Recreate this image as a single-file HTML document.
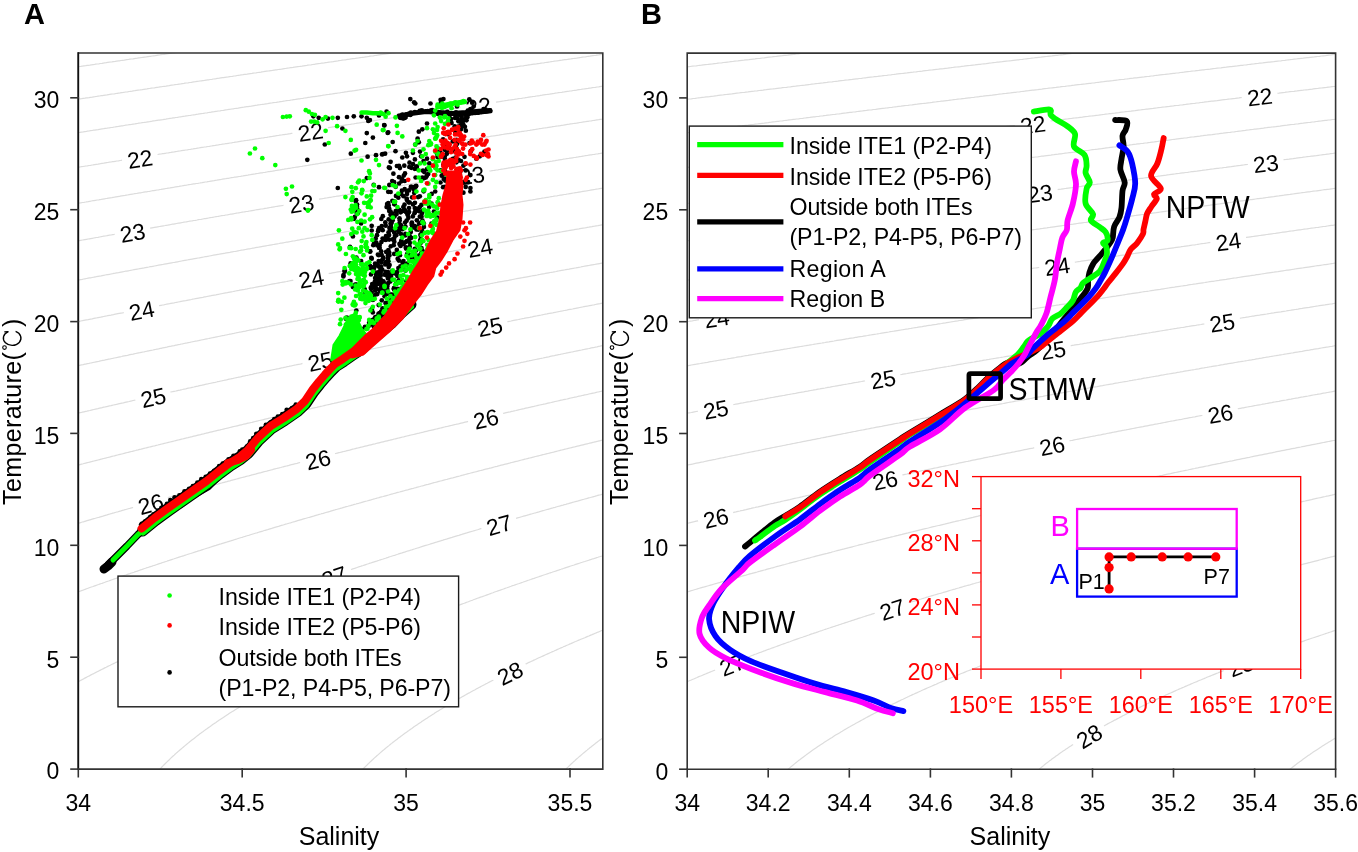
<!DOCTYPE html><html><head><meta charset="utf-8"><style>html,body{margin:0;padding:0;background:#fff}svg{display:block;will-change:transform}text{font-family:"Liberation Sans", sans-serif}</style></head><body>
<svg width="1358" height="852" viewBox="0 0 1358 852">
<rect width="1358" height="852" fill="#fff"/>
<clipPath id="clipA"><rect x="78.3" y="53.0" width="524.5" height="716.1"/></clipPath>
<clipPath id="clipB"><rect x="687.2" y="53.1" width="648.4" height="716.1"/></clipPath>
<g clip-path="url(#clipA)">
<g fill="none" stroke="#dcdcdc" stroke-width="1.2">
<path d="M110.7,30.7 L109.4,30.8 L107.8,31.1 L106.2,31.3 L104.5,31.5 L102.9,31.8 L102.1,31.9 L100.4,32.1 L98.8,32.3 L97.1,32.6 L95.5,32.8 L94.7,32.9 L93.1,33.2 L91.4,33.4 L89.8,33.6 L88.1,33.8 L86.9,34.0 L85.7,34.2 L84.0,34.4 L82.4,34.7 L80.8,34.9 L79.1,35.1 L78.3,35.2 L76.7,35.5 L75.0,35.7 L73.4,35.9 L71.7,36.2 L70.9,36.3 L69.3,36.5 L67.6,36.7 L66.0,37.0 L64.4,37.2 L63.2,37.4 L61.9,37.6 L60.3,37.8 L58.6,38.0 L57.0,38.3 L55.4,38.5 L54.5,38.6 L52.9,38.8 L51.3,39.1 L49.6,39.3 L48.0,39.5 L47.2,39.7 L45.5,39.9"/>
<path d="M330.4,30.7 L329.1,30.8 L327.4,31.1 L325.8,31.3 L324.2,31.5 L322.5,31.8 L321.7,31.9 L320.1,32.1 L318.4,32.3 L316.8,32.6 L315.1,32.8 L314.3,32.9 L312.7,33.1 L311.0,33.4 L309.4,33.6 L307.8,33.8 L306.5,34.0 L305.3,34.2 L303.7,34.4 L302.0,34.7 L300.4,34.9 L298.7,35.1 L297.9,35.2 L296.3,35.5 L294.6,35.7 L293.0,35.9 L291.4,36.2 L290.6,36.3 L288.9,36.5 L287.3,36.7 L285.6,37.0 L284.0,37.2 L282.8,37.4 L281.5,37.5 L279.9,37.8 L278.3,38.0 L276.6,38.2 L275.0,38.5 L274.2,38.6 L272.5,38.8 L270.9,39.1 L269.2,39.3 L267.6,39.5 L266.8,39.6 L265.1,39.9 L263.5,40.1 L261.9,40.3 L260.2,40.6 L259.1,40.7 L257.8,40.9 L256.1,41.2 L254.5,41.4 L252.9,41.6 L251.2,41.8 L250.4,42.0 L248.8,42.2 L247.1,42.4 L245.5,42.7 L243.8,42.9 L243.0,43.0 L241.4,43.2 L239.7,43.5 L238.1,43.7 L236.5,43.9 L235.5,44.1 L234.0,44.3 L232.4,44.5 L230.7,44.8 L229.1,45.0 L227.7,45.2 L226.6,45.4 L225.0,45.6 L223.4,45.8 L221.7,46.1 L220.1,46.3 L219.3,46.4 L217.6,46.6 L216.0,46.9 L214.3,47.1 L212.7,47.3 L211.9,47.5 L210.2,47.7 L208.6,47.9 L207.0,48.2 L205.3,48.4 L204.2,48.6 L202.9,48.7 L201.2,49.0 L199.6,49.2 L197.9,49.5 L196.4,49.7 L195.5,49.8 L193.8,50.0 L192.2,50.3 L190.6,50.5 L188.9,50.7 L188.1,50.9 L186.5,51.1 L184.8,51.3 L183.2,51.6 L181.6,51.8 L180.7,51.9 L179.1,52.2 L177.5,52.4 L175.8,52.6 L174.2,52.9 L173.0,53.0 L171.7,53.2 L170.1,53.4 L168.4,53.7 L166.8,53.9 L165.2,54.2 L164.3,54.3 L162.7,54.5 L161.1,54.7 L159.4,55.0 L157.8,55.2 L157.0,55.3 L155.3,55.6 L153.7,55.8 L152.1,56.0 L150.4,56.3 L149.6,56.4 L148.0,56.6 L146.3,56.9 L144.7,57.1 L143.0,57.3 L141.9,57.5 L140.6,57.7 L138.9,57.9 L137.3,58.2 L135.7,58.4 L134.2,58.6 L133.2,58.8 L131.6,59.0 L129.9,59.2 L128.3,59.5 L126.7,59.7 L125.8,59.8 L124.2,60.1 L122.6,60.3 L120.9,60.5 L119.3,60.8 L118.5,60.9 L116.8,61.1 L115.2,61.4 L113.5,61.6 L111.9,61.9 L111.0,62.0 L109.4,62.2 L107.8,62.4 L106.2,62.7 L104.5,62.9 L103.3,63.1 L102.1,63.3 L100.4,63.5 L98.8,63.8 L97.1,64.0 L95.6,64.2 L94.7,64.4 L93.1,64.6 L91.4,64.8 L89.8,65.1 L88.1,65.3 L87.3,65.4 L85.7,65.7 L84.0,65.9 L82.4,66.1 L80.8,66.4 L79.9,66.5 L78.3,66.7 L76.7,67.0 L75.0,67.2 L73.4,67.5 L72.5,67.6 L70.9,67.8 L69.3,68.1 L67.6,68.3 L66.0,68.5 L64.8,68.7 L63.5,68.9 L61.9,69.1 L60.3,69.4 L58.6,69.6 L57.2,69.8 L56.2,70.0 L54.5,70.2 L52.9,70.4 L51.3,70.7 L49.6,70.9 L48.8,71.0 L47.2,71.3 L45.5,71.5"/>
<path d="M549.9,30.7 L548.7,30.8 L547.1,31.1 L545.4,31.3 L543.8,31.5 L542.1,31.8 L541.3,31.9 L539.7,32.1 L538.0,32.3 L536.4,32.6 L534.8,32.8 L533.9,32.9 L532.3,33.1 L530.7,33.4 L529.0,33.6 L527.4,33.8 L526.0,34.0 L524.9,34.2 L523.3,34.4 L521.6,34.6 L520.0,34.9 L518.4,35.1 L517.6,35.2 L515.9,35.4 L514.3,35.7 L512.6,35.9 L511.0,36.1 L510.2,36.3 L508.5,36.5 L506.9,36.7 L505.3,36.9 L503.6,37.2 L502.3,37.4 L501.2,37.5 L499.5,37.8 L497.9,38.0 L496.2,38.2 L494.6,38.5 L493.8,38.6 L492.1,38.8 L490.5,39.0 L488.9,39.3 L487.2,39.5 L486.4,39.6 L484.8,39.8 L483.1,40.1 L481.5,40.3 L479.9,40.5 L478.5,40.7 L477.4,40.9 L475.8,41.1 L474.1,41.4 L472.5,41.6 L470.8,41.8 L470.0,41.9 L468.4,42.2 L466.7,42.4 L465.1,42.6 L463.5,42.9 L462.6,43.0 L461.0,43.2 L459.4,43.5 L457.7,43.7 L456.1,43.9 L454.9,44.1 L453.6,44.3 L452.0,44.5 L450.4,44.7 L448.7,45.0 L447.1,45.2 L446.3,45.3 L444.6,45.6 L443.0,45.8 L441.3,46.0 L439.7,46.3 L438.9,46.4 L437.2,46.6 L435.6,46.8 L434.0,47.1 L432.3,47.3 L431.3,47.4 L429.9,47.7 L428.2,47.9 L426.6,48.1 L424.9,48.4 L423.5,48.6 L422.5,48.7 L420.9,48.9 L419.2,49.2 L417.6,49.4 L415.9,49.6 L415.1,49.8 L413.5,50.0 L411.8,50.2 L410.2,50.5 L408.6,50.7 L407.7,50.8 L406.1,51.1 L404.5,51.3 L402.8,51.5 L401.2,51.8 L400.1,51.9 L398.7,52.1 L397.1,52.3 L395.4,52.6 L393.8,52.8 L392.3,53.0 L391.3,53.2 L389.7,53.4 L388.1,53.6 L386.4,53.9 L384.8,54.1 L384.0,54.2 L382.3,54.5 L380.7,54.7 L379.1,54.9 L377.4,55.2 L376.6,55.3 L375.0,55.5 L373.3,55.8 L371.7,56.0 L370.0,56.2 L368.9,56.4 L367.6,56.6 L365.9,56.8 L364.3,57.1 L362.7,57.3 L361.1,57.5 L360.2,57.6 L358.6,57.9 L356.9,58.1 L355.3,58.4 L353.7,58.6 L352.8,58.7 L351.2,58.9 L349.6,59.2 L347.9,59.4 L346.3,59.7 L345.5,59.8 L343.8,60.0 L342.2,60.2 L340.5,60.5 L338.9,60.7 L337.9,60.9 L336.4,61.1 L334.8,61.3 L333.2,61.6 L331.5,61.8 L330.2,62.0 L329.1,62.1 L327.4,62.4 L325.8,62.6 L324.2,62.9 L322.5,63.1 L321.7,63.2 L320.1,63.5 L318.4,63.7 L316.8,63.9 L315.1,64.2 L314.3,64.3 L312.7,64.5 L311.0,64.8 L309.4,65.0 L307.8,65.2 L306.9,65.4 L305.3,65.6 L303.7,65.8 L302.0,66.1 L300.4,66.3 L299.3,66.5 L297.9,66.7 L296.3,66.9 L294.6,67.1 L293.0,67.4 L291.6,67.6 L290.6,67.7 L288.9,68.0 L287.3,68.2 L285.6,68.5 L284.0,68.7 L283.2,68.8 L281.5,69.1 L279.9,69.3 L278.3,69.5 L276.6,69.8 L275.8,69.9 L274.2,70.1 L272.5,70.4 L270.9,70.6 L269.2,70.8 L268.4,71.0 L266.8,71.2 L265.1,71.4 L263.5,71.7 L261.9,71.9 L261.0,72.1 L259.4,72.3 L257.8,72.5 L256.1,72.8 L254.5,73.0 L253.3,73.2 L252.0,73.4 L250.4,73.6 L248.8,73.8 L247.1,74.1 L245.7,74.3 L244.7,74.4 L243.0,74.7 L241.4,74.9 L239.7,75.2 L238.1,75.4 L237.3,75.5 L235.6,75.8 L234.0,76.0 L232.4,76.3 L230.7,76.5 L229.9,76.6 L228.3,76.9 L226.6,77.1 L225.0,77.3 L223.4,77.6 L222.5,77.7 L220.9,77.9 L219.3,78.2 L217.6,78.4 L216.0,78.7 L215.2,78.8 L213.5,79.0 L211.9,79.3 L210.2,79.5 L208.6,79.8 L207.7,79.9 L206.1,80.1 L204.5,80.4 L202.9,80.6 L201.2,80.8 L200.1,81.0 L198.8,81.2 L197.1,81.4 L195.5,81.7 L193.8,81.9 L192.5,82.1 L191.4,82.3 L189.8,82.5 L188.1,82.8 L186.5,83.0 L184.9,83.2 L184.0,83.4 L182.4,83.6 L180.7,83.9 L179.1,84.1 L177.5,84.4 L176.6,84.5 L175.0,84.7 L173.4,85.0 L171.7,85.2 L170.1,85.4 L169.3,85.6 L167.6,85.8 L166.0,86.1 L164.3,86.3 L162.7,86.5 L161.9,86.7 L160.2,86.9 L158.6,87.2 L157.0,87.4 L155.3,87.6 L154.5,87.8 L152.9,88.0 L151.2,88.2 L149.6,88.5 L148.0,88.7 L147.1,88.9 L145.5,89.1 L143.9,89.3 L142.2,89.6 L140.6,89.8 L139.8,90.0 L138.1,90.2 L136.5,90.4 L134.8,90.7 L133.2,90.9 L132.2,91.1 L130.7,91.3 L129.1,91.5 L127.5,91.8 L125.8,92.0 L124.8,92.2 L123.4,92.4 L121.7,92.6 L120.1,92.9 L118.5,93.1 L117.3,93.3 L116.0,93.5 L114.4,93.8 L112.7,94.0 L111.1,94.2 L109.8,94.4 L108.6,94.6 L107.0,94.9 L105.3,95.1 L103.7,95.3 L102.3,95.6 L101.2,95.7 L99.6,96.0 L98.0,96.2 L96.3,96.5 L94.9,96.7 L93.9,96.8 L92.2,97.1 L90.6,97.3 L89.0,97.6 L87.4,97.8 L86.5,97.9 L84.9,98.2 L83.2,98.4 L81.6,98.7 L80.0,98.9 L79.1,99.0 L77.5,99.3 L75.8,99.5 L74.2,99.8 L72.6,100.0 L71.7,100.2 L70.1,100.4 L68.5,100.6 L66.8,100.9 L65.2,101.1 L64.4,101.3 L62.7,101.5 L61.1,101.8 L59.5,102.0 L57.8,102.3 L57.0,102.4 L55.4,102.6 L53.7,102.9 L52.1,103.1 L50.4,103.4 L49.6,103.5 L48.0,103.7 L46.3,104.0"/>
<path d="M635.6,49.6 L634.7,49.7 L633.1,49.9 L631.5,50.2 L629.8,50.4 L628.2,50.6 L627.1,50.8 L625.7,51.0 L624.1,51.2 L622.4,51.5 L620.8,51.7 L619.3,51.9 L618.4,52.1 L616.7,52.3 L615.1,52.5 L613.4,52.8 L611.8,53.0 L611.0,53.1 L609.3,53.3 L607.7,53.6 L606.1,53.8 L604.4,54.0 L603.6,54.2 L602.0,54.4 L600.3,54.6 L598.7,54.9 L597.0,55.1 L595.9,55.3 L594.6,55.5 L592.9,55.7 L591.3,55.9 L589.7,56.2 L588.1,56.4 L587.2,56.5 L585.6,56.8 L583.9,57.0 L582.3,57.2 L580.7,57.5 L579.8,57.6 L578.2,57.8 L576.6,58.1 L574.9,58.3 L573.3,58.5 L572.5,58.6 L570.8,58.9 L569.2,59.1 L567.5,59.4 L565.9,59.6 L564.8,59.7 L563.4,59.9 L561.8,60.2 L560.2,60.4 L558.5,60.7 L557.0,60.9 L556.1,61.0 L554.4,61.2 L552.8,61.5 L551.2,61.7 L549.5,62.0 L548.7,62.1 L547.1,62.3 L545.4,62.5 L543.8,62.8 L542.1,63.0 L541.3,63.1 L539.7,63.4 L538.0,63.6 L536.4,63.9 L534.8,64.1 L533.8,64.2 L532.3,64.4 L530.7,64.7 L529.0,64.9 L527.4,65.2 L526.1,65.3 L524.9,65.5 L523.3,65.8 L521.6,66.0 L520.0,66.2 L518.4,66.5 L517.6,66.6 L515.9,66.8 L514.3,67.1 L512.6,67.3 L511.0,67.5 L510.2,67.7 L508.5,67.9 L506.9,68.1 L505.3,68.4 L503.6,68.6 L502.8,68.7 L501.2,69.0 L499.5,69.2 L497.9,69.4 L496.2,69.7 L495.3,69.8 L493.8,70.0 L492.1,70.3 L490.5,70.5 L488.9,70.8 L487.7,70.9 L486.4,71.1 L484.8,71.4 L483.1,71.6 L481.5,71.8 L480.0,72.1 L479.0,72.2 L477.4,72.4 L475.8,72.7 L474.1,72.9 L472.5,73.2 L471.7,73.3 L470.0,73.5 L468.4,73.8 L466.7,74.0 L465.1,74.2 L464.3,74.4 L462.6,74.6 L461.0,74.8 L459.4,75.1 L457.7,75.3 L456.9,75.4 L455.3,75.7 L453.6,75.9 L452.0,76.2 L450.4,76.4 L449.4,76.5 L447.9,76.8 L446.3,77.0 L444.6,77.2 L443.0,77.5 L441.8,77.7 L440.5,77.8 L438.9,78.1 L437.2,78.3 L435.6,78.6 L434.2,78.8 L433.1,78.9 L431.5,79.2 L429.9,79.4 L428.2,79.6 L426.6,79.9 L425.8,80.0 L424.1,80.2 L422.5,80.5 L420.9,80.7 L419.2,81.0 L418.4,81.1 L416.8,81.3 L415.1,81.6 L413.5,81.8 L411.8,82.1 L411.0,82.2 L409.4,82.4 L407.7,82.7 L406.1,82.9 L404.5,83.2 L403.6,83.3 L402.0,83.5 L400.4,83.8 L398.7,84.0 L397.1,84.2 L396.3,84.4 L394.6,84.6 L393.0,84.8 L391.3,85.1 L389.7,85.3 L388.7,85.5 L387.3,85.7 L385.6,85.9 L384.0,86.2 L382.3,86.4 L381.1,86.6 L379.9,86.8 L378.2,87.0 L376.6,87.3 L375.0,87.5 L373.6,87.7 L372.5,87.9 L370.9,88.1 L369.2,88.4 L367.6,88.6 L366.1,88.8 L365.1,89.0 L363.5,89.2 L361.8,89.5 L360.2,89.7 L358.6,90.0 L357.7,90.1 L356.1,90.3 L354.5,90.6 L352.8,90.8 L351.2,91.1 L350.4,91.2 L348.7,91.4 L347.1,91.7 L345.5,91.9 L343.8,92.2 L343.0,92.3 L341.4,92.5 L339.7,92.8 L338.1,93.0 L336.4,93.3 L335.6,93.4 L334.0,93.6 L332.3,93.9 L330.7,94.1 L329.1,94.4 L328.2,94.5 L326.6,94.7 L325.0,95.0 L323.3,95.2 L321.7,95.5 L320.9,95.6 L319.2,95.8 L317.6,96.1 L316.0,96.3 L314.3,96.6 L313.5,96.7 L311.9,96.9 L310.2,97.2 L308.6,97.4 L306.9,97.7 L306.1,97.8 L304.5,98.0 L302.8,98.3 L301.2,98.5 L299.6,98.8 L298.7,98.9 L297.1,99.1 L295.5,99.4 L293.8,99.6 L292.2,99.9 L291.2,100.0 L289.7,100.3 L288.1,100.5 L286.5,100.7 L284.8,101.0 L283.8,101.1 L282.4,101.4 L280.7,101.6 L279.1,101.9 L277.4,102.1 L276.4,102.3 L275.0,102.5 L273.3,102.7 L271.7,103.0 L270.1,103.2 L268.9,103.4 L267.6,103.6 L266.0,103.8 L264.3,104.1 L262.7,104.3 L261.5,104.5 L260.2,104.7 L258.6,104.9 L257.0,105.2 L255.3,105.4 L254.1,105.6 L252.9,105.8 L251.2,106.1 L249.6,106.3 L247.9,106.6 L246.8,106.7 L245.5,106.9 L243.8,107.2 L242.2,107.4 L240.6,107.7 L239.4,107.9 L238.1,108.1 L236.5,108.3 L234.8,108.5 L233.2,108.8 L232.0,109.0 L230.7,109.2 L229.1,109.4 L227.4,109.7 L225.8,109.9 L224.6,110.1 L223.4,110.3 L221.7,110.5 L220.1,110.8 L218.4,111.0 L217.3,111.2 L216.0,111.4 L214.3,111.7 L212.7,111.9 L211.1,112.2 L209.9,112.3 L208.6,112.5 L207.0,112.8 L205.3,113.0 L203.7,113.3 L202.6,113.5 L201.2,113.7 L199.6,113.9 L197.9,114.2 L196.3,114.4 L195.3,114.6 L193.8,114.8 L192.2,115.0 L190.6,115.3 L188.9,115.5 L188.0,115.7 L186.5,115.9 L184.8,116.2 L183.2,116.4 L181.6,116.7 L180.6,116.8 L179.1,117.0 L177.5,117.3 L175.8,117.5 L174.2,117.8 L173.3,117.9 L171.7,118.2 L170.1,118.4 L168.4,118.7 L166.8,118.9 L166.0,119.1 L164.3,119.3 L162.7,119.6 L161.1,119.8 L159.4,120.1 L158.6,120.2 L157.0,120.4 L155.3,120.7 L153.7,120.9 L152.1,121.2 L151.2,121.3 L149.6,121.6 L148.0,121.8 L146.3,122.1 L144.7,122.3 L143.9,122.5 L142.2,122.7 L140.6,123.0 L138.9,123.2 L137.3,123.5 L136.5,123.6 L134.8,123.9 L133.2,124.1 L131.6,124.4 L129.9,124.6 L129.1,124.7 L127.5,125.0 L125.8,125.2 L124.2,125.5 L122.6,125.8 L121.7,125.9 L120.1,126.1 L118.5,126.4 L116.8,126.6 L115.3,126.9 L114.4,127.0 L112.7,127.3 L111.1,127.5 L109.4,127.8 L108.1,128.0 L107.0,128.2 L105.3,128.4 L103.7,128.7 L102.1,128.9 L100.8,129.1 L99.6,129.3 L98.0,129.6 L96.3,129.8 L94.7,130.1 L93.6,130.2 L92.2,130.5 L90.6,130.7 L89.0,131.0 L87.3,131.2 L86.5,131.4 L84.9,131.6 L83.2,131.9 L81.6,132.1 L79.9,132.4 L79.1,132.5 L77.5,132.8 L75.8,133.0 L74.2,133.3 L72.6,133.5 L71.7,133.6 L70.1,133.9 L68.5,134.2 L66.8,134.4 L65.2,134.7 L64.4,134.8 L62.7,135.1 L61.1,135.3 L59.5,135.6 L57.8,135.8 L57.0,136.0 L55.4,136.2 L53.7,136.5 L52.1,136.7 L50.6,136.9 L49.6,137.1 L48.0,137.4 L46.3,137.6"/>
<path d="M635.6,81.3 L633.9,81.6 L632.3,81.8 L630.6,82.1 L629.8,82.2 L628.2,82.4 L626.5,82.7 L624.9,82.9 L623.3,83.1 L622.4,83.3 L620.8,83.5 L619.2,83.8 L617.5,84.0 L615.9,84.2 L615.0,84.4 L613.4,84.6 L611.8,84.8 L610.2,85.1 L608.5,85.3 L607.4,85.5 L606.1,85.7 L604.4,85.9 L602.8,86.2 L601.1,86.4 L599.9,86.6 L598.7,86.8 L597.0,87.0 L595.4,87.3 L593.8,87.5 L592.3,87.7 L591.3,87.9 L589.7,88.1 L588.0,88.4 L586.4,88.6 L584.8,88.8 L583.9,89.0 L582.3,89.2 L580.7,89.5 L579.0,89.7 L577.4,89.9 L576.6,90.1 L574.9,90.3 L573.3,90.5 L571.6,90.8 L570.0,91.0 L569.2,91.2 L567.5,91.4 L565.9,91.6 L564.3,91.9 L562.6,92.1 L561.8,92.3 L560.2,92.5 L558.5,92.7 L556.9,93.0 L555.2,93.2 L554.4,93.4 L552.8,93.6 L551.2,93.8 L549.5,94.1 L547.9,94.3 L547.1,94.5 L545.4,94.7 L543.8,94.9 L542.1,95.2 L540.5,95.4 L539.7,95.6 L538.0,95.8 L536.4,96.0 L534.8,96.3 L533.1,96.5 L532.2,96.7 L530.7,96.9 L529.0,97.1 L527.4,97.4 L525.7,97.6 L524.7,97.8 L523.3,98.0 L521.6,98.3 L520.0,98.5 L518.4,98.7 L517.3,98.9 L515.9,99.1 L514.3,99.4 L512.6,99.6 L511.0,99.8 L509.8,100.0 L508.5,100.2 L506.9,100.5 L505.3,100.7 L503.6,101.0 L502.4,101.1 L501.2,101.3 L499.5,101.6 L497.9,101.8 L496.2,102.1 L494.9,102.3 L493.8,102.4 L492.1,102.7 L490.5,102.9 L488.9,103.2 L487.5,103.4 L486.4,103.5 L484.8,103.8 L483.1,104.0 L481.5,104.3 L480.1,104.5 L479.0,104.7 L477.4,104.9 L475.8,105.2 L474.1,105.4 L472.7,105.6 L471.7,105.8 L470.0,106.0 L468.4,106.3 L466.7,106.5 L465.3,106.7 L464.3,106.9 L462.6,107.1 L461.0,107.4 L459.4,107.6 L457.9,107.9 L456.9,108.0 L455.3,108.3 L453.6,108.5 L452.0,108.7 L450.5,109.0 L449.5,109.1 L447.9,109.4 L446.3,109.6 L444.6,109.9 L443.1,110.1 L442.2,110.2 L440.5,110.5 L438.9,110.7 L437.2,111.0 L435.7,111.2 L434.8,111.4 L433.1,111.6 L431.5,111.9 L429.9,112.1 L428.4,112.3 L427.4,112.5 L425.8,112.7 L424.1,113.0 L422.5,113.2 L421.0,113.5 L420.0,113.6 L418.4,113.9 L416.8,114.1 L415.1,114.4 L413.7,114.6 L412.7,114.7 L411.0,115.0 L409.4,115.2 L407.7,115.5 L406.3,115.7 L405.3,115.9 L403.6,116.1 L402.0,116.4 L400.4,116.6 L399.0,116.8 L397.9,117.0 L396.3,117.2 L394.6,117.5 L393.0,117.7 L391.7,117.9 L390.5,118.1 L388.9,118.4 L387.3,118.6 L385.6,118.9 L384.4,119.0 L383.2,119.2 L381.5,119.5 L379.9,119.7 L378.2,120.0 L377.1,120.2 L375.8,120.4 L374.1,120.6 L372.5,120.9 L370.9,121.1 L369.8,121.3 L368.4,121.5 L366.8,121.8 L365.1,122.0 L363.5,122.3 L362.5,122.4 L361.0,122.6 L359.4,122.9 L357.7,123.1 L356.1,123.4 L355.3,123.5 L353.7,123.8 L352.0,124.0 L350.4,124.3 L348.7,124.5 L347.9,124.7 L346.3,124.9 L344.6,125.2 L343.0,125.4 L341.4,125.7 L340.5,125.8 L338.9,126.0 L337.3,126.3 L335.6,126.6 L334.0,126.8 L333.2,126.9 L331.5,127.2 L329.9,127.4 L328.2,127.7 L326.6,127.9 L325.8,128.1 L324.2,128.3 L322.5,128.6 L320.9,128.8 L319.2,129.1 L318.4,129.2 L316.8,129.5 L315.1,129.7 L313.5,130.0 L311.9,130.2 L311.0,130.4 L309.4,130.6 L307.8,130.9 L306.1,131.1 L304.6,131.4 L303.7,131.5 L302.0,131.8 L300.4,132.0 L298.7,132.3 L297.5,132.5 L296.3,132.7 L294.6,132.9 L293.0,133.2 L291.4,133.4 L290.3,133.6 L288.9,133.8 L287.3,134.1 L285.6,134.3 L284.0,134.6 L283.1,134.7 L281.5,135.0 L279.9,135.2 L278.3,135.5 L276.6,135.7 L275.8,135.8 L274.2,136.1 L272.5,136.4 L270.9,136.6 L269.2,136.9 L268.4,137.0 L266.8,137.3 L265.1,137.5 L263.5,137.8 L261.9,138.0 L261.0,138.2 L259.4,138.4 L257.8,138.7 L256.1,138.9 L254.5,139.2 L253.7,139.3 L252.0,139.6 L250.4,139.8 L248.8,140.1 L247.3,140.3 L246.3,140.5 L244.7,140.7 L243.0,141.0 L241.4,141.2 L240.2,141.4 L238.9,141.6 L237.3,141.9 L235.6,142.1 L234.0,142.4 L233.1,142.5 L231.5,142.8 L229.9,143.0 L228.3,143.3 L226.6,143.6 L225.8,143.7 L224.2,144.0 L222.5,144.2 L220.9,144.5 L219.3,144.7 L218.4,144.9 L216.8,145.1 L215.2,145.4 L213.5,145.6 L211.9,145.9 L211.1,146.0 L209.4,146.3 L207.8,146.5 L206.1,146.8 L204.7,147.0 L203.7,147.2 L202.0,147.4 L200.4,147.7 L198.8,148.0 L197.7,148.1 L196.3,148.4 L194.7,148.6 L193.0,148.9 L191.4,149.1 L190.6,149.3 L188.9,149.5 L187.3,149.8 L185.7,150.0 L184.0,150.3 L183.2,150.4 L181.6,150.7 L179.9,151.0 L178.3,151.2 L176.6,151.5 L175.8,151.6 L174.2,151.9 L172.5,152.1 L170.9,152.4 L169.5,152.6 L168.4,152.8 L166.8,153.0 L165.2,153.3 L163.5,153.6 L162.5,153.7 L161.1,154.0 L159.4,154.2 L157.8,154.5 L156.2,154.7 L155.3,154.9 L153.7,155.1 L152.1,155.4 L150.4,155.7 L148.8,155.9 L148.0,156.0 L146.3,156.3 L144.7,156.6 L143.0,156.8 L141.5,157.1 L140.6,157.2 L138.9,157.5 L137.3,157.8 L135.7,158.0 L134.5,158.2 L133.2,158.4 L131.6,158.7 L129.9,158.9 L128.3,159.2 L127.5,159.3 L125.8,159.6 L124.2,159.9 L122.6,160.1 L120.9,160.4 L120.1,160.5 L118.5,160.8 L116.8,161.0 L115.2,161.3 L113.6,161.6 L112.7,161.7 L111.1,162.0 L109.4,162.2 L107.8,162.5 L106.6,162.7 L105.3,162.9 L103.7,163.2 L102.1,163.4 L100.4,163.7 L99.6,163.8 L98.0,164.1 L96.3,164.3 L94.7,164.6 L93.1,164.9 L92.2,165.0 L90.6,165.3 L89.0,165.5 L87.3,165.8 L85.8,166.0 L84.9,166.2 L83.2,166.5 L81.6,166.7 L79.9,167.0 L78.9,167.2 L77.5,167.4 L75.8,167.7 L74.2,167.9 L72.6,168.2 L71.7,168.3 L70.1,168.6 L68.5,168.9 L66.8,169.1 L65.2,169.4 L64.4,169.5 L62.7,169.8 L61.1,170.1 L59.5,170.3 L58.2,170.5 L57.0,170.7 L55.4,171.0 L53.7,171.3 L52.1,171.5 L51.3,171.7 L49.6,171.9 L48.0,172.2 L46.3,172.5"/>
<path d="M635.6,114.0 L633.9,114.3 L632.3,114.5 L631.5,114.7 L629.8,114.9 L628.2,115.2 L626.5,115.4 L624.9,115.7 L624.1,115.8 L622.4,116.0 L620.8,116.3 L619.2,116.5 L617.5,116.8 L616.7,116.9 L615.1,117.2 L613.4,117.4 L611.8,117.7 L610.2,117.9 L609.3,118.0 L607.7,118.3 L606.1,118.5 L604.4,118.8 L602.8,119.0 L602.0,119.2 L600.3,119.4 L598.7,119.7 L597.0,119.9 L595.4,120.2 L594.6,120.3 L592.9,120.5 L591.3,120.8 L589.7,121.0 L588.1,121.3 L587.2,121.4 L585.6,121.7 L583.9,121.9 L582.3,122.2 L580.8,122.4 L579.8,122.5 L578.2,122.8 L576.6,123.1 L574.9,123.3 L573.5,123.5 L572.5,123.7 L570.8,123.9 L569.2,124.2 L567.5,124.4 L566.2,124.6 L565.1,124.8 L563.4,125.1 L561.8,125.3 L560.2,125.6 L558.9,125.8 L557.7,126.0 L556.1,126.2 L554.4,126.5 L552.8,126.7 L551.7,126.9 L550.3,127.1 L548.7,127.3 L547.1,127.6 L545.4,127.8 L544.4,128.0 L543.0,128.2 L541.3,128.5 L539.7,128.7 L538.0,129.0 L537.2,129.1 L535.6,129.4 L533.9,129.6 L532.3,129.9 L530.7,130.1 L529.8,130.3 L528.2,130.5 L526.6,130.8 L524.9,131.0 L523.3,131.3 L522.5,131.4 L520.8,131.7 L519.2,131.9 L517.6,132.2 L515.9,132.4 L515.1,132.5 L513.5,132.8 L511.8,133.1 L510.2,133.3 L508.5,133.6 L507.7,133.7 L506.1,133.9 L504.4,134.2 L502.8,134.5 L501.2,134.7 L500.3,134.8 L498.7,135.1 L497.1,135.3 L495.4,135.6 L494.0,135.8 L493.0,136.0 L491.3,136.2 L489.7,136.5 L488.1,136.8 L486.8,136.9 L485.6,137.1 L484.0,137.4 L482.3,137.7 L480.7,137.9 L479.6,138.1 L478.2,138.3 L476.6,138.5 L474.9,138.8 L473.3,139.1 L472.5,139.2 L470.8,139.4 L469.2,139.7 L467.6,140.0 L465.9,140.2 L465.1,140.3 L463.5,140.6 L461.8,140.9 L460.2,141.1 L458.5,141.4 L457.7,141.5 L456.1,141.8 L454.5,142.0 L452.8,142.3 L451.2,142.5 L450.4,142.7 L448.7,142.9 L447.1,143.2 L445.4,143.4 L443.9,143.7 L443.0,143.8 L441.3,144.1 L439.7,144.3 L438.1,144.6 L436.8,144.8 L435.6,145.0 L434.0,145.2 L432.3,145.5 L430.7,145.8 L429.7,145.9 L428.2,146.1 L426.6,146.4 L424.9,146.7 L423.3,146.9 L422.5,147.0 L420.9,147.3 L419.2,147.6 L417.6,147.8 L415.9,148.1 L415.1,148.2 L413.5,148.5 L411.8,148.7 L410.2,149.0 L408.6,149.2 L407.7,149.4 L406.1,149.6 L404.5,149.9 L402.8,150.2 L401.4,150.4 L400.4,150.5 L398.7,150.8 L397.1,151.1 L395.4,151.3 L394.4,151.5 L393.0,151.7 L391.3,152.0 L389.7,152.2 L388.1,152.5 L387.3,152.6 L385.6,152.9 L384.0,153.1 L382.3,153.4 L380.7,153.7 L379.9,153.8 L378.2,154.1 L376.6,154.3 L375.0,154.6 L373.3,154.8 L372.5,155.0 L370.9,155.2 L369.2,155.5 L367.6,155.8 L366.2,156.0 L365.1,156.1 L363.5,156.4 L361.8,156.7 L360.2,156.9 L359.2,157.1 L357.7,157.3 L356.1,157.6 L354.5,157.8 L352.8,158.1 L352.0,158.2 L350.4,158.5 L348.7,158.8 L347.1,159.0 L345.5,159.3 L344.6,159.4 L343.0,159.7 L341.4,159.9 L339.7,160.2 L338.3,160.4 L337.3,160.6 L335.6,160.9 L334.0,161.1 L332.3,161.4 L331.3,161.6 L329.9,161.8 L328.2,162.1 L326.6,162.3 L325.0,162.6 L324.2,162.7 L322.5,163.0 L320.9,163.2 L319.2,163.5 L317.6,163.8 L316.8,163.9 L315.1,164.2 L313.5,164.4 L311.9,164.7 L310.4,164.9 L309.4,165.1 L307.8,165.4 L306.1,165.6 L304.5,165.9 L303.5,166.0 L302.0,166.3 L300.4,166.5 L298.7,166.8 L297.1,167.1 L296.3,167.2 L294.6,167.5 L293.0,167.7 L291.4,168.0 L289.7,168.3 L288.9,168.4 L287.3,168.7 L285.6,168.9 L284.0,169.2 L282.7,169.4 L281.5,169.6 L279.9,169.9 L278.3,170.1 L276.6,170.4 L275.8,170.5 L274.2,170.8 L272.5,171.1 L270.9,171.3 L269.2,171.6 L268.4,171.7 L266.8,172.0 L265.1,172.3 L263.5,172.5 L262.1,172.8 L261.0,172.9 L259.4,173.2 L257.8,173.5 L256.1,173.7 L255.2,173.9 L253.7,174.1 L252.0,174.4 L250.4,174.7 L248.8,174.9 L247.9,175.1 L246.3,175.3 L244.7,175.6 L243.0,175.9 L241.5,176.1 L240.6,176.3 L238.9,176.5 L237.3,176.8 L235.6,177.1 L234.6,177.2 L233.2,177.5 L231.5,177.7 L229.9,178.0 L228.3,178.3 L227.4,178.4 L225.8,178.7 L224.2,178.9 L222.5,179.2 L221.0,179.5 L220.1,179.6 L218.4,179.9 L216.8,180.2 L215.2,180.4 L214.2,180.6 L212.7,180.8 L211.1,181.1 L209.4,181.4 L207.8,181.6 L207.0,181.8 L205.3,182.0 L203.7,182.3 L202.0,182.6 L200.6,182.8 L199.6,183.0 L197.9,183.3 L196.3,183.5 L194.7,183.8 L193.8,183.9 L192.2,184.2 L190.6,184.5 L188.9,184.7 L187.3,185.0 L186.5,185.2 L184.8,185.4 L183.2,185.7 L181.6,186.0 L180.2,186.2 L179.1,186.4 L177.5,186.6 L175.8,186.9 L174.2,187.2 L173.4,187.3 L171.7,187.6 L170.1,187.9 L168.4,188.1 L166.8,188.4 L166.0,188.5 L164.3,188.8 L162.7,189.1 L161.1,189.4 L160.0,189.5 L158.6,189.8 L157.0,190.0 L155.3,190.3 L153.7,190.6 L152.9,190.7 L151.2,191.0 L149.6,191.3 L148.0,191.5 L146.6,191.8 L145.5,191.9 L143.9,192.2 L142.2,192.5 L140.6,192.8 L139.8,192.9 L138.1,193.2 L136.5,193.5 L134.8,193.7 L133.2,194.0 L132.4,194.1 L130.7,194.4 L129.1,194.7 L127.5,195.0 L126.5,195.1 L125.0,195.4 L123.4,195.6 L121.7,195.9 L120.1,196.2 L119.3,196.3 L117.6,196.6 L116.0,196.9 L114.4,197.2 L113.1,197.4 L111.9,197.6 L110.3,197.8 L108.6,198.1 L107.0,198.4 L106.2,198.5 L104.5,198.8 L102.9,199.1 L101.2,199.4 L99.8,199.6 L98.8,199.8 L97.1,200.0 L95.5,200.3 L93.9,200.6 L93.1,200.7 L91.4,201.0 L89.8,201.3 L88.1,201.6 L86.5,201.8 L85.7,202.0 L84.0,202.3 L82.4,202.5 L80.8,202.8 L79.9,203.0 L78.3,203.2 L76.7,203.5 L75.0,203.8 L73.4,204.1 L72.6,204.2 L70.9,204.5 L69.3,204.8 L67.6,205.0 L66.7,205.2 L65.2,205.4 L63.5,205.7 L61.9,206.0 L60.3,206.3 L59.5,206.4 L57.8,206.7 L56.2,207.0 L54.5,207.3 L53.5,207.4 L52.1,207.7 L50.4,208.0 L48.8,208.2 L47.2,208.5 L46.3,208.7"/>
<path d="M635.6,147.8 L633.9,148.1 L633.1,148.2 L631.5,148.4 L629.8,148.7 L628.2,149.0 L626.5,149.2 L625.7,149.3 L624.1,149.6 L622.4,149.9 L620.8,150.1 L619.2,150.4 L618.4,150.5 L616.7,150.8 L615.1,151.0 L613.4,151.3 L612.1,151.5 L611.0,151.7 L609.3,151.9 L607.7,152.2 L606.1,152.5 L605.1,152.6 L603.6,152.8 L602.0,153.1 L600.3,153.4 L598.7,153.6 L597.9,153.8 L596.2,154.0 L594.6,154.3 L592.9,154.5 L591.3,154.8 L590.5,154.9 L588.8,155.2 L587.2,155.5 L585.6,155.7 L583.9,156.0 L583.1,156.1 L581.5,156.4 L579.8,156.6 L578.2,156.9 L576.9,157.1 L575.7,157.3 L574.1,157.5 L572.5,157.8 L570.8,158.1 L569.9,158.2 L568.4,158.5 L566.7,158.7 L565.1,159.0 L563.4,159.2 L562.6,159.4 L561.0,159.6 L559.3,159.9 L557.7,160.2 L556.1,160.4 L555.2,160.6 L553.6,160.8 L552.0,161.1 L550.3,161.3 L548.9,161.6 L547.9,161.7 L546.2,162.0 L544.6,162.3 L543.0,162.5 L541.9,162.7 L540.5,162.9 L538.9,163.2 L537.2,163.4 L535.6,163.7 L534.8,163.8 L533.1,164.1 L531.5,164.4 L529.8,164.6 L528.2,164.9 L527.4,165.0 L525.7,165.3 L524.1,165.5 L522.5,165.8 L521.1,166.0 L520.0,166.2 L518.4,166.5 L516.7,166.7 L515.1,167.0 L514.1,167.2 L512.6,167.4 L511.0,167.7 L509.4,167.9 L507.7,168.2 L506.9,168.3 L505.3,168.6 L503.6,168.9 L502.0,169.1 L500.3,169.4 L499.5,169.5 L497.9,169.8 L496.2,170.0 L494.6,170.3 L493.4,170.5 L492.1,170.7 L490.5,171.0 L488.9,171.2 L487.2,171.5 L486.4,171.6 L484.8,171.9 L483.1,172.2 L481.5,172.4 L479.9,172.7 L479.0,172.8 L477.4,173.1 L475.8,173.4 L474.1,173.6 L472.7,173.9 L471.7,174.0 L470.0,174.3 L468.4,174.6 L466.7,174.8 L465.8,175.0 L464.3,175.2 L462.6,175.5 L461.0,175.8 L459.4,176.0 L458.5,176.2 L456.9,176.4 L455.3,176.7 L453.6,177.0 L452.1,177.2 L451.2,177.4 L449.5,177.6 L447.9,177.9 L446.3,178.2 L445.2,178.3 L443.8,178.6 L442.2,178.8 L440.5,179.1 L438.9,179.4 L438.1,179.5 L436.4,179.8 L434.8,180.1 L433.1,180.3 L431.6,180.6 L430.7,180.7 L429.0,181.0 L427.4,181.3 L425.8,181.5 L424.7,181.7 L423.3,181.9 L421.7,182.2 L420.0,182.5 L418.4,182.7 L417.6,182.9 L415.9,183.1 L414.3,183.4 L412.7,183.7 L411.1,183.9 L410.2,184.1 L408.6,184.4 L406.9,184.6 L405.3,184.9 L404.3,185.1 L402.8,185.3 L401.2,185.6 L399.5,185.8 L397.9,186.1 L397.1,186.3 L395.4,186.5 L393.8,186.8 L392.2,187.1 L390.8,187.3 L389.7,187.5 L388.1,187.7 L386.4,188.0 L384.8,188.3 L384.0,188.4 L382.3,188.7 L380.7,189.0 L379.1,189.2 L377.4,189.5 L376.6,189.6 L375.0,189.9 L373.3,190.2 L371.7,190.5 L370.5,190.7 L369.2,190.9 L367.6,191.1 L365.9,191.4 L364.3,191.7 L363.5,191.8 L361.8,192.1 L360.2,192.4 L358.6,192.6 L357.0,192.9 L356.1,193.0 L354.5,193.3 L352.8,193.6 L351.2,193.9 L350.3,194.0 L348.7,194.3 L347.1,194.6 L345.5,194.8 L343.8,195.1 L343.0,195.2 L341.4,195.5 L339.7,195.8 L338.1,196.1 L336.9,196.2 L335.6,196.5 L334.0,196.7 L332.3,197.0 L330.7,197.3 L329.9,197.4 L328.2,197.7 L326.6,198.0 L325.0,198.2 L323.6,198.5 L322.5,198.7 L320.9,198.9 L319.2,199.2 L317.6,199.5 L316.8,199.6 L315.1,199.9 L313.5,200.2 L311.9,200.5 L310.2,200.7 L309.4,200.9 L307.8,201.1 L306.1,201.4 L304.5,201.7 L303.6,201.8 L302.0,202.1 L300.4,202.4 L298.7,202.7 L297.1,202.9 L296.3,203.1 L294.6,203.3 L293.0,203.6 L291.4,203.9 L290.3,204.1 L288.9,204.3 L287.3,204.6 L285.6,204.9 L284.0,205.1 L283.2,205.3 L281.5,205.6 L279.9,205.8 L278.3,206.1 L277.1,206.3 L275.8,206.5 L274.2,206.8 L272.5,207.1 L270.9,207.4 L270.1,207.5 L268.4,207.8 L266.8,208.1 L265.1,208.3 L263.9,208.6 L262.7,208.8 L261.0,209.0 L259.4,209.3 L257.8,209.6 L257.0,209.7 L255.3,210.0 L253.7,210.3 L252.0,210.6 L250.7,210.8 L249.6,211.0 L247.9,211.3 L246.3,211.5 L244.7,211.8 L243.8,212.0 L242.2,212.2 L240.6,212.5 L238.9,212.8 L237.6,213.0 L236.5,213.2 L234.8,213.5 L233.2,213.8 L231.5,214.1 L230.7,214.2 L229.1,214.5 L227.4,214.8 L225.8,215.0 L224.5,215.3 L223.4,215.5 L221.7,215.7 L220.1,216.0 L218.4,216.3 L217.6,216.5 L216.0,216.7 L214.3,217.0 L212.7,217.3 L211.5,217.5 L210.2,217.7 L208.6,218.0 L207.0,218.3 L205.3,218.6 L204.5,218.7 L202.9,219.0 L201.2,219.3 L199.6,219.5 L198.5,219.7 L197.1,220.0 L195.5,220.3 L193.8,220.5 L192.2,220.8 L191.4,221.0 L189.8,221.2 L188.1,221.5 L186.5,221.8 L185.5,222.0 L184.0,222.2 L182.4,222.5 L180.7,222.8 L179.1,223.1 L178.3,223.2 L176.6,223.5 L175.0,223.8 L173.4,224.1 L172.5,224.2 L170.9,224.5 L169.3,224.8 L167.6,225.1 L166.1,225.3 L165.2,225.5 L163.5,225.8 L161.9,226.1 L160.2,226.4 L159.4,226.5 L157.8,226.8 L156.2,227.1 L154.5,227.4 L153.2,227.6 L152.1,227.8 L150.4,228.1 L148.8,228.4 L147.1,228.6 L146.3,228.8 L144.7,229.1 L143.0,229.4 L141.4,229.6 L140.4,229.8 L138.9,230.1 L137.3,230.4 L135.7,230.6 L134.0,230.9 L133.2,231.1 L131.6,231.4 L129.9,231.6 L128.3,231.9 L127.5,232.1 L125.8,232.4 L124.2,232.6 L122.6,232.9 L121.2,233.2 L120.1,233.4 L118.5,233.7 L116.8,233.9 L115.2,234.2 L114.4,234.4 L112.7,234.7 L111.1,235.0 L109.4,235.2 L108.5,235.4 L107.0,235.7 L105.3,236.0 L103.7,236.2 L102.1,236.5 L101.2,236.7 L99.6,237.0 L98.0,237.3 L96.3,237.5 L95.5,237.7 L93.9,238.0 L92.2,238.3 L90.6,238.6 L89.4,238.8 L88.1,239.0 L86.5,239.3 L84.9,239.6 L83.2,239.9 L82.4,240.0 L80.8,240.3 L79.1,240.6 L77.5,240.9 L76.7,241.0 L75.0,241.3 L73.4,241.6 L71.7,241.9 L70.5,242.1 L69.3,242.3 L67.6,242.6 L66.0,242.9 L64.4,243.2 L63.5,243.4 L61.9,243.6 L60.3,243.9 L58.6,244.2 L57.8,244.4 L56.2,244.7 L54.5,245.0 L52.9,245.3 L51.6,245.5 L50.4,245.7 L48.8,246.0 L47.2,246.3 L45.5,246.6"/>
<path d="M635.6,182.8 L634.7,182.9 L633.1,183.2 L631.5,183.4 L629.8,183.7 L628.4,183.9 L627.4,184.1 L625.7,184.4 L624.1,184.6 L622.4,184.9 L621.6,185.1 L620.0,185.3 L618.4,185.6 L616.7,185.9 L615.1,186.1 L614.3,186.3 L612.6,186.5 L611.0,186.8 L609.3,187.1 L608.0,187.3 L606.9,187.5 L605.2,187.7 L603.6,188.0 L602.0,188.3 L601.1,188.4 L599.5,188.7 L597.9,189.0 L596.2,189.2 L594.6,189.5 L593.8,189.6 L592.1,189.9 L590.5,190.2 L588.8,190.5 L587.7,190.7 L586.4,190.9 L584.8,191.1 L583.1,191.4 L581.5,191.7 L580.7,191.8 L579.0,192.1 L577.4,192.4 L575.7,192.6 L574.2,192.9 L573.3,193.0 L571.6,193.3 L570.0,193.6 L568.4,193.9 L567.4,194.0 L565.9,194.3 L564.3,194.5 L562.6,194.8 L561.0,195.1 L560.2,195.2 L558.5,195.5 L556.9,195.8 L555.2,196.0 L554.0,196.2 L552.8,196.5 L551.2,196.7 L549.5,197.0 L547.9,197.3 L547.1,197.4 L545.4,197.7 L543.8,198.0 L542.1,198.2 L540.6,198.5 L539.7,198.6 L538.0,198.9 L536.4,199.2 L534.8,199.5 L533.9,199.6 L532.3,199.9 L530.7,200.1 L529.0,200.4 L527.4,200.7 L526.6,200.8 L524.9,201.1 L523.3,201.4 L521.6,201.7 L520.6,201.8 L519.2,202.1 L517.6,202.4 L515.9,202.6 L514.3,202.9 L513.5,203.0 L511.8,203.3 L510.2,203.6 L508.5,203.9 L507.3,204.1 L506.1,204.3 L504.4,204.6 L502.8,204.8 L501.2,205.1 L500.3,205.2 L498.7,205.5 L497.1,205.8 L495.4,206.1 L494.0,206.3 L493.0,206.5 L491.3,206.8 L489.7,207.0 L488.1,207.3 L487.2,207.5 L485.6,207.7 L484.0,208.0 L482.3,208.3 L480.8,208.6 L479.9,208.7 L478.2,209.0 L476.6,209.3 L474.9,209.5 L474.1,209.7 L472.5,210.0 L470.8,210.2 L469.2,210.5 L467.6,210.8 L466.7,210.9 L465.1,211.2 L463.5,211.5 L461.8,211.8 L461.0,211.9 L459.4,212.2 L457.7,212.5 L456.1,212.7 L454.5,213.0 L453.6,213.2 L452.0,213.4 L450.4,213.7 L448.7,214.0 L447.9,214.2 L446.3,214.4 L444.6,214.7 L443.0,215.0 L441.3,215.3 L440.5,215.4 L438.9,215.7 L437.2,216.0 L435.6,216.2 L434.8,216.4 L433.1,216.7 L431.5,216.9 L429.9,217.2 L428.2,217.5 L427.4,217.6 L425.8,217.9 L424.1,218.2 L422.5,218.5 L421.7,218.6 L420.0,218.9 L418.4,219.2 L416.8,219.5 L415.2,219.7 L414.3,219.9 L412.7,220.2 L411.0,220.5 L409.4,220.7 L408.6,220.9 L406.9,221.2 L405.3,221.4 L403.6,221.7 L402.2,222.0 L401.2,222.2 L399.5,222.4 L397.9,222.7 L396.3,223.0 L395.4,223.1 L393.8,223.4 L392.2,223.7 L390.5,224.0 L389.2,224.2 L388.1,224.4 L386.4,224.7 L384.8,225.0 L383.2,225.3 L382.3,225.4 L380.7,225.7 L379.1,226.0 L377.4,226.3 L376.3,226.5 L375.0,226.7 L373.3,227.0 L371.7,227.3 L370.0,227.5 L369.2,227.7 L367.6,228.0 L365.9,228.3 L364.3,228.5 L363.4,228.7 L361.8,229.0 L360.2,229.3 L358.6,229.5 L357.0,229.8 L356.1,230.0 L354.5,230.3 L352.8,230.5 L351.2,230.8 L350.4,231.0 L348.7,231.3 L347.1,231.5 L345.5,231.8 L344.2,232.1 L343.0,232.3 L341.4,232.5 L339.7,232.8 L338.1,233.1 L337.3,233.3 L335.6,233.5 L334.0,233.8 L332.3,234.1 L331.4,234.3 L329.9,234.5 L328.2,234.8 L326.6,235.1 L325.0,235.4 L324.2,235.6 L322.5,235.8 L320.9,236.1 L319.2,236.4 L318.4,236.6 L316.8,236.9 L315.1,237.1 L313.5,237.4 L312.2,237.6 L311.0,237.9 L309.4,238.1 L307.8,238.4 L306.1,238.7 L305.3,238.9 L303.7,239.2 L302.0,239.4 L300.4,239.7 L299.6,239.9 L297.9,240.2 L296.3,240.5 L294.6,240.8 L293.2,241.0 L292.2,241.2 L290.6,241.5 L288.9,241.8 L287.3,242.1 L286.5,242.2 L284.8,242.5 L283.2,242.8 L281.5,243.1 L280.6,243.2 L279.1,243.5 L277.4,243.8 L275.8,244.1 L274.3,244.4 L273.3,244.5 L271.7,244.8 L270.1,245.1 L268.4,245.4 L267.6,245.5 L266.0,245.8 L264.3,246.1 L262.7,246.4 L261.7,246.6 L260.2,246.9 L258.6,247.2 L257.0,247.4 L255.4,247.7 L254.5,247.9 L252.9,248.2 L251.2,248.5 L249.6,248.8 L248.8,248.9 L247.1,249.2 L245.5,249.5 L243.8,249.8 L242.9,250.0 L241.4,250.2 L239.7,250.5 L238.1,250.8 L236.7,251.1 L235.6,251.3 L234.0,251.5 L232.4,251.8 L230.7,252.1 L229.9,252.3 L228.3,252.6 L226.6,252.9 L225.0,253.2 L224.2,253.3 L222.5,253.6 L220.9,253.9 L219.3,254.2 L218.0,254.4 L216.8,254.6 L215.2,254.9 L213.5,255.2 L211.9,255.5 L211.1,255.7 L209.4,256.0 L207.8,256.3 L206.1,256.6 L205.3,256.7 L203.7,257.0 L202.0,257.3 L200.4,257.6 L199.4,257.8 L197.9,258.0 L196.3,258.3 L194.7,258.6 L193.2,258.9 L192.2,259.1 L190.6,259.4 L188.9,259.7 L187.3,260.0 L186.5,260.1 L184.8,260.4 L183.2,260.7 L181.6,261.0 L180.7,261.2 L179.1,261.5 L177.5,261.8 L175.8,262.1 L174.7,262.3 L173.4,262.5 L171.7,262.8 L170.1,263.1 L168.6,263.4 L167.6,263.6 L166.0,263.9 L164.3,264.2 L162.7,264.5 L161.9,264.6 L160.2,264.9 L158.6,265.2 L157.0,265.5 L156.2,265.7 L154.5,266.0 L152.9,266.3 L151.2,266.6 L150.3,266.7 L148.8,267.0 L147.1,267.3 L145.5,267.6 L144.2,267.9 L143.0,268.1 L141.4,268.4 L139.8,268.7 L138.1,269.0 L137.3,269.1 L135.7,269.4 L134.0,269.7 L132.4,270.0 L131.6,270.2 L129.9,270.5 L128.3,270.8 L126.7,271.1 L125.8,271.2 L124.2,271.5 L122.6,271.8 L120.9,272.1 L119.9,272.3 L118.5,272.6 L116.8,272.9 L115.2,273.2 L113.8,273.4 L112.7,273.7 L111.1,274.0 L109.4,274.3 L107.8,274.6 L107.0,274.7 L105.3,275.0 L103.7,275.3 L102.1,275.6 L101.2,275.8 L99.6,276.1 L98.0,276.4 L96.3,276.7 L95.5,276.8 L93.9,277.2 L92.2,277.5 L90.6,277.8 L89.7,277.9 L88.1,278.2 L86.5,278.5 L84.9,278.8 L83.7,279.0 L82.4,279.3 L80.8,279.6 L79.1,279.9 L77.7,280.2 L76.7,280.4 L75.0,280.7 L73.4,281.0 L71.7,281.3 L70.9,281.4 L69.3,281.7 L67.6,282.0 L66.0,282.4 L65.2,282.5 L63.5,282.8 L61.9,283.1 L60.3,283.4 L59.5,283.6 L57.8,283.9 L56.2,284.2 L54.5,284.5 L53.7,284.7 L52.1,285.0 L50.4,285.3 L48.8,285.6 L47.9,285.8 L46.3,286.1"/>
<path d="M635.6,219.1 L633.9,219.4 L632.3,219.7 L631.5,219.8 L629.8,220.1 L628.2,220.4 L626.5,220.7 L625.3,220.9 L624.1,221.1 L622.4,221.4 L620.8,221.6 L619.2,221.9 L618.4,222.1 L616.7,222.3 L615.1,222.6 L613.4,222.9 L612.3,223.1 L611.0,223.3 L609.3,223.6 L607.7,223.9 L606.1,224.2 L605.2,224.3 L603.6,224.6 L602.0,224.9 L600.3,225.2 L599.3,225.3 L597.9,225.6 L596.2,225.9 L594.6,226.2 L592.9,226.4 L592.1,226.6 L590.5,226.9 L588.8,227.2 L587.2,227.4 L586.4,227.6 L584.8,227.9 L583.1,228.1 L581.5,228.4 L579.9,228.7 L579.0,228.9 L577.4,229.1 L575.7,229.4 L574.1,229.7 L573.3,229.8 L571.6,230.1 L570.0,230.4 L568.4,230.7 L567.0,230.9 L565.9,231.1 L564.3,231.4 L562.6,231.7 L561.0,232.0 L560.2,232.1 L558.5,232.4 L556.9,232.7 L555.2,233.0 L554.2,233.2 L552.8,233.4 L551.2,233.7 L549.5,234.0 L547.9,234.3 L547.1,234.4 L545.4,234.7 L543.8,235.0 L542.1,235.3 L541.3,235.4 L539.7,235.7 L538.0,236.0 L536.4,236.3 L535.0,236.5 L533.9,236.7 L532.3,237.0 L530.7,237.3 L529.0,237.6 L528.2,237.7 L526.6,238.0 L524.9,238.3 L523.3,238.6 L522.3,238.8 L520.8,239.0 L519.2,239.3 L517.6,239.6 L515.9,239.9 L515.1,240.0 L513.5,240.3 L511.8,240.6 L510.2,240.9 L509.4,241.0 L507.7,241.3 L506.1,241.6 L504.4,241.9 L503.2,242.1 L502.0,242.3 L500.3,242.6 L498.7,242.9 L497.1,243.2 L496.2,243.4 L494.6,243.6 L493.0,243.9 L491.3,244.2 L490.5,244.4 L488.9,244.7 L487.2,244.9 L485.6,245.2 L484.3,245.5 L483.1,245.7 L481.5,246.0 L479.9,246.3 L478.2,246.5 L477.4,246.7 L475.8,247.0 L474.1,247.3 L472.5,247.6 L471.7,247.7 L470.0,248.0 L468.4,248.3 L466.7,248.6 L465.4,248.8 L464.3,249.0 L462.6,249.3 L461.0,249.6 L459.4,249.9 L458.5,250.1 L456.9,250.3 L455.3,250.6 L453.6,250.9 L452.8,251.1 L451.2,251.4 L449.5,251.7 L447.9,252.0 L446.6,252.2 L445.4,252.4 L443.8,252.7 L442.2,253.0 L440.5,253.3 L439.7,253.4 L438.1,253.7 L436.4,254.0 L434.8,254.3 L434.0,254.5 L432.3,254.8 L430.7,255.0 L429.0,255.3 L427.9,255.5 L426.6,255.8 L424.9,256.1 L423.3,256.4 L421.7,256.7 L420.9,256.8 L419.2,257.1 L417.6,257.4 L415.9,257.7 L415.1,257.8 L413.5,258.1 L411.8,258.4 L410.2,258.7 L409.3,258.9 L407.7,259.2 L406.1,259.5 L404.5,259.8 L403.1,260.0 L402.0,260.2 L400.4,260.5 L398.7,260.8 L397.1,261.1 L396.3,261.3 L394.6,261.6 L393.0,261.9 L391.3,262.2 L390.5,262.3 L388.9,262.6 L387.3,262.9 L385.6,263.2 L384.6,263.4 L383.2,263.6 L381.5,263.9 L379.9,264.2 L378.4,264.5 L377.4,264.7 L375.8,265.0 L374.1,265.3 L372.5,265.6 L371.7,265.7 L370.0,266.0 L368.4,266.3 L366.8,266.6 L365.9,266.8 L364.3,267.1 L362.7,267.4 L361.0,267.7 L360.1,267.9 L358.6,268.1 L356.9,268.4 L355.3,268.7 L354.0,269.0 L352.8,269.2 L351.2,269.5 L349.6,269.8 L347.9,270.1 L347.1,270.2 L345.5,270.5 L343.8,270.8 L342.2,271.1 L341.4,271.3 L339.7,271.6 L338.1,271.9 L336.4,272.2 L335.6,272.3 L334.0,272.6 L332.3,272.9 L330.7,273.3 L329.6,273.4 L328.2,273.7 L326.6,274.0 L325.0,274.3 L323.6,274.6 L322.5,274.8 L320.9,275.1 L319.2,275.4 L317.6,275.7 L316.8,275.8 L315.1,276.1 L313.5,276.4 L311.9,276.7 L311.0,276.9 L309.4,277.2 L307.8,277.5 L306.1,277.8 L305.3,278.0 L303.7,278.3 L302.0,278.6 L300.4,278.9 L299.4,279.0 L297.9,279.3 L296.3,279.6 L294.6,279.9 L293.4,280.2 L292.2,280.4 L290.6,280.7 L288.9,281.0 L287.4,281.3 L286.5,281.5 L284.8,281.8 L283.2,282.1 L281.5,282.4 L280.7,282.5 L279.1,282.8 L277.4,283.2 L275.8,283.5 L275.0,283.6 L273.3,283.9 L271.7,284.2 L270.1,284.5 L269.2,284.7 L267.6,285.0 L266.0,285.3 L264.3,285.6 L263.5,285.8 L261.9,286.1 L260.2,286.4 L258.6,286.7 L257.6,286.9 L256.1,287.2 L254.5,287.5 L252.9,287.8 L251.7,288.0 L250.4,288.2 L248.8,288.5 L247.1,288.9 L245.7,289.1 L244.7,289.3 L243.0,289.6 L241.4,289.9 L239.8,290.2 L238.9,290.4 L237.3,290.7 L235.6,291.0 L234.0,291.3 L233.2,291.5 L231.5,291.8 L229.9,292.1 L228.3,292.4 L227.4,292.6 L225.8,292.9 L224.2,293.2 L222.5,293.5 L221.7,293.7 L220.1,294.0 L218.4,294.3 L216.8,294.6 L216.0,294.8 L214.3,295.1 L212.7,295.4 L211.1,295.7 L210.2,295.8 L208.6,296.2 L207.0,296.5 L205.3,296.8 L204.5,296.9 L202.9,297.3 L201.2,297.6 L199.6,297.9 L198.6,298.1 L197.1,298.4 L195.5,298.7 L193.8,299.0 L192.8,299.2 L191.4,299.5 L189.8,299.8 L188.1,300.1 L187.0,300.3 L185.7,300.6 L184.0,300.9 L182.4,301.2 L181.2,301.4 L179.9,301.7 L178.3,302.0 L176.6,302.3 L175.4,302.5 L174.2,302.8 L172.5,303.1 L170.9,303.4 L169.6,303.7 L168.4,303.9 L166.8,304.2 L165.2,304.5 L163.8,304.8 L162.7,305.0 L161.1,305.3 L159.4,305.6 L158.0,305.9 L157.0,306.1 L155.3,306.4 L153.7,306.7 L152.2,307.0 L151.2,307.2 L149.6,307.5 L148.0,307.8 L146.5,308.1 L145.5,308.3 L143.9,308.6 L142.2,309.0 L140.7,309.3 L139.8,309.4 L138.1,309.8 L136.5,310.1 L135.0,310.4 L134.0,310.6 L132.4,310.9 L130.7,311.2 L129.2,311.5 L128.3,311.7 L126.7,312.0 L125.0,312.3 L123.5,312.6 L122.6,312.8 L120.9,313.1 L119.3,313.4 L117.8,313.7 L116.8,313.9 L115.2,314.2 L113.5,314.6 L112.1,314.8 L111.1,315.1 L109.4,315.4 L107.8,315.7 L106.4,316.0 L105.3,316.2 L103.7,316.5 L102.1,316.8 L100.7,317.1 L99.6,317.3 L98.0,317.6 L96.3,318.0 L95.1,318.2 L93.9,318.4 L92.2,318.8 L90.6,319.1 L89.4,319.3 L88.1,319.6 L86.5,319.9 L84.9,320.2 L83.8,320.4 L82.4,320.7 L80.8,321.0 L79.1,321.4 L78.1,321.6 L76.7,321.9 L75.0,322.2 L73.4,322.5 L72.5,322.7 L70.9,323.0 L69.3,323.3 L67.6,323.6 L66.8,323.8 L65.2,324.1 L63.5,324.5 L61.9,324.8 L61.1,325.0 L59.5,325.3 L57.8,325.6 L56.2,325.9 L55.4,326.1 L53.7,326.4 L52.1,326.8 L50.4,327.1 L49.6,327.3 L48.0,327.6 L46.3,327.9"/>
<path d="M635.6,257.0 L633.9,257.3 L632.3,257.6 L631.5,257.8 L629.8,258.1 L628.2,258.4 L626.5,258.7 L625.2,258.9 L624.1,259.1 L622.4,259.4 L620.8,259.7 L619.2,260.0 L618.4,260.1 L616.7,260.4 L615.1,260.7 L613.4,261.0 L612.6,261.2 L611.0,261.5 L609.3,261.8 L607.7,262.1 L606.7,262.3 L605.2,262.5 L603.6,262.8 L602.0,263.1 L600.5,263.4 L599.5,263.6 L597.9,263.9 L596.2,264.2 L594.6,264.5 L593.8,264.6 L592.1,264.9 L590.5,265.2 L588.8,265.5 L588.0,265.6 L586.4,265.9 L584.8,266.2 L583.1,266.5 L582.0,266.7 L580.7,267.0 L579.0,267.3 L577.4,267.6 L575.9,267.9 L574.9,268.0 L573.3,268.3 L571.6,268.6 L570.0,268.9 L569.2,269.1 L567.5,269.4 L565.9,269.7 L564.3,270.0 L563.4,270.1 L561.8,270.4 L560.2,270.7 L558.5,271.0 L557.6,271.2 L556.1,271.5 L554.4,271.8 L552.8,272.1 L551.5,272.3 L550.3,272.5 L548.7,272.8 L547.1,273.1 L545.4,273.4 L544.6,273.6 L543.0,273.9 L541.3,274.2 L539.7,274.5 L538.9,274.6 L537.2,275.0 L535.6,275.3 L533.9,275.6 L533.1,275.7 L531.5,276.0 L529.8,276.3 L528.2,276.6 L527.2,276.8 L525.7,277.1 L524.1,277.4 L522.5,277.7 L521.1,277.9 L520.0,278.1 L518.4,278.4 L516.7,278.7 L515.1,279.0 L514.3,279.2 L512.6,279.5 L511.0,279.8 L509.4,280.1 L508.5,280.3 L506.9,280.6 L505.3,280.9 L503.6,281.2 L502.8,281.3 L501.2,281.6 L499.5,281.9 L497.9,282.2 L497.0,282.4 L495.4,282.7 L493.8,283.0 L492.1,283.3 L491.0,283.5 L489.7,283.8 L488.1,284.1 L486.4,284.4 L485.1,284.6 L484.0,284.8 L482.3,285.2 L480.7,285.5 L479.1,285.8 L478.2,285.9 L476.6,286.2 L474.9,286.5 L473.3,286.8 L472.5,287.0 L470.8,287.3 L469.2,287.6 L467.6,287.9 L466.7,288.1 L465.1,288.4 L463.5,288.7 L461.8,289.0 L461.0,289.2 L459.4,289.5 L457.7,289.8 L456.1,290.1 L455.3,290.2 L453.6,290.5 L452.0,290.9 L450.4,291.2 L449.3,291.4 L447.9,291.6 L446.3,291.9 L444.6,292.2 L443.4,292.5 L442.2,292.7 L440.5,293.0 L438.9,293.3 L437.5,293.6 L436.4,293.8 L434.8,294.1 L433.1,294.4 L431.6,294.7 L430.7,294.9 L429.0,295.2 L427.4,295.5 L425.8,295.8 L424.9,296.0 L423.3,296.3 L421.7,296.6 L420.0,296.9 L419.2,297.1 L417.6,297.4 L415.9,297.7 L414.3,298.0 L413.5,298.2 L411.8,298.5 L410.2,298.8 L408.6,299.1 L407.7,299.3 L406.1,299.6 L404.5,299.9 L402.8,300.2 L402.0,300.4 L400.4,300.7 L398.7,301.0 L397.1,301.3 L396.3,301.5 L394.6,301.8 L393.0,302.1 L391.3,302.4 L390.5,302.6 L388.9,302.9 L387.3,303.2 L385.6,303.5 L384.8,303.7 L383.2,304.0 L381.5,304.3 L379.9,304.6 L379.0,304.8 L377.4,305.1 L375.8,305.4 L374.1,305.7 L373.2,305.9 L371.7,306.2 L370.0,306.5 L368.4,306.8 L367.4,307.0 L365.9,307.3 L364.3,307.6 L362.7,307.9 L361.6,308.1 L360.2,308.4 L358.6,308.7 L356.9,309.0 L355.9,309.3 L354.5,309.5 L352.8,309.8 L351.2,310.2 L350.1,310.4 L348.7,310.6 L347.1,311.0 L345.5,311.3 L344.4,311.5 L343.0,311.8 L341.4,312.1 L339.7,312.4 L338.6,312.6 L337.3,312.9 L335.6,313.2 L334.0,313.5 L332.9,313.7 L331.5,314.0 L329.9,314.3 L328.2,314.6 L327.2,314.8 L325.8,315.1 L324.2,315.4 L322.5,315.8 L321.5,316.0 L320.1,316.2 L318.4,316.6 L316.8,316.9 L315.8,317.1 L314.3,317.4 L312.7,317.7 L311.0,318.0 L310.1,318.2 L308.6,318.5 L306.9,318.8 L305.3,319.1 L304.4,319.3 L302.8,319.6 L301.2,320.0 L299.6,320.3 L298.7,320.4 L297.1,320.8 L295.5,321.1 L293.8,321.4 L293.0,321.6 L291.4,321.9 L289.7,322.2 L288.1,322.5 L287.3,322.7 L285.6,323.0 L284.0,323.4 L282.4,323.7 L281.5,323.8 L279.9,324.2 L278.3,324.5 L276.6,324.8 L275.8,325.0 L274.2,325.3 L272.5,325.6 L270.9,326.0 L270.1,326.1 L268.4,326.5 L266.8,326.8 L265.1,327.1 L264.3,327.3 L262.7,327.6 L261.0,327.9 L259.4,328.3 L258.6,328.4 L257.0,328.8 L255.3,329.1 L253.8,329.4 L252.9,329.6 L251.2,329.9 L249.6,330.2 L248.2,330.5 L247.1,330.7 L245.5,331.1 L243.8,331.4 L242.6,331.6 L241.4,331.9 L239.7,332.2 L238.1,332.5 L237.1,332.7 L235.6,333.0 L234.0,333.4 L232.4,333.7 L231.5,333.9 L229.9,334.2 L228.3,334.5 L226.6,334.9 L225.8,335.0 L224.2,335.4 L222.5,335.7 L220.9,336.0 L220.1,336.2 L218.4,336.5 L216.8,336.8 L215.2,337.2 L214.3,337.3 L212.7,337.7 L211.1,338.0 L209.4,338.3 L208.6,338.5 L207.0,338.8 L205.3,339.2 L203.9,339.5 L202.9,339.7 L201.2,340.0 L199.6,340.3 L198.5,340.6 L197.1,340.9 L195.5,341.2 L193.8,341.5 L193.0,341.7 L191.4,342.0 L189.8,342.4 L188.1,342.7 L187.3,342.9 L185.7,343.2 L184.0,343.5 L182.4,343.9 L181.6,344.0 L179.9,344.4 L178.3,344.7 L176.6,345.1 L175.8,345.2 L174.2,345.6 L172.5,345.9 L171.2,346.2 L170.1,346.4 L168.4,346.7 L166.8,347.1 L165.8,347.3 L164.3,347.6 L162.7,347.9 L161.1,348.3 L160.2,348.4 L158.6,348.8 L157.0,349.1 L155.3,349.5 L154.5,349.6 L152.9,350.0 L151.2,350.3 L149.6,350.6 L148.8,350.8 L147.1,351.2 L145.5,351.5 L144.2,351.8 L143.0,352.0 L141.4,352.3 L139.8,352.7 L138.8,352.9 L137.3,353.2 L135.7,353.5 L134.0,353.9 L133.2,354.1 L131.6,354.4 L129.9,354.7 L128.3,355.1 L127.5,355.3 L125.8,355.6 L124.2,355.9 L122.8,356.2 L121.7,356.5 L120.1,356.8 L118.5,357.1 L117.4,357.4 L116.0,357.7 L114.4,358.0 L112.7,358.4 L111.9,358.5 L110.3,358.9 L108.6,359.2 L107.0,359.6 L106.2,359.7 L104.5,360.1 L102.9,360.4 L101.5,360.7 L100.4,360.9 L98.8,361.3 L97.1,361.6 L96.2,361.8 L94.7,362.2 L93.1,362.5 L91.4,362.9 L90.6,363.0 L89.0,363.4 L87.3,363.7 L85.7,364.1 L84.9,364.2 L83.2,364.6 L81.6,364.9 L80.4,365.2 L79.1,365.5 L77.5,365.8 L75.8,366.2 L75.0,366.3 L73.4,366.7 L71.7,367.0 L70.1,367.4 L69.3,367.6 L67.6,367.9 L66.0,368.3 L64.7,368.6 L63.5,368.8 L61.9,369.2 L60.3,369.5 L59.5,369.7 L57.8,370.0 L56.2,370.4 L54.5,370.7 L53.7,370.9 L52.1,371.3 L50.4,371.6 L49.1,371.9 L48.0,372.1 L46.3,372.5"/>
<path d="M635.6,296.9 L634.7,297.0 L633.1,297.3 L631.5,297.6 L629.8,298.0 L629.0,298.1 L627.4,298.4 L625.7,298.7 L624.1,299.0 L623.3,299.2 L621.6,299.5 L620.0,299.8 L618.4,300.1 L617.5,300.3 L615.9,300.6 L614.3,300.9 L612.6,301.2 L611.6,301.4 L610.2,301.7 L608.5,302.0 L606.9,302.3 L605.8,302.5 L604.4,302.8 L602.8,303.1 L601.1,303.4 L600.0,303.7 L598.7,303.9 L597.0,304.2 L595.4,304.5 L594.1,304.8 L592.9,305.0 L591.3,305.3 L589.7,305.6 L588.3,305.9 L587.2,306.1 L585.6,306.4 L583.9,306.7 L582.5,307.0 L581.5,307.2 L579.8,307.5 L578.2,307.8 L576.7,308.1 L575.7,308.3 L574.1,308.6 L572.5,309.0 L570.9,309.3 L570.0,309.4 L568.4,309.7 L566.7,310.1 L565.2,310.4 L564.3,310.5 L562.6,310.9 L561.0,311.2 L559.4,311.5 L558.5,311.7 L556.9,312.0 L555.2,312.3 L553.6,312.6 L552.8,312.8 L551.2,313.1 L549.5,313.4 L547.9,313.7 L547.1,313.9 L545.4,314.2 L543.8,314.5 L542.1,314.8 L541.3,315.0 L539.7,315.3 L538.0,315.6 L536.4,316.0 L535.6,316.1 L533.9,316.4 L532.3,316.8 L530.7,317.1 L529.8,317.3 L528.2,317.6 L526.6,317.9 L525.0,318.2 L524.1,318.4 L522.5,318.7 L520.8,319.0 L519.3,319.3 L518.4,319.5 L516.7,319.8 L515.1,320.1 L513.6,320.4 L512.6,320.6 L511.0,321.0 L509.4,321.3 L507.9,321.6 L506.9,321.8 L505.3,322.1 L503.6,322.4 L502.3,322.7 L501.2,322.9 L499.5,323.2 L497.9,323.5 L496.6,323.8 L495.4,324.0 L493.8,324.4 L492.1,324.7 L491.0,324.9 L489.7,325.2 L488.1,325.5 L486.4,325.8 L485.3,326.0 L484.0,326.3 L482.3,326.6 L480.7,327.0 L479.7,327.2 L478.2,327.4 L476.6,327.8 L474.9,328.1 L474.1,328.3 L472.5,328.6 L470.8,328.9 L469.2,329.2 L468.4,329.4 L466.7,329.7 L465.1,330.1 L463.5,330.4 L462.6,330.6 L461.0,330.9 L459.4,331.2 L457.7,331.5 L456.9,331.7 L455.3,332.0 L453.6,332.4 L452.0,332.7 L451.2,332.9 L449.5,333.2 L447.9,333.5 L446.3,333.8 L445.4,334.0 L443.8,334.3 L442.2,334.7 L440.6,335.0 L439.7,335.2 L438.1,335.5 L436.4,335.8 L435.1,336.1 L434.0,336.3 L432.3,336.7 L430.7,337.0 L429.5,337.2 L428.2,337.5 L426.6,337.8 L424.9,338.1 L424.0,338.3 L422.5,338.6 L420.9,339.0 L419.2,339.3 L418.4,339.5 L416.8,339.8 L415.1,340.1 L413.5,340.5 L412.7,340.6 L411.0,341.0 L409.4,341.3 L407.7,341.6 L406.9,341.8 L405.3,342.1 L403.6,342.5 L402.0,342.8 L401.2,343.0 L399.5,343.3 L397.9,343.7 L396.5,343.9 L395.4,344.2 L393.8,344.5 L392.2,344.8 L391.1,345.1 L389.7,345.3 L388.1,345.7 L386.4,346.0 L385.6,346.2 L384.0,346.5 L382.3,346.8 L380.7,347.2 L379.9,347.4 L378.2,347.7 L376.6,348.0 L375.0,348.4 L374.1,348.5 L372.5,348.9 L370.9,349.2 L369.3,349.5 L368.4,349.7 L366.8,350.1 L365.1,350.4 L363.9,350.7 L362.7,350.9 L361.0,351.2 L359.4,351.6 L358.5,351.8 L356.9,352.1 L355.3,352.4 L353.7,352.8 L352.8,352.9 L351.2,353.3 L349.6,353.6 L347.9,354.0 L347.1,354.1 L345.5,354.5 L343.8,354.8 L342.4,355.1 L341.4,355.3 L339.7,355.7 L338.1,356.0 L337.0,356.2 L335.6,356.5 L334.0,356.9 L332.3,357.2 L331.5,357.4 L329.9,357.7 L328.2,358.1 L326.6,358.4 L325.8,358.6 L324.2,358.9 L322.5,359.3 L321.0,359.6 L320.1,359.8 L318.4,360.1 L316.8,360.5 L315.7,360.7 L314.3,361.0 L312.7,361.3 L311.0,361.7 L310.2,361.9 L308.6,362.2 L306.9,362.6 L305.3,362.9 L304.5,363.1 L302.8,363.4 L301.2,363.8 L299.8,364.1 L298.7,364.3 L297.1,364.6 L295.5,365.0 L294.5,365.2 L293.0,365.5 L291.4,365.9 L289.7,366.2 L288.9,366.4 L287.3,366.7 L285.6,367.1 L284.0,367.4 L283.2,367.6 L281.5,367.9 L279.9,368.3 L278.7,368.6 L277.4,368.8 L275.8,369.2 L274.2,369.5 L273.3,369.7 L271.7,370.0 L270.1,370.4 L268.4,370.8 L267.6,370.9 L266.0,371.3 L264.3,371.6 L263.0,371.9 L261.9,372.2 L260.2,372.5 L258.6,372.9 L257.8,373.0 L256.1,373.4 L254.5,373.7 L252.9,374.1 L252.0,374.3 L250.4,374.6 L248.8,375.0 L247.4,375.3 L246.3,375.5 L244.7,375.9 L243.0,376.2 L242.2,376.4 L240.6,376.8 L238.9,377.1 L237.3,377.5 L236.5,377.6 L234.8,378.0 L233.2,378.4 L232.0,378.6 L230.7,378.9 L229.1,379.2 L227.4,379.6 L226.6,379.8 L225.0,380.1 L223.4,380.5 L221.7,380.9 L220.9,381.0 L219.3,381.4 L217.6,381.7 L216.6,382.0 L215.2,382.3 L213.5,382.6 L211.9,383.0 L211.1,383.2 L209.4,383.5 L207.8,383.9 L206.3,384.2 L205.3,384.4 L203.7,384.8 L202.0,385.2 L201.2,385.3 L199.6,385.7 L197.9,386.1 L196.3,386.4 L195.5,386.6 L193.8,387.0 L192.2,387.3 L191.1,387.6 L189.8,387.9 L188.1,388.2 L186.5,388.6 L185.7,388.8 L184.0,389.1 L182.4,389.5 L181.0,389.8 L179.9,390.1 L178.3,390.4 L176.6,390.8 L175.8,391.0 L174.2,391.3 L172.5,391.7 L170.9,392.0 L170.1,392.2 L168.4,392.6 L166.8,393.0 L165.9,393.2 L164.3,393.5 L162.7,393.9 L161.1,394.3 L160.2,394.4 L158.6,394.8 L157.0,395.2 L155.9,395.4 L154.5,395.7 L152.9,396.1 L151.2,396.5 L150.4,396.6 L148.8,397.0 L147.1,397.4 L146.0,397.6 L144.7,397.9 L143.0,398.3 L141.4,398.7 L140.6,398.9 L138.9,399.2 L137.3,399.6 L136.1,399.9 L134.8,400.2 L133.2,400.5 L131.6,400.9 L130.7,401.1 L129.1,401.5 L127.5,401.8 L126.2,402.1 L125.0,402.4 L123.4,402.8 L121.7,403.1 L120.9,403.3 L119.3,403.7 L117.6,404.1 L116.4,404.4 L115.2,404.6 L113.5,405.0 L111.9,405.4 L111.1,405.6 L109.4,405.9 L107.8,406.3 L106.6,406.6 L105.3,406.9 L103.7,407.2 L102.1,407.6 L101.2,407.8 L99.6,408.2 L98.0,408.6 L96.8,408.8 L95.5,409.1 L93.9,409.5 L92.2,409.9 L91.4,410.1 L89.8,410.5 L88.1,410.8 L87.1,411.1 L85.7,411.4 L84.0,411.8 L82.4,412.2 L81.6,412.4 L79.9,412.7 L78.3,413.1 L77.5,413.3 L75.8,413.7 L74.2,414.1 L72.6,414.4 L71.7,414.6 L70.1,415.0 L68.5,415.4 L67.6,415.6 L66.0,416.0 L64.4,416.4 L63.1,416.7 L61.9,416.9 L60.3,417.3 L58.6,417.7 L57.8,417.9 L56.2,418.3 L54.5,418.7 L53.5,418.9 L52.1,419.2 L50.4,419.6 L48.8,420.0 L48.0,420.2 L46.3,420.6"/>
<path d="M635.6,338.9 L633.9,339.3 L632.9,339.5 L631.5,339.8 L629.8,340.1 L628.2,340.4 L627.4,340.6 L625.7,340.9 L624.1,341.3 L622.4,341.6 L621.6,341.8 L620.0,342.1 L618.4,342.4 L616.7,342.8 L615.9,342.9 L614.3,343.3 L612.6,343.6 L611.0,343.9 L610.2,344.1 L608.5,344.4 L606.9,344.8 L605.4,345.1 L604.4,345.3 L602.8,345.6 L601.1,345.9 L600.0,346.2 L598.7,346.4 L597.0,346.8 L595.4,347.1 L594.5,347.3 L592.9,347.6 L591.3,347.9 L589.7,348.3 L588.8,348.5 L587.2,348.8 L585.6,349.1 L583.9,349.5 L583.1,349.6 L581.5,350.0 L579.8,350.3 L578.2,350.6 L577.4,350.8 L575.7,351.2 L574.1,351.5 L572.7,351.8 L571.6,352.0 L570.0,352.3 L568.4,352.7 L567.3,352.9 L565.9,353.2 L564.3,353.5 L562.6,353.9 L561.8,354.0 L560.2,354.4 L558.5,354.7 L556.9,355.1 L556.1,355.2 L554.4,355.6 L552.8,355.9 L551.2,356.2 L550.3,356.4 L548.7,356.8 L547.1,357.1 L545.8,357.4 L544.6,357.6 L543.0,358.0 L541.3,358.3 L540.4,358.5 L538.9,358.8 L537.2,359.2 L535.6,359.5 L534.8,359.7 L533.1,360.0 L531.5,360.4 L529.8,360.7 L529.0,360.9 L527.4,361.2 L525.7,361.6 L524.4,361.8 L523.3,362.1 L521.6,362.4 L520.0,362.8 L519.1,363.0 L517.6,363.3 L515.9,363.6 L514.3,364.0 L513.5,364.1 L511.8,364.5 L510.2,364.8 L508.5,365.2 L507.7,365.4 L506.1,365.7 L504.4,366.0 L503.2,366.3 L502.0,366.6 L500.3,366.9 L498.7,367.3 L497.9,367.4 L496.2,367.8 L494.6,368.1 L493.0,368.5 L492.1,368.7 L490.5,369.0 L488.9,369.4 L487.4,369.7 L486.4,369.9 L484.8,370.2 L483.1,370.6 L482.1,370.8 L480.7,371.1 L479.0,371.5 L477.4,371.8 L476.6,372.0 L474.9,372.3 L473.3,372.7 L471.7,373.0 L470.8,373.2 L469.2,373.6 L467.6,373.9 L466.5,374.1 L465.1,374.4 L463.5,374.8 L461.8,375.1 L461.0,375.3 L459.4,375.7 L457.7,376.0 L456.1,376.4 L455.3,376.6 L453.6,376.9 L452.0,377.3 L450.9,377.5 L449.5,377.8 L447.9,378.1 L446.3,378.5 L445.4,378.7 L443.8,379.0 L442.2,379.4 L440.5,379.7 L439.7,379.9 L438.1,380.3 L436.4,380.6 L435.4,380.9 L434.0,381.2 L432.3,381.5 L430.7,381.9 L429.9,382.1 L428.2,382.4 L426.6,382.8 L425.1,383.1 L424.1,383.3 L422.5,383.7 L420.9,384.0 L420.0,384.2 L418.4,384.6 L416.8,384.9 L415.1,385.3 L414.3,385.5 L412.7,385.8 L411.0,386.2 L409.8,386.5 L408.6,386.7 L406.9,387.1 L405.3,387.4 L404.5,387.6 L402.8,388.0 L401.2,388.3 L399.6,388.7 L398.7,388.9 L397.1,389.2 L395.4,389.6 L394.5,389.8 L393.0,390.2 L391.3,390.5 L389.7,390.9 L388.9,391.1 L387.3,391.4 L385.6,391.8 L384.4,392.0 L383.2,392.3 L381.5,392.7 L379.9,393.1 L379.1,393.2 L377.4,393.6 L375.8,394.0 L374.4,394.3 L373.3,394.5 L371.7,394.9 L370.0,395.2 L369.2,395.4 L367.6,395.8 L365.9,396.2 L364.3,396.5 L363.5,396.7 L361.8,397.1 L360.2,397.4 L359.3,397.6 L357.7,398.0 L356.1,398.4 L354.5,398.7 L353.7,398.9 L352.0,399.3 L350.4,399.7 L349.4,399.9 L347.9,400.2 L346.3,400.6 L344.6,400.9 L343.8,401.1 L342.2,401.5 L340.5,401.9 L339.5,402.1 L338.1,402.4 L336.4,402.8 L334.8,403.2 L334.0,403.4 L332.3,403.7 L330.7,404.1 L329.6,404.4 L328.2,404.7 L326.6,405.0 L325.0,405.4 L324.2,405.6 L322.5,406.0 L320.9,406.3 L319.8,406.6 L318.4,406.9 L316.8,407.3 L315.1,407.6 L314.3,407.8 L312.7,408.2 L311.0,408.6 L310.0,408.8 L308.6,409.1 L306.9,409.5 L305.3,409.9 L304.5,410.1 L302.8,410.5 L301.2,410.8 L300.2,411.1 L298.7,411.4 L297.1,411.8 L295.5,412.2 L294.6,412.4 L293.0,412.7 L291.4,413.1 L290.5,413.3 L288.9,413.7 L287.3,414.1 L285.7,414.4 L284.8,414.6 L283.2,415.0 L281.5,415.4 L280.7,415.6 L279.1,416.0 L277.4,416.3 L276.0,416.7 L275.0,416.9 L273.3,417.3 L271.7,417.7 L270.9,417.9 L269.2,418.2 L267.6,418.6 L266.4,418.9 L265.1,419.2 L263.5,419.6 L261.9,420.0 L261.0,420.2 L259.4,420.5 L257.8,420.9 L256.9,421.1 L255.3,421.5 L253.7,421.9 L252.1,422.3 L251.2,422.5 L249.6,422.9 L247.9,423.2 L247.1,423.4 L245.5,423.8 L243.8,424.2 L242.6,424.5 L241.4,424.8 L239.7,425.2 L238.1,425.6 L237.3,425.8 L235.6,426.2 L234.0,426.5 L233.2,426.7 L231.5,427.1 L229.9,427.5 L228.5,427.9 L227.4,428.1 L225.8,428.5 L224.2,428.9 L223.4,429.1 L221.7,429.5 L220.1,429.9 L219.1,430.1 L217.6,430.4 L216.0,430.8 L214.4,431.2 L213.5,431.4 L211.9,431.8 L210.2,432.2 L209.4,432.4 L207.8,432.8 L206.1,433.2 L205.1,433.4 L203.7,433.8 L202.0,434.2 L200.5,434.6 L199.6,434.8 L197.9,435.2 L196.3,435.6 L195.5,435.8 L193.8,436.2 L192.2,436.6 L191.2,436.8 L189.8,437.2 L188.1,437.6 L186.6,437.9 L185.7,438.2 L184.0,438.6 L182.4,439.0 L181.6,439.2 L179.9,439.6 L178.3,440.0 L177.4,440.2 L175.8,440.6 L174.2,441.0 L172.9,441.3 L171.7,441.6 L170.1,442.0 L168.4,442.4 L167.6,442.6 L166.0,443.0 L164.3,443.4 L163.5,443.6 L161.9,444.0 L160.2,444.4 L159.2,444.6 L157.8,445.0 L156.2,445.4 L154.7,445.8 L153.7,446.0 L152.1,446.4 L150.4,446.8 L149.6,447.0 L148.0,447.4 L146.3,447.8 L145.5,448.0 L143.9,448.4 L142.2,448.8 L141.1,449.1 L139.8,449.4 L138.1,449.9 L136.6,450.2 L135.7,450.5 L134.0,450.9 L132.4,451.3 L131.6,451.5 L129.9,451.9 L128.3,452.3 L127.5,452.5 L125.8,452.9 L124.2,453.3 L123.2,453.6 L121.7,454.0 L120.1,454.4 L118.8,454.7 L117.6,455.0 L116.0,455.4 L114.4,455.8 L113.5,456.0 L111.9,456.4 L110.3,456.9 L109.4,457.1 L107.8,457.5 L106.2,457.9 L105.3,458.1 L103.7,458.5 L102.1,458.9 L101.1,459.2 L99.6,459.6 L98.0,460.0 L96.7,460.3 L95.5,460.6 L93.9,461.0 L92.4,461.4 L91.4,461.7 L89.8,462.1 L88.1,462.5 L87.3,462.7 L85.7,463.1 L84.0,463.5 L83.2,463.8 L81.6,464.2 L79.9,464.6 L79.1,464.8 L77.5,465.2 L75.8,465.7 L75.0,465.9 L73.4,466.3 L71.7,466.7 L70.6,467.0 L69.3,467.4 L67.6,467.8 L66.3,468.1 L65.2,468.4 L63.5,468.8 L62.0,469.2 L61.1,469.5 L59.5,469.9 L57.8,470.3 L57.0,470.6 L55.4,471.0 L53.7,471.4 L52.9,471.6 L51.3,472.1 L49.6,472.5 L48.8,472.7 L47.2,473.1 L45.5,473.6"/>
<path d="M635.6,383.8 L633.9,384.1 L633.1,384.3 L631.5,384.7 L629.8,385.0 L628.4,385.3 L627.4,385.6 L625.7,385.9 L624.1,386.3 L623.3,386.5 L621.6,386.8 L620.0,387.2 L618.4,387.5 L617.5,387.7 L615.9,388.1 L614.3,388.4 L613.1,388.7 L611.8,389.0 L610.2,389.3 L608.5,389.7 L607.7,389.9 L606.1,390.2 L604.4,390.6 L602.9,390.9 L602.0,391.1 L600.3,391.5 L598.7,391.9 L597.8,392.0 L596.2,392.4 L594.6,392.8 L592.9,393.1 L592.1,393.3 L590.5,393.7 L588.8,394.0 L587.7,394.3 L586.4,394.6 L584.8,394.9 L583.1,395.3 L582.3,395.5 L580.7,395.9 L579.0,396.2 L577.7,396.5 L576.6,396.8 L574.9,397.1 L573.3,397.5 L572.5,397.7 L570.8,398.0 L569.2,398.4 L567.6,398.8 L566.7,399.0 L565.1,399.3 L563.4,399.7 L562.6,399.9 L561.0,400.2 L559.3,400.6 L557.7,401.0 L556.9,401.2 L555.2,401.5 L553.6,401.9 L552.7,402.1 L551.2,402.5 L549.5,402.8 L547.9,403.2 L547.1,403.4 L545.4,403.8 L543.8,404.1 L542.7,404.4 L541.3,404.7 L539.7,405.0 L538.0,405.4 L537.2,405.6 L535.6,406.0 L533.9,406.4 L532.9,406.6 L531.5,406.9 L529.8,407.3 L528.2,407.7 L527.4,407.8 L525.7,408.2 L524.1,408.6 L523.0,408.8 L521.6,409.1 L520.0,409.5 L518.4,409.9 L517.6,410.1 L515.9,410.5 L514.3,410.8 L513.2,411.1 L511.8,411.4 L510.2,411.8 L508.5,412.1 L507.7,412.3 L506.1,412.7 L504.4,413.1 L503.5,413.3 L502.0,413.7 L500.3,414.0 L498.7,414.4 L497.9,414.6 L496.2,415.0 L494.6,415.4 L493.8,415.5 L492.1,415.9 L490.5,416.3 L489.0,416.7 L488.1,416.9 L486.4,417.3 L484.8,417.6 L484.0,417.8 L482.3,418.2 L480.7,418.6 L479.3,418.9 L478.2,419.2 L476.6,419.5 L474.9,419.9 L474.1,420.1 L472.5,420.5 L470.8,420.9 L469.7,421.1 L468.4,421.4 L466.7,421.8 L465.1,422.2 L464.3,422.4 L462.6,422.8 L461.0,423.2 L460.2,423.4 L458.5,423.8 L456.9,424.1 L455.4,424.5 L454.5,424.7 L452.8,425.1 L451.2,425.5 L450.4,425.7 L448.7,426.1 L447.1,426.5 L445.9,426.7 L444.6,427.0 L443.0,427.4 L441.3,427.8 L440.5,428.0 L438.9,428.4 L437.2,428.8 L436.4,429.0 L434.8,429.4 L433.1,429.8 L431.7,430.1 L430.7,430.3 L429.0,430.7 L427.4,431.1 L426.6,431.3 L424.9,431.7 L423.3,432.1 L422.4,432.3 L420.9,432.7 L419.2,433.1 L417.7,433.4 L416.8,433.7 L415.1,434.1 L413.5,434.5 L412.7,434.7 L411.0,435.0 L409.4,435.4 L408.4,435.7 L406.9,436.0 L405.3,436.4 L403.7,436.8 L402.8,437.0 L401.2,437.4 L399.5,437.8 L398.7,438.0 L397.1,438.4 L395.4,438.8 L394.5,439.0 L393.0,439.4 L391.3,439.8 L389.9,440.2 L388.9,440.4 L387.3,440.8 L385.6,441.2 L384.8,441.4 L383.2,441.8 L381.5,442.2 L380.7,442.4 L379.1,442.8 L377.4,443.2 L376.1,443.5 L375.0,443.8 L373.3,444.2 L371.7,444.6 L370.9,444.8 L369.2,445.2 L367.6,445.6 L366.8,445.8 L365.1,446.2 L363.5,446.6 L362.4,446.9 L361.0,447.2 L359.4,447.6 L357.9,448.0 L356.9,448.2 L355.3,448.6 L353.7,449.0 L352.8,449.2 L351.2,449.6 L349.6,450.1 L348.7,450.3 L347.1,450.7 L345.5,451.1 L344.3,451.3 L343.0,451.7 L341.4,452.1 L339.9,452.5 L338.9,452.7 L337.3,453.1 L335.6,453.5 L334.8,453.7 L333.2,454.1 L331.5,454.5 L330.7,454.8 L329.1,455.2 L327.4,455.6 L326.4,455.8 L325.0,456.2 L323.3,456.6 L322.0,456.9 L320.9,457.2 L319.2,457.6 L317.6,458.1 L316.8,458.3 L315.1,458.7 L313.5,459.1 L312.7,459.3 L311.0,459.7 L309.4,460.1 L308.6,460.3 L306.9,460.8 L305.3,461.2 L304.3,461.4 L302.8,461.8 L301.2,462.2 L299.9,462.5 L298.7,462.8 L297.1,463.3 L295.5,463.7 L294.6,463.9 L293.0,464.3 L291.4,464.7 L290.6,464.9 L288.9,465.4 L287.3,465.8 L286.5,466.0 L284.8,466.4 L283.2,466.8 L282.4,467.0 L280.7,467.5 L279.1,467.9 L278.1,468.1 L276.6,468.5 L275.0,468.9 L273.8,469.2 L272.5,469.6 L270.9,470.0 L269.5,470.4 L268.4,470.6 L266.8,471.1 L265.2,471.5 L264.3,471.7 L262.7,472.1 L261.0,472.6 L260.2,472.8 L258.6,473.2 L257.0,473.6 L256.1,473.9 L254.5,474.3 L252.9,474.7 L252.0,474.9 L250.4,475.4 L248.8,475.8 L247.9,476.0 L246.3,476.4 L244.7,476.9 L243.8,477.1 L242.2,477.5 L240.6,477.9 L239.6,478.2 L238.1,478.6 L236.5,479.0 L235.4,479.3 L234.0,479.7 L232.4,480.1 L231.2,480.4 L229.9,480.8 L228.3,481.2 L227.0,481.6 L225.8,481.9 L224.2,482.3 L222.8,482.7 L221.7,483.0 L220.1,483.4 L218.6,483.8 L217.6,484.1 L216.0,484.5 L214.4,484.9 L213.5,485.2 L211.9,485.6 L210.3,486.0 L209.4,486.3 L207.8,486.7 L206.1,487.1 L205.3,487.4 L203.7,487.8 L202.0,488.3 L201.2,488.5 L199.6,488.9 L197.9,489.4 L197.1,489.6 L195.5,490.0 L193.8,490.5 L193.0,490.7 L191.4,491.2 L189.8,491.6 L188.9,491.8 L187.3,492.3 L185.7,492.7 L184.8,492.9 L183.2,493.4 L181.6,493.8 L180.7,494.1 L179.1,494.5 L177.5,495.0 L176.6,495.2 L175.0,495.6 L173.4,496.1 L172.5,496.3 L170.9,496.8 L169.3,497.2 L168.4,497.5 L166.8,497.9 L165.3,498.3 L164.3,498.6 L162.7,499.1 L161.3,499.5 L160.2,499.7 L158.6,500.2 L157.3,500.6 L156.2,500.9 L154.5,501.3 L153.3,501.7 L152.1,502.0 L150.4,502.5 L149.3,502.8 L148.0,503.2 L146.3,503.6 L145.3,503.9 L143.9,504.3 L142.2,504.8 L141.3,505.1 L139.8,505.5 L138.1,506.0 L137.3,506.2 L135.7,506.7 L134.0,507.1 L133.2,507.4 L131.6,507.8 L129.9,508.3 L129.1,508.5 L127.5,509.0 L125.8,509.5 L125.0,509.7 L123.4,510.2 L121.7,510.6 L120.9,510.9 L119.3,511.3 L117.8,511.8 L116.8,512.0 L115.2,512.5 L113.9,512.9 L112.7,513.2 L111.1,513.7 L110.0,514.0 L108.6,514.4 L107.0,514.9 L106.2,515.1 L104.5,515.6 L102.9,516.1 L102.1,516.3 L100.4,516.8 L98.8,517.3 L98.0,517.5 L96.3,518.0 L94.7,518.5 L93.9,518.7 L92.2,519.2 L90.8,519.6 L89.8,519.9 L88.1,520.4 L87.0,520.7 L85.7,521.1 L84.0,521.6 L83.2,521.8 L81.6,522.3 L79.9,522.8 L79.1,523.1 L77.5,523.5 L75.8,524.0 L75.0,524.3 L73.4,524.8 L71.9,525.2 L70.9,525.5 L69.3,526.0 L68.2,526.3 L66.8,526.7 L65.2,527.2 L64.4,527.5 L62.7,527.9 L61.1,528.4 L60.3,528.7 L58.6,529.2 L57.0,529.7 L56.2,529.9 L54.5,530.4 L53.3,530.8 L52.1,531.2 L50.4,531.7 L49.6,531.9 L48.0,532.4 L46.3,532.9 L45.5,533.2"/>
<path d="M635.6,432.2 L634.7,432.4 L633.1,432.7 L631.5,433.1 L630.2,433.4 L629.0,433.7 L627.4,434.1 L625.7,434.5 L624.9,434.7 L623.3,435.1 L621.6,435.5 L620.8,435.7 L619.2,436.1 L617.5,436.5 L616.1,436.8 L615.1,437.1 L613.4,437.5 L611.8,437.8 L611.0,438.0 L609.3,438.4 L607.7,438.8 L606.8,439.0 L605.2,439.4 L603.6,439.8 L602.2,440.2 L601.1,440.4 L599.5,440.8 L597.9,441.2 L597.0,441.4 L595.4,441.8 L593.8,442.2 L592.9,442.4 L591.3,442.8 L589.7,443.2 L588.4,443.5 L587.2,443.8 L585.6,444.2 L583.9,444.6 L583.1,444.8 L581.5,445.2 L579.8,445.6 L579.0,445.8 L577.4,446.2 L575.7,446.6 L574.6,446.9 L573.3,447.2 L571.6,447.6 L570.1,448.0 L569.2,448.2 L567.5,448.6 L565.9,449.0 L565.1,449.2 L563.4,449.6 L561.8,450.0 L561.0,450.2 L559.3,450.6 L557.7,451.0 L556.5,451.3 L555.2,451.6 L553.6,452.1 L552.0,452.5 L551.2,452.7 L549.5,453.1 L547.9,453.5 L547.1,453.7 L545.4,454.1 L543.8,454.5 L542.9,454.7 L541.3,455.1 L539.7,455.5 L538.5,455.8 L537.2,456.1 L535.6,456.5 L534.0,456.9 L533.1,457.2 L531.5,457.6 L529.8,458.0 L529.0,458.2 L527.4,458.6 L525.7,459.0 L524.9,459.2 L523.3,459.6 L521.6,460.0 L520.6,460.3 L519.2,460.7 L517.6,461.1 L516.2,461.4 L515.1,461.7 L513.5,462.1 L511.8,462.5 L511.0,462.7 L509.4,463.2 L507.7,463.6 L506.9,463.8 L505.3,464.2 L503.6,464.6 L502.8,464.8 L501.2,465.2 L499.5,465.7 L498.6,465.9 L497.1,466.3 L495.4,466.7 L494.2,467.0 L493.0,467.3 L491.3,467.8 L489.9,468.1 L488.9,468.4 L487.2,468.8 L485.6,469.2 L484.8,469.4 L483.1,469.9 L481.5,470.3 L480.7,470.5 L479.0,470.9 L477.4,471.3 L476.6,471.6 L474.9,472.0 L473.3,472.4 L472.5,472.6 L470.8,473.0 L469.2,473.5 L468.2,473.7 L466.7,474.1 L465.1,474.5 L464.0,474.8 L462.6,475.2 L461.0,475.6 L459.7,476.0 L458.5,476.3 L456.9,476.7 L455.4,477.1 L454.5,477.3 L452.8,477.8 L451.2,478.2 L450.4,478.4 L448.7,478.8 L447.1,479.3 L446.3,479.5 L444.6,479.9 L443.0,480.3 L442.2,480.6 L440.5,481.0 L438.9,481.4 L438.1,481.6 L436.4,482.1 L434.8,482.5 L434.0,482.7 L432.3,483.2 L430.7,483.6 L429.9,483.8 L428.2,484.3 L426.6,484.7 L425.8,484.9 L424.1,485.4 L422.5,485.8 L421.6,486.0 L420.0,486.5 L418.4,486.9 L417.4,487.1 L415.9,487.6 L414.3,488.0 L413.3,488.3 L411.8,488.7 L410.2,489.1 L409.1,489.4 L407.7,489.8 L406.1,490.2 L405.0,490.5 L403.6,490.9 L402.0,491.3 L400.9,491.6 L399.5,492.0 L397.9,492.4 L396.8,492.7 L395.4,493.1 L393.8,493.5 L392.6,493.9 L391.3,494.2 L389.7,494.7 L388.6,495.0 L387.3,495.3 L385.6,495.8 L384.5,496.1 L383.2,496.5 L381.5,496.9 L380.4,497.2 L379.1,497.6 L377.4,498.0 L376.3,498.3 L375.0,498.7 L373.3,499.2 L372.3,499.5 L370.9,499.9 L369.2,500.3 L368.3,500.6 L366.8,501.0 L365.1,501.4 L364.2,501.7 L362.7,502.1 L361.0,502.6 L360.2,502.8 L358.6,503.3 L356.9,503.7 L356.1,504.0 L354.5,504.4 L352.8,504.9 L352.0,505.1 L350.4,505.6 L348.7,506.0 L347.9,506.3 L346.3,506.7 L344.6,507.2 L343.8,507.4 L342.2,507.9 L340.5,508.3 L339.7,508.6 L338.1,509.0 L336.4,509.5 L335.6,509.7 L334.0,510.2 L332.4,510.6 L331.5,510.9 L329.9,511.4 L328.5,511.8 L327.4,512.1 L325.8,512.5 L324.6,512.9 L323.3,513.3 L321.7,513.7 L320.7,514.0 L319.2,514.4 L317.6,514.9 L316.8,515.1 L315.1,515.6 L313.5,516.1 L312.7,516.3 L311.0,516.8 L309.4,517.3 L308.6,517.5 L306.9,518.0 L305.3,518.5 L304.5,518.7 L302.8,519.2 L301.4,519.6 L300.4,519.9 L298.7,520.4 L297.6,520.7 L296.3,521.1 L294.6,521.6 L293.7,521.8 L292.2,522.3 L290.6,522.8 L289.7,523.0 L288.1,523.5 L286.5,524.0 L285.6,524.2 L284.0,524.7 L282.4,525.2 L281.5,525.4 L279.9,525.9 L278.6,526.3 L277.4,526.6 L275.8,527.1 L274.8,527.4 L273.3,527.9 L271.7,528.4 L270.9,528.6 L269.2,529.1 L267.6,529.6 L266.8,529.8 L265.1,530.3 L263.6,530.8 L262.7,531.1 L261.0,531.6 L259.9,531.9 L258.6,532.3 L257.0,532.8 L256.1,533.0 L254.5,533.5 L252.9,534.0 L252.0,534.3 L250.4,534.8 L248.8,535.3 L247.9,535.5 L246.3,536.0 L245.1,536.4 L243.8,536.8 L242.2,537.3 L241.4,537.5 L239.7,538.0 L238.1,538.5 L237.3,538.8 L235.6,539.3 L234.2,539.7 L233.2,540.1 L231.5,540.6 L230.6,540.9 L229.1,541.3 L227.4,541.8 L226.6,542.1 L225.0,542.6 L223.4,543.1 L222.5,543.4 L220.9,543.9 L219.8,544.2 L218.4,544.6 L216.8,545.1 L216.0,545.4 L214.3,545.9 L212.7,546.4 L211.9,546.7 L210.2,547.2 L209.1,547.6 L207.8,548.0 L206.1,548.5 L205.3,548.8 L203.7,549.3 L202.0,549.8 L201.2,550.1 L199.6,550.6 L198.5,550.9 L197.1,551.4 L195.5,551.9 L194.7,552.2 L193.0,552.7 L191.5,553.2 L190.6,553.5 L188.9,554.0 L188.0,554.3 L186.5,554.8 L184.8,555.3 L184.0,555.6 L182.4,556.1 L181.1,556.5 L179.9,556.9 L178.3,557.4 L177.5,557.7 L175.8,558.2 L174.2,558.8 L173.4,559.0 L171.7,559.6 L170.8,559.9 L169.3,560.4 L167.6,560.9 L166.8,561.2 L165.2,561.7 L164.0,562.1 L162.7,562.5 L161.1,563.1 L160.2,563.4 L158.6,563.9 L157.3,564.4 L156.2,564.7 L154.5,565.3 L153.7,565.5 L152.1,566.1 L150.5,566.6 L149.6,566.9 L148.0,567.5 L147.1,567.7 L145.5,568.3 L143.9,568.8 L143.0,569.1 L141.4,569.7 L140.6,569.9 L138.9,570.5 L137.3,571.1 L136.5,571.3 L134.8,571.9 L134.0,572.2 L132.4,572.7 L130.7,573.3 L129.9,573.6 L128.3,574.1 L127.4,574.4 L125.8,575.0 L124.2,575.5 L123.4,575.8 L121.7,576.4 L120.9,576.7 L119.3,577.2 L117.7,577.8 L116.8,578.1 L115.2,578.7 L114.4,578.9 L112.7,579.5 L111.3,580.0 L110.3,580.4 L108.6,581.0 L107.8,581.2 L106.2,581.8 L104.9,582.3 L103.7,582.7 L102.1,583.3 L101.2,583.5 L99.6,584.1 L98.6,584.5 L97.1,585.0 L95.5,585.6 L94.7,585.9 L93.1,586.5 L92.2,586.8 L90.6,587.3 L89.2,587.8 L88.1,588.2 L86.5,588.8 L85.7,589.1 L84.0,589.7 L83.0,590.1 L81.6,590.6 L79.9,591.2 L79.1,591.5 L77.5,592.1 L76.7,592.4 L75.0,593.0 L73.8,593.4 L72.6,593.9 L70.9,594.5 L70.1,594.8 L68.5,595.4 L67.6,595.7 L66.0,596.3 L64.7,596.8 L63.5,597.2 L61.9,597.8 L61.1,598.1 L59.5,598.7 L58.6,599.1 L57.0,599.7 L55.7,600.2 L54.5,600.6 L52.9,601.2 L52.1,601.5 L50.4,602.1 L49.6,602.4 L48.0,603.1 L46.8,603.5 L45.5,604.0"/>
<path d="M635.6,485.3 L633.9,485.8 L632.9,486.0 L631.5,486.4 L629.8,486.9 L628.7,487.1 L627.4,487.5 L625.7,487.9 L624.5,488.3 L623.3,488.6 L621.6,489.0 L620.3,489.4 L619.2,489.7 L617.5,490.1 L616.2,490.5 L615.1,490.8 L613.4,491.2 L612.0,491.6 L611.0,491.9 L609.3,492.4 L607.9,492.7 L606.9,493.0 L605.2,493.5 L603.8,493.9 L602.8,494.1 L601.1,494.6 L599.6,495.0 L598.7,495.2 L597.0,495.7 L595.5,496.1 L594.6,496.4 L592.9,496.8 L591.4,497.2 L590.5,497.5 L588.8,497.9 L587.3,498.3 L586.4,498.6 L584.8,499.0 L583.3,499.5 L582.3,499.7 L580.7,500.2 L579.2,500.6 L578.2,500.9 L576.6,501.3 L575.2,501.7 L574.1,502.0 L572.5,502.4 L571.1,502.8 L570.0,503.1 L568.4,503.6 L567.1,503.9 L565.9,504.3 L564.3,504.7 L563.1,505.1 L561.8,505.4 L560.2,505.9 L559.1,506.2 L557.7,506.5 L556.1,507.0 L555.1,507.3 L553.6,507.7 L552.0,508.2 L551.1,508.4 L549.5,508.9 L547.9,509.3 L547.1,509.5 L545.4,510.0 L543.8,510.5 L543.0,510.7 L541.3,511.2 L539.7,511.6 L538.9,511.9 L537.2,512.3 L535.6,512.8 L534.8,513.0 L533.1,513.5 L531.5,514.0 L530.7,514.2 L529.0,514.7 L527.4,515.1 L526.6,515.4 L524.9,515.8 L523.5,516.2 L522.5,516.5 L520.8,517.0 L519.6,517.4 L518.4,517.7 L516.7,518.2 L515.7,518.5 L514.3,518.9 L512.6,519.4 L511.8,519.6 L510.2,520.1 L508.5,520.6 L507.7,520.8 L506.1,521.3 L504.4,521.8 L503.6,522.0 L502.0,522.5 L500.3,523.0 L499.5,523.2 L497.9,523.7 L496.5,524.1 L495.4,524.4 L493.8,524.9 L492.7,525.2 L491.3,525.6 L489.7,526.1 L488.9,526.3 L487.2,526.8 L485.6,527.3 L484.8,527.5 L483.1,528.0 L481.5,528.5 L480.7,528.7 L479.0,529.2 L477.6,529.7 L476.6,530.0 L474.9,530.5 L473.8,530.8 L472.5,531.2 L470.8,531.7 L470.0,531.9 L468.4,532.4 L466.7,532.9 L465.9,533.1 L464.3,533.6 L462.6,534.1 L461.8,534.4 L460.2,534.9 L458.9,535.3 L457.7,535.6 L456.1,536.1 L455.2,536.4 L453.6,536.9 L452.0,537.4 L451.2,537.6 L449.5,538.1 L447.9,538.6 L447.1,538.9 L445.4,539.4 L444.2,539.7 L443.0,540.1 L441.3,540.6 L440.5,540.9 L438.9,541.4 L437.2,541.9 L436.4,542.1 L434.8,542.6 L433.3,543.1 L432.3,543.4 L430.7,543.9 L429.7,544.2 L428.2,544.7 L426.6,545.2 L425.8,545.4 L424.1,545.9 L422.5,546.4 L421.7,546.7 L420.0,547.2 L418.9,547.6 L417.6,548.0 L415.9,548.5 L415.1,548.8 L413.5,549.3 L411.8,549.8 L411.0,550.0 L409.4,550.6 L408.2,550.9 L406.9,551.3 L405.3,551.9 L404.5,552.1 L402.8,552.6 L401.2,553.2 L400.4,553.4 L398.7,553.9 L397.7,554.3 L396.3,554.7 L394.6,555.3 L393.8,555.5 L392.2,556.0 L390.7,556.5 L389.7,556.8 L388.1,557.4 L387.2,557.6 L385.6,558.2 L384.0,558.7 L383.2,559.0 L381.5,559.5 L380.3,559.9 L379.1,560.3 L377.4,560.8 L376.6,561.1 L375.0,561.6 L373.4,562.1 L372.5,562.4 L370.9,563.0 L370.0,563.2 L368.4,563.8 L366.8,564.3 L365.9,564.6 L364.3,565.1 L363.2,565.5 L361.8,565.9 L360.2,566.5 L359.4,566.7 L357.7,567.3 L356.5,567.7 L355.3,568.1 L353.7,568.7 L352.8,568.9 L351.2,569.5 L349.8,569.9 L348.7,570.3 L347.1,570.9 L346.3,571.1 L344.6,571.7 L343.1,572.2 L342.2,572.5 L340.5,573.1 L339.7,573.3 L338.1,573.9 L336.5,574.4 L335.6,574.7 L334.0,575.3 L333.2,575.6 L331.5,576.1 L330.0,576.7 L329.1,577.0 L327.4,577.5 L326.6,577.8 L325.0,578.4 L323.5,578.9 L322.5,579.2 L320.9,579.8 L320.1,580.1 L318.4,580.7 L317.0,581.1 L316.0,581.5 L314.3,582.1 L313.5,582.4 L311.9,582.9 L310.6,583.4 L309.4,583.8 L307.8,584.4 L306.9,584.7 L305.3,585.2 L304.3,585.6 L302.8,586.1 L301.2,586.7 L300.4,587.0 L298.7,587.6 L297.9,587.9 L296.3,588.4 L294.8,589.0 L293.8,589.3 L292.2,589.9 L291.4,590.2 L289.7,590.8 L288.6,591.2 L287.3,591.7 L285.6,592.3 L284.8,592.6 L283.2,593.2 L282.4,593.4 L280.7,594.0 L279.3,594.6 L278.3,594.9 L276.6,595.5 L275.8,595.8 L274.2,596.4 L273.2,596.8 L271.7,597.3 L270.1,597.9 L269.2,598.2 L267.6,598.9 L266.8,599.2 L265.1,599.8 L264.1,600.2 L262.7,600.7 L261.1,601.3 L260.2,601.6 L258.6,602.2 L257.8,602.5 L256.1,603.1 L255.1,603.5 L253.7,604.1 L252.2,604.6 L251.2,605.0 L249.6,605.6 L248.8,605.9 L247.1,606.5 L246.3,606.9 L244.7,607.5 L243.3,608.0 L242.2,608.4 L240.6,609.1 L239.7,609.4 L238.1,610.0 L237.3,610.3 L235.6,610.9 L234.6,611.3 L233.2,611.9 L231.7,612.5 L230.7,612.9 L229.1,613.5 L228.3,613.8 L226.6,614.5 L225.8,614.8 L224.2,615.4 L223.2,615.8 L221.7,616.4 L220.4,616.9 L219.3,617.4 L217.6,618.0 L216.8,618.3 L215.2,619.0 L214.3,619.3 L212.7,620.0 L211.9,620.3 L210.2,621.0 L209.2,621.4 L207.8,622.0 L206.4,622.5 L205.3,623.0 L203.7,623.6 L202.9,624.0 L201.2,624.6 L200.4,625.0 L198.8,625.6 L197.9,626.0 L196.3,626.6 L195.4,627.0 L193.8,627.7 L192.7,628.1 L191.4,628.7 L190.0,629.2 L188.9,629.7 L187.4,630.4 L186.5,630.7 L184.8,631.4 L184.0,631.8 L182.4,632.5 L181.6,632.8 L179.9,633.5 L179.1,633.8 L177.5,634.5 L176.6,634.9 L175.0,635.6 L174.2,636.0 L172.5,636.6 L171.5,637.1 L170.1,637.7 L169.0,638.2 L167.6,638.8 L166.4,639.3 L165.2,639.8 L163.8,640.4 L162.7,640.9 L161.3,641.6 L160.2,642.0 L158.7,642.7 L157.8,643.1 L156.2,643.8 L155.3,644.2 L153.7,644.9 L152.9,645.3 L151.2,646.0 L150.4,646.4 L148.8,647.1 L148.0,647.5 L146.3,648.2 L145.5,648.6 L143.9,649.3 L143.0,649.7 L141.4,650.5 L140.6,650.8 L138.9,651.6 L138.1,652.0 L136.5,652.7 L135.7,653.1 L134.0,653.9 L133.2,654.2 L131.6,655.0 L130.7,655.4 L129.2,656.1 L128.3,656.5 L126.9,657.2 L125.8,657.7 L124.5,658.3 L123.4,658.9 L122.1,659.5 L120.9,660.0 L119.8,660.6 L118.5,661.2 L117.5,661.7 L116.0,662.4 L115.2,662.8 L113.5,663.6 L112.7,664.0 L111.1,664.8 L110.3,665.2 L108.6,666.0 L107.8,666.4 L106.2,667.2 L105.3,667.6 L103.8,668.4 L102.9,668.9 L101.6,669.5 L100.4,670.1 L99.4,670.6 L98.0,671.4 L97.1,671.8 L95.5,672.6 L94.7,673.0 L93.1,673.9 L92.2,674.3 L90.6,675.1 L89.8,675.6 L88.5,676.2 L87.3,676.8 L86.3,677.4 L84.9,678.1 L84.0,678.6 L82.4,679.4 L81.6,679.9 L80.0,680.7 L79.1,681.2 L77.9,681.8 L76.7,682.5 L75.8,683.0 L74.2,683.8 L73.4,684.3 L71.7,685.2 L70.9,685.6 L69.7,686.3 L68.5,687.0 L67.6,687.4 L66.0,688.4 L65.2,688.8 L63.7,689.7 L62.7,690.2 L61.7,690.8 L60.3,691.6 L59.5,692.1 L57.8,693.0 L57.0,693.5 L55.8,694.1 L54.5,694.9 L53.7,695.4 L52.1,696.3 L51.3,696.8 L50.1,697.5 L48.8,698.3 L48.0,698.7 L46.3,699.7 L45.5,700.2"/>
<path d="M635.6,545.4 L633.9,545.9 L632.3,546.4 L631.5,546.7 L629.8,547.2 L628.6,547.6 L627.4,548.0 L625.7,548.5 L624.9,548.7 L623.3,549.2 L621.6,549.8 L620.8,550.0 L619.2,550.5 L617.9,550.9 L616.7,551.3 L615.1,551.8 L614.3,552.1 L612.6,552.6 L611.0,553.1 L610.2,553.4 L608.5,553.9 L607.2,554.3 L606.1,554.7 L604.4,555.2 L603.6,555.4 L602.0,556.0 L600.3,556.5 L599.5,556.7 L597.9,557.3 L596.7,557.6 L595.4,558.1 L593.8,558.6 L592.9,558.8 L591.3,559.4 L589.7,559.9 L588.8,560.2 L587.2,560.7 L586.3,561.0 L584.8,561.5 L583.1,562.0 L582.3,562.3 L580.7,562.8 L579.4,563.2 L578.2,563.6 L576.6,564.1 L575.7,564.4 L574.1,565.0 L572.5,565.5 L571.6,565.8 L570.0,566.3 L569.1,566.6 L567.5,567.1 L565.9,567.6 L565.1,567.9 L563.4,568.5 L562.3,568.8 L561.0,569.3 L559.3,569.8 L558.5,570.1 L556.9,570.6 L555.6,571.1 L554.4,571.5 L552.8,572.0 L552.0,572.3 L550.3,572.8 L548.9,573.3 L547.9,573.7 L546.2,574.2 L545.4,574.5 L543.8,575.0 L542.3,575.5 L541.3,575.9 L539.7,576.4 L538.9,576.7 L537.2,577.3 L535.7,577.8 L534.8,578.1 L533.1,578.7 L532.3,578.9 L530.7,579.5 L529.2,580.0 L528.2,580.3 L526.6,580.9 L525.7,581.2 L524.1,581.8 L522.7,582.3 L521.6,582.6 L520.0,583.2 L519.2,583.5 L517.6,584.0 L516.2,584.5 L515.1,584.9 L513.5,585.5 L512.6,585.7 L511.0,586.3 L509.8,586.7 L508.5,587.2 L506.9,587.8 L506.1,588.0 L504.4,588.6 L503.5,589.0 L502.0,589.5 L500.3,590.1 L499.5,590.4 L497.9,590.9 L497.1,591.2 L495.4,591.8 L494.0,592.3 L493.0,592.7 L491.3,593.3 L490.5,593.6 L488.9,594.2 L487.8,594.6 L486.4,595.1 L484.8,595.7 L484.0,596.0 L482.3,596.6 L481.5,596.8 L479.9,597.4 L478.6,597.9 L477.4,598.3 L475.8,598.9 L474.9,599.2 L473.3,599.8 L472.5,600.2 L470.8,600.8 L469.4,601.3 L468.4,601.7 L466.7,602.3 L465.9,602.6 L464.3,603.2 L463.4,603.5 L461.8,604.1 L460.4,604.6 L459.4,605.0 L457.7,605.6 L456.9,605.9 L455.3,606.6 L454.4,606.9 L452.8,607.5 L451.5,608.0 L450.4,608.4 L448.7,609.0 L447.9,609.3 L446.3,610.0 L445.4,610.3 L443.8,610.9 L442.7,611.3 L441.3,611.9 L439.8,612.5 L438.9,612.8 L437.2,613.4 L436.4,613.8 L434.8,614.4 L434.0,614.7 L432.3,615.3 L431.1,615.8 L429.9,616.3 L428.2,616.9 L427.4,617.3 L425.8,617.9 L424.9,618.2 L423.3,618.9 L422.5,619.2 L420.9,619.8 L419.7,620.3 L418.4,620.8 L416.9,621.4 L415.9,621.8 L414.3,622.5 L413.5,622.8 L411.8,623.4 L411.0,623.8 L409.4,624.4 L408.6,624.8 L406.9,625.4 L405.8,625.9 L404.5,626.4 L403.0,627.0 L402.0,627.4 L400.4,628.1 L399.5,628.4 L397.9,629.1 L397.1,629.4 L395.4,630.1 L394.6,630.5 L393.0,631.1 L392.2,631.5 L390.5,632.2 L389.5,632.6 L388.1,633.2 L386.8,633.7 L385.6,634.2 L384.1,634.8 L383.2,635.3 L381.5,635.9 L380.7,636.3 L379.1,637.0 L378.2,637.3 L376.6,638.0 L375.8,638.4 L374.1,639.1 L373.3,639.4 L371.7,640.1 L370.9,640.5 L369.2,641.2 L368.4,641.6 L366.8,642.3 L365.9,642.7 L364.3,643.4 L363.3,643.8 L361.8,644.4 L360.8,644.9 L359.4,645.5 L358.2,646.0 L356.9,646.6 L355.7,647.1 L354.5,647.7 L353.2,648.3 L352.0,648.8 L350.7,649.4 L349.6,649.9 L348.2,650.5 L347.1,651.0 L345.7,651.6 L344.6,652.1 L343.3,652.7 L342.2,653.2 L340.8,653.9 L339.7,654.4 L338.4,655.0 L337.3,655.5 L336.0,656.1 L334.8,656.6 L333.6,657.2 L332.3,657.8 L331.2,658.3 L329.9,658.9 L328.8,659.5 L327.4,660.1 L326.4,660.6 L325.0,661.3 L324.1,661.7 L322.5,662.4 L321.7,662.8 L320.1,663.6 L319.2,664.0 L317.6,664.8 L316.8,665.2 L315.1,666.0 L314.3,666.4 L312.7,667.2 L311.9,667.6 L310.2,668.4 L309.4,668.8 L307.9,669.5 L306.9,670.0 L305.7,670.6 L304.5,671.2 L303.4,671.8 L302.0,672.5 L301.2,672.9 L299.6,673.7 L298.7,674.1 L297.1,675.0 L296.3,675.4 L294.6,676.2 L293.8,676.6 L292.4,677.4 L291.4,677.9 L290.3,678.5 L288.9,679.2 L288.1,679.6 L286.5,680.5 L285.6,680.9 L284.0,681.8 L283.2,682.2 L281.8,682.9 L280.7,683.5 L279.7,684.1 L278.3,684.8 L277.4,685.3 L275.8,686.2 L275.0,686.6 L273.5,687.4 L272.5,687.9 L271.4,688.5 L270.1,689.3 L269.2,689.7 L267.6,690.7 L266.8,691.1 L265.4,691.9 L264.3,692.5 L263.4,693.0 L261.9,693.9 L261.0,694.3 L259.4,695.3 L258.6,695.7 L257.5,696.4 L256.1,697.2 L255.3,697.6 L253.7,698.6 L252.9,699.1 L251.7,699.7 L250.4,700.5 L249.6,701.0 L247.9,702.0 L247.1,702.5 L246.1,703.1 L244.7,703.9 L243.8,704.4 L242.4,705.3 L241.4,705.9 L240.5,706.4 L238.9,707.4 L238.1,708.0 L236.9,708.7 L235.6,709.5 L234.8,710.0 L233.4,710.9 L232.4,711.6 L231.5,712.1 L229.9,713.1 L229.1,713.6 L228.1,714.3 L226.6,715.2 L225.8,715.8 L224.7,716.5 L223.4,717.4 L222.5,717.9 L221.3,718.8 L220.1,719.6 L219.3,720.1 L218.0,721.0 L216.8,721.8 L216.0,722.4 L214.7,723.2 L213.5,724.1 L212.7,724.6 L211.5,725.5 L210.2,726.4 L209.4,726.9 L208.3,727.7 L207.0,728.7 L206.1,729.3 L205.2,729.9 L203.7,731.1 L202.9,731.7 L202.0,732.3 L200.7,733.3 L199.6,734.1 L198.8,734.7 L197.7,735.5 L196.3,736.6 L195.5,737.3 L194.7,737.9 L193.4,738.9 L192.2,739.8 L191.4,740.5 L190.6,741.1 L189.2,742.2 L188.1,743.1 L187.3,743.8 L186.4,744.5 L185.1,745.6 L184.0,746.5 L183.2,747.2 L182.4,747.9 L181.1,749.0 L179.9,750.0 L179.1,750.7 L178.3,751.4 L177.3,752.3 L176.0,753.4 L175.0,754.3 L174.2,755.1 L173.4,755.8 L172.3,756.8 L171.1,757.9 L170.1,758.9 L169.3,759.7 L168.4,760.5 L167.6,761.3 L166.5,762.4 L165.4,763.5 L164.3,764.5 L163.5,765.4 L162.7,766.2 L161.9,767.0 L161.0,768.0 L159.9,769.1 L158.9,770.2 L157.9,771.3 L157.0,772.3 L156.2,773.2 L155.3,774.2 L154.5,775.1 L153.7,776.1 L152.9,777.0 L152.0,778.1 L151.1,779.2 L150.2,780.3"/>
<path d="M635.6,617.1 L633.9,617.8 L633.1,618.1 L631.5,618.7 L630.3,619.2 L629.0,619.7 L627.5,620.3 L626.5,620.7 L624.9,621.3 L624.1,621.6 L622.4,622.3 L621.6,622.6 L620.0,623.2 L619.0,623.6 L617.5,624.2 L616.2,624.8 L615.1,625.2 L613.4,625.9 L612.6,626.2 L611.0,626.9 L610.2,627.2 L608.5,627.8 L607.7,628.2 L606.1,628.8 L605.1,629.2 L603.6,629.8 L602.3,630.4 L601.1,630.8 L599.6,631.5 L598.7,631.9 L597.0,632.5 L596.2,632.9 L594.6,633.5 L593.8,633.9 L592.1,634.6 L591.3,634.9 L589.7,635.6 L588.8,636.0 L587.2,636.6 L586.1,637.1 L584.8,637.7 L583.5,638.2 L582.3,638.7 L580.8,639.3 L579.8,639.7 L578.2,640.4 L577.4,640.8 L575.7,641.5 L574.9,641.8 L573.3,642.5 L572.5,642.9 L570.8,643.6 L570.0,643.9 L568.4,644.7 L567.5,645.0 L565.9,645.7 L565.1,646.1 L563.4,646.8 L562.6,647.2 L561.0,647.9 L560.1,648.3 L558.5,649.0 L557.6,649.4 L556.1,650.1 L555.1,650.5 L553.6,651.2 L552.6,651.6 L551.2,652.3 L550.1,652.7 L548.7,653.4 L547.6,653.9 L546.2,654.5 L545.1,655.0 L543.8,655.6 L542.7,656.1 L541.3,656.7 L540.2,657.2 L538.9,657.8 L537.8,658.3 L536.4,659.0 L535.4,659.5 L533.9,660.1 L533.0,660.6 L531.5,661.3 L530.6,661.7 L529.0,662.4 L528.2,662.8 L526.6,663.6 L525.7,664.0 L524.1,664.8 L523.3,665.2 L521.6,665.9 L520.8,666.3 L519.2,667.1 L518.4,667.5 L516.7,668.3 L515.9,668.7 L514.3,669.5 L513.5,669.9 L511.9,670.6 L511.0,671.1 L509.7,671.8 L508.5,672.3 L507.4,672.9 L506.1,673.5 L505.2,674.0 L503.6,674.8 L502.8,675.2 L501.2,676.0 L500.3,676.4 L498.7,677.2 L497.9,677.7 L496.3,678.5 L495.4,678.9 L494.1,679.6 L493.0,680.2 L491.9,680.7 L490.5,681.5 L489.7,681.9 L488.1,682.7 L487.2,683.2 L485.6,684.0 L484.8,684.5 L483.4,685.2 L482.3,685.8 L481.3,686.3 L479.9,687.1 L479.0,687.5 L477.4,688.4 L476.6,688.8 L475.1,689.7 L474.1,690.2 L473.0,690.8 L471.7,691.5 L470.8,692.0 L469.2,692.9 L468.4,693.3 L466.9,694.1 L465.9,694.7 L464.9,695.3 L463.5,696.1 L462.6,696.5 L461.0,697.5 L460.2,697.9 L459.0,698.6 L457.7,699.4 L456.9,699.8 L455.3,700.8 L454.5,701.2 L453.2,702.0 L452.0,702.7 L451.2,703.2 L449.5,704.1 L448.7,704.6 L447.5,705.3 L446.3,706.1 L445.4,706.6 L443.8,707.6 L443.0,708.1 L442.0,708.7 L440.5,709.6 L439.7,710.1 L438.3,710.9 L437.2,711.6 L436.4,712.1 L434.8,713.1 L434.0,713.7 L433.0,714.3 L431.5,715.2 L430.7,715.7 L429.5,716.5 L428.2,717.3 L427.4,717.9 L426.0,718.8 L424.9,719.5 L424.1,720.0 L422.6,721.0 L421.7,721.6 L420.9,722.2 L419.3,723.2 L418.4,723.8 L417.6,724.4 L416.0,725.5 L415.1,726.1 L414.3,726.6 L412.8,727.7 L411.8,728.4 L411.0,728.9 L409.6,729.9 L408.6,730.7 L407.7,731.3 L406.5,732.2 L405.3,733.0 L404.5,733.6 L403.4,734.4 L402.0,735.5 L401.2,736.1 L400.4,736.7 L398.9,737.8 L397.9,738.5 L397.1,739.2 L396.0,740.0 L394.6,741.1 L393.8,741.7 L393.0,742.3 L391.7,743.4 L390.5,744.3 L389.7,744.9 L388.9,745.6 L387.5,746.7 L386.4,747.6 L385.6,748.3 L384.8,749.0 L383.5,750.1 L382.3,751.0 L381.5,751.7 L380.7,752.4 L379.6,753.4 L378.3,754.6 L377.4,755.3 L376.6,756.0 L375.8,756.8 L374.5,757.9 L373.3,759.0 L372.5,759.8 L371.7,760.5 L370.9,761.3 L369.7,762.4 L368.6,763.5 L367.6,764.4 L366.8,765.3 L365.9,766.1 L365.1,766.9 L364.0,768.0 L362.9,769.1 L361.9,770.2 L361.0,771.1 L360.2,772.0 L359.4,772.8 L358.6,773.7 L357.7,774.7 L356.7,775.8 L355.7,776.9 L354.7,778.1 L353.7,779.2 L352.8,780.2"/>
<path d="M635.6,715.7 L634.2,716.5 L633.1,717.2 L632.3,717.8 L630.7,718.8 L629.8,719.3 L629.0,719.9 L627.4,720.9 L626.5,721.4 L625.5,722.1 L624.1,723.1 L623.3,723.6 L622.1,724.3 L620.8,725.2 L620.0,725.8 L618.8,726.6 L617.5,727.5 L616.7,728.0 L615.5,728.8 L614.3,729.7 L613.4,730.3 L612.3,731.1 L611.0,732.0 L610.2,732.6 L609.1,733.3 L607.7,734.3 L606.9,734.9 L606.0,735.5 L604.5,736.7 L603.6,737.3 L602.8,737.9 L601.4,738.9 L600.3,739.7 L599.5,740.3 L598.5,741.1 L597.0,742.2 L596.2,742.8 L595.4,743.5 L594.1,744.5 L592.9,745.4 L592.1,746.0 L591.3,746.7 L589.9,747.8 L588.8,748.7 L588.0,749.3 L587.1,750.1 L585.7,751.2 L584.8,752.0 L583.9,752.7 L583.1,753.4 L581.7,754.6 L580.7,755.5 L579.8,756.2 L579.0,756.9 L577.9,757.9 L576.6,759.0 L575.7,759.8 L574.9,760.6 L574.1,761.3 L572.9,762.4 L571.7,763.5 L570.8,764.3 L570.0,765.1 L569.2,765.9 L568.2,766.9 L567.0,768.0 L565.9,769.1 L565.1,769.9 L564.3,770.7 L563.4,771.6 L562.6,772.5 L561.5,773.6 L560.4,774.7 L559.4,775.8 L558.5,776.7 L557.7,777.6 L556.9,778.5 L556.1,779.4"/>
</g>
<rect x="121.8" y="150.4" width="36" height="14" fill="#fff" transform="rotate(-9.1 139.8 157.4)"/>
<rect x="114.4" y="224.2" width="36" height="14" fill="#fff" transform="rotate(-9.9 132.4 231.2)"/>
<rect x="123.4" y="302.1" width="36" height="14" fill="#fff" transform="rotate(-11.0 141.4 309.1)"/>
<rect x="134.9" y="389.1" width="36" height="14" fill="#fff" transform="rotate(-12.7 152.9 396.1)"/>
<rect x="132.4" y="495.5" width="36" height="14" fill="#fff" transform="rotate(-15.7 150.4 502.5)"/>
<rect x="292.2" y="123.5" width="36" height="14" fill="#fff" transform="rotate(-8.8 310.2 130.5)"/>
<rect x="283.2" y="195.2" width="36" height="14" fill="#fff" transform="rotate(-9.6 301.2 202.2)"/>
<rect x="293.0" y="269.9" width="36" height="14" fill="#fff" transform="rotate(-10.5 311.0 276.9)"/>
<rect x="302.1" y="352.8" width="36" height="14" fill="#fff" transform="rotate(-11.9 320.1 359.8)"/>
<rect x="299.6" y="451.1" width="36" height="14" fill="#fff" transform="rotate(-14.2 317.6 458.1)"/>
<rect x="316.0" y="568.3" width="36" height="14" fill="#fff" transform="rotate(-18.8 334.0 575.3)"/>
<rect x="460.2" y="97.8" width="36" height="14" fill="#fff" transform="rotate(-8.6 478.2 104.8)"/>
<rect x="453.7" y="167.0" width="36" height="14" fill="#fff" transform="rotate(-9.2 471.7 174.0)"/>
<rect x="461.9" y="239.3" width="36" height="14" fill="#fff" transform="rotate(-10.1 479.9 246.3)"/>
<rect x="471.7" y="318.2" width="36" height="14" fill="#fff" transform="rotate(-11.2 489.7 325.2)"/>
<rect x="467.6" y="410.4" width="36" height="14" fill="#fff" transform="rotate(-13.1 485.6 417.4)"/>
<rect x="480.7" y="516.4" width="36" height="14" fill="#fff" transform="rotate(-16.3 498.7 523.4)"/>
<rect x="491.4" y="664.9" width="36" height="14" fill="#fff" transform="rotate(-26.3 509.4 671.9)"/>
<text x="139.8" y="167.1" font-size="22.8" text-anchor="middle" fill="#000" transform="rotate(-9.1 139.8 157.4)">22</text>
<text x="132.4" y="240.9" font-size="22.8" text-anchor="middle" fill="#000" transform="rotate(-9.9 132.4 231.2)">23</text>
<text x="141.4" y="318.8" font-size="22.8" text-anchor="middle" fill="#000" transform="rotate(-11.0 141.4 309.1)">24</text>
<text x="152.9" y="405.8" font-size="22.8" text-anchor="middle" fill="#000" transform="rotate(-12.7 152.9 396.1)">25</text>
<text x="150.4" y="512.2" font-size="22.8" text-anchor="middle" fill="#000" transform="rotate(-15.7 150.4 502.5)">26</text>
<text x="310.2" y="140.2" font-size="22.8" text-anchor="middle" fill="#000" transform="rotate(-8.8 310.2 130.5)">22</text>
<text x="301.2" y="211.9" font-size="22.8" text-anchor="middle" fill="#000" transform="rotate(-9.6 301.2 202.2)">23</text>
<text x="311.0" y="286.6" font-size="22.8" text-anchor="middle" fill="#000" transform="rotate(-10.5 311.0 276.9)">24</text>
<text x="320.1" y="369.5" font-size="22.8" text-anchor="middle" fill="#000" transform="rotate(-11.9 320.1 359.8)">25</text>
<text x="317.6" y="467.8" font-size="22.8" text-anchor="middle" fill="#000" transform="rotate(-14.2 317.6 458.1)">26</text>
<text x="334.0" y="585.0" font-size="22.8" text-anchor="middle" fill="#000" transform="rotate(-18.8 334.0 575.3)">27</text>
<text x="478.2" y="114.5" font-size="22.8" text-anchor="middle" fill="#000" transform="rotate(-8.6 478.2 104.8)">22</text>
<text x="471.7" y="183.7" font-size="22.8" text-anchor="middle" fill="#000" transform="rotate(-9.2 471.7 174.0)">23</text>
<text x="479.9" y="256.0" font-size="22.8" text-anchor="middle" fill="#000" transform="rotate(-10.1 479.9 246.3)">24</text>
<text x="489.7" y="334.9" font-size="22.8" text-anchor="middle" fill="#000" transform="rotate(-11.2 489.7 325.2)">25</text>
<text x="485.6" y="427.1" font-size="22.8" text-anchor="middle" fill="#000" transform="rotate(-13.1 485.6 417.4)">26</text>
<text x="498.7" y="533.1" font-size="22.8" text-anchor="middle" fill="#000" transform="rotate(-16.3 498.7 523.4)">27</text>
<text x="509.4" y="681.6" font-size="22.8" text-anchor="middle" fill="#000" transform="rotate(-26.3 509.4 671.9)">28</text>
</g>
<g clip-path="url(#clipB)">
<g fill="none" stroke="#dcdcdc" stroke-width="1.2">
<path d="M727.3,30.8 L725.7,30.9 L723.7,31.2 L721.6,31.4 L719.6,31.6 L717.6,31.9 L716.6,32.0 L714.6,32.2 L712.5,32.4 L710.5,32.7 L708.5,32.9 L707.5,33.0 L705.4,33.3 L703.4,33.5 L701.4,33.7 L699.4,33.9 L697.9,34.1 L696.3,34.3 L694.3,34.5 L692.3,34.8 L690.2,35.0 L688.2,35.2 L687.2,35.3 L685.2,35.6 L683.1,35.8 L681.1,36.0 L679.1,36.3 L678.1,36.4 L676.1,36.6 L674.0,36.8 L672.0,37.1 L670.0,37.3 L668.6,37.5 L666.9,37.7 L664.9,37.9 L662.9,38.1 L660.9,38.4 L658.8,38.6 L657.8,38.7 L655.8,38.9 L653.8,39.2 L651.7,39.4 L649.7,39.6 L648.7,39.8 L646.7,40.0"/>
<path d="M998.8,30.8 L997.2,30.9 L995.2,31.2 L993.2,31.4 L991.1,31.6 L989.1,31.9 L988.1,32.0 L986.1,32.2 L984.0,32.4 L982.0,32.7 L980.0,32.9 L979.0,33.0 L977.0,33.2 L974.9,33.5 L972.9,33.7 L970.9,33.9 L969.4,34.1 L967.8,34.3 L965.8,34.5 L963.8,34.8 L961.8,35.0 L959.7,35.2 L958.7,35.3 L956.7,35.6 L954.7,35.8 L952.6,36.0 L950.6,36.3 L949.6,36.4 L947.6,36.6 L945.5,36.8 L943.5,37.1 L941.5,37.3 L940.0,37.5 L938.5,37.6 L936.4,37.9 L934.4,38.1 L932.4,38.3 L930.4,38.6 L929.3,38.7 L927.3,38.9 L925.3,39.2 L923.3,39.4 L921.2,39.6 L920.2,39.7 L918.2,40.0 L916.2,40.2 L914.1,40.4 L912.1,40.7 L910.7,40.8 L909.1,41.0 L907.0,41.3 L905.0,41.5 L903.0,41.7 L901.0,41.9 L900.0,42.1 L897.9,42.3 L895.9,42.5 L893.9,42.8 L891.9,43.0 L890.8,43.1 L888.8,43.3 L886.8,43.6 L884.8,43.8 L882.7,44.0 L881.6,44.2 L879.7,44.4 L877.7,44.6 L875.6,44.9 L873.6,45.1 L871.8,45.3 L870.6,45.5 L868.5,45.7 L866.5,45.9 L864.5,46.2 L862.5,46.4 L861.5,46.5 L859.4,46.7 L857.4,47.0 L855.4,47.2 L853.4,47.4 L852.3,47.6 L850.3,47.8 L848.3,48.0 L846.3,48.3 L844.2,48.5 L842.8,48.7 L841.2,48.8 L839.2,49.1 L837.1,49.3 L835.1,49.6 L833.1,49.8 L832.1,49.9 L830.1,50.1 L828.0,50.4 L826.0,50.6 L824.0,50.8 L823.0,51.0 L820.9,51.2 L818.9,51.4 L816.9,51.7 L814.9,51.9 L813.8,52.0 L811.8,52.3 L809.8,52.5 L807.8,52.7 L805.7,53.0 L804.2,53.1 L802.7,53.3 L800.7,53.5 L798.6,53.8 L796.6,54.0 L794.6,54.3 L793.6,54.4 L791.6,54.6 L789.5,54.8 L787.5,55.1 L785.5,55.3 L784.5,55.4 L782.4,55.7 L780.4,55.9 L778.4,56.1 L776.4,56.4 L775.3,56.5 L773.3,56.7 L771.3,57.0 L769.3,57.2 L767.2,57.4 L765.8,57.6 L764.2,57.8 L762.2,58.0 L760.1,58.3 L758.1,58.5 L756.2,58.7 L755.1,58.9 L753.1,59.1 L751.0,59.3 L749.0,59.6 L747.0,59.8 L746.0,59.9 L743.9,60.2 L741.9,60.4 L739.9,60.6 L737.9,60.9 L736.8,61.0 L734.8,61.2 L732.8,61.5 L730.8,61.7 L728.7,62.0 L727.6,62.1 L725.7,62.3 L723.7,62.5 L721.6,62.8 L719.6,63.0 L718.1,63.2 L716.6,63.4 L714.6,63.6 L712.5,63.9 L710.5,64.1 L708.5,64.3 L707.5,64.5 L705.4,64.7 L703.4,64.9 L701.4,65.2 L699.4,65.4 L698.3,65.5 L696.3,65.8 L694.3,66.0 L692.3,66.2 L690.2,66.5 L689.2,66.6 L687.2,66.8 L685.2,67.1 L683.1,67.3 L681.1,67.6 L680.0,67.7 L678.1,67.9 L676.1,68.2 L674.0,68.4 L672.0,68.6 L670.6,68.8 L669.0,69.0 L666.9,69.2 L664.9,69.5 L662.9,69.7 L661.1,69.9 L659.8,70.1 L657.8,70.3 L655.8,70.5 L653.8,70.8 L651.7,71.0 L650.7,71.1 L648.7,71.4 L646.7,71.6"/>
<path d="M1270.2,30.8 L1268.7,30.9 L1266.7,31.2 L1264.7,31.4 L1262.7,31.6 L1260.6,31.9 L1259.6,32.0 L1257.6,32.2 L1255.6,32.4 L1253.5,32.7 L1251.5,32.9 L1250.5,33.0 L1248.5,33.2 L1246.4,33.5 L1244.4,33.7 L1242.4,33.9 L1240.7,34.1 L1239.4,34.3 L1237.3,34.5 L1235.3,34.7 L1233.3,35.0 L1231.2,35.2 L1230.2,35.3 L1228.2,35.5 L1226.2,35.8 L1224.2,36.0 L1222.1,36.2 L1221.1,36.4 L1219.1,36.6 L1217.1,36.8 L1215.0,37.0 L1213.0,37.3 L1211.3,37.5 L1210.0,37.6 L1207.9,37.9 L1205.9,38.1 L1203.9,38.3 L1201.9,38.6 L1200.9,38.7 L1198.8,38.9 L1196.8,39.1 L1194.8,39.4 L1192.7,39.6 L1191.7,39.7 L1189.7,39.9 L1187.7,40.2 L1185.7,40.4 L1183.6,40.6 L1182.0,40.8 L1180.6,41.0 L1178.6,41.2 L1176.5,41.5 L1174.5,41.7 L1172.5,41.9 L1171.5,42.0 L1169.4,42.3 L1167.4,42.5 L1165.4,42.7 L1163.4,43.0 L1162.4,43.1 L1160.3,43.3 L1158.3,43.6 L1156.3,43.8 L1154.3,44.0 L1152.8,44.2 L1151.2,44.4 L1149.2,44.6 L1147.2,44.8 L1145.1,45.1 L1143.1,45.3 L1142.1,45.4 L1140.1,45.7 L1138.0,45.9 L1136.0,46.1 L1134.0,46.4 L1133.0,46.5 L1130.9,46.7 L1128.9,46.9 L1126.9,47.2 L1124.9,47.4 L1123.7,47.5 L1121.8,47.8 L1119.8,48.0 L1117.8,48.2 L1115.8,48.5 L1114.0,48.7 L1112.7,48.8 L1110.7,49.0 L1108.7,49.3 L1106.6,49.5 L1104.6,49.7 L1103.6,49.9 L1101.6,50.1 L1099.5,50.3 L1097.5,50.6 L1095.5,50.8 L1094.5,50.9 L1092.5,51.2 L1090.4,51.4 L1088.4,51.6 L1086.4,51.9 L1085.0,52.0 L1083.3,52.2 L1081.3,52.4 L1079.3,52.7 L1077.3,52.9 L1075.3,53.1 L1074.2,53.3 L1072.2,53.5 L1070.2,53.7 L1068.1,54.0 L1066.1,54.2 L1065.1,54.3 L1063.1,54.6 L1061.0,54.8 L1059.0,55.0 L1057.0,55.3 L1056.0,55.4 L1054.0,55.6 L1051.9,55.9 L1049.9,56.1 L1047.9,56.3 L1046.5,56.5 L1044.8,56.7 L1042.8,56.9 L1040.8,57.2 L1038.8,57.4 L1036.9,57.6 L1035.7,57.7 L1033.7,58.0 L1031.7,58.2 L1029.6,58.5 L1027.6,58.7 L1026.6,58.8 L1024.6,59.0 L1022.5,59.3 L1020.5,59.5 L1018.5,59.8 L1017.5,59.9 L1015.5,60.1 L1013.4,60.3 L1011.4,60.6 L1009.4,60.8 L1008.1,61.0 L1006.3,61.2 L1004.3,61.4 L1002.3,61.7 L1000.3,61.9 L998.6,62.1 L997.2,62.2 L995.2,62.5 L993.2,62.7 L991.1,63.0 L989.1,63.2 L988.1,63.3 L986.1,63.6 L984.0,63.8 L982.0,64.0 L980.0,64.3 L979.0,64.4 L977.0,64.6 L974.9,64.9 L972.9,65.1 L970.9,65.3 L969.9,65.5 L967.8,65.7 L965.8,65.9 L963.8,66.2 L961.8,66.4 L960.5,66.6 L958.7,66.8 L956.7,67.0 L954.7,67.2 L952.6,67.5 L951.0,67.7 L949.6,67.8 L947.6,68.1 L945.5,68.3 L943.5,68.6 L941.5,68.8 L940.5,68.9 L938.5,69.2 L936.4,69.4 L934.4,69.6 L932.4,69.9 L931.4,70.0 L929.3,70.2 L927.3,70.5 L925.3,70.7 L923.3,70.9 L922.2,71.1 L920.2,71.3 L918.2,71.5 L916.2,71.8 L914.1,72.0 L913.0,72.2 L911.1,72.4 L909.1,72.6 L907.0,72.9 L905.0,73.1 L903.6,73.3 L902.0,73.5 L900.0,73.7 L897.9,73.9 L895.9,74.2 L894.2,74.4 L892.9,74.5 L890.8,74.8 L888.8,75.0 L886.8,75.3 L884.8,75.5 L883.7,75.6 L881.7,75.9 L879.7,76.1 L877.7,76.4 L875.6,76.6 L874.6,76.7 L872.6,77.0 L870.6,77.2 L868.5,77.4 L866.5,77.7 L865.5,77.8 L863.5,78.0 L861.5,78.3 L859.4,78.5 L857.4,78.8 L856.4,78.9 L854.4,79.1 L852.3,79.4 L850.3,79.6 L848.3,79.9 L847.1,80.0 L845.2,80.2 L843.2,80.5 L841.2,80.7 L839.2,80.9 L837.8,81.1 L836.1,81.3 L834.1,81.5 L832.1,81.8 L830.1,82.0 L828.4,82.2 L827.0,82.4 L825.0,82.6 L823.0,82.9 L820.9,83.1 L819.0,83.3 L817.9,83.5 L815.9,83.7 L813.8,84.0 L811.8,84.2 L809.8,84.5 L808.8,84.6 L806.7,84.8 L804.7,85.1 L802.7,85.3 L800.7,85.5 L799.7,85.7 L797.6,85.9 L795.6,86.2 L793.6,86.4 L791.6,86.6 L790.5,86.8 L788.5,87.0 L786.5,87.3 L784.5,87.5 L782.4,87.7 L781.4,87.9 L779.4,88.1 L777.4,88.3 L775.3,88.6 L773.3,88.8 L772.3,89.0 L770.3,89.2 L768.3,89.4 L766.2,89.7 L764.2,89.9 L763.2,90.1 L761.2,90.3 L759.1,90.5 L757.1,90.8 L755.1,91.0 L753.9,91.2 L752.0,91.4 L750.0,91.6 L748.0,91.9 L746.0,92.1 L744.6,92.3 L742.9,92.5 L740.9,92.7 L738.9,93.0 L736.8,93.2 L735.4,93.4 L733.8,93.6 L731.8,93.9 L729.8,94.1 L727.7,94.3 L726.1,94.5 L724.7,94.7 L722.7,95.0 L720.6,95.2 L718.6,95.4 L716.9,95.7 L715.6,95.8 L713.5,96.1 L711.5,96.3 L709.5,96.6 L707.7,96.8 L706.4,96.9 L704.4,97.2 L702.4,97.4 L700.4,97.7 L698.5,97.9 L697.3,98.0 L695.3,98.3 L693.3,98.5 L691.3,98.8 L689.3,99.0 L688.2,99.1 L686.2,99.4 L684.2,99.6 L682.1,99.9 L680.1,100.1 L679.1,100.3 L677.1,100.5 L675.0,100.7 L673.0,101.0 L671.0,101.2 L670.0,101.4 L668.0,101.6 L665.9,101.9 L663.9,102.1 L661.9,102.4 L660.9,102.5 L658.8,102.7 L656.8,103.0 L654.8,103.2 L652.8,103.5 L651.7,103.6 L649.7,103.8 L647.7,104.1"/>
<path d="M1376.1,49.7 L1375.1,49.8 L1373.1,50.0 L1371.1,50.3 L1369.0,50.5 L1367.0,50.7 L1365.7,50.9 L1364.0,51.1 L1361.9,51.3 L1359.9,51.6 L1357.9,51.8 L1356.0,52.0 L1354.8,52.2 L1352.8,52.4 L1350.8,52.6 L1348.8,52.9 L1346.7,53.1 L1345.7,53.2 L1343.7,53.4 L1341.7,53.7 L1339.7,53.9 L1337.6,54.1 L1336.6,54.3 L1334.6,54.5 L1332.6,54.7 L1330.5,55.0 L1328.5,55.2 L1327.1,55.4 L1325.5,55.6 L1323.4,55.8 L1321.4,56.0 L1319.4,56.3 L1317.4,56.5 L1316.4,56.6 L1314.3,56.9 L1312.3,57.1 L1310.3,57.3 L1308.2,57.6 L1307.2,57.7 L1305.2,57.9 L1303.2,58.2 L1301.2,58.4 L1299.1,58.6 L1298.1,58.7 L1296.1,59.0 L1294.1,59.2 L1292.0,59.5 L1290.0,59.7 L1288.6,59.8 L1287.0,60.0 L1284.9,60.3 L1282.9,60.5 L1280.9,60.8 L1279.0,61.0 L1277.9,61.1 L1275.8,61.3 L1273.8,61.6 L1271.8,61.8 L1269.7,62.1 L1268.7,62.2 L1266.7,62.4 L1264.7,62.6 L1262.7,62.9 L1260.6,63.1 L1259.6,63.2 L1257.6,63.5 L1255.6,63.7 L1253.5,64.0 L1251.5,64.2 L1250.4,64.3 L1248.5,64.5 L1246.4,64.8 L1244.4,65.0 L1242.4,65.3 L1240.8,65.4 L1239.4,65.6 L1237.3,65.9 L1235.3,66.1 L1233.3,66.3 L1231.3,66.6 L1230.2,66.7 L1228.2,66.9 L1226.2,67.2 L1224.2,67.4 L1222.1,67.6 L1221.1,67.8 L1219.1,68.0 L1217.1,68.2 L1215.0,68.5 L1213.0,68.7 L1212.0,68.8 L1210.0,69.1 L1207.9,69.3 L1205.9,69.5 L1203.9,69.8 L1202.8,69.9 L1200.9,70.1 L1198.8,70.4 L1196.8,70.6 L1194.8,70.9 L1193.3,71.0 L1191.7,71.2 L1189.7,71.5 L1187.7,71.7 L1185.7,71.9 L1183.8,72.2 L1182.6,72.3 L1180.6,72.5 L1178.6,72.8 L1176.5,73.0 L1174.5,73.3 L1173.5,73.4 L1171.5,73.6 L1169.4,73.9 L1167.4,74.1 L1165.4,74.3 L1164.4,74.5 L1162.4,74.7 L1160.3,74.9 L1158.3,75.2 L1156.3,75.4 L1155.3,75.5 L1153.2,75.8 L1151.2,76.0 L1149.2,76.3 L1147.2,76.5 L1146.0,76.6 L1144.1,76.9 L1142.1,77.1 L1140.1,77.3 L1138.0,77.6 L1136.6,77.8 L1135.0,77.9 L1133.0,78.2 L1130.9,78.4 L1128.9,78.7 L1127.2,78.9 L1125.9,79.0 L1123.9,79.3 L1121.8,79.5 L1119.8,79.7 L1117.8,80.0 L1116.8,80.1 L1114.7,80.3 L1112.7,80.6 L1110.7,80.8 L1108.7,81.1 L1107.6,81.2 L1105.6,81.4 L1103.6,81.7 L1101.6,81.9 L1099.5,82.2 L1098.5,82.3 L1096.5,82.5 L1094.5,82.8 L1092.5,83.0 L1090.4,83.3 L1089.4,83.4 L1087.4,83.6 L1085.4,83.9 L1083.3,84.1 L1081.3,84.3 L1080.3,84.5 L1078.3,84.7 L1076.2,84.9 L1074.2,85.2 L1072.2,85.4 L1070.9,85.6 L1069.1,85.8 L1067.1,86.0 L1065.1,86.3 L1063.1,86.5 L1061.6,86.7 L1060.0,86.9 L1058.0,87.1 L1056.0,87.4 L1054.0,87.6 L1052.3,87.8 L1050.9,88.0 L1048.9,88.2 L1046.9,88.5 L1044.8,88.7 L1043.0,88.9 L1041.8,89.1 L1039.8,89.3 L1037.7,89.6 L1035.7,89.8 L1033.7,90.1 L1032.7,90.2 L1030.6,90.4 L1028.6,90.7 L1026.6,90.9 L1024.6,91.2 L1023.6,91.3 L1021.5,91.5 L1019.5,91.8 L1017.5,92.0 L1015.5,92.3 L1014.4,92.4 L1012.4,92.6 L1010.4,92.9 L1008.4,93.1 L1006.3,93.4 L1005.3,93.5 L1003.3,93.7 L1001.3,94.0 L999.2,94.2 L997.2,94.5 L996.2,94.6 L994.2,94.8 L992.2,95.1 L990.1,95.3 L988.1,95.6 L987.1,95.7 L985.1,95.9 L983.0,96.2 L981.0,96.4 L979.0,96.7 L978.0,96.8 L975.9,97.0 L973.9,97.3 L971.9,97.5 L969.9,97.8 L968.8,97.9 L966.8,98.1 L964.8,98.4 L962.8,98.6 L960.7,98.9 L959.6,99.0 L957.7,99.2 L955.7,99.5 L953.7,99.7 L951.6,100.0 L950.4,100.1 L948.6,100.4 L946.6,100.6 L944.5,100.8 L942.5,101.1 L941.2,101.2 L939.5,101.5 L937.4,101.7 L935.4,102.0 L933.4,102.2 L932.1,102.4 L930.4,102.6 L928.3,102.8 L926.3,103.1 L924.3,103.3 L922.9,103.5 L921.2,103.7 L919.2,103.9 L917.2,104.2 L915.2,104.4 L913.7,104.6 L912.1,104.8 L910.1,105.0 L908.1,105.3 L906.0,105.5 L904.6,105.7 L903.0,105.9 L901.0,106.2 L898.9,106.4 L896.9,106.7 L895.5,106.8 L893.9,107.0 L891.9,107.3 L889.8,107.5 L887.8,107.8 L886.3,108.0 L884.8,108.2 L882.7,108.4 L880.7,108.6 L878.7,108.9 L877.2,109.1 L875.6,109.3 L873.6,109.5 L871.6,109.8 L869.6,110.0 L868.1,110.2 L866.5,110.4 L864.5,110.6 L862.5,110.9 L860.4,111.1 L859.0,111.3 L857.4,111.5 L855.4,111.8 L853.4,112.0 L851.3,112.3 L849.9,112.4 L848.3,112.6 L846.3,112.9 L844.2,113.1 L842.2,113.4 L840.9,113.6 L839.2,113.8 L837.1,114.0 L835.1,114.3 L833.1,114.5 L831.8,114.7 L830.1,114.9 L828.0,115.1 L826.0,115.4 L824.0,115.6 L822.8,115.8 L820.9,116.0 L818.9,116.3 L816.9,116.5 L814.9,116.8 L813.7,116.9 L811.8,117.1 L809.8,117.4 L807.8,117.6 L805.7,117.9 L804.7,118.0 L802.7,118.3 L800.7,118.5 L798.6,118.8 L796.6,119.0 L795.6,119.2 L793.6,119.4 L791.6,119.7 L789.5,119.9 L787.5,120.2 L786.5,120.3 L784.5,120.5 L782.4,120.8 L780.4,121.0 L778.4,121.3 L777.4,121.4 L775.3,121.7 L773.3,121.9 L771.3,122.2 L769.3,122.4 L768.3,122.6 L766.2,122.8 L764.2,123.1 L762.2,123.3 L760.1,123.6 L759.1,123.7 L757.1,124.0 L755.1,124.2 L753.1,124.5 L751.0,124.7 L750.0,124.8 L748.0,125.1 L746.0,125.3 L743.9,125.6 L741.9,125.9 L740.9,126.0 L738.9,126.2 L736.8,126.5 L734.8,126.7 L732.9,127.0 L731.8,127.1 L729.8,127.4 L727.7,127.6 L725.7,127.9 L724.0,128.1 L722.7,128.3 L720.6,128.5 L718.6,128.8 L716.6,129.0 L715.1,129.2 L713.5,129.4 L711.5,129.7 L709.5,129.9 L707.5,130.2 L706.2,130.3 L704.4,130.6 L702.4,130.8 L700.4,131.1 L698.3,131.3 L697.3,131.5 L695.3,131.7 L693.3,132.0 L691.3,132.2 L689.2,132.5 L688.2,132.6 L686.2,132.9 L684.2,133.1 L682.1,133.4 L680.1,133.6 L679.1,133.7 L677.1,134.0 L675.0,134.3 L673.0,134.5 L671.0,134.8 L670.0,134.9 L668.0,135.2 L665.9,135.4 L663.9,135.7 L661.9,135.9 L660.9,136.1 L658.8,136.3 L656.8,136.6 L654.8,136.8 L653.0,137.0 L651.7,137.2 L649.7,137.5 L647.7,137.7"/>
<path d="M1376.1,81.4 L1374.1,81.7 L1372.1,81.9 L1370.0,82.2 L1369.0,82.3 L1367.0,82.5 L1365.0,82.8 L1363.0,83.0 L1360.9,83.2 L1359.9,83.4 L1357.9,83.6 L1355.9,83.9 L1353.8,84.1 L1351.8,84.3 L1350.7,84.5 L1348.8,84.7 L1346.7,84.9 L1344.7,85.2 L1342.7,85.4 L1341.4,85.6 L1339.7,85.8 L1337.6,86.0 L1335.6,86.3 L1333.6,86.5 L1332.0,86.7 L1330.5,86.9 L1328.5,87.1 L1326.5,87.4 L1324.5,87.6 L1322.7,87.8 L1321.4,88.0 L1319.4,88.2 L1317.4,88.5 L1315.3,88.7 L1313.4,88.9 L1312.3,89.1 L1310.3,89.3 L1308.2,89.6 L1306.2,89.8 L1304.2,90.0 L1303.2,90.2 L1301.2,90.4 L1299.1,90.6 L1297.1,90.9 L1295.1,91.1 L1294.1,91.3 L1292.0,91.5 L1290.0,91.7 L1288.0,92.0 L1286.0,92.2 L1284.9,92.4 L1282.9,92.6 L1280.9,92.8 L1278.9,93.1 L1276.8,93.3 L1275.8,93.5 L1273.8,93.7 L1271.8,93.9 L1269.7,94.2 L1267.7,94.4 L1266.7,94.6 L1264.7,94.8 L1262.7,95.0 L1260.6,95.3 L1258.6,95.5 L1257.6,95.7 L1255.6,95.9 L1253.5,96.1 L1251.5,96.4 L1249.5,96.6 L1248.4,96.8 L1246.4,97.0 L1244.4,97.2 L1242.4,97.5 L1240.4,97.7 L1239.1,97.9 L1237.3,98.1 L1235.3,98.4 L1233.3,98.6 L1231.2,98.8 L1229.9,99.0 L1228.2,99.2 L1226.2,99.5 L1224.2,99.7 L1222.1,99.9 L1220.7,100.1 L1219.1,100.3 L1217.1,100.6 L1215.0,100.8 L1213.0,101.1 L1211.5,101.2 L1210.0,101.4 L1207.9,101.7 L1205.9,101.9 L1203.9,102.2 L1202.3,102.4 L1200.9,102.5 L1198.8,102.8 L1196.8,103.0 L1194.8,103.3 L1193.1,103.5 L1191.7,103.6 L1189.7,103.9 L1187.7,104.1 L1185.7,104.4 L1183.9,104.6 L1182.6,104.8 L1180.6,105.0 L1178.6,105.3 L1176.5,105.5 L1174.7,105.7 L1173.5,105.9 L1171.5,106.1 L1169.4,106.4 L1167.4,106.6 L1165.6,106.8 L1164.4,107.0 L1162.4,107.2 L1160.3,107.5 L1158.3,107.7 L1156.4,108.0 L1155.3,108.1 L1153.2,108.4 L1151.2,108.6 L1149.2,108.8 L1147.3,109.1 L1146.1,109.2 L1144.1,109.5 L1142.1,109.7 L1140.1,110.0 L1138.2,110.2 L1137.0,110.3 L1135.0,110.6 L1133.0,110.8 L1130.9,111.1 L1129.1,111.3 L1127.9,111.5 L1125.9,111.7 L1123.9,112.0 L1121.8,112.2 L1120.0,112.4 L1118.8,112.6 L1116.8,112.8 L1114.7,113.1 L1112.7,113.3 L1110.9,113.6 L1109.7,113.7 L1107.6,114.0 L1105.6,114.2 L1103.6,114.5 L1101.8,114.7 L1100.6,114.8 L1098.5,115.1 L1096.5,115.3 L1094.5,115.6 L1092.8,115.8 L1091.4,116.0 L1089.4,116.2 L1087.4,116.5 L1085.4,116.7 L1083.7,116.9 L1082.3,117.1 L1080.3,117.3 L1078.3,117.6 L1076.2,117.8 L1074.7,118.0 L1073.2,118.2 L1071.2,118.5 L1069.1,118.7 L1067.1,119.0 L1065.6,119.1 L1064.1,119.3 L1062.1,119.6 L1060.0,119.8 L1058.0,120.1 L1056.6,120.3 L1055.0,120.5 L1052.9,120.7 L1050.9,121.0 L1048.9,121.2 L1047.6,121.4 L1045.8,121.6 L1043.8,121.9 L1041.8,122.1 L1039.8,122.4 L1038.6,122.5 L1036.7,122.7 L1034.7,123.0 L1032.7,123.2 L1030.6,123.5 L1029.6,123.6 L1027.6,123.9 L1025.6,124.1 L1023.6,124.4 L1021.5,124.6 L1020.5,124.8 L1018.5,125.0 L1016.5,125.3 L1014.4,125.5 L1012.4,125.8 L1011.4,125.9 L1009.4,126.1 L1007.3,126.4 L1005.3,126.7 L1003.3,126.9 L1002.3,127.0 L1000.3,127.3 L998.2,127.5 L996.2,127.8 L994.2,128.0 L993.2,128.2 L991.1,128.4 L989.1,128.7 L987.1,128.9 L985.1,129.2 L984.0,129.3 L982.0,129.6 L980.0,129.8 L978.0,130.1 L975.9,130.3 L974.9,130.5 L972.9,130.7 L970.9,131.0 L968.8,131.2 L967.0,131.5 L965.8,131.6 L963.8,131.9 L961.8,132.1 L959.7,132.4 L958.1,132.6 L956.7,132.8 L954.7,133.0 L952.6,133.3 L950.6,133.5 L949.2,133.7 L947.6,133.9 L945.5,134.2 L943.5,134.4 L941.5,134.7 L940.4,134.8 L938.5,135.1 L936.4,135.3 L934.4,135.6 L932.4,135.8 L931.4,135.9 L929.3,136.2 L927.3,136.5 L925.3,136.7 L923.3,137.0 L922.2,137.1 L920.2,137.4 L918.2,137.6 L916.2,137.9 L914.1,138.1 L913.1,138.3 L911.1,138.5 L909.1,138.8 L907.0,139.0 L905.0,139.3 L904.0,139.4 L902.0,139.7 L900.0,139.9 L897.9,140.2 L896.2,140.4 L894.9,140.6 L892.9,140.8 L890.8,141.1 L888.8,141.3 L887.4,141.5 L885.8,141.7 L883.7,142.0 L881.7,142.2 L879.7,142.5 L878.6,142.6 L876.7,142.9 L874.6,143.1 L872.6,143.4 L870.6,143.7 L869.6,143.8 L867.5,144.1 L865.5,144.3 L863.5,144.6 L861.5,144.8 L860.4,145.0 L858.4,145.2 L856.4,145.5 L854.4,145.7 L852.3,146.0 L851.3,146.1 L849.3,146.4 L847.3,146.6 L845.2,146.9 L843.5,147.1 L842.2,147.3 L840.2,147.5 L838.2,147.8 L836.1,148.1 L834.8,148.2 L833.1,148.5 L831.1,148.7 L829.0,149.0 L827.0,149.2 L826.0,149.4 L824.0,149.6 L821.9,149.9 L819.9,150.1 L817.9,150.4 L816.9,150.5 L814.9,150.8 L812.8,151.1 L810.8,151.3 L808.8,151.6 L807.8,151.7 L805.7,152.0 L803.7,152.2 L801.7,152.5 L799.9,152.7 L798.6,152.9 L796.6,153.1 L794.6,153.4 L792.6,153.7 L791.2,153.8 L789.5,154.1 L787.5,154.3 L785.5,154.6 L783.4,154.8 L782.4,155.0 L780.4,155.2 L778.4,155.5 L776.4,155.8 L774.3,156.0 L773.3,156.1 L771.3,156.4 L769.3,156.7 L767.2,156.9 L765.3,157.2 L764.2,157.3 L762.2,157.6 L760.1,157.9 L758.1,158.1 L756.6,158.3 L755.1,158.5 L753.1,158.8 L751.0,159.0 L749.0,159.3 L748.0,159.4 L746.0,159.7 L743.9,160.0 L741.9,160.2 L739.9,160.5 L738.9,160.6 L736.8,160.9 L734.8,161.1 L732.8,161.4 L730.8,161.7 L729.8,161.8 L727.7,162.1 L725.7,162.3 L723.7,162.6 L722.2,162.8 L720.6,163.0 L718.6,163.3 L716.6,163.5 L714.6,163.8 L713.5,163.9 L711.5,164.2 L709.5,164.4 L707.5,164.7 L705.4,165.0 L704.4,165.1 L702.4,165.4 L700.4,165.6 L698.3,165.9 L696.5,166.1 L695.3,166.3 L693.3,166.6 L691.3,166.8 L689.2,167.1 L688.0,167.3 L686.2,167.5 L684.2,167.8 L682.1,168.0 L680.1,168.3 L679.1,168.4 L677.1,168.7 L675.0,169.0 L673.0,169.2 L671.0,169.5 L670.0,169.6 L668.0,169.9 L665.9,170.2 L663.9,170.4 L662.4,170.6 L660.9,170.8 L658.8,171.1 L656.8,171.4 L654.8,171.6 L653.8,171.8 L651.7,172.0 L649.7,172.3 L647.7,172.6"/>
<path d="M1376.1,114.1 L1374.1,114.4 L1372.1,114.6 L1371.1,114.8 L1369.0,115.0 L1367.0,115.3 L1365.0,115.5 L1363.0,115.8 L1361.9,115.9 L1359.9,116.1 L1357.9,116.4 L1355.9,116.6 L1353.8,116.9 L1352.8,117.0 L1350.8,117.3 L1348.8,117.5 L1346.7,117.8 L1344.7,118.0 L1343.7,118.1 L1341.7,118.4 L1339.7,118.6 L1337.6,118.9 L1335.6,119.1 L1334.6,119.3 L1332.6,119.5 L1330.5,119.8 L1328.5,120.0 L1326.5,120.3 L1325.5,120.4 L1323.4,120.6 L1321.4,120.9 L1319.4,121.1 L1317.4,121.4 L1316.4,121.5 L1314.3,121.8 L1312.3,122.0 L1310.3,122.3 L1308.4,122.5 L1307.2,122.6 L1305.2,122.9 L1303.2,123.2 L1301.2,123.4 L1299.4,123.6 L1298.1,123.8 L1296.1,124.0 L1294.1,124.3 L1292.0,124.5 L1290.4,124.7 L1289.0,124.9 L1287.0,125.2 L1284.9,125.4 L1282.9,125.7 L1281.4,125.9 L1279.9,126.1 L1277.9,126.3 L1275.8,126.6 L1273.8,126.8 L1272.4,127.0 L1270.8,127.2 L1268.7,127.4 L1266.7,127.7 L1264.7,127.9 L1263.5,128.1 L1261.6,128.3 L1259.6,128.6 L1257.6,128.8 L1255.6,129.1 L1254.5,129.2 L1252.5,129.5 L1250.5,129.7 L1248.5,130.0 L1246.4,130.2 L1245.4,130.4 L1243.4,130.6 L1241.4,130.9 L1239.4,131.1 L1237.3,131.4 L1236.3,131.5 L1234.3,131.8 L1232.3,132.0 L1230.2,132.3 L1228.2,132.5 L1227.2,132.6 L1225.2,132.9 L1223.1,133.2 L1221.1,133.4 L1219.1,133.7 L1218.1,133.8 L1216.1,134.0 L1214.0,134.3 L1212.0,134.6 L1210.0,134.8 L1209.0,134.9 L1206.9,135.2 L1204.9,135.4 L1202.9,135.7 L1201.1,135.9 L1199.8,136.1 L1197.8,136.3 L1195.8,136.6 L1193.8,136.9 L1192.2,137.0 L1190.7,137.2 L1188.7,137.5 L1186.7,137.8 L1184.6,138.0 L1183.4,138.2 L1181.6,138.4 L1179.6,138.6 L1177.6,138.9 L1175.5,139.2 L1174.5,139.3 L1172.5,139.5 L1170.5,139.8 L1168.4,140.1 L1166.4,140.3 L1165.4,140.4 L1163.4,140.7 L1161.3,141.0 L1159.3,141.2 L1157.3,141.5 L1156.3,141.6 L1154.3,141.9 L1152.2,142.1 L1150.2,142.4 L1148.2,142.6 L1147.2,142.8 L1145.1,143.0 L1143.1,143.3 L1141.1,143.5 L1139.2,143.8 L1138.0,143.9 L1136.0,144.2 L1134.0,144.4 L1132.0,144.7 L1130.4,144.9 L1128.9,145.1 L1126.9,145.3 L1124.9,145.6 L1122.8,145.9 L1121.7,146.0 L1119.8,146.2 L1117.8,146.5 L1115.8,146.8 L1113.7,147.0 L1112.7,147.1 L1110.7,147.4 L1108.7,147.7 L1106.6,147.9 L1104.6,148.2 L1103.6,148.3 L1101.6,148.6 L1099.5,148.8 L1097.5,149.1 L1095.5,149.3 L1094.5,149.5 L1092.5,149.7 L1090.4,150.0 L1088.4,150.3 L1086.7,150.5 L1085.4,150.6 L1083.3,150.9 L1081.3,151.2 L1079.3,151.4 L1077.9,151.6 L1076.2,151.8 L1074.2,152.1 L1072.2,152.3 L1070.2,152.6 L1069.1,152.7 L1067.1,153.0 L1065.1,153.2 L1063.1,153.5 L1061.0,153.8 L1060.0,153.9 L1058.0,154.2 L1056.0,154.4 L1054.0,154.7 L1051.9,154.9 L1050.9,155.1 L1048.9,155.3 L1046.9,155.6 L1044.8,155.9 L1043.2,156.1 L1041.8,156.2 L1039.8,156.5 L1037.7,156.8 L1035.7,157.0 L1034.5,157.2 L1032.7,157.4 L1030.6,157.7 L1028.6,157.9 L1026.6,158.2 L1025.6,158.3 L1023.6,158.6 L1021.5,158.9 L1019.5,159.1 L1017.5,159.4 L1016.5,159.5 L1014.4,159.8 L1012.4,160.0 L1010.4,160.3 L1008.6,160.5 L1007.3,160.7 L1005.3,161.0 L1003.3,161.2 L1001.3,161.5 L1000.0,161.7 L998.2,161.9 L996.2,162.2 L994.2,162.4 L992.2,162.7 L991.1,162.8 L989.1,163.1 L987.1,163.3 L985.1,163.6 L983.0,163.9 L982.0,164.0 L980.0,164.3 L978.0,164.5 L975.9,164.8 L974.2,165.0 L972.9,165.2 L970.9,165.5 L968.8,165.7 L966.8,166.0 L965.6,166.1 L963.8,166.4 L961.8,166.6 L959.7,166.9 L957.7,167.2 L956.7,167.3 L954.7,167.6 L952.6,167.8 L950.6,168.1 L948.6,168.4 L947.6,168.5 L945.5,168.8 L943.5,169.0 L941.5,169.3 L939.9,169.5 L938.5,169.7 L936.4,170.0 L934.4,170.2 L932.4,170.5 L931.4,170.6 L929.3,170.9 L927.3,171.2 L925.3,171.4 L923.3,171.7 L922.2,171.8 L920.2,172.1 L918.2,172.4 L916.2,172.6 L914.4,172.9 L913.1,173.0 L911.1,173.3 L909.1,173.6 L907.0,173.8 L905.9,174.0 L904.0,174.2 L902.0,174.5 L900.0,174.8 L897.9,175.0 L896.9,175.2 L894.9,175.4 L892.9,175.7 L890.8,176.0 L888.9,176.2 L887.8,176.4 L885.8,176.6 L883.7,176.9 L881.7,177.2 L880.5,177.3 L878.7,177.6 L876.7,177.8 L874.6,178.1 L872.6,178.4 L871.6,178.5 L869.6,178.8 L867.5,179.0 L865.5,179.3 L863.6,179.6 L862.5,179.7 L860.4,180.0 L858.4,180.3 L856.4,180.5 L855.2,180.7 L853.4,180.9 L851.3,181.2 L849.3,181.5 L847.3,181.7 L846.3,181.9 L844.2,182.1 L842.2,182.4 L840.2,182.7 L838.4,182.9 L837.1,183.1 L835.1,183.4 L833.1,183.6 L831.1,183.9 L830.0,184.0 L828.0,184.3 L826.0,184.6 L824.0,184.8 L821.9,185.1 L820.9,185.3 L818.9,185.5 L816.9,185.8 L814.9,186.1 L813.2,186.3 L811.8,186.5 L809.8,186.7 L807.8,187.0 L805.7,187.3 L804.7,187.4 L802.7,187.7 L800.7,188.0 L798.6,188.2 L796.6,188.5 L795.6,188.6 L793.6,188.9 L791.6,189.2 L789.5,189.5 L788.2,189.6 L786.5,189.9 L784.5,190.1 L782.4,190.4 L780.4,190.7 L779.4,190.8 L777.4,191.1 L775.3,191.4 L773.3,191.6 L771.6,191.9 L770.3,192.0 L768.3,192.3 L766.2,192.6 L764.2,192.9 L763.2,193.0 L761.2,193.3 L759.1,193.6 L757.1,193.8 L755.1,194.1 L754.1,194.2 L752.0,194.5 L750.0,194.8 L748.0,195.1 L746.7,195.2 L744.9,195.5 L742.9,195.7 L740.9,196.0 L738.9,196.3 L737.9,196.4 L735.8,196.7 L733.8,197.0 L731.8,197.3 L730.2,197.5 L728.7,197.7 L726.7,197.9 L724.7,198.2 L722.7,198.5 L721.6,198.6 L719.6,198.9 L717.6,199.2 L715.6,199.5 L713.8,199.7 L712.5,199.9 L710.5,200.1 L708.5,200.4 L706.4,200.7 L705.4,200.8 L703.4,201.1 L701.4,201.4 L699.4,201.7 L697.3,201.9 L696.3,202.1 L694.3,202.4 L692.3,202.6 L690.2,202.9 L689.1,203.1 L687.2,203.3 L685.2,203.6 L683.1,203.9 L681.1,204.2 L680.1,204.3 L678.1,204.6 L676.1,204.9 L674.0,205.1 L672.8,205.3 L671.0,205.5 L669.0,205.8 L666.9,206.1 L664.9,206.4 L663.9,206.5 L661.9,206.8 L659.8,207.1 L657.8,207.4 L656.5,207.5 L654.8,207.8 L652.8,208.1 L650.7,208.3 L648.7,208.6 L647.7,208.8"/>
<path d="M1376.1,147.9 L1374.1,148.2 L1373.1,148.3 L1371.1,148.5 L1369.0,148.8 L1367.0,149.1 L1365.0,149.3 L1364.0,149.4 L1361.9,149.7 L1359.9,150.0 L1357.9,150.2 L1355.9,150.5 L1354.8,150.6 L1352.8,150.9 L1350.8,151.1 L1348.8,151.4 L1347.2,151.6 L1345.7,151.8 L1343.7,152.0 L1341.7,152.3 L1339.7,152.6 L1338.4,152.7 L1336.6,152.9 L1334.6,153.2 L1332.6,153.5 L1330.5,153.7 L1329.5,153.9 L1327.5,154.1 L1325.5,154.4 L1323.4,154.6 L1321.4,154.9 L1320.4,155.0 L1318.4,155.3 L1316.4,155.6 L1314.3,155.8 L1312.3,156.1 L1311.3,156.2 L1309.3,156.5 L1307.2,156.7 L1305.2,157.0 L1303.6,157.2 L1302.2,157.4 L1300.1,157.6 L1298.1,157.9 L1296.1,158.2 L1295.0,158.3 L1293.0,158.6 L1291.0,158.8 L1289.0,159.1 L1287.0,159.3 L1286.0,159.5 L1283.9,159.7 L1281.9,160.0 L1279.9,160.3 L1277.9,160.5 L1276.8,160.7 L1274.8,160.9 L1272.8,161.2 L1270.8,161.4 L1269.0,161.7 L1267.7,161.8 L1265.7,162.1 L1263.7,162.4 L1261.6,162.6 L1260.4,162.8 L1258.6,163.0 L1256.6,163.3 L1254.6,163.5 L1252.5,163.8 L1251.5,163.9 L1249.5,164.2 L1247.5,164.5 L1245.4,164.7 L1243.4,165.0 L1242.4,165.1 L1240.4,165.4 L1238.3,165.6 L1236.3,165.9 L1234.6,166.1 L1233.3,166.3 L1231.2,166.6 L1229.2,166.8 L1227.2,167.1 L1226.0,167.3 L1224.2,167.5 L1222.1,167.8 L1220.1,168.0 L1218.1,168.3 L1217.1,168.4 L1215.0,168.7 L1213.0,169.0 L1211.0,169.2 L1209.0,169.5 L1207.9,169.6 L1205.9,169.9 L1203.9,170.1 L1201.9,170.4 L1200.3,170.6 L1198.8,170.8 L1196.8,171.1 L1194.8,171.3 L1192.7,171.6 L1191.7,171.7 L1189.7,172.0 L1187.7,172.3 L1185.7,172.5 L1183.6,172.8 L1182.6,172.9 L1180.6,173.2 L1178.6,173.5 L1176.5,173.7 L1174.7,174.0 L1173.5,174.1 L1171.5,174.4 L1169.4,174.7 L1167.4,174.9 L1166.2,175.1 L1164.4,175.3 L1162.4,175.6 L1160.3,175.9 L1158.3,176.1 L1157.3,176.3 L1155.3,176.5 L1153.2,176.8 L1151.2,177.1 L1149.3,177.3 L1148.2,177.5 L1146.1,177.7 L1144.1,178.0 L1142.1,178.3 L1140.8,178.4 L1139.1,178.7 L1137.0,178.9 L1135.0,179.2 L1133.0,179.5 L1132.0,179.6 L1129.9,179.9 L1127.9,180.2 L1125.9,180.4 L1123.9,180.7 L1122.8,180.8 L1120.8,181.1 L1118.8,181.4 L1116.8,181.6 L1115.5,181.8 L1113.7,182.0 L1111.7,182.3 L1109.7,182.6 L1107.6,182.8 L1106.6,183.0 L1104.6,183.2 L1102.6,183.5 L1100.6,183.8 L1098.7,184.0 L1097.5,184.2 L1095.5,184.5 L1093.5,184.7 L1091.4,185.0 L1090.3,185.2 L1088.4,185.4 L1086.4,185.7 L1084.3,185.9 L1082.3,186.2 L1081.3,186.4 L1079.3,186.6 L1077.3,186.9 L1075.2,187.2 L1073.5,187.4 L1072.2,187.6 L1070.2,187.8 L1068.1,188.1 L1066.1,188.4 L1065.1,188.5 L1063.1,188.8 L1061.0,189.1 L1059.0,189.3 L1057.0,189.6 L1056.0,189.7 L1054.0,190.0 L1051.9,190.3 L1049.9,190.6 L1048.5,190.8 L1046.9,191.0 L1044.8,191.2 L1042.8,191.5 L1040.8,191.8 L1039.8,191.9 L1037.7,192.2 L1035.7,192.5 L1033.7,192.7 L1031.8,193.0 L1030.6,193.1 L1028.6,193.4 L1026.6,193.7 L1024.6,194.0 L1023.5,194.1 L1021.5,194.4 L1019.5,194.7 L1017.5,194.9 L1015.5,195.2 L1014.4,195.3 L1012.4,195.6 L1010.4,195.9 L1008.4,196.2 L1006.9,196.3 L1005.3,196.6 L1003.3,196.8 L1001.3,197.1 L999.2,197.4 L998.2,197.5 L996.2,197.8 L994.2,198.1 L992.2,198.3 L990.4,198.6 L989.1,198.8 L987.1,199.0 L985.1,199.3 L983.0,199.6 L982.0,199.7 L980.0,200.0 L978.0,200.3 L975.9,200.6 L973.9,200.8 L972.9,201.0 L970.9,201.2 L968.8,201.5 L966.8,201.8 L965.7,201.9 L963.8,202.2 L961.8,202.5 L959.7,202.8 L957.7,203.0 L956.7,203.2 L954.7,203.4 L952.6,203.7 L950.6,204.0 L949.3,204.2 L947.6,204.4 L945.5,204.7 L943.5,205.0 L941.5,205.2 L940.5,205.4 L938.5,205.7 L936.4,205.9 L934.4,206.2 L932.9,206.4 L931.4,206.6 L929.3,206.9 L927.3,207.2 L925.3,207.5 L924.3,207.6 L922.2,207.9 L920.2,208.2 L918.2,208.4 L916.6,208.7 L915.2,208.9 L913.1,209.1 L911.1,209.4 L909.1,209.7 L908.1,209.8 L906.0,210.1 L904.0,210.4 L902.0,210.7 L900.3,210.9 L898.9,211.1 L896.9,211.4 L894.9,211.6 L892.9,211.9 L891.9,212.1 L889.8,212.3 L887.8,212.6 L885.8,212.9 L884.1,213.1 L882.7,213.3 L880.7,213.6 L878.7,213.9 L876.7,214.2 L875.6,214.3 L873.6,214.6 L871.6,214.9 L869.6,215.1 L868.0,215.4 L866.5,215.6 L864.5,215.8 L862.5,216.1 L860.4,216.4 L859.4,216.6 L857.4,216.8 L855.4,217.1 L853.4,217.4 L851.8,217.6 L850.3,217.8 L848.3,218.1 L846.3,218.4 L844.2,218.7 L843.2,218.8 L841.2,219.1 L839.2,219.4 L837.1,219.6 L835.7,219.8 L834.1,220.1 L832.1,220.4 L830.1,220.6 L828.0,220.9 L827.0,221.1 L825.0,221.3 L823.0,221.6 L820.9,221.9 L819.7,222.1 L817.9,222.3 L815.9,222.6 L813.8,222.9 L811.8,223.2 L810.8,223.3 L808.8,223.6 L806.7,223.9 L804.7,224.2 L803.7,224.3 L801.7,224.6 L799.7,224.9 L797.6,225.2 L795.8,225.4 L794.6,225.6 L792.6,225.9 L790.5,226.2 L788.5,226.5 L787.5,226.6 L785.5,226.9 L783.4,227.2 L781.4,227.5 L779.8,227.7 L778.4,227.9 L776.4,228.2 L774.3,228.5 L772.3,228.7 L771.3,228.9 L769.3,229.2 L767.2,229.5 L765.2,229.7 L764.0,229.9 L762.2,230.2 L760.1,230.5 L758.1,230.7 L756.1,231.0 L755.1,231.2 L753.1,231.5 L751.0,231.7 L749.0,232.0 L748.0,232.2 L746.0,232.5 L743.9,232.7 L741.9,233.0 L740.3,233.3 L738.9,233.5 L736.8,233.8 L734.8,234.0 L732.8,234.3 L731.8,234.5 L729.8,234.8 L727.7,235.1 L725.7,235.3 L724.5,235.5 L722.7,235.8 L720.6,236.1 L718.6,236.3 L716.7,236.6 L715.6,236.8 L713.5,237.1 L711.5,237.4 L709.5,237.6 L708.5,237.8 L706.4,238.1 L704.4,238.4 L702.4,238.7 L701.0,238.9 L699.4,239.1 L697.3,239.4 L695.3,239.7 L693.3,240.0 L692.3,240.1 L690.2,240.4 L688.2,240.7 L686.2,241.0 L685.2,241.1 L683.1,241.4 L681.1,241.7 L679.1,242.0 L677.6,242.2 L676.1,242.4 L674.0,242.7 L672.0,243.0 L670.0,243.3 L669.0,243.5 L666.9,243.7 L664.9,244.0 L662.9,244.3 L661.9,244.5 L659.8,244.8 L657.8,245.1 L655.8,245.4 L654.2,245.6 L652.8,245.8 L650.7,246.1 L648.7,246.4 L646.7,246.7"/>
<path d="M1376.1,182.9 L1375.1,183.0 L1373.1,183.3 L1371.1,183.5 L1369.0,183.8 L1367.2,184.0 L1366.0,184.2 L1364.0,184.5 L1361.9,184.7 L1359.9,185.0 L1358.8,185.2 L1356.9,185.4 L1354.8,185.7 L1352.8,186.0 L1350.8,186.2 L1349.8,186.4 L1347.8,186.6 L1345.7,186.9 L1343.7,187.2 L1342.0,187.4 L1340.7,187.6 L1338.6,187.8 L1336.6,188.1 L1334.6,188.4 L1333.6,188.5 L1331.5,188.8 L1329.5,189.1 L1327.5,189.3 L1325.5,189.6 L1324.5,189.7 L1322.4,190.0 L1320.4,190.3 L1318.4,190.6 L1316.9,190.8 L1315.3,191.0 L1313.3,191.2 L1311.3,191.5 L1309.3,191.8 L1308.2,191.9 L1306.2,192.2 L1304.2,192.5 L1302.2,192.7 L1300.2,193.0 L1299.1,193.1 L1297.1,193.4 L1295.1,193.7 L1293.0,194.0 L1291.9,194.1 L1290.0,194.4 L1288.0,194.6 L1286.0,194.9 L1283.9,195.2 L1282.9,195.3 L1280.9,195.6 L1278.9,195.9 L1276.8,196.1 L1275.3,196.3 L1273.8,196.6 L1271.8,196.8 L1269.7,197.1 L1267.7,197.4 L1266.7,197.5 L1264.7,197.8 L1262.7,198.1 L1260.6,198.3 L1258.7,198.6 L1257.6,198.7 L1255.6,199.0 L1253.5,199.3 L1251.5,199.6 L1250.5,199.7 L1248.5,200.0 L1246.4,200.2 L1244.4,200.5 L1242.4,200.8 L1241.4,200.9 L1239.4,201.2 L1237.3,201.5 L1235.3,201.8 L1234.0,201.9 L1232.3,202.2 L1230.2,202.5 L1228.2,202.7 L1226.2,203.0 L1225.2,203.1 L1223.1,203.4 L1221.1,203.7 L1219.1,204.0 L1217.5,204.2 L1216.1,204.4 L1214.0,204.7 L1212.0,204.9 L1210.0,205.2 L1209.0,205.3 L1206.9,205.6 L1204.9,205.9 L1202.9,206.2 L1201.1,206.4 L1199.8,206.6 L1197.8,206.9 L1195.8,207.1 L1193.8,207.4 L1192.7,207.6 L1190.7,207.8 L1188.7,208.1 L1186.7,208.4 L1184.8,208.7 L1183.6,208.8 L1181.6,209.1 L1179.6,209.4 L1177.6,209.6 L1176.5,209.8 L1174.5,210.1 L1172.5,210.3 L1170.5,210.6 L1168.4,210.9 L1167.4,211.0 L1165.4,211.3 L1163.4,211.6 L1161.3,211.9 L1160.3,212.0 L1158.3,212.3 L1156.3,212.6 L1154.3,212.8 L1152.2,213.1 L1151.2,213.3 L1149.2,213.5 L1147.2,213.8 L1145.1,214.1 L1144.1,214.3 L1142.1,214.5 L1140.1,214.8 L1138.0,215.1 L1136.0,215.4 L1135.0,215.5 L1133.0,215.8 L1130.9,216.1 L1128.9,216.3 L1127.9,216.5 L1125.9,216.8 L1123.9,217.0 L1121.8,217.3 L1119.8,217.6 L1118.8,217.7 L1116.8,218.0 L1114.7,218.3 L1112.7,218.6 L1111.7,218.7 L1109.7,219.0 L1107.6,219.3 L1105.6,219.6 L1103.7,219.8 L1102.6,220.0 L1100.6,220.3 L1098.5,220.6 L1096.5,220.8 L1095.5,221.0 L1093.5,221.3 L1091.4,221.5 L1089.4,221.8 L1087.6,222.1 L1086.4,222.3 L1084.3,222.5 L1082.3,222.8 L1080.3,223.1 L1079.3,223.2 L1077.3,223.5 L1075.2,223.8 L1073.2,224.1 L1071.6,224.3 L1070.2,224.5 L1068.1,224.8 L1066.1,225.1 L1064.1,225.4 L1063.1,225.5 L1061.0,225.8 L1059.0,226.1 L1057.0,226.4 L1055.6,226.6 L1054.0,226.8 L1051.9,227.1 L1049.9,227.4 L1047.9,227.6 L1046.9,227.8 L1044.8,228.1 L1042.8,228.4 L1040.8,228.6 L1039.7,228.8 L1037.7,229.1 L1035.7,229.4 L1033.7,229.6 L1031.7,229.9 L1030.6,230.1 L1028.6,230.4 L1026.6,230.6 L1024.6,230.9 L1023.6,231.1 L1021.5,231.4 L1019.5,231.6 L1017.5,231.9 L1015.9,232.2 L1014.4,232.4 L1012.4,232.6 L1010.4,232.9 L1008.4,233.2 L1007.3,233.4 L1005.3,233.6 L1003.3,233.9 L1001.3,234.2 L1000.1,234.4 L998.2,234.6 L996.2,234.9 L994.2,235.2 L992.2,235.5 L991.1,235.7 L989.1,235.9 L987.1,236.2 L985.1,236.5 L984.0,236.7 L982.0,237.0 L980.0,237.2 L978.0,237.5 L976.4,237.7 L974.9,238.0 L972.9,238.2 L970.9,238.5 L968.8,238.8 L967.8,239.0 L965.8,239.3 L963.8,239.5 L961.8,239.8 L960.7,240.0 L958.7,240.3 L956.7,240.6 L954.7,240.9 L952.9,241.1 L951.6,241.3 L949.6,241.6 L947.6,241.9 L945.5,242.2 L944.5,242.3 L942.5,242.6 L940.5,242.9 L938.5,243.2 L937.3,243.3 L935.4,243.6 L933.4,243.9 L931.4,244.2 L929.5,244.5 L928.3,244.6 L926.3,244.9 L924.3,245.2 L922.2,245.5 L921.2,245.6 L919.2,245.9 L917.2,246.2 L915.2,246.5 L913.9,246.7 L912.1,247.0 L910.1,247.3 L908.1,247.5 L906.2,247.8 L905.0,248.0 L903.0,248.3 L901.0,248.6 L898.9,248.9 L897.9,249.0 L895.9,249.3 L893.9,249.6 L891.9,249.9 L890.7,250.1 L888.8,250.3 L886.8,250.6 L884.8,250.9 L883.0,251.2 L881.7,251.4 L879.7,251.6 L877.7,251.9 L875.6,252.2 L874.6,252.4 L872.6,252.7 L870.6,253.0 L868.5,253.3 L867.5,253.4 L865.5,253.7 L863.5,254.0 L861.5,254.3 L859.9,254.5 L858.4,254.7 L856.4,255.0 L854.4,255.3 L852.3,255.6 L851.3,255.8 L849.3,256.1 L847.3,256.4 L845.2,256.7 L844.2,256.8 L842.2,257.1 L840.2,257.4 L838.2,257.7 L836.9,257.9 L835.1,258.1 L833.1,258.4 L831.1,258.7 L829.3,259.0 L828.0,259.2 L826.0,259.5 L824.0,259.8 L821.9,260.1 L820.9,260.2 L818.9,260.5 L816.9,260.8 L814.9,261.1 L813.8,261.3 L811.8,261.6 L809.8,261.9 L807.8,262.2 L806.4,262.4 L804.7,262.6 L802.7,262.9 L800.7,263.2 L798.8,263.5 L797.6,263.7 L795.6,264.0 L793.6,264.3 L791.6,264.6 L790.5,264.7 L788.5,265.0 L786.5,265.3 L784.5,265.6 L783.4,265.8 L781.4,266.1 L779.4,266.4 L777.4,266.7 L776.2,266.8 L774.3,267.1 L772.3,267.4 L770.3,267.7 L768.6,268.0 L767.2,268.2 L765.2,268.5 L763.2,268.8 L761.2,269.1 L760.1,269.2 L758.1,269.5 L756.1,269.8 L754.1,270.1 L753.1,270.3 L751.0,270.6 L749.0,270.9 L747.0,271.2 L746.0,271.3 L743.9,271.6 L741.9,271.9 L739.9,272.2 L738.6,272.4 L736.8,272.7 L734.8,273.0 L732.8,273.3 L731.1,273.5 L729.8,273.8 L727.7,274.1 L725.7,274.4 L723.7,274.7 L722.7,274.8 L720.6,275.1 L718.6,275.4 L716.6,275.7 L715.6,275.9 L713.5,276.2 L711.5,276.5 L709.5,276.8 L708.5,276.9 L706.4,277.3 L704.4,277.6 L702.4,277.9 L701.3,278.0 L699.4,278.3 L697.3,278.6 L695.3,278.9 L693.9,279.1 L692.3,279.4 L690.2,279.7 L688.2,280.0 L686.5,280.3 L685.2,280.5 L683.1,280.8 L681.1,281.1 L679.1,281.4 L678.1,281.5 L676.1,281.8 L674.0,282.1 L672.0,282.5 L671.0,282.6 L669.0,282.9 L666.9,283.2 L664.9,283.5 L663.9,283.7 L661.9,284.0 L659.8,284.3 L657.8,284.6 L656.8,284.8 L654.8,285.1 L652.8,285.4 L650.7,285.7 L649.6,285.9 L647.7,286.2"/>
<path d="M1376.1,219.2 L1374.1,219.5 L1372.1,219.8 L1371.1,219.9 L1369.0,220.2 L1367.0,220.5 L1365.0,220.8 L1363.5,221.0 L1361.9,221.2 L1359.9,221.5 L1357.9,221.7 L1355.9,222.0 L1354.8,222.2 L1352.8,222.4 L1350.8,222.7 L1348.8,223.0 L1347.4,223.2 L1345.7,223.4 L1343.7,223.7 L1341.7,224.0 L1339.7,224.3 L1338.6,224.4 L1336.6,224.7 L1334.6,225.0 L1332.6,225.3 L1331.3,225.4 L1329.5,225.7 L1327.5,226.0 L1325.5,226.3 L1323.4,226.5 L1322.4,226.7 L1320.4,227.0 L1318.4,227.3 L1316.4,227.5 L1315.3,227.7 L1313.3,228.0 L1311.3,228.2 L1309.3,228.5 L1307.3,228.8 L1306.2,229.0 L1304.2,229.2 L1302.2,229.5 L1300.1,229.8 L1299.1,229.9 L1297.1,230.2 L1295.1,230.5 L1293.0,230.8 L1291.4,231.0 L1290.0,231.2 L1288.0,231.5 L1286.0,231.8 L1283.9,232.1 L1282.9,232.2 L1280.9,232.5 L1278.9,232.8 L1276.8,233.1 L1275.5,233.3 L1273.8,233.5 L1271.8,233.8 L1269.7,234.1 L1267.7,234.4 L1266.7,234.5 L1264.7,234.8 L1262.7,235.1 L1260.6,235.4 L1259.6,235.5 L1257.6,235.8 L1255.6,236.1 L1253.5,236.4 L1251.8,236.6 L1250.5,236.8 L1248.5,237.1 L1246.4,237.4 L1244.4,237.7 L1243.4,237.8 L1241.4,238.1 L1239.4,238.4 L1237.3,238.7 L1236.1,238.9 L1234.3,239.1 L1232.3,239.4 L1230.2,239.7 L1228.2,240.0 L1227.2,240.1 L1225.2,240.4 L1223.1,240.7 L1221.1,241.0 L1220.1,241.1 L1218.1,241.4 L1216.1,241.7 L1214.0,242.0 L1212.5,242.2 L1211.0,242.4 L1209.0,242.7 L1206.9,243.0 L1204.9,243.3 L1203.9,243.5 L1201.9,243.7 L1199.8,244.0 L1197.8,244.3 L1196.8,244.5 L1194.8,244.8 L1192.7,245.0 L1190.7,245.3 L1189.1,245.6 L1187.7,245.8 L1185.7,246.1 L1183.6,246.4 L1181.6,246.6 L1180.6,246.8 L1178.6,247.1 L1176.5,247.4 L1174.5,247.7 L1173.5,247.8 L1171.5,248.1 L1169.4,248.4 L1167.4,248.7 L1165.7,248.9 L1164.4,249.1 L1162.4,249.4 L1160.3,249.7 L1158.3,250.0 L1157.3,250.2 L1155.3,250.4 L1153.2,250.7 L1151.2,251.0 L1150.2,251.2 L1148.2,251.5 L1146.1,251.8 L1144.1,252.1 L1142.5,252.3 L1141.1,252.5 L1139.1,252.8 L1137.0,253.1 L1135.0,253.4 L1134.0,253.5 L1132.0,253.8 L1129.9,254.1 L1127.9,254.4 L1126.9,254.6 L1124.9,254.9 L1122.8,255.1 L1120.8,255.4 L1119.4,255.6 L1117.8,255.9 L1115.8,256.2 L1113.7,256.5 L1111.7,256.8 L1110.7,256.9 L1108.7,257.2 L1106.6,257.5 L1104.6,257.8 L1103.6,257.9 L1101.6,258.2 L1099.5,258.5 L1097.5,258.8 L1096.4,259.0 L1094.5,259.3 L1092.5,259.6 L1090.4,259.9 L1088.7,260.1 L1087.4,260.3 L1085.4,260.6 L1083.3,260.9 L1081.3,261.2 L1080.3,261.4 L1078.3,261.7 L1076.2,262.0 L1074.2,262.3 L1073.2,262.4 L1071.2,262.7 L1069.1,263.0 L1067.1,263.3 L1065.9,263.5 L1064.1,263.7 L1062.1,264.0 L1060.0,264.3 L1058.3,264.6 L1057.0,264.8 L1055.0,265.1 L1052.9,265.4 L1050.9,265.7 L1049.9,265.8 L1047.9,266.1 L1045.8,266.4 L1043.8,266.7 L1042.8,266.9 L1040.8,267.2 L1038.8,267.5 L1036.7,267.8 L1035.5,268.0 L1033.7,268.2 L1031.7,268.5 L1029.6,268.8 L1028.0,269.1 L1026.6,269.3 L1024.6,269.6 L1022.5,269.9 L1020.5,270.2 L1019.5,270.3 L1017.5,270.6 L1015.5,270.9 L1013.4,271.2 L1012.4,271.4 L1010.4,271.7 L1008.4,272.0 L1006.3,272.3 L1005.3,272.4 L1003.3,272.7 L1001.3,273.0 L999.2,273.4 L997.9,273.5 L996.2,273.8 L994.2,274.1 L992.2,274.4 L990.4,274.7 L989.1,274.9 L987.1,275.2 L985.1,275.5 L983.0,275.8 L982.0,275.9 L980.0,276.2 L978.0,276.5 L975.9,276.8 L974.9,277.0 L972.9,277.3 L970.9,277.6 L968.8,277.9 L967.8,278.1 L965.8,278.4 L963.8,278.7 L961.8,279.0 L960.6,279.1 L958.7,279.4 L956.7,279.7 L954.7,280.0 L953.2,280.3 L951.6,280.5 L949.6,280.8 L947.6,281.1 L945.7,281.4 L944.5,281.6 L942.5,281.9 L940.5,282.2 L938.5,282.5 L937.4,282.6 L935.4,282.9 L933.4,283.3 L931.4,283.6 L930.4,283.7 L928.3,284.0 L926.3,284.3 L924.3,284.6 L923.3,284.8 L921.2,285.1 L919.2,285.4 L917.2,285.7 L916.2,285.9 L914.1,286.2 L912.1,286.5 L910.1,286.8 L908.9,287.0 L907.0,287.3 L905.0,287.6 L903.0,287.9 L901.5,288.1 L900.0,288.3 L897.9,288.6 L895.9,289.0 L894.2,289.2 L892.9,289.4 L890.8,289.7 L888.8,290.0 L886.9,290.3 L885.8,290.5 L883.7,290.8 L881.7,291.1 L879.7,291.4 L878.7,291.6 L876.7,291.9 L874.6,292.2 L872.6,292.5 L871.6,292.7 L869.6,293.0 L867.5,293.3 L865.5,293.6 L864.5,293.8 L862.5,294.1 L860.4,294.4 L858.4,294.7 L857.4,294.9 L855.4,295.2 L853.4,295.5 L851.3,295.8 L850.3,295.9 L848.3,296.3 L846.3,296.6 L844.2,296.9 L843.2,297.0 L841.2,297.4 L839.2,297.7 L837.1,298.0 L836.0,298.2 L834.1,298.5 L832.1,298.8 L830.1,299.1 L828.8,299.3 L827.0,299.6 L825.0,299.9 L823.0,300.2 L821.6,300.4 L819.9,300.7 L817.9,301.0 L815.9,301.3 L814.4,301.5 L812.8,301.8 L810.8,302.1 L808.8,302.4 L807.2,302.6 L805.7,302.9 L803.7,303.2 L801.7,303.5 L800.0,303.8 L798.6,304.0 L796.6,304.3 L794.6,304.6 L792.9,304.9 L791.6,305.1 L789.5,305.4 L787.5,305.7 L785.7,306.0 L784.5,306.2 L782.4,306.5 L780.4,306.8 L778.6,307.1 L777.4,307.3 L775.3,307.6 L773.3,307.9 L771.5,308.2 L770.3,308.4 L768.3,308.7 L766.2,309.1 L764.4,309.4 L763.2,309.5 L761.2,309.9 L759.1,310.2 L757.3,310.5 L756.1,310.7 L754.1,311.0 L752.0,311.3 L750.2,311.6 L749.0,311.8 L747.0,312.1 L744.9,312.4 L743.1,312.7 L741.9,312.9 L739.9,313.2 L737.9,313.5 L736.0,313.8 L734.8,314.0 L732.8,314.3 L730.8,314.7 L729.0,314.9 L727.7,315.2 L725.7,315.5 L723.7,315.8 L722.0,316.1 L720.6,316.3 L718.6,316.6 L716.6,316.9 L715.0,317.2 L713.5,317.4 L711.5,317.7 L709.5,318.1 L707.9,318.3 L706.4,318.5 L704.4,318.9 L702.4,319.2 L700.9,319.4 L699.4,319.7 L697.3,320.0 L695.3,320.3 L694.0,320.5 L692.3,320.8 L690.2,321.1 L688.2,321.5 L687.0,321.7 L685.2,322.0 L683.1,322.3 L681.1,322.6 L680.0,322.8 L678.1,323.1 L676.1,323.4 L674.0,323.7 L673.0,323.9 L671.0,324.2 L669.0,324.6 L666.9,324.9 L665.9,325.1 L663.9,325.4 L661.9,325.7 L659.8,326.0 L658.8,326.2 L656.8,326.5 L654.8,326.9 L652.8,327.2 L651.7,327.4 L649.7,327.7 L647.7,328.0"/>
<path d="M1376.1,257.1 L1374.1,257.4 L1372.1,257.7 L1371.1,257.9 L1369.0,258.2 L1367.0,258.5 L1365.0,258.8 L1363.4,259.0 L1361.9,259.2 L1359.9,259.5 L1357.9,259.8 L1355.9,260.1 L1354.8,260.2 L1352.8,260.5 L1350.8,260.8 L1348.8,261.1 L1347.8,261.3 L1345.7,261.6 L1343.7,261.9 L1341.7,262.2 L1340.4,262.4 L1338.6,262.6 L1336.6,262.9 L1334.6,263.2 L1332.8,263.5 L1331.5,263.7 L1329.5,264.0 L1327.5,264.3 L1325.5,264.6 L1324.5,264.7 L1322.4,265.0 L1320.4,265.3 L1318.4,265.6 L1317.4,265.7 L1315.3,266.0 L1313.3,266.3 L1311.3,266.6 L1310.0,266.8 L1308.2,267.1 L1306.2,267.4 L1304.2,267.7 L1302.4,268.0 L1301.2,268.1 L1299.1,268.4 L1297.1,268.7 L1295.1,269.0 L1294.1,269.2 L1292.0,269.5 L1290.0,269.8 L1288.0,270.1 L1287.0,270.2 L1284.9,270.5 L1282.9,270.8 L1280.9,271.1 L1279.7,271.3 L1277.9,271.6 L1275.8,271.9 L1273.8,272.2 L1272.2,272.4 L1270.8,272.6 L1268.7,272.9 L1266.7,273.2 L1264.7,273.5 L1263.7,273.7 L1261.6,274.0 L1259.6,274.3 L1257.6,274.6 L1256.6,274.7 L1254.6,275.1 L1252.5,275.4 L1250.5,275.7 L1249.5,275.8 L1247.5,276.1 L1245.4,276.4 L1243.4,276.7 L1242.1,276.9 L1240.4,277.2 L1238.3,277.5 L1236.3,277.8 L1234.7,278.0 L1233.3,278.2 L1231.2,278.5 L1229.2,278.8 L1227.2,279.1 L1226.2,279.3 L1224.2,279.6 L1222.1,279.9 L1220.1,280.2 L1219.1,280.4 L1217.1,280.7 L1215.0,281.0 L1213.0,281.3 L1212.0,281.4 L1210.0,281.7 L1207.9,282.0 L1205.9,282.3 L1204.9,282.5 L1202.9,282.8 L1200.9,283.1 L1198.8,283.4 L1197.5,283.6 L1195.8,283.9 L1193.8,284.2 L1191.7,284.5 L1190.1,284.7 L1188.7,284.9 L1186.7,285.3 L1184.6,285.6 L1182.7,285.9 L1181.6,286.0 L1179.6,286.3 L1177.6,286.6 L1175.5,286.9 L1174.5,287.1 L1172.5,287.4 L1170.5,287.7 L1168.4,288.0 L1167.4,288.2 L1165.4,288.5 L1163.4,288.8 L1161.3,289.1 L1160.3,289.3 L1158.3,289.6 L1156.3,289.9 L1154.3,290.2 L1153.2,290.3 L1151.2,290.6 L1149.2,291.0 L1147.2,291.3 L1145.9,291.5 L1144.1,291.7 L1142.1,292.0 L1140.1,292.3 L1138.6,292.6 L1137.0,292.8 L1135.0,293.1 L1133.0,293.4 L1131.3,293.7 L1129.9,293.9 L1127.9,294.2 L1125.9,294.5 L1124.0,294.8 L1122.8,295.0 L1120.8,295.3 L1118.8,295.6 L1116.8,295.9 L1115.8,296.1 L1113.7,296.4 L1111.7,296.7 L1109.7,297.0 L1108.7,297.2 L1106.6,297.5 L1104.6,297.8 L1102.6,298.1 L1101.6,298.3 L1099.5,298.6 L1097.5,298.9 L1095.5,299.2 L1094.5,299.4 L1092.5,299.7 L1090.4,300.0 L1088.4,300.3 L1087.4,300.5 L1085.4,300.8 L1083.3,301.1 L1081.3,301.4 L1080.3,301.6 L1078.3,301.9 L1076.2,302.2 L1074.2,302.5 L1073.2,302.7 L1071.2,303.0 L1069.1,303.3 L1067.1,303.6 L1066.1,303.8 L1064.1,304.1 L1062.1,304.4 L1060.0,304.7 L1058.9,304.9 L1057.0,305.2 L1055.0,305.5 L1052.9,305.8 L1051.8,306.0 L1049.9,306.3 L1047.9,306.6 L1045.8,306.9 L1044.6,307.1 L1042.8,307.4 L1040.8,307.7 L1038.8,308.0 L1037.5,308.2 L1035.7,308.5 L1033.7,308.8 L1031.7,309.1 L1030.3,309.4 L1028.6,309.6 L1026.6,309.9 L1024.6,310.3 L1023.2,310.5 L1021.5,310.7 L1019.5,311.1 L1017.5,311.4 L1016.1,311.6 L1014.4,311.9 L1012.4,312.2 L1010.4,312.5 L1009.0,312.7 L1007.3,313.0 L1005.3,313.3 L1003.3,313.6 L1001.9,313.8 L1000.3,314.1 L998.2,314.4 L996.2,314.7 L994.9,314.9 L993.2,315.2 L991.1,315.5 L989.1,315.9 L987.8,316.1 L986.1,316.3 L984.0,316.7 L982.0,317.0 L980.8,317.2 L979.0,317.5 L977.0,317.8 L974.9,318.1 L973.7,318.3 L971.9,318.6 L969.9,318.9 L967.8,319.2 L966.7,319.4 L964.8,319.7 L962.8,320.1 L960.7,320.4 L959.7,320.5 L957.7,320.9 L955.7,321.2 L953.7,321.5 L952.6,321.7 L950.6,322.0 L948.6,322.3 L946.6,322.6 L945.5,322.8 L943.5,323.1 L941.5,323.5 L939.5,323.8 L938.5,323.9 L936.4,324.3 L934.4,324.6 L932.4,324.9 L931.4,325.1 L929.3,325.4 L927.3,325.7 L925.3,326.1 L924.3,326.2 L922.2,326.6 L920.2,326.9 L918.2,327.2 L917.2,327.4 L915.2,327.7 L913.1,328.0 L911.1,328.4 L910.1,328.5 L908.1,328.9 L906.0,329.2 L904.1,329.5 L903.0,329.7 L901.0,330.0 L898.9,330.3 L897.2,330.6 L895.9,330.8 L893.9,331.2 L891.9,331.5 L890.3,331.7 L888.8,332.0 L886.8,332.3 L884.8,332.6 L883.5,332.8 L881.7,333.1 L879.7,333.5 L877.7,333.8 L876.6,334.0 L874.6,334.3 L872.6,334.6 L870.6,335.0 L869.6,335.1 L867.5,335.5 L865.5,335.8 L863.5,336.1 L862.5,336.3 L860.4,336.6 L858.4,336.9 L856.4,337.3 L855.4,337.4 L853.4,337.8 L851.3,338.1 L849.3,338.4 L848.3,338.6 L846.3,338.9 L844.2,339.3 L842.5,339.6 L841.2,339.8 L839.2,340.1 L837.1,340.4 L835.7,340.7 L834.1,341.0 L832.1,341.3 L830.1,341.6 L829.0,341.8 L827.0,342.1 L825.0,342.5 L823.0,342.8 L821.9,343.0 L819.9,343.3 L817.9,343.6 L815.9,344.0 L814.9,344.1 L812.8,344.5 L810.8,344.8 L808.8,345.2 L807.8,345.3 L805.7,345.7 L803.7,346.0 L802.0,346.3 L800.7,346.5 L798.6,346.8 L796.6,347.2 L795.3,347.4 L793.6,347.7 L791.6,348.0 L789.5,348.4 L788.5,348.5 L786.5,348.9 L784.5,349.2 L782.4,349.6 L781.4,349.7 L779.4,350.1 L777.4,350.4 L775.3,350.7 L774.3,350.9 L772.3,351.3 L770.3,351.6 L768.6,351.9 L767.2,352.1 L765.2,352.4 L763.2,352.8 L762.0,353.0 L760.1,353.3 L758.1,353.6 L756.1,354.0 L755.1,354.2 L753.1,354.5 L751.0,354.8 L749.0,355.2 L748.0,355.4 L746.0,355.7 L743.9,356.0 L742.2,356.3 L740.9,356.6 L738.9,356.9 L736.8,357.2 L735.6,357.5 L733.8,357.8 L731.8,358.1 L729.8,358.5 L728.7,358.6 L726.7,359.0 L724.7,359.3 L722.7,359.7 L721.6,359.8 L719.6,360.2 L717.6,360.5 L715.9,360.8 L714.6,361.0 L712.5,361.4 L710.5,361.7 L709.3,361.9 L707.5,362.3 L705.4,362.6 L703.4,363.0 L702.4,363.1 L700.4,363.5 L698.3,363.8 L696.3,364.2 L695.3,364.3 L693.3,364.7 L691.3,365.0 L689.8,365.3 L688.2,365.6 L686.2,365.9 L684.2,366.3 L683.1,366.4 L681.1,366.8 L679.1,367.1 L677.1,367.5 L676.1,367.7 L674.0,368.0 L672.0,368.4 L670.4,368.7 L669.0,368.9 L666.9,369.3 L664.9,369.6 L663.9,369.8 L661.9,370.1 L659.8,370.5 L657.8,370.8 L656.8,371.0 L654.8,371.4 L652.8,371.7 L651.1,372.0 L649.7,372.2 L647.7,372.6"/>
<path d="M1376.1,297.0 L1375.1,297.1 L1373.1,297.4 L1371.1,297.7 L1369.0,298.1 L1368.0,298.2 L1366.0,298.5 L1364.0,298.8 L1361.9,299.1 L1360.9,299.3 L1358.9,299.6 L1356.9,299.9 L1354.8,300.2 L1353.8,300.4 L1351.8,300.7 L1349.8,301.0 L1347.8,301.3 L1346.6,301.5 L1344.7,301.8 L1342.7,302.1 L1340.7,302.4 L1339.3,302.6 L1337.6,302.9 L1335.6,303.2 L1333.6,303.5 L1332.1,303.8 L1330.5,304.0 L1328.5,304.3 L1326.5,304.6 L1324.9,304.9 L1323.4,305.1 L1321.4,305.4 L1319.4,305.7 L1317.7,306.0 L1316.4,306.2 L1314.3,306.5 L1312.3,306.8 L1310.5,307.1 L1309.3,307.3 L1307.2,307.6 L1305.2,307.9 L1303.4,308.2 L1302.2,308.4 L1300.1,308.7 L1298.1,309.1 L1296.2,309.4 L1295.1,309.5 L1293.0,309.8 L1291.0,310.2 L1289.1,310.5 L1288.0,310.6 L1286.0,311.0 L1283.9,311.3 L1282.0,311.6 L1280.9,311.8 L1278.9,312.1 L1276.8,312.4 L1274.8,312.7 L1273.8,312.9 L1271.8,313.2 L1269.7,313.5 L1267.7,313.8 L1266.7,314.0 L1264.7,314.3 L1262.7,314.6 L1260.6,314.9 L1259.6,315.1 L1257.6,315.4 L1255.6,315.7 L1253.6,316.1 L1252.5,316.2 L1250.5,316.5 L1248.5,316.9 L1246.5,317.2 L1245.4,317.4 L1243.4,317.7 L1241.4,318.0 L1239.4,318.3 L1238.3,318.5 L1236.3,318.8 L1234.3,319.1 L1232.4,319.4 L1231.2,319.6 L1229.2,319.9 L1227.2,320.2 L1225.4,320.5 L1224.2,320.7 L1222.1,321.1 L1220.1,321.4 L1218.3,321.7 L1217.1,321.9 L1215.0,322.2 L1213.0,322.5 L1211.3,322.8 L1210.0,323.0 L1207.9,323.3 L1205.9,323.6 L1204.3,323.9 L1202.9,324.1 L1200.9,324.5 L1198.8,324.8 L1197.4,325.0 L1195.8,325.3 L1193.8,325.6 L1191.7,325.9 L1190.4,326.1 L1188.7,326.4 L1186.7,326.7 L1184.6,327.1 L1183.4,327.3 L1181.6,327.5 L1179.6,327.9 L1177.6,328.2 L1176.5,328.4 L1174.5,328.7 L1172.5,329.0 L1170.5,329.3 L1169.4,329.5 L1167.4,329.8 L1165.4,330.2 L1163.4,330.5 L1162.4,330.7 L1160.3,331.0 L1158.3,331.3 L1156.3,331.6 L1155.3,331.8 L1153.2,332.1 L1151.2,332.5 L1149.2,332.8 L1148.2,333.0 L1146.1,333.3 L1144.1,333.6 L1142.1,333.9 L1141.1,334.1 L1139.1,334.4 L1137.0,334.8 L1135.1,335.1 L1134.0,335.3 L1132.0,335.6 L1129.9,335.9 L1128.2,336.2 L1126.9,336.4 L1124.9,336.8 L1122.8,337.1 L1121.4,337.3 L1119.8,337.6 L1117.8,337.9 L1115.8,338.2 L1114.6,338.4 L1112.7,338.7 L1110.7,339.1 L1108.7,339.4 L1107.6,339.6 L1105.6,339.9 L1103.6,340.2 L1101.6,340.6 L1100.6,340.7 L1098.5,341.1 L1096.5,341.4 L1094.5,341.7 L1093.5,341.9 L1091.4,342.2 L1089.4,342.6 L1087.4,342.9 L1086.4,343.1 L1084.3,343.4 L1082.3,343.8 L1080.6,344.0 L1079.3,344.3 L1077.3,344.6 L1075.2,344.9 L1073.9,345.2 L1072.2,345.4 L1070.2,345.8 L1068.1,346.1 L1067.1,346.3 L1065.1,346.6 L1063.1,346.9 L1061.0,347.3 L1060.0,347.5 L1058.0,347.8 L1056.0,348.1 L1054.0,348.5 L1052.9,348.6 L1050.9,349.0 L1048.9,349.3 L1047.0,349.6 L1045.8,349.8 L1043.8,350.2 L1041.8,350.5 L1040.3,350.8 L1038.8,351.0 L1036.7,351.3 L1034.7,351.7 L1033.6,351.9 L1031.7,352.2 L1029.6,352.5 L1027.6,352.9 L1026.6,353.0 L1024.6,353.4 L1022.5,353.7 L1020.5,354.1 L1019.5,354.2 L1017.5,354.6 L1015.5,354.9 L1013.6,355.2 L1012.4,355.4 L1010.4,355.8 L1008.4,356.1 L1007.0,356.3 L1005.3,356.6 L1003.3,357.0 L1001.3,357.3 L1000.3,357.5 L998.2,357.8 L996.2,358.2 L994.2,358.5 L993.2,358.7 L991.1,359.0 L989.1,359.4 L987.2,359.7 L986.1,359.9 L984.0,360.2 L982.0,360.6 L980.6,360.8 L979.0,361.1 L977.0,361.4 L974.9,361.8 L973.9,362.0 L971.9,362.3 L969.9,362.7 L967.8,363.0 L966.8,363.2 L964.8,363.5 L962.8,363.9 L961.0,364.2 L959.7,364.4 L957.7,364.7 L955.7,365.1 L954.5,365.3 L952.6,365.6 L950.6,366.0 L948.6,366.3 L947.6,366.5 L945.5,366.8 L943.5,367.2 L941.5,367.5 L940.5,367.7 L938.5,368.0 L936.4,368.4 L935.0,368.7 L933.4,368.9 L931.4,369.3 L929.3,369.6 L928.3,369.8 L926.3,370.1 L924.3,370.5 L922.2,370.9 L921.2,371.0 L919.2,371.4 L917.2,371.7 L915.6,372.0 L914.1,372.3 L912.1,372.6 L910.1,373.0 L909.1,373.1 L907.0,373.5 L905.0,373.8 L903.0,374.2 L902.0,374.4 L900.0,374.7 L897.9,375.1 L896.3,375.4 L894.9,375.6 L892.9,376.0 L890.8,376.3 L889.8,376.5 L887.8,376.9 L885.8,377.2 L883.7,377.6 L882.7,377.7 L880.7,378.1 L878.7,378.5 L877.2,378.7 L875.6,379.0 L873.6,379.3 L871.6,379.7 L870.6,379.9 L868.5,380.2 L866.5,380.6 L864.5,381.0 L863.5,381.1 L861.5,381.5 L859.4,381.8 L858.1,382.1 L856.4,382.4 L854.4,382.7 L852.3,383.1 L851.3,383.3 L849.3,383.6 L847.3,384.0 L845.5,384.3 L844.2,384.5 L842.2,384.9 L840.2,385.3 L839.2,385.4 L837.1,385.8 L835.1,386.2 L833.1,386.5 L832.1,386.7 L830.1,387.1 L828.0,387.4 L826.7,387.7 L825.0,388.0 L823.0,388.3 L820.9,388.7 L819.9,388.9 L817.9,389.2 L815.9,389.6 L814.2,389.9 L812.8,390.2 L810.8,390.5 L808.8,390.9 L807.8,391.1 L805.7,391.4 L803.7,391.8 L801.7,392.1 L800.7,392.3 L798.6,392.7 L796.6,393.1 L795.5,393.3 L793.6,393.6 L791.6,394.0 L789.5,394.4 L788.5,394.5 L786.5,394.9 L784.5,395.3 L783.2,395.5 L781.4,395.8 L779.4,396.2 L777.4,396.6 L776.4,396.7 L774.3,397.1 L772.3,397.5 L770.9,397.7 L769.3,398.0 L767.2,398.4 L765.2,398.8 L764.2,399.0 L762.2,399.3 L760.1,399.7 L758.6,400.0 L757.1,400.3 L755.1,400.6 L753.1,401.0 L752.0,401.2 L750.0,401.6 L748.0,401.9 L746.4,402.2 L744.9,402.5 L742.9,402.9 L740.9,403.2 L739.9,403.4 L737.9,403.8 L735.8,404.2 L734.2,404.5 L732.8,404.7 L730.8,405.1 L728.7,405.5 L727.7,405.7 L725.7,406.0 L723.7,406.4 L722.1,406.7 L720.6,407.0 L718.6,407.3 L716.6,407.7 L715.6,407.9 L713.5,408.3 L711.5,408.7 L710.1,408.9 L708.5,409.2 L706.4,409.6 L704.4,410.0 L703.4,410.2 L701.4,410.6 L699.4,410.9 L698.1,411.2 L696.3,411.5 L694.3,411.9 L692.3,412.3 L691.3,412.5 L689.2,412.8 L687.2,413.2 L686.2,413.4 L684.2,413.8 L682.1,414.2 L680.2,414.5 L679.1,414.7 L677.1,415.1 L675.0,415.5 L674.0,415.7 L672.0,416.1 L670.0,416.5 L668.4,416.8 L666.9,417.0 L664.9,417.4 L662.9,417.8 L661.9,418.0 L659.8,418.4 L657.8,418.8 L656.5,419.0 L654.8,419.3 L652.8,419.7 L650.7,420.1 L649.7,420.3 L647.7,420.7"/>
<path d="M1376.1,339.0 L1374.1,339.4 L1372.9,339.6 L1371.1,339.9 L1369.0,340.2 L1367.0,340.5 L1366.0,340.7 L1364.0,341.0 L1361.9,341.4 L1359.9,341.7 L1358.9,341.9 L1356.9,342.2 L1354.8,342.5 L1352.8,342.9 L1351.8,343.0 L1349.8,343.4 L1347.8,343.7 L1345.7,344.0 L1344.7,344.2 L1342.7,344.5 L1340.7,344.9 L1338.9,345.2 L1337.6,345.4 L1335.6,345.7 L1333.6,346.0 L1332.1,346.3 L1330.5,346.5 L1328.5,346.9 L1326.5,347.2 L1325.3,347.4 L1323.4,347.7 L1321.4,348.0 L1319.4,348.4 L1318.4,348.6 L1316.4,348.9 L1314.3,349.2 L1312.3,349.6 L1311.3,349.7 L1309.3,350.1 L1307.2,350.4 L1305.2,350.7 L1304.2,350.9 L1302.2,351.3 L1300.1,351.6 L1298.5,351.9 L1297.1,352.1 L1295.1,352.4 L1293.0,352.8 L1291.8,353.0 L1290.0,353.3 L1288.0,353.6 L1286.0,354.0 L1284.9,354.1 L1282.9,354.5 L1280.9,354.8 L1278.9,355.2 L1277.9,355.3 L1275.8,355.7 L1273.8,356.0 L1271.8,356.3 L1270.8,356.5 L1268.7,356.9 L1266.7,357.2 L1265.1,357.5 L1263.7,357.7 L1261.6,358.1 L1259.6,358.4 L1258.5,358.6 L1256.6,358.9 L1254.6,359.3 L1252.5,359.6 L1251.5,359.8 L1249.5,360.1 L1247.5,360.5 L1245.4,360.8 L1244.4,361.0 L1242.4,361.3 L1240.4,361.7 L1238.7,361.9 L1237.3,362.2 L1235.3,362.5 L1233.3,362.9 L1232.1,363.1 L1230.2,363.4 L1228.2,363.7 L1226.2,364.1 L1225.2,364.2 L1223.1,364.6 L1221.1,364.9 L1219.1,365.3 L1218.1,365.5 L1216.1,365.8 L1214.0,366.1 L1212.5,366.4 L1211.0,366.7 L1209.0,367.0 L1206.9,367.4 L1205.9,367.5 L1203.9,367.9 L1201.9,368.2 L1199.8,368.6 L1198.8,368.8 L1196.8,369.1 L1194.8,369.5 L1192.9,369.8 L1191.7,370.0 L1189.7,370.3 L1187.7,370.7 L1186.4,370.9 L1184.6,371.2 L1182.6,371.6 L1180.6,371.9 L1179.6,372.1 L1177.6,372.4 L1175.5,372.8 L1173.5,373.1 L1172.5,373.3 L1170.5,373.7 L1168.4,374.0 L1167.1,374.2 L1165.4,374.5 L1163.4,374.9 L1161.3,375.2 L1160.3,375.4 L1158.3,375.8 L1156.3,376.1 L1154.3,376.5 L1153.2,376.7 L1151.2,377.0 L1149.2,377.4 L1147.8,377.6 L1146.1,377.9 L1144.1,378.2 L1142.1,378.6 L1141.1,378.8 L1139.1,379.1 L1137.0,379.5 L1135.0,379.8 L1134.0,380.0 L1132.0,380.4 L1129.9,380.7 L1128.6,381.0 L1126.9,381.3 L1124.9,381.6 L1122.8,382.0 L1121.8,382.2 L1119.8,382.5 L1117.8,382.9 L1115.9,383.2 L1114.7,383.4 L1112.7,383.8 L1110.7,384.1 L1109.6,384.3 L1107.6,384.7 L1105.6,385.0 L1103.6,385.4 L1102.6,385.6 L1100.6,385.9 L1098.5,386.3 L1097.0,386.6 L1095.5,386.8 L1093.5,387.2 L1091.4,387.5 L1090.4,387.7 L1088.4,388.1 L1086.4,388.4 L1084.4,388.8 L1083.3,389.0 L1081.3,389.3 L1079.3,389.7 L1078.1,389.9 L1076.2,390.3 L1074.2,390.6 L1072.2,391.0 L1071.2,391.2 L1069.1,391.5 L1067.1,391.9 L1065.6,392.1 L1064.1,392.4 L1062.1,392.8 L1060.0,393.2 L1059.0,393.3 L1057.0,393.7 L1055.0,394.1 L1053.2,394.4 L1051.9,394.6 L1049.9,395.0 L1047.9,395.3 L1046.9,395.5 L1044.8,395.9 L1042.8,396.3 L1040.8,396.6 L1039.8,396.8 L1037.7,397.2 L1035.7,397.5 L1034.6,397.7 L1032.7,398.1 L1030.6,398.5 L1028.6,398.8 L1027.6,399.0 L1025.6,399.4 L1023.6,399.8 L1022.3,400.0 L1020.5,400.3 L1018.5,400.7 L1016.5,401.0 L1015.5,401.2 L1013.4,401.6 L1011.4,402.0 L1010.1,402.2 L1008.4,402.5 L1006.3,402.9 L1004.3,403.3 L1003.3,403.5 L1001.3,403.8 L999.2,404.2 L997.9,404.5 L996.2,404.8 L994.2,405.1 L992.2,405.5 L991.1,405.7 L989.1,406.1 L987.1,406.4 L985.7,406.7 L984.0,407.0 L982.0,407.4 L980.0,407.7 L979.0,407.9 L977.0,408.3 L974.9,408.7 L973.6,408.9 L971.9,409.2 L969.9,409.6 L967.8,410.0 L966.8,410.2 L964.8,410.6 L962.8,410.9 L961.6,411.2 L959.7,411.5 L957.7,411.9 L955.7,412.3 L954.7,412.5 L952.6,412.8 L950.6,413.2 L949.6,413.4 L947.6,413.8 L945.5,414.2 L943.6,414.5 L942.5,414.7 L940.5,415.1 L938.5,415.5 L937.4,415.7 L935.4,416.1 L933.4,416.4 L931.7,416.8 L930.4,417.0 L928.3,417.4 L926.3,417.8 L925.3,418.0 L923.3,418.3 L921.2,418.7 L919.8,419.0 L918.2,419.3 L916.2,419.7 L914.1,420.1 L913.1,420.3 L911.1,420.6 L909.1,421.0 L908.0,421.2 L906.0,421.6 L904.0,422.0 L902.1,422.4 L901.0,422.6 L898.9,423.0 L896.9,423.3 L895.9,423.5 L893.9,423.9 L891.9,424.3 L890.4,424.6 L888.8,424.9 L886.8,425.3 L884.8,425.7 L883.7,425.9 L881.7,426.3 L879.7,426.6 L878.7,426.8 L876.7,427.2 L874.6,427.6 L872.9,428.0 L871.6,428.2 L869.6,428.6 L867.5,429.0 L866.5,429.2 L864.5,429.6 L862.5,430.0 L861.3,430.2 L859.4,430.5 L857.4,430.9 L855.5,431.3 L854.4,431.5 L852.3,431.9 L850.3,432.3 L849.3,432.5 L847.3,432.9 L845.2,433.3 L844.0,433.5 L842.2,433.9 L840.2,434.3 L838.2,434.7 L837.1,434.9 L835.1,435.3 L833.1,435.7 L832.1,435.9 L830.1,436.3 L828.0,436.7 L826.8,436.9 L825.0,437.3 L823.0,437.7 L821.1,438.0 L819.9,438.3 L817.9,438.7 L815.9,439.1 L814.9,439.3 L812.8,439.7 L810.8,440.1 L809.7,440.3 L807.8,440.7 L805.7,441.1 L804.1,441.4 L802.7,441.7 L800.7,442.1 L798.6,442.5 L797.6,442.7 L795.6,443.1 L793.6,443.5 L792.6,443.7 L790.5,444.1 L788.5,444.5 L787.2,444.7 L785.5,445.1 L783.4,445.5 L781.6,445.9 L780.4,446.1 L778.4,446.5 L776.4,446.9 L775.3,447.1 L773.3,447.5 L771.3,447.9 L770.3,448.1 L768.3,448.5 L766.2,448.9 L764.9,449.2 L763.2,449.5 L761.2,450.0 L759.3,450.3 L758.1,450.6 L756.1,451.0 L754.1,451.4 L753.1,451.6 L751.0,452.0 L749.0,452.4 L748.0,452.6 L746.0,453.0 L743.9,453.4 L742.8,453.7 L740.9,454.1 L738.9,454.5 L737.3,454.8 L735.8,455.1 L733.8,455.5 L731.8,455.9 L730.8,456.1 L728.7,456.5 L726.7,457.0 L725.7,457.2 L723.7,457.6 L721.6,458.0 L720.6,458.2 L718.6,458.6 L716.6,459.0 L715.4,459.3 L713.5,459.7 L711.5,460.1 L710.0,460.4 L708.5,460.7 L706.4,461.1 L704.6,461.5 L703.4,461.8 L701.4,462.2 L699.4,462.6 L698.3,462.8 L696.3,463.2 L694.3,463.6 L693.3,463.9 L691.3,464.3 L689.2,464.7 L688.2,464.9 L686.2,465.3 L684.2,465.8 L683.1,466.0 L681.1,466.4 L679.1,466.8 L677.7,467.1 L676.1,467.5 L674.0,467.9 L672.4,468.2 L671.0,468.5 L669.0,468.9 L667.1,469.3 L665.9,469.6 L663.9,470.0 L661.9,470.4 L660.9,470.7 L658.8,471.1 L656.8,471.5 L655.8,471.7 L653.8,472.2 L651.7,472.6 L650.7,472.8 L648.7,473.2 L646.7,473.7"/>
<path d="M1376.1,383.9 L1374.1,384.2 L1373.1,384.4 L1371.1,384.8 L1369.0,385.1 L1367.3,385.4 L1366.0,385.7 L1364.0,386.0 L1361.9,386.4 L1360.9,386.6 L1358.9,386.9 L1356.9,387.3 L1354.8,387.6 L1353.8,387.8 L1351.8,388.2 L1349.8,388.5 L1348.3,388.8 L1346.7,389.1 L1344.7,389.4 L1342.7,389.8 L1341.7,390.0 L1339.7,390.3 L1337.6,390.7 L1335.7,391.0 L1334.6,391.2 L1332.6,391.6 L1330.5,392.0 L1329.5,392.1 L1327.5,392.5 L1325.5,392.9 L1323.4,393.2 L1322.4,393.4 L1320.4,393.8 L1318.4,394.1 L1317.0,394.4 L1315.3,394.7 L1313.3,395.0 L1311.3,395.4 L1310.3,395.6 L1308.2,396.0 L1306.2,396.3 L1304.5,396.6 L1303.2,396.9 L1301.2,397.2 L1299.1,397.6 L1298.1,397.8 L1296.1,398.1 L1294.1,398.5 L1292.1,398.9 L1291.0,399.1 L1289.0,399.4 L1287.0,399.8 L1286.0,400.0 L1283.9,400.3 L1281.9,400.7 L1279.9,401.1 L1278.9,401.3 L1276.8,401.6 L1274.8,402.0 L1273.6,402.2 L1271.8,402.6 L1269.7,402.9 L1267.7,403.3 L1266.7,403.5 L1264.7,403.9 L1262.7,404.2 L1261.4,404.5 L1259.6,404.8 L1257.6,405.1 L1255.6,405.5 L1254.6,405.7 L1252.5,406.1 L1250.5,406.5 L1249.2,406.7 L1247.5,407.0 L1245.4,407.4 L1243.4,407.8 L1242.4,407.9 L1240.4,408.3 L1238.3,408.7 L1237.0,408.9 L1235.3,409.2 L1233.3,409.6 L1231.2,410.0 L1230.2,410.2 L1228.2,410.6 L1226.2,410.9 L1224.9,411.2 L1223.1,411.5 L1221.1,411.9 L1219.1,412.2 L1218.1,412.4 L1216.1,412.8 L1214.0,413.2 L1212.9,413.4 L1211.0,413.8 L1209.0,414.1 L1206.9,414.5 L1205.9,414.7 L1203.9,415.1 L1201.9,415.5 L1200.9,415.6 L1198.8,416.0 L1196.8,416.4 L1194.9,416.8 L1193.8,417.0 L1191.7,417.4 L1189.7,417.7 L1188.7,417.9 L1186.7,418.3 L1184.6,418.7 L1183.0,419.0 L1181.6,419.3 L1179.6,419.6 L1177.6,420.0 L1176.5,420.2 L1174.5,420.6 L1172.5,421.0 L1171.1,421.2 L1169.4,421.5 L1167.4,421.9 L1165.4,422.3 L1164.4,422.5 L1162.4,422.9 L1160.3,423.3 L1159.3,423.5 L1157.3,423.9 L1155.3,424.2 L1153.4,424.6 L1152.2,424.8 L1150.2,425.2 L1148.2,425.6 L1147.2,425.8 L1145.1,426.2 L1143.1,426.6 L1141.7,426.8 L1140.1,427.1 L1138.0,427.5 L1136.0,427.9 L1135.0,428.1 L1133.0,428.5 L1130.9,428.9 L1129.9,429.1 L1127.9,429.5 L1125.9,429.9 L1124.2,430.2 L1122.8,430.4 L1120.8,430.8 L1118.8,431.2 L1117.8,431.4 L1115.8,431.8 L1113.7,432.2 L1112.5,432.4 L1110.7,432.8 L1108.7,433.2 L1106.8,433.5 L1105.6,433.8 L1103.6,434.2 L1101.6,434.6 L1100.6,434.8 L1098.5,435.1 L1096.5,435.5 L1095.2,435.8 L1093.5,436.1 L1091.4,436.5 L1089.5,436.9 L1088.4,437.1 L1086.4,437.5 L1084.3,437.9 L1083.3,438.1 L1081.3,438.5 L1079.3,438.9 L1078.1,439.1 L1076.2,439.5 L1074.2,439.9 L1072.4,440.3 L1071.2,440.5 L1069.1,440.9 L1067.1,441.3 L1066.1,441.5 L1064.1,441.9 L1062.1,442.3 L1061.0,442.5 L1059.0,442.9 L1057.0,443.3 L1055.3,443.6 L1054.0,443.9 L1051.9,444.3 L1049.9,444.7 L1048.9,444.9 L1046.9,445.3 L1044.8,445.7 L1043.8,445.9 L1041.8,446.3 L1039.8,446.7 L1038.4,447.0 L1036.7,447.3 L1034.7,447.7 L1032.8,448.1 L1031.7,448.3 L1029.6,448.7 L1027.6,449.1 L1026.6,449.3 L1024.6,449.7 L1022.5,450.2 L1021.5,450.4 L1019.5,450.8 L1017.5,451.2 L1016.1,451.4 L1014.4,451.8 L1012.4,452.2 L1010.5,452.6 L1009.4,452.8 L1007.3,453.2 L1005.3,453.6 L1004.3,453.8 L1002.3,454.2 L1000.3,454.6 L999.2,454.9 L997.2,455.3 L995.2,455.7 L994.0,455.9 L992.2,456.3 L990.1,456.7 L988.5,457.0 L987.1,457.3 L985.1,457.7 L983.0,458.2 L982.0,458.4 L980.0,458.8 L978.0,459.2 L977.0,459.4 L974.9,459.8 L972.9,460.2 L971.9,460.4 L969.9,460.9 L967.8,461.3 L966.6,461.5 L964.8,461.9 L962.8,462.3 L961.2,462.6 L959.7,462.9 L957.7,463.4 L955.8,463.8 L954.7,464.0 L952.6,464.4 L950.6,464.8 L949.6,465.0 L947.6,465.5 L945.5,465.9 L944.5,466.1 L942.5,466.5 L940.5,466.9 L939.5,467.1 L937.4,467.6 L935.4,468.0 L934.3,468.2 L932.4,468.6 L930.4,469.0 L928.9,469.3 L927.3,469.7 L925.3,470.1 L923.6,470.5 L922.2,470.7 L920.2,471.2 L918.3,471.6 L917.2,471.8 L915.2,472.2 L913.1,472.7 L912.1,472.9 L910.1,473.3 L908.1,473.7 L907.0,474.0 L905.0,474.4 L903.0,474.8 L902.0,475.0 L900.0,475.5 L897.9,475.9 L896.9,476.1 L894.9,476.5 L892.9,477.0 L891.9,477.2 L889.8,477.6 L887.8,478.0 L886.6,478.3 L884.8,478.7 L882.7,479.1 L881.4,479.4 L879.7,479.8 L877.7,480.2 L876.2,480.5 L874.6,480.9 L872.6,481.3 L871.0,481.7 L869.6,482.0 L867.5,482.4 L865.8,482.8 L864.5,483.1 L862.5,483.5 L860.6,483.9 L859.4,484.2 L857.4,484.6 L855.5,485.0 L854.4,485.3 L852.3,485.7 L850.4,486.1 L849.3,486.4 L847.3,486.8 L845.2,487.2 L844.2,487.5 L842.2,487.9 L840.2,488.4 L839.2,488.6 L837.1,489.0 L835.1,489.5 L834.1,489.7 L832.1,490.1 L830.1,490.6 L829.0,490.8 L827.0,491.3 L825.0,491.7 L824.0,491.9 L821.9,492.4 L819.9,492.8 L818.9,493.0 L816.9,493.5 L814.9,493.9 L813.8,494.2 L811.8,494.6 L809.8,495.1 L808.8,495.3 L806.7,495.7 L804.7,496.2 L803.7,496.4 L801.7,496.9 L799.7,497.3 L798.6,497.6 L796.6,498.0 L794.7,498.4 L793.6,498.7 L791.6,499.2 L789.8,499.6 L788.5,499.8 L786.5,500.3 L784.8,500.7 L783.4,501.0 L781.4,501.4 L779.9,501.8 L778.4,502.1 L776.4,502.6 L774.9,502.9 L773.3,503.3 L771.3,503.7 L770.0,504.0 L768.3,504.4 L766.2,504.9 L765.1,505.2 L763.2,505.6 L761.2,506.1 L760.1,506.3 L758.1,506.8 L756.1,507.2 L755.1,507.5 L753.1,507.9 L751.0,508.4 L750.0,508.6 L748.0,509.1 L746.0,509.6 L744.9,509.8 L742.9,510.3 L740.9,510.7 L739.9,511.0 L737.9,511.4 L736.0,511.9 L734.8,512.1 L732.8,512.6 L731.2,513.0 L729.8,513.3 L727.7,513.8 L726.4,514.1 L724.7,514.5 L722.7,515.0 L721.6,515.2 L719.6,515.7 L717.6,516.2 L716.6,516.4 L714.6,516.9 L712.5,517.4 L711.5,517.6 L709.5,518.1 L707.5,518.6 L706.4,518.8 L704.4,519.3 L702.7,519.7 L701.4,520.0 L699.4,520.5 L698.0,520.8 L696.3,521.2 L694.3,521.7 L693.3,521.9 L691.3,522.4 L689.2,522.9 L688.2,523.2 L686.2,523.6 L684.2,524.1 L683.1,524.4 L681.1,524.9 L679.3,525.3 L678.1,525.6 L676.1,526.1 L674.7,526.4 L673.0,526.8 L671.0,527.3 L670.0,527.6 L668.0,528.0 L665.9,528.5 L664.9,528.8 L662.9,529.3 L660.9,529.8 L659.8,530.0 L657.8,530.5 L656.3,530.9 L654.8,531.3 L652.8,531.8 L651.7,532.0 L649.7,532.5 L647.7,533.0 L646.7,533.3"/>
<path d="M1376.1,432.3 L1375.1,432.5 L1373.1,432.8 L1371.1,433.2 L1369.5,433.5 L1368.0,433.8 L1366.0,434.2 L1364.0,434.6 L1363.0,434.8 L1360.9,435.2 L1358.9,435.6 L1357.9,435.8 L1355.9,436.2 L1353.8,436.6 L1352.1,436.9 L1350.8,437.2 L1348.8,437.6 L1346.7,437.9 L1345.7,438.1 L1343.7,438.5 L1341.7,438.9 L1340.6,439.1 L1338.6,439.5 L1336.6,439.9 L1334.9,440.3 L1333.6,440.5 L1331.5,440.9 L1329.5,441.3 L1328.5,441.5 L1326.5,441.9 L1324.5,442.3 L1323.4,442.5 L1321.4,442.9 L1319.4,443.3 L1317.8,443.6 L1316.4,443.9 L1314.3,444.3 L1312.3,444.7 L1311.3,444.9 L1309.3,445.3 L1307.2,445.7 L1306.2,445.9 L1304.2,446.3 L1302.2,446.7 L1300.8,447.0 L1299.1,447.3 L1297.1,447.7 L1295.2,448.1 L1294.1,448.3 L1292.0,448.7 L1290.0,449.1 L1289.0,449.3 L1287.0,449.7 L1284.9,450.1 L1283.9,450.3 L1281.9,450.7 L1279.9,451.1 L1278.3,451.4 L1276.8,451.7 L1274.8,452.2 L1272.8,452.6 L1271.8,452.8 L1269.7,453.2 L1267.7,453.6 L1266.7,453.8 L1264.7,454.2 L1262.7,454.6 L1261.6,454.8 L1259.6,455.2 L1257.6,455.6 L1256.1,455.9 L1254.6,456.2 L1252.5,456.6 L1250.6,457.0 L1249.5,457.3 L1247.5,457.7 L1245.4,458.1 L1244.4,458.3 L1242.4,458.7 L1240.4,459.1 L1239.4,459.3 L1237.3,459.7 L1235.3,460.1 L1234.1,460.4 L1232.3,460.8 L1230.2,461.2 L1228.6,461.5 L1227.2,461.8 L1225.2,462.2 L1223.1,462.6 L1222.1,462.8 L1220.1,463.3 L1218.1,463.7 L1217.1,463.9 L1215.0,464.3 L1213.0,464.7 L1212.0,464.9 L1210.0,465.3 L1207.9,465.8 L1206.8,466.0 L1204.9,466.4 L1202.9,466.8 L1201.4,467.1 L1199.8,467.4 L1197.8,467.9 L1196.0,468.2 L1194.8,468.5 L1192.7,468.9 L1190.7,469.3 L1189.7,469.5 L1187.7,470.0 L1185.7,470.4 L1184.6,470.6 L1182.6,471.0 L1180.6,471.4 L1179.6,471.7 L1177.6,472.1 L1175.5,472.5 L1174.5,472.7 L1172.5,473.1 L1170.5,473.6 L1169.3,473.8 L1167.4,474.2 L1165.4,474.6 L1164.0,474.9 L1162.4,475.3 L1160.3,475.7 L1158.7,476.1 L1157.3,476.4 L1155.3,476.8 L1153.4,477.2 L1152.2,477.4 L1150.2,477.9 L1148.2,478.3 L1147.2,478.5 L1145.1,478.9 L1143.1,479.4 L1142.1,479.6 L1140.1,480.0 L1138.0,480.4 L1137.0,480.7 L1135.0,481.1 L1133.0,481.5 L1132.0,481.7 L1129.9,482.2 L1127.9,482.6 L1126.9,482.8 L1124.9,483.3 L1122.8,483.7 L1121.8,483.9 L1119.8,484.4 L1117.8,484.8 L1116.8,485.0 L1114.7,485.5 L1112.7,485.9 L1111.6,486.1 L1109.7,486.6 L1107.6,487.0 L1106.5,487.2 L1104.6,487.7 L1102.6,488.1 L1101.3,488.4 L1099.5,488.8 L1097.5,489.2 L1096.2,489.5 L1094.5,489.9 L1092.5,490.3 L1091.1,490.6 L1089.4,491.0 L1087.4,491.4 L1086.0,491.7 L1084.3,492.1 L1082.3,492.5 L1080.9,492.8 L1079.3,493.2 L1077.3,493.6 L1075.8,494.0 L1074.2,494.3 L1072.2,494.8 L1070.8,495.1 L1069.1,495.4 L1067.1,495.9 L1065.7,496.2 L1064.1,496.6 L1062.1,497.0 L1060.7,497.3 L1059.0,497.7 L1057.0,498.1 L1055.7,498.4 L1054.0,498.8 L1051.9,499.3 L1050.7,499.6 L1048.9,500.0 L1046.9,500.4 L1045.7,500.7 L1043.8,501.1 L1041.8,501.5 L1040.7,501.8 L1038.8,502.2 L1036.7,502.7 L1035.7,502.9 L1033.7,503.4 L1031.7,503.8 L1030.6,504.1 L1028.6,504.5 L1026.6,505.0 L1025.6,505.2 L1023.6,505.7 L1021.5,506.1 L1020.5,506.4 L1018.5,506.8 L1016.5,507.3 L1015.5,507.5 L1013.4,508.0 L1011.4,508.4 L1010.4,508.7 L1008.4,509.1 L1006.3,509.6 L1005.3,509.8 L1003.3,510.3 L1001.4,510.7 L1000.3,511.0 L998.2,511.5 L996.5,511.9 L995.2,512.2 L993.2,512.6 L991.7,513.0 L990.1,513.4 L988.1,513.8 L986.9,514.1 L985.1,514.5 L983.0,515.0 L982.0,515.2 L980.0,515.7 L978.0,516.2 L977.0,516.4 L974.9,516.9 L972.9,517.4 L971.9,517.6 L969.9,518.1 L967.8,518.6 L966.8,518.8 L964.8,519.3 L963.0,519.7 L961.8,520.0 L959.7,520.5 L958.3,520.8 L956.7,521.2 L954.7,521.7 L953.5,521.9 L951.6,522.4 L949.6,522.9 L948.6,523.1 L946.6,523.6 L944.5,524.1 L943.5,524.3 L941.5,524.8 L939.5,525.3 L938.5,525.5 L936.4,526.0 L934.8,526.4 L933.4,526.7 L931.4,527.2 L930.1,527.5 L928.3,528.0 L926.3,528.5 L925.3,528.7 L923.3,529.2 L921.2,529.7 L920.2,529.9 L918.2,530.4 L916.3,530.9 L915.2,531.2 L913.1,531.7 L911.7,532.0 L910.1,532.4 L908.1,532.9 L907.0,533.1 L905.0,533.6 L903.0,534.1 L902.0,534.4 L900.0,534.9 L898.0,535.4 L896.9,535.6 L894.9,536.1 L893.5,536.5 L891.9,536.9 L889.8,537.4 L888.8,537.6 L886.8,538.1 L884.8,538.6 L883.7,538.9 L881.7,539.4 L879.9,539.8 L878.7,540.2 L876.7,540.7 L875.5,541.0 L873.6,541.4 L871.6,541.9 L870.6,542.2 L868.5,542.7 L866.6,543.2 L865.5,543.5 L863.5,544.0 L862.1,544.3 L860.4,544.7 L858.4,545.2 L857.4,545.5 L855.4,546.0 L853.4,546.5 L852.3,546.8 L850.3,547.3 L848.9,547.7 L847.3,548.1 L845.2,548.6 L844.2,548.9 L842.2,549.4 L840.2,549.9 L839.2,550.2 L837.1,550.7 L835.8,551.0 L834.1,551.5 L832.1,552.0 L831.1,552.3 L829.0,552.8 L827.2,553.3 L826.0,553.6 L824.0,554.1 L822.9,554.4 L820.9,554.9 L818.9,555.4 L817.9,555.7 L815.9,556.2 L814.3,556.6 L812.8,557.0 L810.8,557.5 L809.8,557.8 L807.8,558.3 L805.8,558.9 L804.7,559.1 L802.7,559.7 L801.6,560.0 L799.7,560.5 L797.6,561.0 L796.6,561.3 L794.6,561.8 L793.2,562.2 L791.6,562.6 L789.5,563.2 L788.5,563.5 L786.5,564.0 L784.8,564.5 L783.4,564.8 L781.4,565.4 L780.4,565.6 L778.4,566.2 L776.5,566.7 L775.3,567.0 L773.3,567.6 L772.3,567.8 L770.3,568.4 L768.3,568.9 L767.2,569.2 L765.2,569.8 L764.2,570.0 L762.2,570.6 L760.1,571.2 L759.1,571.4 L757.1,572.0 L756.0,572.3 L754.1,572.8 L752.0,573.4 L751.0,573.7 L749.0,574.2 L747.9,574.5 L746.0,575.1 L743.9,575.6 L742.9,575.9 L740.9,576.5 L739.9,576.8 L737.9,577.3 L735.9,577.9 L734.8,578.2 L732.8,578.8 L731.8,579.0 L729.8,579.6 L728.0,580.1 L726.7,580.5 L724.7,581.1 L723.7,581.3 L721.6,581.9 L720.1,582.4 L718.6,582.8 L716.6,583.4 L715.6,583.6 L713.5,584.2 L712.3,584.6 L710.5,585.1 L708.5,585.7 L707.5,586.0 L705.4,586.6 L704.4,586.9 L702.4,587.4 L700.7,587.9 L699.4,588.3 L697.3,588.9 L696.3,589.2 L694.3,589.8 L693.0,590.2 L691.3,590.7 L689.2,591.3 L688.2,591.6 L686.2,592.2 L685.2,592.5 L683.1,593.1 L681.6,593.5 L680.1,594.0 L678.1,594.6 L677.1,594.9 L675.0,595.5 L674.0,595.8 L672.0,596.4 L670.4,596.9 L669.0,597.3 L666.9,597.9 L665.9,598.2 L663.9,598.8 L662.9,599.2 L660.9,599.8 L659.3,600.3 L657.8,600.7 L655.8,601.3 L654.8,601.6 L652.8,602.2 L651.7,602.5 L649.7,603.2 L648.3,603.6 L646.7,604.1"/>
<path d="M1376.1,485.4 L1374.1,485.9 L1372.8,486.1 L1371.1,486.5 L1369.0,487.0 L1367.6,487.2 L1366.0,487.6 L1364.0,488.0 L1362.5,488.4 L1360.9,488.7 L1358.9,489.1 L1357.3,489.5 L1355.9,489.8 L1353.8,490.2 L1352.2,490.6 L1350.8,490.9 L1348.8,491.3 L1347.0,491.7 L1345.7,492.0 L1343.7,492.5 L1341.9,492.8 L1340.7,493.1 L1338.6,493.6 L1336.8,494.0 L1335.6,494.2 L1333.6,494.7 L1331.7,495.1 L1330.5,495.3 L1328.5,495.8 L1326.6,496.2 L1325.5,496.5 L1323.4,496.9 L1321.6,497.3 L1320.4,497.6 L1318.4,498.0 L1316.5,498.4 L1315.3,498.7 L1313.3,499.1 L1311.5,499.6 L1310.3,499.8 L1308.2,500.3 L1306.5,500.7 L1305.2,501.0 L1303.2,501.4 L1301.4,501.8 L1300.1,502.1 L1298.1,502.5 L1296.5,502.9 L1295.1,503.2 L1293.0,503.7 L1291.5,504.0 L1290.0,504.4 L1288.0,504.8 L1286.5,505.2 L1284.9,505.5 L1282.9,506.0 L1281.6,506.3 L1279.9,506.6 L1277.9,507.1 L1276.6,507.4 L1274.8,507.8 L1272.8,508.3 L1271.7,508.5 L1269.7,509.0 L1267.7,509.4 L1266.7,509.6 L1264.7,510.1 L1262.7,510.6 L1261.6,510.8 L1259.6,511.3 L1257.6,511.7 L1256.6,512.0 L1254.6,512.4 L1252.5,512.9 L1251.5,513.1 L1249.5,513.6 L1247.5,514.1 L1246.4,514.3 L1244.4,514.8 L1242.4,515.2 L1241.4,515.5 L1239.4,515.9 L1237.6,516.3 L1236.3,516.6 L1234.3,517.1 L1232.8,517.5 L1231.2,517.8 L1229.2,518.3 L1228.0,518.6 L1226.2,519.0 L1224.2,519.5 L1223.1,519.7 L1221.1,520.2 L1219.1,520.7 L1218.1,520.9 L1216.1,521.4 L1214.0,521.9 L1213.0,522.1 L1211.0,522.6 L1209.0,523.1 L1207.9,523.3 L1205.9,523.8 L1204.2,524.2 L1202.9,524.5 L1200.9,525.0 L1199.5,525.3 L1197.8,525.7 L1195.8,526.2 L1194.8,526.4 L1192.7,526.9 L1190.7,527.4 L1189.7,527.6 L1187.7,528.1 L1185.7,528.6 L1184.6,528.8 L1182.6,529.3 L1180.8,529.8 L1179.6,530.1 L1177.6,530.6 L1176.2,530.9 L1174.5,531.3 L1172.5,531.8 L1171.5,532.0 L1169.4,532.5 L1167.4,533.0 L1166.4,533.2 L1164.4,533.7 L1162.4,534.2 L1161.3,534.5 L1159.3,535.0 L1157.7,535.4 L1156.3,535.7 L1154.3,536.2 L1153.2,536.5 L1151.2,537.0 L1149.2,537.5 L1148.2,537.7 L1146.1,538.2 L1144.1,538.7 L1143.1,539.0 L1141.1,539.5 L1139.6,539.8 L1138.0,540.2 L1136.0,540.7 L1135.0,541.0 L1133.0,541.5 L1130.9,542.0 L1129.9,542.2 L1127.9,542.7 L1126.1,543.2 L1124.9,543.5 L1122.8,544.0 L1121.6,544.3 L1119.8,544.8 L1117.8,545.3 L1116.8,545.5 L1114.7,546.0 L1112.7,546.5 L1111.7,546.8 L1109.7,547.3 L1108.3,547.7 L1106.6,548.1 L1104.6,548.6 L1103.6,548.9 L1101.6,549.4 L1099.5,549.9 L1098.5,550.1 L1096.5,550.7 L1095.1,551.0 L1093.5,551.4 L1091.4,552.0 L1090.4,552.2 L1088.4,552.7 L1086.4,553.3 L1085.4,553.5 L1083.3,554.0 L1082.0,554.4 L1080.3,554.8 L1078.3,555.4 L1077.3,555.6 L1075.2,556.1 L1073.4,556.6 L1072.2,556.9 L1070.2,557.5 L1069.1,557.7 L1067.1,558.3 L1065.1,558.8 L1064.1,559.1 L1062.1,559.6 L1060.6,560.0 L1059.0,560.4 L1057.0,560.9 L1056.0,561.2 L1054.0,561.7 L1052.1,562.2 L1050.9,562.5 L1048.9,563.1 L1047.9,563.3 L1045.8,563.9 L1043.8,564.4 L1042.8,564.7 L1040.8,565.2 L1039.5,565.6 L1037.7,566.0 L1035.7,566.6 L1034.7,566.8 L1032.7,567.4 L1031.1,567.8 L1029.6,568.2 L1027.6,568.8 L1026.6,569.0 L1024.6,569.6 L1022.8,570.0 L1021.5,570.4 L1019.5,571.0 L1018.5,571.2 L1016.5,571.8 L1014.6,572.3 L1013.4,572.6 L1011.4,573.2 L1010.4,573.4 L1008.4,574.0 L1006.5,574.5 L1005.3,574.8 L1003.3,575.4 L1002.3,575.7 L1000.3,576.2 L998.4,576.8 L997.2,577.1 L995.2,577.6 L994.2,577.9 L992.2,578.5 L990.3,579.0 L989.1,579.3 L987.1,579.9 L986.1,580.2 L984.0,580.8 L982.3,581.2 L981.0,581.6 L979.0,582.2 L978.0,582.5 L975.9,583.0 L974.4,583.5 L972.9,583.9 L970.9,584.5 L969.9,584.8 L967.8,585.3 L966.5,585.7 L964.8,586.2 L962.8,586.8 L961.8,587.1 L959.7,587.7 L958.7,588.0 L956.7,588.5 L954.9,589.1 L953.7,589.4 L951.6,590.0 L950.6,590.3 L948.6,590.9 L947.2,591.3 L945.5,591.8 L943.5,592.4 L942.5,592.7 L940.5,593.3 L939.5,593.5 L937.4,594.1 L935.7,594.7 L934.4,595.0 L932.4,595.6 L931.4,595.9 L929.3,596.5 L928.1,596.9 L926.3,597.4 L924.4,598.0 L923.3,598.3 L921.2,599.0 L920.2,599.3 L918.2,599.9 L916.9,600.3 L915.2,600.8 L913.2,601.4 L912.1,601.7 L910.1,602.3 L909.1,602.6 L907.0,603.2 L905.8,603.6 L904.0,604.2 L902.1,604.7 L901.0,605.1 L898.9,605.7 L897.9,606.0 L895.9,606.6 L894.9,607.0 L892.9,607.6 L891.2,608.1 L889.8,608.5 L887.8,609.2 L886.8,609.5 L884.8,610.1 L883.7,610.4 L881.7,611.0 L880.5,611.4 L878.7,612.0 L876.9,612.6 L875.6,613.0 L873.6,613.6 L872.6,613.9 L870.6,614.6 L869.6,614.9 L867.5,615.5 L866.3,615.9 L864.5,616.5 L862.8,617.0 L861.5,617.5 L859.4,618.1 L858.4,618.4 L856.4,619.1 L855.4,619.4 L853.4,620.1 L852.3,620.4 L850.3,621.1 L849.0,621.5 L847.3,622.1 L845.5,622.6 L844.2,623.1 L842.2,623.7 L841.2,624.1 L839.2,624.7 L838.2,625.1 L836.1,625.7 L835.1,626.1 L833.1,626.7 L832.0,627.1 L830.1,627.8 L828.7,628.2 L827.0,628.8 L825.3,629.3 L824.0,629.8 L822.0,630.5 L820.9,630.8 L818.9,631.5 L817.9,631.9 L815.9,632.6 L814.9,632.9 L812.8,633.6 L811.8,633.9 L809.8,634.6 L808.8,635.0 L806.7,635.7 L805.7,636.1 L803.7,636.7 L802.5,637.2 L800.7,637.8 L799.3,638.3 L797.6,638.9 L796.1,639.4 L794.6,639.9 L792.9,640.5 L791.6,641.0 L789.8,641.7 L788.5,642.1 L786.6,642.8 L785.5,643.2 L783.5,643.9 L782.4,644.3 L780.4,645.0 L779.4,645.4 L777.4,646.1 L776.4,646.5 L774.3,647.2 L773.3,647.6 L771.3,648.3 L770.3,648.7 L768.3,649.4 L767.2,649.8 L765.2,650.6 L764.2,650.9 L762.2,651.7 L761.2,652.1 L759.1,652.8 L758.1,653.2 L756.1,654.0 L755.1,654.3 L753.1,655.1 L752.0,655.5 L750.2,656.2 L749.0,656.6 L747.2,657.3 L746.0,657.8 L744.3,658.4 L742.9,659.0 L741.4,659.6 L739.9,660.1 L738.5,660.7 L736.8,661.3 L735.6,661.8 L733.8,662.5 L732.8,662.9 L730.8,663.7 L729.8,664.1 L727.7,664.9 L726.7,665.3 L724.7,666.1 L723.7,666.5 L721.6,667.3 L720.6,667.7 L718.8,668.5 L717.6,669.0 L716.0,669.6 L714.6,670.2 L713.3,670.7 L711.5,671.5 L710.5,671.9 L708.5,672.7 L707.5,673.1 L705.4,674.0 L704.4,674.4 L702.5,675.2 L701.4,675.7 L699.8,676.3 L698.3,676.9 L697.1,677.5 L695.3,678.2 L694.3,678.7 L692.3,679.5 L691.3,680.0 L689.3,680.8 L688.2,681.3 L686.7,681.9 L685.2,682.6 L684.2,683.1 L682.1,683.9 L681.1,684.4 L679.1,685.3 L678.1,685.7 L676.6,686.4 L675.0,687.1 L674.0,687.5 L672.0,688.5 L671.0,688.9 L669.1,689.8 L668.0,690.3 L666.7,690.9 L664.9,691.7 L663.9,692.2 L661.9,693.1 L660.9,693.6 L659.4,694.2 L657.8,695.0 L656.8,695.5 L654.8,696.4 L653.8,696.9 L652.3,697.6 L650.7,698.4 L649.7,698.8 L647.7,699.8 L646.7,700.3"/>
<path d="M1376.1,545.5 L1374.1,546.0 L1372.1,546.5 L1371.1,546.8 L1369.0,547.3 L1367.6,547.7 L1366.0,548.1 L1364.0,548.6 L1363.0,548.8 L1360.9,549.3 L1358.9,549.9 L1357.9,550.1 L1355.9,550.6 L1354.3,551.0 L1352.8,551.4 L1350.8,551.9 L1349.8,552.2 L1347.8,552.7 L1345.7,553.2 L1344.7,553.5 L1342.7,554.0 L1341.1,554.4 L1339.7,554.8 L1337.6,555.3 L1336.6,555.5 L1334.6,556.1 L1332.6,556.6 L1331.5,556.8 L1329.5,557.4 L1328.1,557.7 L1326.5,558.2 L1324.5,558.7 L1323.4,558.9 L1321.4,559.5 L1319.5,560.0 L1318.4,560.3 L1316.4,560.8 L1315.2,561.1 L1313.3,561.6 L1311.3,562.1 L1310.3,562.4 L1308.2,562.9 L1306.7,563.3 L1305.2,563.7 L1303.2,564.2 L1302.2,564.5 L1300.1,565.1 L1298.2,565.6 L1297.1,565.9 L1295.1,566.4 L1294.0,566.7 L1292.0,567.2 L1290.0,567.7 L1289.0,568.0 L1287.0,568.6 L1285.6,568.9 L1283.9,569.4 L1281.9,569.9 L1280.9,570.2 L1278.9,570.7 L1277.3,571.2 L1275.8,571.6 L1273.8,572.1 L1272.8,572.4 L1270.8,572.9 L1269.0,573.4 L1267.7,573.8 L1265.7,574.3 L1264.7,574.6 L1262.7,575.1 L1260.8,575.6 L1259.6,576.0 L1257.6,576.5 L1256.6,576.8 L1254.6,577.4 L1252.7,577.9 L1251.5,578.2 L1249.5,578.8 L1248.5,579.0 L1246.4,579.6 L1244.6,580.1 L1243.4,580.4 L1241.4,581.0 L1240.4,581.3 L1238.3,581.9 L1236.5,582.4 L1235.3,582.7 L1233.3,583.3 L1232.3,583.6 L1230.2,584.1 L1228.6,584.6 L1227.2,585.0 L1225.2,585.6 L1224.2,585.8 L1222.1,586.4 L1220.7,586.8 L1219.1,587.3 L1217.1,587.9 L1216.1,588.1 L1214.0,588.7 L1212.8,589.1 L1211.0,589.6 L1209.0,590.2 L1207.9,590.5 L1205.9,591.0 L1204.9,591.3 L1202.9,591.9 L1201.2,592.4 L1199.8,592.8 L1197.8,593.4 L1196.8,593.7 L1194.8,594.3 L1193.5,594.7 L1191.7,595.2 L1189.7,595.8 L1188.7,596.1 L1186.7,596.7 L1185.7,596.9 L1183.6,597.5 L1182.0,598.0 L1180.6,598.4 L1178.6,599.0 L1177.6,599.3 L1175.5,599.9 L1174.5,600.3 L1172.5,600.9 L1170.7,601.4 L1169.4,601.8 L1167.4,602.4 L1166.4,602.7 L1164.4,603.3 L1163.3,603.6 L1161.3,604.2 L1159.6,604.7 L1158.3,605.1 L1156.3,605.7 L1155.3,606.0 L1153.2,606.7 L1152.2,607.0 L1150.2,607.6 L1148.6,608.1 L1147.2,608.5 L1145.1,609.1 L1144.1,609.4 L1142.1,610.1 L1141.1,610.4 L1139.1,611.0 L1137.7,611.4 L1136.0,612.0 L1134.1,612.6 L1133.0,612.9 L1130.9,613.5 L1129.9,613.9 L1127.9,614.5 L1126.9,614.8 L1124.9,615.4 L1123.4,615.9 L1121.8,616.4 L1119.8,617.0 L1118.8,617.4 L1116.8,618.0 L1115.8,618.3 L1113.7,619.0 L1112.7,619.3 L1110.7,619.9 L1109.3,620.4 L1107.6,620.9 L1105.8,621.5 L1104.6,621.9 L1102.6,622.6 L1101.6,622.9 L1099.5,623.5 L1098.5,623.9 L1096.5,624.5 L1095.5,624.9 L1093.5,625.5 L1092.1,626.0 L1090.4,626.5 L1088.7,627.1 L1087.4,627.5 L1085.4,628.2 L1084.3,628.5 L1082.3,629.2 L1081.3,629.5 L1079.3,630.2 L1078.3,630.6 L1076.2,631.2 L1075.2,631.6 L1073.2,632.3 L1071.9,632.7 L1070.2,633.3 L1068.6,633.8 L1067.1,634.3 L1065.3,634.9 L1064.1,635.4 L1062.1,636.0 L1061.0,636.4 L1059.0,637.1 L1058.0,637.4 L1056.0,638.1 L1055.0,638.5 L1052.9,639.2 L1051.9,639.5 L1049.9,640.2 L1048.9,640.6 L1046.9,641.3 L1045.8,641.7 L1043.8,642.4 L1042.7,642.8 L1040.8,643.5 L1039.5,643.9 L1037.7,644.5 L1036.4,645.0 L1034.7,645.6 L1033.3,646.1 L1031.7,646.7 L1030.1,647.2 L1028.6,647.8 L1027.0,648.4 L1025.6,648.9 L1024.0,649.5 L1022.5,650.0 L1020.9,650.6 L1019.5,651.1 L1017.8,651.7 L1016.5,652.2 L1014.8,652.8 L1013.4,653.3 L1011.8,654.0 L1010.4,654.5 L1008.8,655.1 L1007.3,655.6 L1005.8,656.2 L1004.3,656.7 L1002.8,657.3 L1001.3,657.9 L999.8,658.4 L998.2,659.0 L996.9,659.6 L995.2,660.2 L993.9,660.7 L992.2,661.4 L991.0,661.8 L989.1,662.5 L988.1,662.9 L986.1,663.7 L985.1,664.1 L983.0,664.9 L982.0,665.3 L980.0,666.1 L979.0,666.5 L977.0,667.3 L975.9,667.7 L973.9,668.5 L972.9,668.9 L971.1,669.6 L969.9,670.1 L968.3,670.7 L966.8,671.3 L965.5,671.9 L963.8,672.6 L962.8,673.0 L960.7,673.8 L959.7,674.2 L957.7,675.1 L956.7,675.5 L954.7,676.3 L953.7,676.7 L951.9,677.5 L950.6,678.0 L949.3,678.6 L947.6,679.3 L946.6,679.7 L944.5,680.6 L943.5,681.0 L941.5,681.9 L940.5,682.3 L938.7,683.0 L937.4,683.6 L936.2,684.2 L934.4,684.9 L933.4,685.4 L931.4,686.3 L930.4,686.7 L928.5,687.5 L927.3,688.0 L926.0,688.6 L924.3,689.4 L923.3,689.8 L921.2,690.8 L920.2,691.2 L918.5,692.0 L917.2,692.6 L916.0,693.1 L914.1,694.0 L913.1,694.4 L911.1,695.4 L910.1,695.8 L908.7,696.5 L907.0,697.3 L906.0,697.7 L904.0,698.7 L903.0,699.2 L901.6,699.8 L900.0,700.6 L898.9,701.1 L896.9,702.1 L895.9,702.6 L894.6,703.2 L892.9,704.0 L891.9,704.5 L890.0,705.4 L888.8,706.0 L887.8,706.5 L885.8,707.5 L884.8,708.1 L883.3,708.8 L881.7,709.6 L880.7,710.1 L878.9,711.0 L877.7,711.7 L876.7,712.2 L874.6,713.2 L873.6,713.7 L872.4,714.4 L870.6,715.3 L869.6,715.9 L868.2,716.6 L866.5,717.5 L865.5,718.0 L864.0,718.9 L862.5,719.7 L861.5,720.2 L859.9,721.1 L858.4,721.9 L857.4,722.5 L855.9,723.3 L854.4,724.2 L853.4,724.7 L851.9,725.6 L850.3,726.5 L849.3,727.0 L848.0,727.8 L846.3,728.8 L845.2,729.4 L844.1,730.0 L842.2,731.2 L841.2,731.8 L840.2,732.4 L838.5,733.4 L837.1,734.2 L836.1,734.8 L834.8,735.6 L833.1,736.7 L832.1,737.4 L831.1,738.0 L829.5,739.0 L828.0,739.9 L827.0,740.6 L826.0,741.2 L824.3,742.3 L823.0,743.2 L821.9,743.9 L820.9,744.6 L819.2,745.7 L817.9,746.6 L816.9,747.3 L815.9,748.0 L814.3,749.1 L812.8,750.1 L811.8,750.8 L810.8,751.5 L809.5,752.4 L808.0,753.5 L806.7,754.4 L805.7,755.2 L804.7,755.9 L803.4,756.9 L802.0,758.0 L800.7,759.0 L799.7,759.8 L798.6,760.6 L797.6,761.4 L796.2,762.5 L794.8,763.6 L793.6,764.6 L792.6,765.5 L791.6,766.3 L790.5,767.1 L789.4,768.1 L788.1,769.2 L786.8,770.3 L785.6,771.4 L784.5,772.4 L783.4,773.3 L782.4,774.3 L781.4,775.2 L780.4,776.2 L779.4,777.1 L778.3,778.2 L777.2,779.3 L776.1,780.4"/>
<path d="M1376.1,617.2 L1374.1,617.9 L1373.1,618.2 L1371.1,618.8 L1369.7,619.3 L1368.0,619.8 L1366.1,620.4 L1365.0,620.8 L1363.0,621.4 L1361.9,621.7 L1359.9,622.4 L1358.9,622.7 L1356.9,623.3 L1355.6,623.7 L1353.8,624.3 L1352.2,624.9 L1350.8,625.3 L1348.8,626.0 L1347.8,626.3 L1345.7,627.0 L1344.7,627.3 L1342.7,627.9 L1341.7,628.3 L1339.7,628.9 L1338.4,629.3 L1336.6,629.9 L1335.0,630.5 L1333.6,630.9 L1331.7,631.6 L1330.5,632.0 L1328.5,632.6 L1327.5,633.0 L1325.5,633.6 L1324.5,634.0 L1322.4,634.7 L1321.4,635.0 L1319.4,635.7 L1318.3,636.1 L1316.4,636.7 L1315.0,637.2 L1313.3,637.8 L1311.7,638.3 L1310.3,638.8 L1308.4,639.4 L1307.2,639.8 L1305.2,640.5 L1304.2,640.9 L1302.2,641.6 L1301.2,641.9 L1299.1,642.6 L1298.1,643.0 L1296.1,643.7 L1295.1,644.0 L1293.0,644.8 L1292.0,645.1 L1290.0,645.8 L1289.0,646.2 L1287.0,646.9 L1286.0,647.3 L1283.9,648.0 L1282.9,648.4 L1280.9,649.1 L1279.7,649.5 L1277.9,650.2 L1276.6,650.6 L1274.8,651.3 L1273.5,651.7 L1271.8,652.4 L1270.4,652.8 L1268.7,653.5 L1267.4,654.0 L1265.7,654.6 L1264.3,655.1 L1262.7,655.7 L1261.3,656.2 L1259.6,656.8 L1258.3,657.3 L1256.6,657.9 L1255.3,658.4 L1253.5,659.1 L1252.3,659.6 L1250.5,660.2 L1249.3,660.7 L1247.5,661.4 L1246.4,661.8 L1244.4,662.5 L1243.4,662.9 L1241.4,663.7 L1240.4,664.1 L1238.3,664.9 L1237.3,665.3 L1235.3,666.0 L1234.3,666.4 L1232.3,667.2 L1231.2,667.6 L1229.2,668.4 L1228.2,668.8 L1226.2,669.6 L1225.2,670.0 L1223.3,670.7 L1222.1,671.2 L1220.5,671.9 L1219.1,672.4 L1217.7,673.0 L1216.1,673.6 L1214.9,674.1 L1213.0,674.9 L1212.0,675.3 L1210.0,676.1 L1209.0,676.5 L1206.9,677.3 L1205.9,677.8 L1204.0,678.6 L1202.9,679.0 L1201.3,679.7 L1199.8,680.3 L1198.6,680.8 L1196.8,681.6 L1195.8,682.0 L1193.8,682.8 L1192.7,683.3 L1190.7,684.1 L1189.7,684.6 L1188.0,685.3 L1186.7,685.9 L1185.4,686.4 L1183.6,687.2 L1182.6,687.6 L1180.6,688.5 L1179.6,688.9 L1177.7,689.8 L1176.5,690.3 L1175.2,690.9 L1173.5,691.6 L1172.5,692.1 L1170.5,693.0 L1169.4,693.4 L1167.7,694.2 L1166.4,694.8 L1165.2,695.4 L1163.4,696.2 L1162.4,696.6 L1160.3,697.6 L1159.3,698.0 L1157.9,698.7 L1156.3,699.5 L1155.3,699.9 L1153.2,700.9 L1152.2,701.3 L1150.7,702.1 L1149.2,702.8 L1148.2,703.3 L1146.1,704.2 L1145.1,704.7 L1143.7,705.4 L1142.1,706.2 L1141.1,706.7 L1139.1,707.7 L1138.0,708.2 L1136.8,708.8 L1135.0,709.7 L1134.0,710.2 L1132.3,711.0 L1130.9,711.7 L1129.9,712.2 L1127.9,713.2 L1126.9,713.8 L1125.7,714.4 L1123.9,715.3 L1122.8,715.8 L1121.4,716.6 L1119.8,717.4 L1118.8,718.0 L1117.1,718.9 L1115.8,719.6 L1114.7,720.1 L1112.9,721.1 L1111.7,721.7 L1110.7,722.3 L1108.8,723.3 L1107.6,723.9 L1106.6,724.5 L1104.7,725.6 L1103.6,726.2 L1102.6,726.7 L1100.7,727.8 L1099.5,728.5 L1098.5,729.0 L1096.8,730.0 L1095.5,730.8 L1094.5,731.4 L1092.9,732.3 L1091.4,733.1 L1090.4,733.7 L1089.1,734.5 L1087.4,735.6 L1086.4,736.2 L1085.4,736.8 L1083.6,737.9 L1082.3,738.6 L1081.3,739.3 L1079.9,740.1 L1078.3,741.2 L1077.3,741.8 L1076.2,742.4 L1074.6,743.5 L1073.2,744.4 L1072.2,745.0 L1071.2,745.7 L1069.5,746.8 L1068.1,747.7 L1067.1,748.4 L1066.1,749.1 L1064.5,750.2 L1063.1,751.1 L1062.1,751.8 L1061.0,752.5 L1059.6,753.5 L1058.0,754.7 L1057.0,755.4 L1056.0,756.1 L1054.9,756.9 L1053.4,758.0 L1051.9,759.1 L1050.9,759.9 L1049.9,760.6 L1048.9,761.4 L1047.5,762.5 L1046.0,763.6 L1044.8,764.5 L1043.8,765.4 L1042.8,766.2 L1041.8,767.0 L1040.4,768.1 L1039.1,769.2 L1037.7,770.3 L1036.7,771.2 L1035.7,772.1 L1034.7,772.9 L1033.7,773.8 L1032.6,774.8 L1031.3,775.9 L1030.1,777.0 L1028.9,778.2 L1027.7,779.3 L1026.6,780.3"/>
<path d="M1376.1,715.8 L1374.5,716.6 L1373.1,717.3 L1372.1,717.9 L1370.1,718.9 L1369.0,719.4 L1368.0,720.0 L1366.0,721.0 L1365.0,721.5 L1363.7,722.2 L1361.9,723.2 L1360.9,723.7 L1359.5,724.4 L1357.9,725.3 L1356.9,725.9 L1355.4,726.7 L1353.8,727.6 L1352.8,728.1 L1351.4,728.9 L1349.8,729.8 L1348.8,730.4 L1347.4,731.2 L1345.7,732.1 L1344.7,732.7 L1343.5,733.4 L1341.7,734.4 L1340.7,735.0 L1339.6,735.6 L1337.7,736.8 L1336.6,737.4 L1335.6,738.0 L1333.9,739.0 L1332.6,739.8 L1331.5,740.4 L1330.3,741.2 L1328.5,742.3 L1327.5,742.9 L1326.5,743.6 L1324.9,744.6 L1323.4,745.5 L1322.4,746.1 L1321.4,746.8 L1319.6,747.9 L1318.4,748.8 L1317.4,749.4 L1316.2,750.2 L1314.5,751.3 L1313.3,752.1 L1312.3,752.8 L1311.2,753.5 L1309.6,754.7 L1308.2,755.6 L1307.2,756.3 L1306.2,757.0 L1304.8,758.0 L1303.3,759.1 L1302.2,759.9 L1301.2,760.7 L1300.1,761.4 L1298.7,762.5 L1297.2,763.6 L1296.1,764.4 L1295.1,765.2 L1294.1,766.0 L1292.8,767.0 L1291.4,768.1 L1290.0,769.2 L1289.0,770.0 L1288.0,770.8 L1287.0,771.7 L1285.9,772.6 L1284.6,773.7 L1283.2,774.8 L1281.9,775.9 L1280.9,776.8 L1279.9,777.7 L1278.9,778.6 L1277.9,779.5"/>
</g>
<rect x="698.6" y="309.9" width="36" height="14" fill="#fff" transform="rotate(-9.1 716.6 316.9)"/>
<rect x="697.6" y="400.9" width="36" height="14" fill="#fff" transform="rotate(-10.5 715.6 407.9)"/>
<rect x="697.6" y="509.6" width="36" height="14" fill="#fff" transform="rotate(-13.3 715.6 516.6)"/>
<rect x="713.8" y="656.3" width="36" height="14" fill="#fff" transform="rotate(-21.5 731.8 663.3)"/>
<rect x="864.7" y="370.7" width="36" height="14" fill="#fff" transform="rotate(-10.0 882.7 377.7)"/>
<rect x="866.8" y="471.7" width="36" height="14" fill="#fff" transform="rotate(-12.1 884.8 478.7)"/>
<rect x="873.9" y="600.9" width="36" height="14" fill="#fff" transform="rotate(-17.2 891.9 607.9)"/>
<rect x="1070.4" y="727.9" width="36" height="14" fill="#fff" transform="rotate(-30.9 1088.4 734.9)"/>
<rect x="1014.7" y="116.2" width="36" height="14" fill="#fff" transform="rotate(-7.1 1032.7 123.2)"/>
<rect x="1021.8" y="184.9" width="36" height="14" fill="#fff" transform="rotate(-7.7 1039.8 191.9)"/>
<rect x="1039.0" y="257.8" width="36" height="14" fill="#fff" transform="rotate(-8.4 1057.0 264.8)"/>
<rect x="1034.9" y="341.6" width="36" height="14" fill="#fff" transform="rotate(-9.5 1052.9 348.6)"/>
<rect x="1033.9" y="437.3" width="36" height="14" fill="#fff" transform="rotate(-11.2 1051.9 444.3)"/>
<rect x="1241.6" y="88.4" width="36" height="14" fill="#fff" transform="rotate(-6.9 1259.6 95.4)"/>
<rect x="1247.7" y="155.1" width="36" height="14" fill="#fff" transform="rotate(-7.4 1265.7 162.1)"/>
<rect x="1210.2" y="233.0" width="36" height="14" fill="#fff" transform="rotate(-8.1 1228.2 240.0)"/>
<rect x="1204.1" y="314.1" width="36" height="14" fill="#fff" transform="rotate(-9.1 1222.1 321.1)"/>
<rect x="1202.1" y="405.1" width="36" height="14" fill="#fff" transform="rotate(-10.5 1220.1 412.1)"/>
<rect x="1222.4" y="657.1" width="36" height="14" fill="#fff" transform="rotate(-21.0 1240.4 664.1)"/>
<text x="716.6" y="326.6" font-size="22.8" text-anchor="middle" fill="#000" transform="rotate(-9.1 716.6 316.9)">24</text>
<text x="715.6" y="417.6" font-size="22.8" text-anchor="middle" fill="#000" transform="rotate(-10.5 715.6 407.9)">25</text>
<text x="715.6" y="526.3" font-size="22.8" text-anchor="middle" fill="#000" transform="rotate(-13.3 715.6 516.6)">26</text>
<text x="731.8" y="673.0" font-size="22.8" text-anchor="middle" fill="#000" transform="rotate(-21.5 731.8 663.3)">27</text>
<text x="882.7" y="387.4" font-size="22.8" text-anchor="middle" fill="#000" transform="rotate(-10.0 882.7 377.7)">25</text>
<text x="884.8" y="488.4" font-size="22.8" text-anchor="middle" fill="#000" transform="rotate(-12.1 884.8 478.7)">26</text>
<text x="891.9" y="617.6" font-size="22.8" text-anchor="middle" fill="#000" transform="rotate(-17.2 891.9 607.9)">27</text>
<text x="1088.4" y="744.6" font-size="22.8" text-anchor="middle" fill="#000" transform="rotate(-30.9 1088.4 734.9)">28</text>
<text x="1032.7" y="132.9" font-size="22.8" text-anchor="middle" fill="#000" transform="rotate(-7.1 1032.7 123.2)">22</text>
<text x="1039.8" y="201.6" font-size="22.8" text-anchor="middle" fill="#000" transform="rotate(-7.7 1039.8 191.9)">23</text>
<text x="1057.0" y="274.5" font-size="22.8" text-anchor="middle" fill="#000" transform="rotate(-8.4 1057.0 264.8)">24</text>
<text x="1052.9" y="358.3" font-size="22.8" text-anchor="middle" fill="#000" transform="rotate(-9.5 1052.9 348.6)">25</text>
<text x="1051.9" y="454.0" font-size="22.8" text-anchor="middle" fill="#000" transform="rotate(-11.2 1051.9 444.3)">26</text>
<text x="1259.6" y="105.1" font-size="22.8" text-anchor="middle" fill="#000" transform="rotate(-6.9 1259.6 95.4)">22</text>
<text x="1265.7" y="171.8" font-size="22.8" text-anchor="middle" fill="#000" transform="rotate(-7.4 1265.7 162.1)">23</text>
<text x="1228.2" y="249.7" font-size="22.8" text-anchor="middle" fill="#000" transform="rotate(-8.1 1228.2 240.0)">24</text>
<text x="1222.1" y="330.8" font-size="22.8" text-anchor="middle" fill="#000" transform="rotate(-9.1 1222.1 321.1)">25</text>
<text x="1220.1" y="421.8" font-size="22.8" text-anchor="middle" fill="#000" transform="rotate(-10.5 1220.1 412.1)">26</text>
<text x="1240.4" y="673.8" font-size="22.8" text-anchor="middle" fill="#000" transform="rotate(-21.0 1240.4 664.1)">28</text>
</g>
<g clip-path="url(#clipA)">
<path d="M142.6,531.0 L155.5,520.5 L168.5,511.0 L181.4,501.9 L194.3,492.9 L207.2,483.9 L220.1,473.5 L230.4,465.8 L240.8,459.3 L248.5,452.9 L258.8,440.5 L271.7,428.5 L284.6,420.6 L297.6,411.6 L306.0,403.5 L314.0,391.5 L320.0,384.0 L326.0,377.0 L331.0,371.5 L336.0,366.5 L344.0,361.3 L353.3,354.8 L362.6,348.6 L372.0,339.7 L381.4,331.7 L391.0,323.8 L401.0,313.5 L411.0,304.5" fill="none" stroke="#000000" stroke-width="11" stroke-linejoin="round" stroke-linecap="round"/>
<path d="M140.8,524.9 L153.7,514.4 L166.7,504.9 L179.6,495.8 L192.5,486.8 L205.4,477.8 L218.3,467.4 L228.6,459.7 L239.0,453.2 L246.7,446.8 L257.0,434.4 L269.9,422.4 L282.8,414.5 L295.8,405.5" fill="none" stroke="#000000" stroke-width="4" stroke-linejoin="round" stroke-linecap="round"/>
<path d="M105.0,568.0 L110.0,563.0 L116.0,557.0 L127.0,546.0 L138.0,534.5 L146.0,527.0" fill="none" stroke="#000000" stroke-width="7.5" stroke-linejoin="round" stroke-linecap="round"/>
<path d="M104.0,569.0 L108.0,566.0 L112.0,562.0" fill="none" stroke="#000000" stroke-width="9" stroke-linejoin="round" stroke-linecap="round"/>
<path d="M194.0,495.0 L208.0,487.0 L216.0,479.0 L222.0,471.0" fill="none" stroke="#000000" stroke-width="7" stroke-linejoin="round" stroke-linecap="round"/>
<path d="M181.0,505.0 L189.0,498.0 L200.0,491.0 L207.0,484.0" fill="none" stroke="#000000" stroke-width="6" stroke-linejoin="round" stroke-linecap="round"/>
<path d="M399.0,116.0 L405.0,115.0 L412.7,113.2 L425.9,111.5 L439.2,112.5 L452.4,113.5 L465.7,112.5 L479.0,111.2 L490.0,110.5" fill="none" stroke="#000000" stroke-width="5" stroke-linejoin="round" stroke-linecap="round"/>
<path d="M400.0,117.6 L403.5,118.8 L405.9,117.6" fill="none" stroke="#000000" stroke-width="4" stroke-linejoin="round" stroke-linecap="round"/>
<path d="M470.4,112.9 L476.3,113.5 L482.2,112.7 L491.0,111.7" fill="none" stroke="#000000" stroke-width="3" stroke-linejoin="round" stroke-linecap="round"/>
<g fill="#000000"><circle cx="313.4" cy="116.3" r="2.35"/><circle cx="318.7" cy="117.8" r="2.35"/><circle cx="327.9" cy="118.6" r="2.35"/><circle cx="337.8" cy="117.8" r="2.35"/><circle cx="347.0" cy="117.0" r="2.35"/><circle cx="353.8" cy="116.3" r="2.35"/><circle cx="361.5" cy="116.3" r="2.35"/><circle cx="366.8" cy="117.8" r="2.35"/><circle cx="369.9" cy="120.1" r="2.35"/><circle cx="379.0" cy="115.5" r="2.35"/><circle cx="386.6" cy="111.7" r="2.35"/><circle cx="342.4" cy="128.5" r="2.35"/><circle cx="324.8" cy="144.5" r="2.35"/><circle cx="307.3" cy="159.8" r="2.35"/><circle cx="350.8" cy="153.7" r="2.35"/><circle cx="366.8" cy="133.1" r="2.35"/><circle cx="372.9" cy="137.6" r="2.35"/><circle cx="365.3" cy="143.0" r="2.35"/><circle cx="367.6" cy="156.7" r="2.35"/><circle cx="376.0" cy="155.2" r="2.35"/><circle cx="382.1" cy="154.4" r="2.35"/><circle cx="384.4" cy="125.4" r="2.35"/><circle cx="388.2" cy="132.3" r="2.35"/><circle cx="366.8" cy="178.1" r="2.35"/><circle cx="373.7" cy="184.9" r="2.35"/><circle cx="379.0" cy="187.2" r="2.35"/><circle cx="388.2" cy="191.8" r="2.35"/><circle cx="337.8" cy="188.0" r="2.35"/><circle cx="356.1" cy="200.2" r="2.35"/><circle cx="356.1" cy="207.1" r="2.35"/><circle cx="357.7" cy="213.2" r="2.35"/><circle cx="386.6" cy="207.1" r="2.35"/><circle cx="388.9" cy="167.4" r="2.35"/><circle cx="368.3" cy="120.9" r="2.35"/><circle cx="385.1" cy="153.7" r="2.35"/><circle cx="410.3" cy="99.1" r="2.35"/><circle cx="440.6" cy="99.8" r="2.35"/><circle cx="443.4" cy="99.1" r="2.35"/><circle cx="384.2" cy="125.1" r="2.35"/><circle cx="387.7" cy="132.9" r="2.35"/><circle cx="392.7" cy="142.0" r="2.35"/><circle cx="395.5" cy="151.2" r="2.35"/><circle cx="382.8" cy="154.0" r="2.35"/><circle cx="390.6" cy="161.8" r="2.35"/><circle cx="396.9" cy="166.0" r="2.35"/><circle cx="393.4" cy="173.7" r="2.35"/><circle cx="394.1" cy="182.2" r="2.35"/><circle cx="390.6" cy="192.0" r="2.35"/><circle cx="389.9" cy="168.1" r="2.35"/><circle cx="398.3" cy="197.7" r="2.35"/><circle cx="371.7" cy="225.8" r="2.35"/><circle cx="371.7" cy="230.5" r="2.35"/><circle cx="361.1" cy="223.5" r="2.35"/><circle cx="352.9" cy="236.4" r="2.35"/><circle cx="350.0" cy="246.9" r="2.35"/><circle cx="369.9" cy="251.6" r="2.35"/><circle cx="371.7" cy="258.7" r="2.35"/><circle cx="361.1" cy="261.0" r="2.35"/><circle cx="356.4" cy="257.5" r="2.35"/><circle cx="350.6" cy="263.4" r="2.35"/><circle cx="343.5" cy="275.1" r="2.35"/><circle cx="344.7" cy="270.4" r="2.35"/><circle cx="349.4" cy="281.0" r="2.35"/><circle cx="352.9" cy="286.9" r="2.35"/><circle cx="356.4" cy="284.5" r="2.35"/><circle cx="364.6" cy="289.2" r="2.35"/><circle cx="419.8" cy="207.0" r="2.35"/><circle cx="431.5" cy="203.5" r="2.35"/><circle cx="437.4" cy="217.6" r="2.35"/><circle cx="435.1" cy="234.0" r="2.35"/><circle cx="403.4" cy="261.0" r="2.35"/><circle cx="394.0" cy="272.8" r="2.35"/><circle cx="394.0" cy="289.2" r="2.35"/><circle cx="375.2" cy="265.7" r="2.35"/><circle cx="378.7" cy="261.0" r="2.35"/><circle cx="378.7" cy="255.2" r="2.35"/><circle cx="385.8" cy="239.9" r="2.35"/><circle cx="412.8" cy="216.4" r="2.35"/><circle cx="415.1" cy="211.7" r="2.35"/><circle cx="429.2" cy="207.0" r="2.35"/><circle cx="433.9" cy="211.7" r="2.35"/><circle cx="431.5" cy="223.5" r="2.35"/><circle cx="414.1" cy="102.3" r="2.35"/><circle cx="415.3" cy="103.5" r="2.35"/><circle cx="430.5" cy="103.5" r="2.35"/><circle cx="441.1" cy="102.3" r="2.35"/><circle cx="427.0" cy="123.5" r="2.35"/><circle cx="422.3" cy="129.3" r="2.35"/><circle cx="418.8" cy="131.7" r="2.35"/><circle cx="417.6" cy="138.7" r="2.35"/><circle cx="418.8" cy="142.3" r="2.35"/><circle cx="415.3" cy="144.6" r="2.35"/><circle cx="405.9" cy="152.8" r="2.35"/><circle cx="407.0" cy="156.3" r="2.35"/><circle cx="402.3" cy="157.5" r="2.35"/><circle cx="412.9" cy="152.8" r="2.35"/><circle cx="420.0" cy="151.6" r="2.35"/><circle cx="421.1" cy="156.3" r="2.35"/><circle cx="423.5" cy="161.0" r="2.35"/><circle cx="427.0" cy="158.7" r="2.35"/><circle cx="429.3" cy="163.4" r="2.35"/><circle cx="427.0" cy="169.2" r="2.35"/><circle cx="428.2" cy="173.9" r="2.35"/><circle cx="425.8" cy="177.5" r="2.35"/><circle cx="422.3" cy="177.5" r="2.35"/><circle cx="404.7" cy="181.0" r="2.35"/><circle cx="411.7" cy="186.9" r="2.35"/><circle cx="414.1" cy="189.2" r="2.35"/><circle cx="404.7" cy="189.2" r="2.35"/><circle cx="407.0" cy="193.9" r="2.35"/><circle cx="403.5" cy="196.2" r="2.35"/><circle cx="401.2" cy="193.9" r="2.35"/><circle cx="431.7" cy="193.9" r="2.35"/><circle cx="435.2" cy="191.5" r="2.35"/><circle cx="458.7" cy="159.9" r="2.35"/><circle cx="461.0" cy="161.0" r="2.35"/><circle cx="463.4" cy="165.7" r="2.35"/><circle cx="458.7" cy="170.4" r="2.35"/><circle cx="455.2" cy="172.8" r="2.35"/><circle cx="456.3" cy="179.8" r="2.35"/><circle cx="463.4" cy="182.2" r="2.35"/><circle cx="465.7" cy="186.9" r="2.35"/><circle cx="463.4" cy="192.7" r="2.35"/><circle cx="458.7" cy="195.1" r="2.35"/><circle cx="476.3" cy="158.7" r="2.35"/><circle cx="479.8" cy="156.3" r="2.35"/><circle cx="484.5" cy="151.6" r="2.35"/><circle cx="482.2" cy="154.0" r="2.35"/><circle cx="465.7" cy="170.4" r="2.35"/><circle cx="470.4" cy="175.1" r="2.35"/><circle cx="468.1" cy="182.2" r="2.35"/><circle cx="470.4" cy="188.0" r="2.35"/><circle cx="470.4" cy="191.5" r="2.35"/><circle cx="343.4" cy="276.4" r="2.35"/><circle cx="344.6" cy="271.7" r="2.35"/><circle cx="350.5" cy="281.1" r="2.35"/><circle cx="355.2" cy="284.6" r="2.35"/><circle cx="356.3" cy="310.5" r="2.35"/><circle cx="345.8" cy="318.7" r="2.35"/><circle cx="346.9" cy="317.5" r="2.35"/><circle cx="393.9" cy="288.2" r="2.35"/><circle cx="396.2" cy="274.1" r="2.35"/><circle cx="375.1" cy="263.5" r="2.35"/><circle cx="394.2" cy="253.9" r="2.35"/><circle cx="397.7" cy="258.7" r="2.35"/><circle cx="377.3" cy="245.4" r="2.35"/><circle cx="371.3" cy="297.8" r="2.35"/><circle cx="409.5" cy="162.7" r="2.35"/><circle cx="407.0" cy="263.7" r="2.35"/><circle cx="399.0" cy="165.8" r="2.35"/><circle cx="393.5" cy="303.6" r="2.35"/><circle cx="398.4" cy="268.0" r="2.35"/><circle cx="397.2" cy="271.9" r="2.35"/><circle cx="394.5" cy="204.3" r="2.35"/><circle cx="414.1" cy="225.8" r="2.35"/><circle cx="419.2" cy="223.4" r="2.35"/><circle cx="370.2" cy="266.1" r="2.35"/><circle cx="414.9" cy="202.8" r="2.35"/><circle cx="416.0" cy="186.6" r="2.35"/><circle cx="401.0" cy="234.1" r="2.35"/><circle cx="377.6" cy="284.1" r="2.35"/><circle cx="373.9" cy="268.6" r="2.35"/><circle cx="384.8" cy="311.0" r="2.35"/><circle cx="414.5" cy="213.2" r="2.35"/><circle cx="371.3" cy="257.9" r="2.35"/><circle cx="381.0" cy="261.2" r="2.35"/><circle cx="389.1" cy="235.1" r="2.35"/><circle cx="378.0" cy="322.5" r="2.35"/><circle cx="380.7" cy="279.3" r="2.35"/><circle cx="381.8" cy="300.3" r="2.35"/><circle cx="403.3" cy="207.0" r="2.35"/><circle cx="376.7" cy="282.1" r="2.35"/><circle cx="404.5" cy="204.7" r="2.35"/><circle cx="423.7" cy="191.3" r="2.35"/><circle cx="401.8" cy="178.5" r="2.35"/><circle cx="388.5" cy="312.1" r="2.35"/><circle cx="409.3" cy="258.2" r="2.35"/><circle cx="396.1" cy="283.9" r="2.35"/><circle cx="370.3" cy="251.4" r="2.35"/><circle cx="387.8" cy="275.9" r="2.35"/><circle cx="392.0" cy="294.5" r="2.35"/><circle cx="405.1" cy="222.6" r="2.35"/><circle cx="402.5" cy="262.5" r="2.35"/><circle cx="370.6" cy="267.9" r="2.35"/><circle cx="411.7" cy="223.7" r="2.35"/><circle cx="412.1" cy="257.6" r="2.35"/><circle cx="393.5" cy="302.9" r="2.35"/><circle cx="370.9" cy="287.4" r="2.35"/><circle cx="396.0" cy="195.9" r="2.35"/><circle cx="409.8" cy="242.9" r="2.35"/><circle cx="384.6" cy="274.7" r="2.35"/><circle cx="393.5" cy="312.3" r="2.35"/><circle cx="386.3" cy="272.5" r="2.35"/><circle cx="378.1" cy="231.2" r="2.35"/><circle cx="421.3" cy="223.0" r="2.35"/><circle cx="402.5" cy="211.1" r="2.35"/><circle cx="374.2" cy="242.7" r="2.35"/><circle cx="394.1" cy="203.8" r="2.35"/><circle cx="379.1" cy="228.2" r="2.35"/><circle cx="405.2" cy="242.3" r="2.35"/><circle cx="385.5" cy="303.0" r="2.35"/><circle cx="410.4" cy="255.8" r="2.35"/><circle cx="385.1" cy="294.6" r="2.35"/><circle cx="418.1" cy="197.1" r="2.35"/><circle cx="405.4" cy="233.9" r="2.35"/><circle cx="405.5" cy="270.6" r="2.35"/><circle cx="408.9" cy="190.4" r="2.35"/><circle cx="395.7" cy="186.8" r="2.35"/><circle cx="410.8" cy="186.9" r="2.35"/><circle cx="382.8" cy="216.2" r="2.35"/><circle cx="409.7" cy="246.9" r="2.35"/><circle cx="404.5" cy="288.4" r="2.35"/><circle cx="390.5" cy="294.7" r="2.35"/><circle cx="423.0" cy="170.7" r="2.35"/><circle cx="389.4" cy="255.4" r="2.35"/><circle cx="406.8" cy="191.4" r="2.35"/><circle cx="406.2" cy="281.6" r="2.35"/><circle cx="379.1" cy="313.7" r="2.35"/><circle cx="399.6" cy="294.5" r="2.35"/><circle cx="385.9" cy="315.5" r="2.35"/><circle cx="419.8" cy="216.7" r="2.35"/><circle cx="400.4" cy="290.5" r="2.35"/><circle cx="416.8" cy="166.6" r="2.35"/><circle cx="416.2" cy="185.8" r="2.35"/><circle cx="386.8" cy="294.0" r="2.35"/><circle cx="398.3" cy="282.7" r="2.35"/><circle cx="379.6" cy="248.0" r="2.35"/><circle cx="383.9" cy="283.6" r="2.35"/><circle cx="406.0" cy="247.3" r="2.35"/><circle cx="385.3" cy="222.4" r="2.35"/><circle cx="378.7" cy="305.1" r="2.35"/><circle cx="401.9" cy="190.7" r="2.35"/><circle cx="399.5" cy="243.9" r="2.35"/><circle cx="390.9" cy="296.3" r="2.35"/><circle cx="401.2" cy="241.8" r="2.35"/><circle cx="409.3" cy="167.0" r="2.35"/><circle cx="399.7" cy="228.2" r="2.35"/><circle cx="382.6" cy="238.6" r="2.35"/><circle cx="395.7" cy="211.2" r="2.35"/><circle cx="377.7" cy="264.1" r="2.35"/><circle cx="424.2" cy="178.1" r="2.35"/><circle cx="414.9" cy="159.4" r="2.35"/><circle cx="409.1" cy="212.0" r="2.35"/><circle cx="388.1" cy="264.4" r="2.35"/><circle cx="372.2" cy="284.0" r="2.35"/><circle cx="373.3" cy="245.2" r="2.35"/><circle cx="399.1" cy="232.2" r="2.35"/><circle cx="389.4" cy="228.1" r="2.35"/><circle cx="399.1" cy="183.5" r="2.35"/><circle cx="378.5" cy="266.4" r="2.35"/><circle cx="406.0" cy="248.6" r="2.35"/><circle cx="419.8" cy="196.3" r="2.35"/><circle cx="422.7" cy="210.9" r="2.35"/><circle cx="385.5" cy="317.7" r="2.35"/><circle cx="421.8" cy="178.9" r="2.35"/><circle cx="380.7" cy="283.2" r="2.35"/><circle cx="418.3" cy="229.6" r="2.35"/><circle cx="415.6" cy="177.5" r="2.35"/><circle cx="391.1" cy="275.9" r="2.35"/><circle cx="426.9" cy="175.7" r="2.35"/><circle cx="397.6" cy="288.8" r="2.35"/><circle cx="397.4" cy="276.0" r="2.35"/><circle cx="400.5" cy="245.9" r="2.35"/><circle cx="401.6" cy="181.2" r="2.35"/><circle cx="424.3" cy="172.1" r="2.35"/><circle cx="394.8" cy="289.9" r="2.35"/><circle cx="386.3" cy="237.5" r="2.35"/><circle cx="398.2" cy="231.0" r="2.35"/><circle cx="377.0" cy="235.2" r="2.35"/><circle cx="412.4" cy="226.7" r="2.35"/><circle cx="405.4" cy="226.5" r="2.35"/><circle cx="403.5" cy="244.1" r="2.35"/><circle cx="381.9" cy="315.7" r="2.35"/><circle cx="417.2" cy="226.7" r="2.35"/><circle cx="414.0" cy="226.8" r="2.35"/><circle cx="411.3" cy="167.8" r="2.35"/><circle cx="387.2" cy="237.9" r="2.35"/><circle cx="406.0" cy="265.2" r="2.35"/><circle cx="380.3" cy="321.6" r="2.35"/><circle cx="407.7" cy="214.8" r="2.35"/><circle cx="407.3" cy="255.6" r="2.35"/><circle cx="399.3" cy="223.9" r="2.35"/><circle cx="404.5" cy="285.4" r="2.35"/><circle cx="381.8" cy="226.0" r="2.35"/><circle cx="381.4" cy="314.7" r="2.35"/><circle cx="400.4" cy="244.7" r="2.35"/><circle cx="416.8" cy="168.8" r="2.35"/><circle cx="403.4" cy="288.9" r="2.35"/><circle cx="375.7" cy="238.4" r="2.35"/><circle cx="376.3" cy="242.6" r="2.35"/><circle cx="404.3" cy="165.7" r="2.35"/><circle cx="398.9" cy="260.6" r="2.35"/><circle cx="388.7" cy="205.6" r="2.35"/><circle cx="407.1" cy="254.0" r="2.35"/><circle cx="383.5" cy="281.4" r="2.35"/><circle cx="375.5" cy="288.1" r="2.35"/><circle cx="390.3" cy="313.3" r="2.35"/><circle cx="413.0" cy="164.2" r="2.35"/><circle cx="392.8" cy="239.4" r="2.35"/><circle cx="411.3" cy="237.8" r="2.35"/><circle cx="403.8" cy="175.6" r="2.35"/><circle cx="405.1" cy="235.5" r="2.35"/><circle cx="399.0" cy="177.2" r="2.35"/><circle cx="393.6" cy="272.9" r="2.35"/><circle cx="394.4" cy="201.5" r="2.35"/><circle cx="402.4" cy="229.2" r="2.35"/><circle cx="414.8" cy="248.8" r="2.35"/><circle cx="412.1" cy="197.3" r="2.35"/><circle cx="372.8" cy="312.4" r="2.35"/><circle cx="388.3" cy="203.1" r="2.35"/><circle cx="408.9" cy="254.8" r="2.35"/><circle cx="403.0" cy="266.8" r="2.35"/><circle cx="413.3" cy="188.8" r="2.35"/><circle cx="382.7" cy="230.2" r="2.35"/><circle cx="405.0" cy="173.4" r="2.35"/><circle cx="399.9" cy="168.1" r="2.35"/><circle cx="371.0" cy="274.4" r="2.35"/><circle cx="400.4" cy="266.4" r="2.35"/><circle cx="389.2" cy="239.6" r="2.35"/><circle cx="414.2" cy="192.9" r="2.35"/><circle cx="392.4" cy="200.8" r="2.35"/><circle cx="416.9" cy="220.3" r="2.35"/><circle cx="386.2" cy="251.9" r="2.35"/><circle cx="392.6" cy="220.3" r="2.35"/><circle cx="371.7" cy="309.3" r="2.35"/><circle cx="401.3" cy="240.7" r="2.35"/><circle cx="409.0" cy="208.0" r="2.35"/><circle cx="414.7" cy="168.8" r="2.35"/><circle cx="379.1" cy="271.9" r="2.35"/><circle cx="388.2" cy="283.1" r="2.35"/><circle cx="410.5" cy="255.5" r="2.35"/><circle cx="416.4" cy="209.0" r="2.35"/><circle cx="385.7" cy="225.7" r="2.35"/><circle cx="381.3" cy="219.0" r="2.35"/><circle cx="388.7" cy="219.3" r="2.35"/><circle cx="390.6" cy="223.6" r="2.35"/><circle cx="377.9" cy="254.6" r="2.35"/><circle cx="416.0" cy="250.5" r="2.35"/><circle cx="376.7" cy="288.9" r="2.35"/><circle cx="421.4" cy="204.9" r="2.35"/><circle cx="400.0" cy="255.2" r="2.35"/><circle cx="416.5" cy="166.6" r="2.35"/><circle cx="400.2" cy="294.0" r="2.35"/><circle cx="370.9" cy="266.9" r="2.35"/><circle cx="374.7" cy="286.6" r="2.35"/><circle cx="406.7" cy="198.6" r="2.35"/><circle cx="379.5" cy="290.0" r="2.35"/><circle cx="398.6" cy="289.9" r="2.35"/><circle cx="390.5" cy="214.8" r="2.35"/><circle cx="396.8" cy="249.9" r="2.35"/><circle cx="398.7" cy="280.3" r="2.35"/><circle cx="416.4" cy="229.5" r="2.35"/><circle cx="392.2" cy="181.1" r="2.35"/><circle cx="389.3" cy="184.9" r="2.35"/><circle cx="378.5" cy="230.1" r="2.35"/><circle cx="372.8" cy="269.4" r="2.35"/><circle cx="414.7" cy="186.9" r="2.35"/><circle cx="380.5" cy="281.6" r="2.35"/><circle cx="141.7" cy="523.8" r="2.35"/><circle cx="145.0" cy="521.5" r="2.35"/><circle cx="150.3" cy="516.9" r="2.35"/><circle cx="153.6" cy="514.4" r="2.35"/><circle cx="158.4" cy="510.5" r="2.35"/><circle cx="161.4" cy="507.8" r="2.35"/><circle cx="167.0" cy="503.8" r="2.35"/><circle cx="170.3" cy="500.1" r="2.35"/><circle cx="174.6" cy="497.3" r="2.35"/><circle cx="179.4" cy="495.4" r="2.35"/><circle cx="184.5" cy="491.3" r="2.35"/><circle cx="189.1" cy="488.9" r="2.35"/><circle cx="192.9" cy="486.1" r="2.35"/><circle cx="197.4" cy="482.6" r="2.35"/><circle cx="201.3" cy="479.2" r="2.35"/><circle cx="205.7" cy="476.8" r="2.35"/><circle cx="210.0" cy="473.7" r="2.35"/><circle cx="214.2" cy="470.9" r="2.35"/><circle cx="219.2" cy="466.1" r="2.35"/><circle cx="222.7" cy="463.7" r="2.35"/><circle cx="228.6" cy="459.4" r="2.35"/><circle cx="233.5" cy="455.8" r="2.35"/><circle cx="239.8" cy="451.4" r="2.35"/><circle cx="242.3" cy="449.5" r="2.35"/><circle cx="246.8" cy="446.7" r="2.35"/><circle cx="250.2" cy="441.4" r="2.35"/><circle cx="253.2" cy="438.2" r="2.35"/><circle cx="256.3" cy="433.8" r="2.35"/><circle cx="261.2" cy="428.9" r="2.35"/><circle cx="265.9" cy="424.8" r="2.35"/><circle cx="270.7" cy="422.6" r="2.35"/><circle cx="274.3" cy="419.0" r="2.35"/><circle cx="277.9" cy="416.5" r="2.35"/><circle cx="282.3" cy="414.0" r="2.35"/><circle cx="286.7" cy="409.8" r="2.35"/><circle cx="292.1" cy="408.0" r="2.35"/><circle cx="295.8" cy="404.7" r="2.35"/><circle cx="388.9" cy="309.6" r="2.35"/><circle cx="379.1" cy="319.3" r="2.35"/><circle cx="399.6" cy="306.1" r="2.35"/><circle cx="393.1" cy="309.9" r="2.35"/><circle cx="373.6" cy="325.4" r="2.35"/><circle cx="368.6" cy="325.9" r="2.35"/><circle cx="374.0" cy="319.6" r="2.35"/><circle cx="394.9" cy="298.2" r="2.35"/><circle cx="384.7" cy="316.9" r="2.35"/><circle cx="382.5" cy="308.3" r="2.35"/><circle cx="373.8" cy="326.5" r="2.35"/><circle cx="403.5" cy="289.6" r="2.35"/><circle cx="381.4" cy="317.8" r="2.35"/><circle cx="389.1" cy="307.7" r="2.35"/><circle cx="378.5" cy="327.9" r="2.35"/><circle cx="379.9" cy="323.3" r="2.35"/><circle cx="379.3" cy="327.8" r="2.35"/><circle cx="390.9" cy="312.0" r="2.35"/><circle cx="372.0" cy="324.1" r="2.35"/><circle cx="393.1" cy="307.5" r="2.35"/><circle cx="403.0" cy="294.4" r="2.35"/><circle cx="392.2" cy="307.4" r="2.35"/><circle cx="400.1" cy="292.9" r="2.35"/><circle cx="381.5" cy="311.4" r="2.35"/><circle cx="381.0" cy="312.0" r="2.35"/><circle cx="376.4" cy="326.2" r="2.35"/><circle cx="390.2" cy="312.2" r="2.35"/><circle cx="403.1" cy="293.0" r="2.35"/><circle cx="401.6" cy="288.4" r="2.35"/><circle cx="405.1" cy="286.1" r="2.35"/><circle cx="404.2" cy="294.1" r="2.35"/><circle cx="383.2" cy="314.5" r="2.35"/><circle cx="376.0" cy="323.7" r="2.35"/><circle cx="391.5" cy="309.2" r="2.35"/><circle cx="396.9" cy="297.6" r="2.35"/><circle cx="376.8" cy="326.6" r="2.35"/><circle cx="402.8" cy="294.8" r="2.35"/><circle cx="380.2" cy="326.5" r="2.35"/><circle cx="395.1" cy="310.3" r="2.35"/><circle cx="389.3" cy="314.3" r="2.35"/><circle cx="445.0" cy="171.2" r="2.35"/><circle cx="461.8" cy="118.5" r="2.35"/><circle cx="454.6" cy="126.4" r="2.35"/><circle cx="446.3" cy="147.1" r="2.35"/><circle cx="465.4" cy="163.9" r="2.35"/><circle cx="445.0" cy="186.9" r="2.35"/><circle cx="453.1" cy="177.8" r="2.35"/><circle cx="455.8" cy="146.9" r="2.35"/><circle cx="448.7" cy="146.9" r="2.35"/><circle cx="455.4" cy="177.2" r="2.35"/><circle cx="440.7" cy="170.4" r="2.35"/><circle cx="451.5" cy="122.9" r="2.35"/><circle cx="443.1" cy="155.8" r="2.35"/><circle cx="444.8" cy="149.8" r="2.35"/><circle cx="457.2" cy="143.7" r="2.35"/><circle cx="440.5" cy="152.7" r="2.35"/><circle cx="442.8" cy="140.9" r="2.35"/><circle cx="469.5" cy="143.1" r="2.35"/><circle cx="458.4" cy="121.3" r="2.35"/><circle cx="450.5" cy="188.6" r="2.35"/><circle cx="443.1" cy="187.2" r="2.35"/><circle cx="449.1" cy="174.2" r="2.35"/><circle cx="457.2" cy="174.8" r="2.35"/><circle cx="443.4" cy="164.8" r="2.35"/><circle cx="456.4" cy="162.3" r="2.35"/><circle cx="448.6" cy="175.2" r="2.35"/><circle cx="447.9" cy="134.2" r="2.35"/><circle cx="441.7" cy="171.1" r="2.35"/><circle cx="455.5" cy="157.7" r="2.35"/><circle cx="437.3" cy="147.9" r="2.35"/><circle cx="445.4" cy="162.9" r="2.35"/><circle cx="438.7" cy="150.8" r="2.35"/><circle cx="448.8" cy="185.4" r="2.35"/><circle cx="454.1" cy="151.2" r="2.35"/><circle cx="459.5" cy="134.3" r="2.35"/><circle cx="437.0" cy="153.7" r="2.35"/><circle cx="445.0" cy="171.1" r="2.35"/><circle cx="465.8" cy="130.7" r="2.35"/><circle cx="456.6" cy="139.9" r="2.35"/><circle cx="444.5" cy="133.4" r="2.35"/><circle cx="443.1" cy="139.4" r="2.35"/><circle cx="457.0" cy="106.5" r="2.35"/><circle cx="463.2" cy="124.2" r="2.35"/><circle cx="452.8" cy="158.8" r="2.35"/><circle cx="447.6" cy="133.6" r="2.35"/><circle cx="451.2" cy="119.1" r="2.35"/><circle cx="466.3" cy="116.7" r="2.35"/><circle cx="464.9" cy="126.8" r="2.35"/><circle cx="446.6" cy="143.0" r="2.35"/><circle cx="448.6" cy="148.1" r="2.35"/><circle cx="437.5" cy="156.9" r="2.35"/><circle cx="440.5" cy="182.5" r="2.35"/><circle cx="447.3" cy="190.9" r="2.35"/><circle cx="455.1" cy="118.0" r="2.35"/><circle cx="466.5" cy="120.3" r="2.35"/><circle cx="452.8" cy="141.4" r="2.35"/><circle cx="448.1" cy="182.3" r="2.35"/><circle cx="443.5" cy="174.4" r="2.35"/><circle cx="451.4" cy="160.6" r="2.35"/><circle cx="457.8" cy="185.9" r="2.35"/><circle cx="467.5" cy="117.1" r="2.35"/><circle cx="440.8" cy="156.8" r="2.35"/><circle cx="464.5" cy="156.8" r="2.35"/><circle cx="446.5" cy="197.5" r="2.35"/><circle cx="461.5" cy="116.3" r="2.35"/><circle cx="450.9" cy="165.2" r="2.35"/><circle cx="446.2" cy="178.5" r="2.35"/><circle cx="471.0" cy="150.9" r="2.35"/><circle cx="445.4" cy="180.7" r="2.35"/><circle cx="447.6" cy="195.2" r="2.35"/><circle cx="355.6" cy="201.1" r="2.35"/><circle cx="357.1" cy="204.6" r="2.35"/><circle cx="357.0" cy="206.9" r="2.35"/><circle cx="357.7" cy="210.1" r="2.35"/><circle cx="356.6" cy="212.8" r="2.35"/><circle cx="354.8" cy="216.9" r="2.35"/><circle cx="354.1" cy="218.8" r="2.35"/><circle cx="387.1" cy="204.0" r="2.35"/><circle cx="389.2" cy="208.6" r="2.35"/><circle cx="389.2" cy="211.0" r="2.35"/><circle cx="390.6" cy="211.5" r="2.35"/><circle cx="392.7" cy="214.2" r="2.35"/><circle cx="394.5" cy="216.4" r="2.35"/><circle cx="393.0" cy="217.3" r="2.35"/><circle cx="391.8" cy="221.4" r="2.35"/><circle cx="391.3" cy="223.4" r="2.35"/><circle cx="390.6" cy="227.3" r="2.35"/><circle cx="390.2" cy="229.8" r="2.35"/><circle cx="388.5" cy="232.4" r="2.35"/><circle cx="386.0" cy="236.0" r="2.35"/><circle cx="385.6" cy="238.0" r="2.35"/><circle cx="384.3" cy="239.7" r="2.35"/><circle cx="381.4" cy="242.1" r="2.35"/><circle cx="379.7" cy="245.0" r="2.35"/><circle cx="379.3" cy="248.0" r="2.35"/><circle cx="381.2" cy="251.3" r="2.35"/><circle cx="381.7" cy="255.1" r="2.35"/><circle cx="383.4" cy="257.7" r="2.35"/><circle cx="382.6" cy="259.3" r="2.35"/><circle cx="381.5" cy="262.3" r="2.35"/><circle cx="380.2" cy="267.3" r="2.35"/><circle cx="380.5" cy="270.1" r="2.35"/><circle cx="379.1" cy="273.9" r="2.35"/><circle cx="377.6" cy="278.4" r="2.35"/><circle cx="375.9" cy="281.9" r="2.35"/><circle cx="375.7" cy="284.9" r="2.35"/><circle cx="372.5" cy="285.9" r="2.35"/><circle cx="371.0" cy="288.8" r="2.35"/><circle cx="371.6" cy="292.5" r="2.35"/><circle cx="370.2" cy="295.3" r="2.35"/><circle cx="371.6" cy="298.8" r="2.35"/><circle cx="372.9" cy="300.0" r="2.35"/><circle cx="390.8" cy="226.1" r="2.35"/><circle cx="392.0" cy="229.9" r="2.35"/><circle cx="394.2" cy="232.6" r="2.35"/><circle cx="394.9" cy="236.0" r="2.35"/><circle cx="394.1" cy="238.8" r="2.35"/><circle cx="394.3" cy="241.7" r="2.35"/><circle cx="393.7" cy="245.2" r="2.35"/><circle cx="390.8" cy="246.3" r="2.35"/><circle cx="388.4" cy="250.0" r="2.35"/><circle cx="389.2" cy="252.5" r="2.35"/><circle cx="388.0" cy="255.2" r="2.35"/><circle cx="388.0" cy="258.2" r="2.35"/><circle cx="388.4" cy="261.3" r="2.35"/><circle cx="389.6" cy="265.0" r="2.35"/><circle cx="388.7" cy="267.1" r="2.35"/><circle cx="387.7" cy="272.0" r="2.35"/><circle cx="387.0" cy="275.7" r="2.35"/><circle cx="388.0" cy="278.4" r="2.35"/><circle cx="390.3" cy="281.4" r="2.35"/><circle cx="387.4" cy="285.9" r="2.35"/><circle cx="387.3" cy="289.0" r="2.35"/><circle cx="385.9" cy="292.6" r="2.35"/><circle cx="384.6" cy="296.2" r="2.35"/><circle cx="406.9" cy="199.9" r="2.35"/><circle cx="408.6" cy="202.3" r="2.35"/><circle cx="409.7" cy="202.5" r="2.35"/><circle cx="413.0" cy="204.4" r="2.35"/><circle cx="414.8" cy="208.0" r="2.35"/><circle cx="418.4" cy="208.5" r="2.35"/><circle cx="418.8" cy="211.1" r="2.35"/><circle cx="421.8" cy="213.5" r="2.35"/><circle cx="421.5" cy="216.7" r="2.35"/><circle cx="422.4" cy="220.6" r="2.35"/><circle cx="423.7" cy="223.3" r="2.35"/><circle cx="423.9" cy="226.9" r="2.35"/><circle cx="422.0" cy="230.0" r="2.35"/><circle cx="421.7" cy="233.1" r="2.35"/><circle cx="420.4" cy="234.9" r="2.35"/><circle cx="420.6" cy="239.2" r="2.35"/><circle cx="420.1" cy="241.0" r="2.35"/><circle cx="420.4" cy="243.5" r="2.35"/><circle cx="421.5" cy="248.1" r="2.35"/><circle cx="422.5" cy="250.8" r="2.35"/><circle cx="421.1" cy="253.3" r="2.35"/><circle cx="418.7" cy="255.7" r="2.35"/><circle cx="416.6" cy="258.5" r="2.35"/><circle cx="415.7" cy="260.1" r="2.35"/><circle cx="415.1" cy="263.4" r="2.35"/><circle cx="397.4" cy="210.3" r="2.35"/><circle cx="399.2" cy="209.9" r="2.35"/><circle cx="400.6" cy="212.3" r="2.35"/><circle cx="404.1" cy="209.4" r="2.35"/><circle cx="404.9" cy="210.3" r="2.35"/><circle cx="406.0" cy="212.1" r="2.35"/><circle cx="407.7" cy="214.4" r="2.35"/><circle cx="408.4" cy="217.8" r="2.35"/><circle cx="406.6" cy="220.7" r="2.35"/><circle cx="411.9" cy="222.6" r="2.35"/><circle cx="412.0" cy="225.2" r="2.35"/><circle cx="412.9" cy="227.6" r="2.35"/><circle cx="410.8" cy="231.9" r="2.35"/><circle cx="409.5" cy="235.4" r="2.35"/><circle cx="409.4" cy="238.9" r="2.35"/><circle cx="406.9" cy="241.1" r="2.35"/><circle cx="469.3" cy="99.3" r="2.35"/><circle cx="472.1" cy="102.7" r="2.35"/><circle cx="473.6" cy="106.5" r="2.35"/><circle cx="470.4" cy="109.2" r="2.35"/><circle cx="469.6" cy="110.6" r="2.35"/><circle cx="468.7" cy="114.0" r="2.35"/><circle cx="466.8" cy="117.3" r="2.35"/><circle cx="465.2" cy="119.3" r="2.35"/><circle cx="463.6" cy="120.2" r="2.35"/><circle cx="462.0" cy="123.9" r="2.35"/><circle cx="460.6" cy="125.8" r="2.35"/><circle cx="458.2" cy="126.5" r="2.35"/><circle cx="456.6" cy="129.3" r="2.35"/><circle cx="455.2" cy="131.7" r="2.35"/><circle cx="455.3" cy="114.8" r="2.35"/><circle cx="457.5" cy="118.3" r="2.35"/><circle cx="460.9" cy="121.2" r="2.35"/><circle cx="461.7" cy="123.3" r="2.35"/><circle cx="463.3" cy="125.5" r="2.35"/><circle cx="462.5" cy="126.1" r="2.35"/><circle cx="461.0" cy="129.3" r="2.35"/><circle cx="446.4" cy="144.9" r="2.35"/><circle cx="445.9" cy="146.6" r="2.35"/><circle cx="447.0" cy="151.2" r="2.35"/><circle cx="446.8" cy="153.7" r="2.35"/><circle cx="445.1" cy="155.6" r="2.35"/><circle cx="444.7" cy="158.3" r="2.35"/><circle cx="444.9" cy="161.9" r="2.35"/><circle cx="444.7" cy="165.0" r="2.35"/><circle cx="444.2" cy="166.4" r="2.35"/><circle cx="444.5" cy="170.9" r="2.35"/><circle cx="443.9" cy="172.2" r="2.35"/><circle cx="441.7" cy="175.7" r="2.35"/><circle cx="443.8" cy="179.1" r="2.35"/><circle cx="444.8" cy="179.1" r="2.35"/><circle cx="447.9" cy="183.0" r="2.35"/><circle cx="448.8" cy="184.6" r="2.35"/><circle cx="448.7" cy="188.4" r="2.35"/><circle cx="450.9" cy="191.8" r="2.35"/><circle cx="450.5" cy="196.2" r="2.35"/><circle cx="364.8" cy="290.1" r="2.35"/><circle cx="365.3" cy="292.5" r="2.35"/><circle cx="369.2" cy="295.0" r="2.35"/><circle cx="370.6" cy="296.7" r="2.35"/><circle cx="373.2" cy="296.1" r="2.35"/><circle cx="375.4" cy="294.6" r="2.35"/><circle cx="377.3" cy="294.1" r="2.35"/><circle cx="380.2" cy="291.3" r="2.35"/><circle cx="382.8" cy="289.8" r="2.35"/><circle cx="381.1" cy="287.3" r="2.35"/><circle cx="381.1" cy="284.6" r="2.35"/><circle cx="379.9" cy="280.2" r="2.35"/><circle cx="378.8" cy="278.3" r="2.35"/><circle cx="380.7" cy="275.4" r="2.35"/><circle cx="380.7" cy="272.7" r="2.35"/><circle cx="382.2" cy="269.6" r="2.35"/><circle cx="381.0" cy="266.6" r="2.35"/><circle cx="385.2" cy="264.5" r="2.35"/><circle cx="385.9" cy="262.2" r="2.35"/><circle cx="388.0" cy="260.0" r="2.35"/><circle cx="376.0" cy="272.5" r="2.35"/><circle cx="376.0" cy="274.6" r="2.35"/><circle cx="375.1" cy="278.0" r="2.35"/><circle cx="374.8" cy="281.7" r="2.35"/><circle cx="374.5" cy="284.6" r="2.35"/><circle cx="374.1" cy="286.9" r="2.35"/><circle cx="375.1" cy="290.5" r="2.35"/><circle cx="385.6" cy="271.8" r="2.35"/><circle cx="386.2" cy="273.6" r="2.35"/><circle cx="386.9" cy="274.5" r="2.35"/><circle cx="389.0" cy="277.6" r="2.35"/><circle cx="391.0" cy="274.3" r="2.35"/><circle cx="391.5" cy="271.7" r="2.35"/><circle cx="362.3" cy="329.2" r="2.35"/><circle cx="365.0" cy="326.9" r="2.35"/><circle cx="369.1" cy="322.8" r="2.35"/><circle cx="370.5" cy="320.8" r="2.35"/><circle cx="372.2" cy="320.2" r="2.35"/><circle cx="375.1" cy="317.3" r="2.35"/><circle cx="376.4" cy="316.8" r="2.35"/><circle cx="378.5" cy="313.9" r="2.35"/><circle cx="379.9" cy="313.2" r="2.35"/><circle cx="383.2" cy="312.4" r="2.35"/><circle cx="384.3" cy="308.8" r="2.35"/><circle cx="386.7" cy="306.3" r="2.35"/><circle cx="387.1" cy="303.2" r="2.35"/><circle cx="389.4" cy="301.8" r="2.35"/><circle cx="391.3" cy="299.9" r="2.35"/><circle cx="392.8" cy="297.5" r="2.35"/><circle cx="393.9" cy="295.2" r="2.35"/><circle cx="396.6" cy="214.0" r="2.35"/><circle cx="399.5" cy="218.3" r="2.35"/><circle cx="399.7" cy="220.5" r="2.35"/><circle cx="400.9" cy="225.2" r="2.35"/><circle cx="398.3" cy="229.2" r="2.35"/><circle cx="396.4" cy="229.1" r="2.35"/><circle cx="396.3" cy="235.2" r="2.35"/><circle cx="400.2" cy="117.8" r="2.35"/><circle cx="402.3" cy="114.5" r="2.35"/><circle cx="406.0" cy="114.5" r="2.35"/><circle cx="408.8" cy="113.8" r="2.35"/><circle cx="410.4" cy="115.0" r="2.35"/><circle cx="410.8" cy="112.5" r="2.35"/><circle cx="414.9" cy="112.0" r="2.35"/><circle cx="419.7" cy="110.8" r="2.35"/><circle cx="420.4" cy="111.4" r="2.35"/><circle cx="421.8" cy="110.3" r="2.35"/><circle cx="427.5" cy="111.0" r="2.35"/><circle cx="430.2" cy="111.2" r="2.35"/><circle cx="430.6" cy="110.6" r="2.35"/><circle cx="432.2" cy="110.1" r="2.35"/><circle cx="437.6" cy="113.9" r="2.35"/><circle cx="441.0" cy="113.4" r="2.35"/><circle cx="443.4" cy="113.1" r="2.35"/><circle cx="444.4" cy="114.7" r="2.35"/><circle cx="447.3" cy="111.8" r="2.35"/><circle cx="450.1" cy="114.8" r="2.35"/><circle cx="453.4" cy="113.6" r="2.35"/><circle cx="456.0" cy="112.4" r="2.35"/><circle cx="458.4" cy="113.5" r="2.35"/><circle cx="458.6" cy="114.7" r="2.35"/><circle cx="464.4" cy="113.8" r="2.35"/><circle cx="464.8" cy="113.6" r="2.35"/><circle cx="467.8" cy="110.5" r="2.35"/><circle cx="472.6" cy="112.8" r="2.35"/><circle cx="472.7" cy="111.6" r="2.35"/><circle cx="475.1" cy="113.0" r="2.35"/><circle cx="478.3" cy="112.6" r="2.35"/><circle cx="481.4" cy="111.3" r="2.35"/><circle cx="483.6" cy="109.0" r="2.35"/><circle cx="485.4" cy="109.4" r="2.35"/><circle cx="490.0" cy="110.5" r="2.35"/></g>
<path d="M113.0,560.0 L116.0,557.0 L127.0,546.0 L138.0,534.5 L146.0,528.0" fill="none" stroke="#00ff00" stroke-width="5" stroke-linejoin="round" stroke-linecap="round"/>
<path d="M143.1,533.1 L156.0,522.6 L169.0,513.1 L181.9,504.0 L194.8,495.0 L207.7,486.0 L220.6,475.6 L230.9,467.9 L241.3,461.4 L249.0,455.0 L259.3,442.6 L272.2,430.6 L285.1,422.7 L298.1,413.7 L306.5,405.6 L314.5,393.6 L320.5,386.1 L326.5,379.1 L331.5,373.6 L336.5,368.6 L344.5,363.4 L353.8,356.9 L363.1,350.7 L372.5,341.8 L381.9,333.8 L391.5,325.9 L401.5,315.6 L411.5,306.6" fill="none" stroke="#00ff00" stroke-width="5" stroke-linejoin="round" stroke-linecap="round"/>
<path d="M331.7,360.0 L334.0,345.0 L340.0,336.0 L345.0,326.0 L349.0,318.0 L355.0,314.0 L358.0,322.0 L362.0,330.0 L367.0,336.0 L360.0,345.0 L350.0,352.0 L340.0,358.0Z" fill="#00ff00" stroke="#00ff00" stroke-width="3" stroke-linejoin="round"/>
<path d="M437.6,107.0 L446.9,104.7 L456.3,102.9 L464.6,101.8" fill="none" stroke="#00ff00" stroke-width="5" stroke-linejoin="round" stroke-linecap="round"/>
<path d="M361.5,112.5 L366.8,112.5 L372.9,113.2 L379.0,113.2 L383.6,114.0" fill="none" stroke="#00ff00" stroke-width="4.5" stroke-linejoin="round" stroke-linecap="round"/>
<g fill="#00ff00"><circle cx="342.3" cy="281.1" r="2.35"/><circle cx="361.3" cy="247.0" r="2.35"/><circle cx="344.4" cy="297.7" r="2.35"/><circle cx="356.1" cy="207.7" r="2.35"/><circle cx="359.3" cy="180.7" r="2.35"/><circle cx="367.8" cy="207.0" r="2.35"/><circle cx="355.8" cy="188.2" r="2.35"/><circle cx="341.9" cy="301.8" r="2.35"/><circle cx="340.7" cy="319.6" r="2.35"/><circle cx="354.0" cy="258.8" r="2.35"/><circle cx="349.5" cy="247.9" r="2.35"/><circle cx="370.7" cy="207.5" r="2.35"/><circle cx="367.2" cy="203.2" r="2.35"/><circle cx="359.2" cy="287.6" r="2.35"/><circle cx="369.1" cy="202.0" r="2.35"/><circle cx="352.2" cy="228.6" r="2.35"/><circle cx="353.9" cy="231.9" r="2.35"/><circle cx="355.7" cy="249.0" r="2.35"/><circle cx="357.9" cy="290.5" r="2.35"/><circle cx="344.6" cy="268.0" r="2.35"/><circle cx="358.2" cy="270.2" r="2.35"/><circle cx="349.7" cy="319.5" r="2.35"/><circle cx="349.7" cy="266.1" r="2.35"/><circle cx="338.3" cy="301.2" r="2.35"/><circle cx="367.1" cy="230.1" r="2.35"/><circle cx="350.8" cy="209.5" r="2.35"/><circle cx="371.1" cy="195.7" r="2.35"/><circle cx="338.5" cy="299.8" r="2.35"/><circle cx="367.0" cy="247.7" r="2.35"/><circle cx="369.5" cy="177.9" r="2.35"/><circle cx="352.6" cy="197.1" r="2.35"/><circle cx="365.8" cy="247.0" r="2.35"/><circle cx="345.9" cy="324.6" r="2.35"/><circle cx="356.9" cy="287.4" r="2.35"/><circle cx="352.9" cy="263.5" r="2.35"/><circle cx="370.0" cy="219.3" r="2.35"/><circle cx="357.3" cy="214.1" r="2.35"/><circle cx="359.3" cy="211.1" r="2.35"/><circle cx="352.1" cy="324.6" r="2.35"/><circle cx="372.3" cy="191.1" r="2.35"/><circle cx="341.3" cy="309.8" r="2.35"/><circle cx="362.2" cy="189.9" r="2.35"/><circle cx="357.4" cy="221.9" r="2.35"/><circle cx="355.6" cy="205.0" r="2.35"/><circle cx="350.9" cy="284.4" r="2.35"/><circle cx="338.2" cy="293.1" r="2.35"/><circle cx="342.7" cy="284.6" r="2.35"/><circle cx="345.9" cy="282.2" r="2.35"/><circle cx="351.4" cy="219.5" r="2.35"/><circle cx="372.1" cy="217.2" r="2.35"/><circle cx="356.0" cy="258.4" r="2.35"/><circle cx="374.0" cy="185.4" r="2.35"/><circle cx="360.0" cy="251.7" r="2.35"/><circle cx="348.2" cy="282.7" r="2.35"/><circle cx="356.9" cy="260.2" r="2.35"/><circle cx="338.2" cy="301.3" r="2.35"/><circle cx="348.5" cy="330.2" r="2.35"/><circle cx="338.6" cy="301.3" r="2.35"/><circle cx="366.4" cy="242.0" r="2.35"/><circle cx="361.7" cy="241.1" r="2.35"/><circle cx="356.6" cy="232.5" r="2.35"/><circle cx="351.9" cy="205.9" r="2.35"/><circle cx="345.6" cy="283.4" r="2.35"/><circle cx="354.1" cy="207.7" r="2.35"/><circle cx="351.2" cy="248.2" r="2.35"/><circle cx="355.6" cy="285.5" r="2.35"/><circle cx="345.6" cy="317.8" r="2.35"/><circle cx="351.3" cy="268.9" r="2.35"/><circle cx="348.3" cy="219.9" r="2.35"/><circle cx="358.0" cy="182.3" r="2.35"/><circle cx="347.9" cy="322.2" r="2.35"/><circle cx="365.7" cy="244.3" r="2.35"/><circle cx="340.0" cy="324.2" r="2.35"/><circle cx="364.1" cy="202.8" r="2.35"/><circle cx="349.2" cy="273.3" r="2.35"/><circle cx="359.1" cy="272.0" r="2.35"/><circle cx="364.6" cy="295.9" r="2.35"/><circle cx="363.9" cy="279.9" r="2.35"/><circle cx="370.2" cy="294.4" r="2.35"/><circle cx="352.8" cy="267.8" r="2.35"/><circle cx="366.7" cy="292.3" r="2.35"/><circle cx="368.7" cy="298.1" r="2.35"/><circle cx="365.7" cy="291.6" r="2.35"/><circle cx="359.8" cy="294.5" r="2.35"/><circle cx="362.2" cy="280.5" r="2.35"/><circle cx="361.2" cy="297.9" r="2.35"/><circle cx="360.3" cy="298.7" r="2.35"/><circle cx="352.4" cy="263.4" r="2.35"/><circle cx="372.8" cy="299.1" r="2.35"/><circle cx="366.7" cy="299.0" r="2.35"/><circle cx="368.9" cy="295.4" r="2.35"/><circle cx="359.9" cy="283.4" r="2.35"/><circle cx="369.4" cy="298.1" r="2.35"/><circle cx="354.5" cy="268.5" r="2.35"/><circle cx="367.0" cy="263.3" r="2.35"/><circle cx="355.1" cy="289.5" r="2.35"/><circle cx="365.1" cy="297.1" r="2.35"/><circle cx="363.9" cy="285.9" r="2.35"/><circle cx="366.6" cy="269.2" r="2.35"/><circle cx="368.7" cy="300.8" r="2.35"/><circle cx="352.7" cy="304.4" r="2.35"/><circle cx="365.5" cy="303.1" r="2.35"/><circle cx="364.8" cy="275.8" r="2.35"/><circle cx="370.7" cy="296.0" r="2.35"/><circle cx="365.0" cy="272.1" r="2.35"/><circle cx="368.4" cy="296.8" r="2.35"/><circle cx="353.9" cy="301.8" r="2.35"/><circle cx="357.5" cy="279.1" r="2.35"/><circle cx="353.3" cy="305.1" r="2.35"/><circle cx="354.7" cy="305.4" r="2.35"/><circle cx="362.8" cy="267.7" r="2.35"/><circle cx="356.0" cy="261.2" r="2.35"/><circle cx="369.8" cy="297.8" r="2.35"/><circle cx="359.2" cy="269.7" r="2.35"/><circle cx="363.1" cy="290.5" r="2.35"/><circle cx="364.3" cy="297.5" r="2.35"/><circle cx="353.8" cy="269.4" r="2.35"/><circle cx="362.0" cy="299.2" r="2.35"/><circle cx="360.7" cy="297.1" r="2.35"/><circle cx="358.8" cy="278.2" r="2.35"/><circle cx="352.9" cy="264.6" r="2.35"/><circle cx="358.1" cy="268.7" r="2.35"/><circle cx="362.0" cy="273.1" r="2.35"/><circle cx="356.1" cy="296.0" r="2.35"/><circle cx="371.1" cy="299.2" r="2.35"/><circle cx="363.0" cy="270.1" r="2.35"/><circle cx="355.5" cy="304.4" r="2.35"/><circle cx="356.0" cy="264.8" r="2.35"/><circle cx="363.6" cy="299.1" r="2.35"/><circle cx="361.0" cy="294.1" r="2.35"/><circle cx="368.8" cy="293.0" r="2.35"/><circle cx="361.2" cy="264.3" r="2.35"/><circle cx="370.9" cy="295.8" r="2.35"/><circle cx="364.3" cy="283.5" r="2.35"/><circle cx="360.5" cy="274.1" r="2.35"/><circle cx="365.7" cy="264.5" r="2.35"/><circle cx="359.2" cy="284.5" r="2.35"/><circle cx="362.9" cy="286.6" r="2.35"/><circle cx="356.0" cy="274.0" r="2.35"/><circle cx="362.2" cy="264.6" r="2.35"/><circle cx="363.1" cy="268.3" r="2.35"/><circle cx="358.3" cy="260.4" r="2.35"/><circle cx="362.2" cy="264.3" r="2.35"/><circle cx="374.8" cy="298.8" r="2.35"/><circle cx="363.6" cy="273.1" r="2.35"/><circle cx="249.9" cy="153.5" r="2.35"/><circle cx="255.0" cy="148.5" r="2.35"/><circle cx="351.5" cy="339.1" r="2.35"/><circle cx="355.9" cy="340.2" r="2.35"/><circle cx="357.5" cy="336.2" r="2.35"/><circle cx="356.8" cy="336.8" r="2.35"/><circle cx="359.2" cy="332.0" r="2.35"/><circle cx="361.9" cy="331.0" r="2.35"/><circle cx="366.4" cy="329.1" r="2.35"/><circle cx="367.5" cy="328.7" r="2.35"/><circle cx="368.2" cy="325.8" r="2.35"/><circle cx="370.1" cy="323.1" r="2.35"/><circle cx="372.3" cy="321.4" r="2.35"/><circle cx="374.0" cy="323.2" r="2.35"/><circle cx="377.1" cy="320.4" r="2.35"/><circle cx="376.7" cy="318.4" r="2.35"/><circle cx="379.0" cy="318.1" r="2.35"/><circle cx="378.7" cy="316.5" r="2.35"/><circle cx="383.5" cy="312.6" r="2.35"/><circle cx="384.2" cy="311.0" r="2.35"/><circle cx="385.9" cy="311.0" r="2.35"/><circle cx="385.8" cy="306.9" r="2.35"/><circle cx="388.5" cy="306.1" r="2.35"/><circle cx="390.5" cy="303.5" r="2.35"/><circle cx="389.9" cy="301.9" r="2.35"/><circle cx="393.7" cy="298.1" r="2.35"/><circle cx="392.9" cy="299.5" r="2.35"/><circle cx="397.2" cy="295.3" r="2.35"/><circle cx="395.0" cy="291.6" r="2.35"/><circle cx="400.0" cy="293.2" r="2.35"/><circle cx="399.0" cy="290.4" r="2.35"/><circle cx="401.9" cy="287.4" r="2.35"/><circle cx="405.1" cy="285.7" r="2.35"/><circle cx="405.2" cy="283.8" r="2.35"/><circle cx="407.1" cy="279.3" r="2.35"/><circle cx="407.0" cy="276.9" r="2.35"/><circle cx="410.9" cy="277.2" r="2.35"/><circle cx="411.1" cy="271.7" r="2.35"/><circle cx="413.4" cy="271.1" r="2.35"/><circle cx="413.8" cy="269.9" r="2.35"/><circle cx="412.6" cy="269.0" r="2.35"/><circle cx="415.2" cy="263.3" r="2.35"/><circle cx="416.4" cy="262.1" r="2.35"/><circle cx="416.8" cy="258.1" r="2.35"/><circle cx="419.1" cy="258.8" r="2.35"/><circle cx="422.4" cy="253.7" r="2.35"/><circle cx="422.0" cy="253.5" r="2.35"/><circle cx="357.5" cy="319.2" r="2.35"/><circle cx="356.0" cy="316.4" r="2.35"/><circle cx="358.7" cy="319.7" r="2.35"/><circle cx="359.4" cy="317.7" r="2.35"/><circle cx="358.7" cy="320.3" r="2.35"/><circle cx="351.4" cy="316.6" r="2.35"/><circle cx="359.1" cy="318.0" r="2.35"/><circle cx="359.6" cy="317.1" r="2.35"/><circle cx="355.8" cy="312.7" r="2.35"/><circle cx="349.5" cy="324.7" r="2.35"/><circle cx="356.0" cy="317.8" r="2.35"/><circle cx="347.9" cy="320.3" r="2.35"/><circle cx="354.5" cy="319.4" r="2.35"/><circle cx="348.6" cy="324.8" r="2.35"/><circle cx="436.0" cy="166.6" r="2.35"/><circle cx="412.2" cy="251.6" r="2.35"/><circle cx="437.2" cy="135.2" r="2.35"/><circle cx="392.5" cy="279.7" r="2.35"/><circle cx="425.8" cy="200.1" r="2.35"/><circle cx="419.0" cy="228.2" r="2.35"/><circle cx="428.4" cy="183.7" r="2.35"/><circle cx="437.6" cy="202.2" r="2.35"/><circle cx="428.7" cy="167.3" r="2.35"/><circle cx="435.7" cy="138.4" r="2.35"/><circle cx="419.1" cy="260.8" r="2.35"/><circle cx="427.1" cy="213.2" r="2.35"/><circle cx="423.5" cy="241.1" r="2.35"/><circle cx="435.5" cy="168.2" r="2.35"/><circle cx="434.8" cy="165.6" r="2.35"/><circle cx="414.4" cy="242.6" r="2.35"/><circle cx="449.9" cy="105.5" r="2.35"/><circle cx="417.1" cy="245.6" r="2.35"/><circle cx="437.0" cy="129.9" r="2.35"/><circle cx="414.3" cy="267.8" r="2.35"/><circle cx="415.7" cy="264.8" r="2.35"/><circle cx="436.3" cy="137.2" r="2.35"/><circle cx="427.3" cy="249.0" r="2.35"/><circle cx="448.3" cy="118.3" r="2.35"/><circle cx="436.1" cy="161.8" r="2.35"/><circle cx="394.2" cy="279.9" r="2.35"/><circle cx="447.9" cy="121.2" r="2.35"/><circle cx="424.0" cy="255.6" r="2.35"/><circle cx="422.5" cy="222.2" r="2.35"/><circle cx="423.4" cy="223.3" r="2.35"/><circle cx="408.6" cy="268.7" r="2.35"/><circle cx="427.5" cy="232.2" r="2.35"/><circle cx="430.5" cy="216.6" r="2.35"/><circle cx="415.1" cy="254.9" r="2.35"/><circle cx="431.0" cy="143.6" r="2.35"/><circle cx="442.0" cy="108.0" r="2.35"/><circle cx="432.8" cy="159.2" r="2.35"/><circle cx="444.9" cy="123.8" r="2.35"/><circle cx="421.3" cy="257.0" r="2.35"/><circle cx="401.3" cy="282.8" r="2.35"/><circle cx="421.9" cy="235.3" r="2.35"/><circle cx="430.8" cy="143.7" r="2.35"/><circle cx="402.8" cy="266.8" r="2.35"/><circle cx="434.3" cy="164.6" r="2.35"/><circle cx="420.5" cy="242.1" r="2.35"/><circle cx="406.5" cy="255.9" r="2.35"/><circle cx="400.5" cy="275.9" r="2.35"/><circle cx="412.4" cy="261.6" r="2.35"/><circle cx="441.7" cy="170.8" r="2.35"/><circle cx="412.0" cy="266.6" r="2.35"/><circle cx="436.5" cy="146.4" r="2.35"/><circle cx="420.4" cy="248.6" r="2.35"/><circle cx="415.2" cy="237.1" r="2.35"/><circle cx="419.6" cy="249.2" r="2.35"/><circle cx="424.5" cy="189.7" r="2.35"/><circle cx="428.3" cy="145.2" r="2.35"/><circle cx="429.3" cy="197.4" r="2.35"/><circle cx="432.1" cy="231.2" r="2.35"/><circle cx="438.8" cy="198.2" r="2.35"/><circle cx="411.7" cy="255.4" r="2.35"/><circle cx="419.8" cy="261.9" r="2.35"/><circle cx="444.2" cy="117.5" r="2.35"/><circle cx="409.4" cy="248.8" r="2.35"/><circle cx="419.2" cy="244.4" r="2.35"/><circle cx="416.6" cy="258.7" r="2.35"/><circle cx="424.4" cy="201.5" r="2.35"/><circle cx="445.0" cy="116.1" r="2.35"/><circle cx="424.9" cy="232.8" r="2.35"/><circle cx="428.6" cy="232.6" r="2.35"/><circle cx="432.2" cy="215.1" r="2.35"/><circle cx="430.3" cy="170.7" r="2.35"/><circle cx="443.6" cy="106.1" r="2.35"/><circle cx="438.3" cy="153.7" r="2.35"/><circle cx="417.5" cy="268.7" r="2.35"/><circle cx="412.1" cy="267.7" r="2.35"/><circle cx="428.5" cy="240.1" r="2.35"/><circle cx="421.8" cy="256.0" r="2.35"/><circle cx="429.2" cy="168.3" r="2.35"/><circle cx="434.2" cy="221.4" r="2.35"/><circle cx="427.1" cy="244.8" r="2.35"/><circle cx="438.2" cy="202.9" r="2.35"/><circle cx="433.2" cy="214.9" r="2.35"/><circle cx="432.2" cy="204.6" r="2.35"/><circle cx="426.5" cy="215.7" r="2.35"/><circle cx="427.0" cy="216.0" r="2.35"/><circle cx="435.2" cy="214.8" r="2.35"/><circle cx="431.9" cy="225.9" r="2.35"/><circle cx="429.3" cy="202.0" r="2.35"/><circle cx="436.4" cy="220.7" r="2.35"/><circle cx="434.3" cy="221.9" r="2.35"/><circle cx="439.5" cy="212.8" r="2.35"/><circle cx="436.0" cy="213.0" r="2.35"/><circle cx="432.9" cy="223.3" r="2.35"/><circle cx="428.6" cy="203.0" r="2.35"/><circle cx="431.2" cy="225.3" r="2.35"/><circle cx="433.2" cy="215.8" r="2.35"/><circle cx="434.0" cy="206.4" r="2.35"/><circle cx="426.3" cy="211.4" r="2.35"/><circle cx="436.9" cy="206.9" r="2.35"/><circle cx="425.2" cy="203.5" r="2.35"/><circle cx="424.0" cy="209.7" r="2.35"/><circle cx="432.9" cy="228.9" r="2.35"/><circle cx="428.8" cy="213.0" r="2.35"/><circle cx="428.1" cy="210.7" r="2.35"/><circle cx="436.3" cy="219.3" r="2.35"/><circle cx="427.6" cy="203.8" r="2.35"/><circle cx="436.4" cy="224.9" r="2.35"/><circle cx="437.1" cy="208.4" r="2.35"/><circle cx="432.4" cy="232.4" r="2.35"/><circle cx="433.2" cy="233.3" r="2.35"/><circle cx="282.9" cy="117.0" r="2.35"/><circle cx="286.7" cy="116.6" r="2.35"/><circle cx="289.8" cy="116.3" r="2.35"/><circle cx="305.8" cy="110.2" r="2.35"/><circle cx="308.8" cy="111.7" r="2.35"/><circle cx="311.9" cy="114.0" r="2.35"/><circle cx="314.9" cy="114.8" r="2.35"/><circle cx="311.1" cy="121.6" r="2.35"/><circle cx="314.2" cy="121.6" r="2.35"/><circle cx="317.2" cy="122.4" r="2.35"/><circle cx="322.6" cy="119.3" r="2.35"/><circle cx="325.6" cy="117.0" r="2.35"/><circle cx="332.5" cy="117.8" r="2.35"/><circle cx="325.6" cy="130.8" r="2.35"/><circle cx="328.7" cy="143.0" r="2.35"/><circle cx="337.1" cy="126.2" r="2.35"/><circle cx="345.4" cy="130.8" r="2.35"/><circle cx="350.8" cy="139.9" r="2.35"/><circle cx="354.6" cy="150.6" r="2.35"/><circle cx="361.5" cy="160.5" r="2.35"/><circle cx="376.7" cy="124.7" r="2.35"/><circle cx="383.6" cy="130.0" r="2.35"/><circle cx="388.2" cy="146.0" r="2.35"/><circle cx="376.0" cy="159.8" r="2.35"/><circle cx="379.0" cy="165.1" r="2.35"/><circle cx="369.1" cy="171.2" r="2.35"/><circle cx="369.9" cy="173.5" r="2.35"/><circle cx="363.8" cy="181.1" r="2.35"/><circle cx="351.5" cy="187.2" r="2.35"/><circle cx="352.3" cy="191.8" r="2.35"/><circle cx="345.4" cy="197.1" r="2.35"/><circle cx="351.5" cy="199.4" r="2.35"/><circle cx="362.2" cy="190.3" r="2.35"/><circle cx="361.5" cy="193.3" r="2.35"/><circle cx="366.8" cy="196.4" r="2.35"/><circle cx="370.6" cy="200.2" r="2.35"/><circle cx="369.1" cy="206.3" r="2.35"/><circle cx="353.1" cy="210.9" r="2.35"/><circle cx="374.4" cy="191.0" r="2.35"/><circle cx="385.1" cy="188.0" r="2.35"/><circle cx="262.3" cy="158.2" r="2.35"/><circle cx="275.3" cy="165.1" r="2.35"/><circle cx="285.9" cy="188.8" r="2.35"/><circle cx="292.0" cy="186.5" r="2.35"/><circle cx="286.7" cy="194.1" r="2.35"/><circle cx="308.1" cy="210.1" r="2.35"/><circle cx="356.1" cy="149.8" r="2.35"/><circle cx="395.5" cy="117.4" r="2.35"/><circle cx="396.9" cy="125.8" r="2.35"/><circle cx="397.6" cy="132.9" r="2.35"/><circle cx="388.5" cy="146.3" r="2.35"/><circle cx="382.8" cy="130.1" r="2.35"/><circle cx="380.7" cy="112.5" r="2.35"/><circle cx="388.5" cy="113.2" r="2.35"/><circle cx="385.6" cy="116.7" r="2.35"/><circle cx="395.5" cy="186.4" r="2.35"/><circle cx="398.3" cy="193.5" r="2.35"/><circle cx="384.2" cy="187.8" r="2.35"/><circle cx="392.7" cy="185.0" r="2.35"/><circle cx="394.1" cy="201.9" r="2.35"/><circle cx="307.9" cy="210.6" r="2.35"/><circle cx="338.9" cy="230.3" r="2.35"/><circle cx="338.2" cy="244.4" r="2.35"/><circle cx="339.6" cy="249.3" r="2.35"/><circle cx="351.7" cy="200.0" r="2.35"/><circle cx="370.5" cy="200.6" r="2.35"/><circle cx="368.8" cy="205.9" r="2.35"/><circle cx="351.7" cy="211.7" r="2.35"/><circle cx="364.6" cy="214.7" r="2.35"/><circle cx="351.2" cy="218.2" r="2.35"/><circle cx="361.1" cy="220.5" r="2.35"/><circle cx="364.6" cy="221.7" r="2.35"/><circle cx="358.8" cy="228.2" r="2.35"/><circle cx="364.6" cy="228.2" r="2.35"/><circle cx="362.3" cy="231.7" r="2.35"/><circle cx="363.5" cy="236.4" r="2.35"/><circle cx="372.3" cy="239.9" r="2.35"/><circle cx="371.7" cy="235.2" r="2.35"/><circle cx="351.2" cy="234.0" r="2.35"/><circle cx="342.3" cy="238.7" r="2.35"/><circle cx="340.0" cy="248.1" r="2.35"/><circle cx="365.8" cy="246.9" r="2.35"/><circle cx="361.1" cy="250.5" r="2.35"/><circle cx="367.0" cy="250.5" r="2.35"/><circle cx="363.5" cy="255.2" r="2.35"/><circle cx="345.9" cy="254.0" r="2.35"/><circle cx="352.9" cy="256.3" r="2.35"/><circle cx="350.6" cy="265.7" r="2.35"/><circle cx="355.3" cy="261.0" r="2.35"/><circle cx="369.3" cy="262.2" r="2.35"/><circle cx="367.0" cy="268.1" r="2.35"/><circle cx="372.9" cy="271.6" r="2.35"/><circle cx="355.3" cy="270.4" r="2.35"/><circle cx="357.6" cy="275.1" r="2.35"/><circle cx="360.0" cy="282.2" r="2.35"/><circle cx="365.8" cy="282.2" r="2.35"/><circle cx="356.4" cy="289.2" r="2.35"/><circle cx="360.0" cy="293.9" r="2.35"/><circle cx="361.1" cy="298.6" r="2.35"/><circle cx="395.2" cy="201.8" r="2.35"/><circle cx="397.5" cy="207.0" r="2.35"/><circle cx="392.8" cy="217.6" r="2.35"/><circle cx="396.3" cy="225.2" r="2.35"/><circle cx="395.2" cy="228.2" r="2.35"/><circle cx="404.6" cy="228.2" r="2.35"/><circle cx="410.4" cy="229.3" r="2.35"/><circle cx="408.1" cy="234.0" r="2.35"/><circle cx="402.2" cy="237.6" r="2.35"/><circle cx="422.2" cy="239.9" r="2.35"/><circle cx="417.5" cy="244.6" r="2.35"/><circle cx="415.1" cy="250.5" r="2.35"/><circle cx="408.1" cy="251.6" r="2.35"/><circle cx="412.8" cy="254.0" r="2.35"/><circle cx="408.1" cy="257.5" r="2.35"/><circle cx="397.5" cy="254.0" r="2.35"/><circle cx="399.9" cy="252.8" r="2.35"/><circle cx="405.7" cy="265.7" r="2.35"/><circle cx="410.4" cy="265.7" r="2.35"/><circle cx="401.0" cy="270.4" r="2.35"/><circle cx="403.4" cy="275.1" r="2.35"/><circle cx="398.7" cy="282.2" r="2.35"/><circle cx="392.8" cy="270.4" r="2.35"/><circle cx="384.6" cy="286.9" r="2.35"/><circle cx="382.3" cy="292.7" r="2.35"/><circle cx="388.1" cy="291.5" r="2.35"/><circle cx="390.5" cy="296.2" r="2.35"/><circle cx="396.3" cy="293.9" r="2.35"/><circle cx="405.7" cy="270.4" r="2.35"/><circle cx="402.2" cy="279.8" r="2.35"/><circle cx="395.2" cy="284.5" r="2.35"/><circle cx="409.2" cy="261.0" r="2.35"/><circle cx="412.8" cy="261.0" r="2.35"/><circle cx="357.6" cy="268.1" r="2.35"/><circle cx="354.1" cy="265.7" r="2.35"/><circle cx="358.8" cy="272.8" r="2.35"/><circle cx="363.5" cy="275.1" r="2.35"/><circle cx="437.6" cy="104.7" r="2.35"/><circle cx="441.1" cy="107.0" r="2.35"/><circle cx="446.9" cy="105.9" r="2.35"/><circle cx="450.5" cy="103.5" r="2.35"/><circle cx="455.2" cy="102.3" r="2.35"/><circle cx="461.0" cy="102.3" r="2.35"/><circle cx="463.4" cy="101.2" r="2.35"/><circle cx="451.6" cy="108.2" r="2.35"/><circle cx="435.2" cy="110.6" r="2.35"/><circle cx="434.0" cy="115.3" r="2.35"/><circle cx="439.9" cy="117.6" r="2.35"/><circle cx="441.1" cy="121.1" r="2.35"/><circle cx="435.2" cy="123.5" r="2.35"/><circle cx="437.6" cy="127.0" r="2.35"/><circle cx="432.9" cy="129.3" r="2.35"/><circle cx="434.0" cy="132.9" r="2.35"/><circle cx="435.2" cy="138.7" r="2.35"/><circle cx="429.3" cy="141.1" r="2.35"/><circle cx="430.5" cy="144.6" r="2.35"/><circle cx="417.6" cy="141.1" r="2.35"/><circle cx="415.3" cy="144.6" r="2.35"/><circle cx="412.9" cy="150.5" r="2.35"/><circle cx="423.5" cy="149.3" r="2.35"/><circle cx="425.8" cy="154.0" r="2.35"/><circle cx="422.3" cy="156.3" r="2.35"/><circle cx="420.0" cy="163.4" r="2.35"/><circle cx="424.6" cy="163.4" r="2.35"/><circle cx="418.8" cy="170.4" r="2.35"/><circle cx="418.8" cy="177.5" r="2.35"/><circle cx="421.1" cy="181.0" r="2.35"/><circle cx="423.5" cy="190.4" r="2.35"/><circle cx="416.4" cy="191.5" r="2.35"/><circle cx="429.3" cy="195.1" r="2.35"/><circle cx="435.2" cy="186.9" r="2.35"/><circle cx="436.4" cy="182.2" r="2.35"/><circle cx="432.9" cy="179.8" r="2.35"/><circle cx="435.2" cy="175.1" r="2.35"/><circle cx="437.6" cy="170.4" r="2.35"/><circle cx="436.4" cy="165.7" r="2.35"/><circle cx="438.7" cy="161.0" r="2.35"/><circle cx="439.9" cy="156.3" r="2.35"/><circle cx="437.6" cy="154.0" r="2.35"/><circle cx="435.2" cy="151.6" r="2.35"/><circle cx="437.6" cy="148.1" r="2.35"/><circle cx="402.3" cy="136.4" r="2.35"/><circle cx="427.0" cy="128.2" r="2.35"/><circle cx="446.9" cy="175.1" r="2.35"/><circle cx="448.1" cy="182.2" r="2.35"/><circle cx="446.9" cy="191.5" r="2.35"/><circle cx="444.6" cy="197.4" r="2.35"/><circle cx="457.5" cy="104.7" r="2.35"/><circle cx="444.6" cy="107.0" r="2.35"/><circle cx="442.3" cy="103.5" r="2.35"/><circle cx="384.5" cy="285.8" r="2.35"/><circle cx="382.2" cy="292.9" r="2.35"/><circle cx="372.8" cy="306.9" r="2.35"/><circle cx="370.4" cy="310.5" r="2.35"/><circle cx="369.2" cy="319.9" r="2.35"/><circle cx="379.8" cy="304.6" r="2.35"/><circle cx="386.9" cy="298.7" r="2.35"/><circle cx="392.7" cy="271.7" r="2.35"/><circle cx="397.4" cy="283.5" r="2.35"/></g>
<path d="M141.6,528.5 L154.5,518.0 L167.5,508.5 L180.4,499.4 L193.3,490.4 L206.2,481.4 L219.1,471.0 L229.4,463.3 L239.8,456.8 L247.5,450.4 L257.8,438.0 L270.7,426.0 L283.6,418.1 L296.6,409.1 L305.0,401.0 L313.0,389.0 L319.0,381.5 L325.0,374.5 L330.0,369.0 L335.0,364.0 L343.0,358.8 L352.3,352.3 L361.6,346.1 L371.0,337.2 L380.4,329.2 L390.0,321.3 L400.0,311.0 L410.0,302.0" fill="none" stroke="#ff0000" stroke-width="8" stroke-linejoin="round" stroke-linecap="round"/>
<path d="M228.0,463.0 L238.0,460.0 L246.0,456.0 L251.0,450.0" fill="none" stroke="#ff0000" stroke-width="8" stroke-linejoin="round" stroke-linecap="round"/>
<path d="M460.0,172.0 L462.0,185.0 L461.0,195.0 L462.0,205.0 L461.0,219.0 L459.0,230.0 L452.0,240.0 L446.5,250.6 L441.3,259.0 L434.9,267.5 L432.8,275.9 L426.5,284.4 L420.0,294.6 L411.5,305.2 L402.2,318.1 L390.4,329.8 L380.4,338.5 L371.0,347.0 L363.0,354.0 L352.3,357.0 L351.7,350.0 L358.7,342.7 L365.0,336.5 L372.8,329.8 L385.7,315.7 L396.3,299.3 L403.0,289.0 L409.2,279.3 L414.0,271.0 L420.0,261.7 L426.0,252.0 L429.0,245.0 L433.0,238.0 L437.5,231.3 L440.5,219.1 L442.0,205.4 L444.0,195.0 L447.0,185.0 L448.0,172.0Z" fill="#ff0000" stroke="#ff0000" stroke-width="3" stroke-linejoin="round"/>
<g fill="#ff0000"><circle cx="450.6" cy="160.3" r="2.35"/><circle cx="443.7" cy="128.3" r="2.35"/><circle cx="446.3" cy="164.4" r="2.35"/><circle cx="444.0" cy="163.5" r="2.35"/><circle cx="457.9" cy="129.6" r="2.35"/><circle cx="454.5" cy="147.1" r="2.35"/><circle cx="451.1" cy="177.8" r="2.35"/><circle cx="465.4" cy="144.6" r="2.35"/><circle cx="445.4" cy="140.5" r="2.35"/><circle cx="449.9" cy="175.5" r="2.35"/><circle cx="445.7" cy="134.1" r="2.35"/><circle cx="455.8" cy="152.7" r="2.35"/><circle cx="449.6" cy="133.4" r="2.35"/><circle cx="445.9" cy="166.6" r="2.35"/><circle cx="459.7" cy="132.9" r="2.35"/><circle cx="457.3" cy="134.3" r="2.35"/><circle cx="441.1" cy="140.8" r="2.35"/><circle cx="449.0" cy="144.2" r="2.35"/><circle cx="457.5" cy="168.8" r="2.35"/><circle cx="448.3" cy="131.9" r="2.35"/><circle cx="456.8" cy="152.6" r="2.35"/><circle cx="458.2" cy="127.2" r="2.35"/><circle cx="445.2" cy="173.6" r="2.35"/><circle cx="456.2" cy="160.9" r="2.35"/><circle cx="442.6" cy="144.4" r="2.35"/><circle cx="452.3" cy="166.8" r="2.35"/><circle cx="452.0" cy="166.2" r="2.35"/><circle cx="455.2" cy="128.6" r="2.35"/><circle cx="443.2" cy="132.9" r="2.35"/><circle cx="449.1" cy="162.0" r="2.35"/><circle cx="463.1" cy="148.6" r="2.35"/><circle cx="453.4" cy="166.2" r="2.35"/><circle cx="447.5" cy="142.9" r="2.35"/><circle cx="456.5" cy="157.6" r="2.35"/><circle cx="443.7" cy="162.6" r="2.35"/><circle cx="458.7" cy="176.5" r="2.35"/><circle cx="460.7" cy="136.3" r="2.35"/><circle cx="460.7" cy="177.2" r="2.35"/><circle cx="450.1" cy="137.8" r="2.35"/><circle cx="443.4" cy="170.5" r="2.35"/><circle cx="441.3" cy="156.4" r="2.35"/><circle cx="445.6" cy="132.8" r="2.35"/><circle cx="462.2" cy="138.7" r="2.35"/><circle cx="445.0" cy="147.5" r="2.35"/><circle cx="458.8" cy="151.4" r="2.35"/><circle cx="463.2" cy="144.5" r="2.35"/><circle cx="454.1" cy="162.2" r="2.35"/><circle cx="452.5" cy="162.2" r="2.35"/><circle cx="452.6" cy="129.5" r="2.35"/><circle cx="443.3" cy="165.9" r="2.35"/><circle cx="460.1" cy="174.8" r="2.35"/><circle cx="458.6" cy="154.5" r="2.35"/><circle cx="444.5" cy="169.8" r="2.35"/><circle cx="443.2" cy="145.8" r="2.35"/><circle cx="443.8" cy="143.3" r="2.35"/><circle cx="448.3" cy="145.8" r="2.35"/><circle cx="459.2" cy="152.3" r="2.35"/><circle cx="446.6" cy="165.6" r="2.35"/><circle cx="459.8" cy="168.3" r="2.35"/><circle cx="440.9" cy="156.4" r="2.35"/><circle cx="464.2" cy="136.5" r="2.35"/><circle cx="445.5" cy="167.6" r="2.35"/><circle cx="449.8" cy="144.5" r="2.35"/><circle cx="462.1" cy="143.5" r="2.35"/><circle cx="445.4" cy="134.0" r="2.35"/><circle cx="449.3" cy="161.1" r="2.35"/><circle cx="449.9" cy="165.2" r="2.35"/><circle cx="456.9" cy="148.9" r="2.35"/><circle cx="453.5" cy="174.4" r="2.35"/><circle cx="447.5" cy="132.2" r="2.35"/><circle cx="440.9" cy="149.0" r="2.35"/><circle cx="448.0" cy="148.5" r="2.35"/><circle cx="450.3" cy="164.4" r="2.35"/><circle cx="448.1" cy="173.1" r="2.35"/><circle cx="455.6" cy="144.6" r="2.35"/><circle cx="461.0" cy="135.1" r="2.35"/><circle cx="456.3" cy="169.4" r="2.35"/><circle cx="454.6" cy="139.9" r="2.35"/><circle cx="442.6" cy="154.2" r="2.35"/><circle cx="445.1" cy="142.9" r="2.35"/><circle cx="454.6" cy="174.7" r="2.35"/><circle cx="458.2" cy="151.1" r="2.35"/><circle cx="463.2" cy="139.3" r="2.35"/><circle cx="450.5" cy="159.9" r="2.35"/><circle cx="455.0" cy="134.4" r="2.35"/><circle cx="451.1" cy="168.1" r="2.35"/><circle cx="446.5" cy="161.5" r="2.35"/><circle cx="458.5" cy="140.1" r="2.35"/><circle cx="453.3" cy="177.9" r="2.35"/><circle cx="448.4" cy="124.5" r="2.35"/><circle cx="451.0" cy="152.2" r="2.35"/><circle cx="451.9" cy="129.9" r="2.35"/><circle cx="451.9" cy="148.9" r="2.35"/><circle cx="452.9" cy="160.4" r="2.35"/><circle cx="459.6" cy="141.0" r="2.35"/><circle cx="471.7" cy="142.7" r="2.35"/><circle cx="476.7" cy="157.8" r="2.35"/><circle cx="480.9" cy="153.8" r="2.35"/><circle cx="472.2" cy="149.2" r="2.35"/><circle cx="488.5" cy="149.5" r="2.35"/><circle cx="486.6" cy="140.8" r="2.35"/><circle cx="470.2" cy="154.1" r="2.35"/><circle cx="488.5" cy="156.4" r="2.35"/><circle cx="471.8" cy="140.7" r="2.35"/><circle cx="477.8" cy="141.6" r="2.35"/><circle cx="476.8" cy="158.4" r="2.35"/><circle cx="473.7" cy="155.9" r="2.35"/><circle cx="486.2" cy="150.5" r="2.35"/><circle cx="482.7" cy="154.9" r="2.35"/></g>
<g fill="#ff0000"><circle cx="465.9" cy="228.2" r="2.35"/><circle cx="467.3" cy="233.8" r="2.35"/><circle cx="464.5" cy="240.8" r="2.35"/><circle cx="463.1" cy="246.5" r="2.35"/><circle cx="457.5" cy="253.5" r="2.35"/><circle cx="454.6" cy="259.2" r="2.35"/><circle cx="449.0" cy="263.4" r="2.35"/><circle cx="446.2" cy="267.6" r="2.35"/><circle cx="442.0" cy="271.8" r="2.35"/><circle cx="440.6" cy="274.6" r="2.35"/><circle cx="460.3" cy="236.6" r="2.35"/><circle cx="464.5" cy="230.3" r="2.35"/><circle cx="470.1" cy="222.5" r="2.35"/><circle cx="463.1" cy="222.5" r="2.35"/><circle cx="425.1" cy="201.9" r="2.35"/><circle cx="424.5" cy="201.8" r="2.35"/><circle cx="419.8" cy="228.2" r="2.35"/><circle cx="430.4" cy="225.8" r="2.35"/><circle cx="426.9" cy="237.6" r="2.35"/><circle cx="439.8" cy="204.7" r="2.35"/><circle cx="470.4" cy="143.4" r="2.35"/><circle cx="472.8" cy="142.3" r="2.35"/><circle cx="477.5" cy="143.4" r="2.35"/><circle cx="482.2" cy="144.6" r="2.35"/><circle cx="485.7" cy="142.3" r="2.35"/><circle cx="483.3" cy="135.2" r="2.35"/><circle cx="481.0" cy="139.9" r="2.35"/><circle cx="470.4" cy="151.6" r="2.35"/><circle cx="476.3" cy="157.5" r="2.35"/><circle cx="488.0" cy="154.0" r="2.35"/><circle cx="486.9" cy="155.2" r="2.35"/><circle cx="465.7" cy="163.4" r="2.35"/><circle cx="470.4" cy="164.6" r="2.35"/><circle cx="462.2" cy="154.0" r="2.35"/><circle cx="461.0" cy="170.4" r="2.35"/><circle cx="465.7" cy="179.8" r="2.35"/><circle cx="466.9" cy="177.5" r="2.35"/><circle cx="408.2" cy="179.8" r="2.35"/><circle cx="427.0" cy="183.3" r="2.35"/><circle cx="434.0" cy="175.1" r="2.35"/><circle cx="432.9" cy="165.7" r="2.35"/><circle cx="432.9" cy="157.5" r="2.35"/><circle cx="435.2" cy="150.5" r="2.35"/><circle cx="414.1" cy="197.4" r="2.35"/><circle cx="479.8" cy="142.3" r="2.35"/><circle cx="484.5" cy="144.6" r="2.35"/><circle cx="476.3" cy="144.6" r="2.35"/></g>
</g>
<g clip-path="url(#clipB)">
<path d="M1115.1,120.0 C1117.0,120.2 1125.0,119.5 1126.8,121.1 C1128.6,122.7 1126.4,127.1 1125.7,129.6 C1125.0,132.1 1122.8,133.1 1122.5,135.9 C1122.2,138.7 1123.8,142.6 1123.6,146.5 C1123.4,150.4 1122.0,155.3 1121.5,159.2 C1121.0,163.1 1119.9,165.8 1120.4,169.7 C1120.9,173.6 1124.4,178.9 1124.7,182.4 C1125.0,185.9 1123.0,186.7 1122.5,190.9 C1122.0,195.1 1122.0,203.4 1121.5,207.8 C1121.0,212.2 1120.6,214.1 1119.4,217.3 C1118.2,220.5 1115.2,223.4 1114.1,226.8 C1113.0,230.2 1113.4,235.0 1112.7,237.7 C1112.0,240.4 1111.8,240.3 1110.1,242.9 C1108.4,245.5 1105.1,249.8 1102.3,253.2 C1099.5,256.6 1095.4,260.4 1093.3,263.6 C1091.2,266.8 1090.3,269.6 1089.4,272.6 C1088.5,275.6 1088.4,279.1 1088.1,281.7 C1087.8,284.3 1088.5,286.0 1087.7,288.2 C1086.9,290.4 1085.3,292.3 1083.5,294.8 C1081.7,297.3 1079.0,300.4 1077.0,303.0 C1075.0,305.6 1074.0,306.9 1071.2,310.4 C1068.4,313.9 1063.5,319.7 1060.0,324.0 C1056.5,328.3 1052.5,333.0 1050.0,336.0 C1047.5,339.0 1047.2,339.6 1045.0,342.0 C1042.8,344.4 1039.4,348.0 1036.6,350.4 C1033.8,352.8 1031.3,354.0 1028.4,356.2 C1025.5,358.4 1022.8,362.4 1019.4,363.5 C1016.0,364.6 1011.5,361.5 1007.9,362.5 C1004.3,363.5 1001.4,366.7 998.0,369.3 C994.6,371.9 990.4,375.5 987.3,378.4 C984.1,381.3 982.8,383.2 979.1,386.6 C975.4,390.0 971.5,394.4 965.0,399.0 C958.5,403.6 949.2,408.9 940.0,414.5 C930.8,420.1 916.7,428.6 910.0,432.7 C903.3,436.8 906.7,434.8 900.0,439.2 C893.3,443.6 876.7,454.6 870.0,459.2 C863.3,463.8 865.0,463.4 860.0,466.6 C855.0,469.9 846.7,474.5 840.0,478.7 C833.3,482.9 826.7,487.0 820.0,491.6 C813.3,496.2 805.8,502.5 800.0,506.6 C794.2,510.7 789.2,513.4 785.0,516.0 C780.8,518.6 779.2,519.0 775.0,522.0 C770.8,525.0 764.2,530.6 760.0,534.0 C755.8,537.4 752.5,540.4 750.0,542.5 C747.5,544.6 745.8,545.8 745.0,546.5" fill="none" stroke="#000000" stroke-width="5.8" stroke-linejoin="round" stroke-linecap="round"/>
<path d="M1033.8,111.6 C1036.5,111.2 1046.9,109.0 1049.7,109.5 C1052.5,110.0 1049.5,113.0 1050.7,114.8 C1051.9,116.5 1054.2,118.1 1057.0,120.0 C1059.8,121.9 1064.6,124.1 1067.6,126.4 C1070.6,128.7 1073.9,130.5 1075.0,133.8 C1076.1,137.2 1072.4,143.0 1074.0,146.5 C1075.6,150.0 1082.4,151.7 1084.5,154.9 C1086.6,158.1 1086.4,162.5 1086.6,165.5 C1086.8,168.5 1085.1,170.1 1085.6,172.9 C1086.1,175.7 1089.6,179.8 1089.8,182.4 C1090.0,185.0 1087.3,185.2 1086.6,188.7 C1085.9,192.2 1084.5,199.3 1085.6,203.5 C1086.7,207.7 1092.1,211.3 1093.0,214.1 C1093.9,216.9 1089.9,218.3 1090.9,220.4 C1092.0,222.5 1096.8,224.9 1099.3,226.8 C1101.8,228.8 1104.2,229.8 1105.6,232.1 C1107.0,234.3 1107.9,238.5 1107.5,240.3 C1107.1,242.1 1103.2,241.8 1103.0,242.9 C1102.8,244.0 1105.6,244.9 1106.2,246.8 C1106.8,248.7 1107.2,251.7 1106.8,254.5 C1106.4,257.3 1104.8,260.8 1103.6,263.6 C1102.4,266.4 1101.8,268.9 1099.7,271.3 C1097.6,273.7 1093.5,275.9 1090.7,277.8 C1087.9,279.8 1084.7,281.3 1083.0,283.0 C1081.3,284.7 1081.6,286.6 1080.4,288.1 C1079.2,289.6 1077.0,289.9 1075.8,292.0 C1074.5,294.1 1074.4,298.0 1072.9,300.5 C1071.5,303.0 1069.2,304.9 1067.1,307.1 C1065.0,309.3 1063.0,311.8 1060.5,313.7 C1058.0,315.6 1054.3,316.6 1052.3,318.6 C1050.2,320.7 1050.2,323.4 1048.2,326.0 C1046.2,328.6 1042.6,332.0 1040.0,334.0 C1037.4,336.0 1034.6,336.9 1032.5,338.1 C1030.4,339.3 1029.1,339.9 1027.6,341.4 C1026.1,342.9 1025.2,344.9 1023.5,347.1 C1021.9,349.3 1020.2,352.0 1017.7,354.5 C1015.2,357.0 1012.0,359.0 1008.7,361.9 C1005.4,364.8 1001.6,368.8 998.0,372.0 C994.4,375.2 990.4,378.1 987.3,381.0 C984.1,383.9 982.8,385.7 979.1,389.4 C975.4,393.1 971.5,398.8 965.0,403.4 C958.5,408.0 949.2,412.1 940.0,417.3 C930.8,422.5 916.7,430.6 910.0,434.6 C903.3,438.6 906.7,436.9 900.0,441.5 C893.3,446.1 876.7,457.4 870.0,462.0 C863.3,466.6 865.0,466.1 860.0,469.4 C855.0,472.6 846.7,477.3 840.0,481.5 C833.3,485.7 826.7,489.8 820.0,494.4 C813.3,499.0 805.8,505.1 800.0,509.4 C794.2,513.7 789.2,517.2 785.0,520.0 C780.8,522.8 779.2,523.1 775.0,525.9 C770.8,528.7 763.3,534.6 760.0,537.0 C756.7,539.4 755.8,539.9 755.0,540.5" fill="none" stroke="#00ff00" stroke-width="5.8" stroke-linejoin="round" stroke-linecap="round"/>
<path d="M1163.7,138.0 C1163.3,139.8 1162.6,144.4 1161.6,148.6 C1160.5,152.8 1159.2,158.8 1157.4,163.4 C1155.7,168.0 1150.5,171.9 1151.1,176.1 C1151.7,180.3 1160.3,185.4 1160.8,188.4 C1161.3,191.4 1154.8,192.4 1154.1,194.1 C1153.4,195.8 1157.2,196.5 1156.8,198.6 C1156.4,200.7 1153.1,204.0 1151.5,206.5 C1149.9,209.0 1148.1,211.1 1147.1,213.6 C1146.1,216.1 1145.9,218.8 1145.3,221.5 C1144.7,224.2 1143.9,227.4 1143.5,229.5 C1143.1,231.6 1144.0,231.7 1143.0,233.9 C1142.0,236.1 1139.2,240.3 1137.2,242.9 C1135.2,245.5 1132.4,247.0 1130.7,249.4 C1129.0,251.8 1128.2,254.7 1126.9,257.1 C1125.6,259.5 1125.0,260.8 1123.0,263.6 C1121.0,266.4 1117.6,270.9 1115.2,273.9 C1112.8,276.9 1110.7,279.3 1108.8,281.7 C1106.9,284.1 1106.0,285.8 1104.1,288.2 C1102.2,290.6 1100.0,293.6 1097.5,296.4 C1095.0,299.1 1092.0,301.9 1089.3,304.7 C1086.6,307.4 1083.8,310.2 1081.1,312.9 C1078.4,315.6 1075.6,318.6 1072.9,321.1 C1070.2,323.6 1067.5,325.5 1064.7,327.7 C1062.0,329.9 1059.2,332.0 1056.4,334.2 C1053.7,336.4 1050.9,338.6 1048.2,340.8 C1045.5,343.0 1043.4,345.3 1040.0,347.4 C1036.6,349.5 1031.3,351.8 1027.6,353.5 C1023.9,355.2 1021.0,355.9 1017.7,357.5 C1014.4,359.1 1011.2,360.9 1007.9,363.0 C1004.6,365.1 1001.4,367.4 998.0,370.1 C994.6,372.8 990.4,376.3 987.3,379.2 C984.1,382.1 982.8,384.0 979.1,387.4 C975.4,390.8 971.5,395.1 965.0,399.8 C958.5,404.5 949.2,409.7 940.0,415.3 C930.8,420.9 916.7,429.4 910.0,433.5 C903.3,437.6 906.7,435.6 900.0,440.0 C893.3,444.4 876.7,455.4 870.0,460.0 C863.3,464.6 865.0,464.1 860.0,467.4 C855.0,470.6 846.7,475.3 840.0,479.5 C833.3,483.7 826.7,487.8 820.0,492.4 C813.3,497.0 805.8,503.4 800.0,507.4 C794.2,511.4 787.8,514.9 785.3,516.4" fill="none" stroke="#ff0000" stroke-width="5.8" stroke-linejoin="round" stroke-linecap="round"/>
<path d="M1119.4,145.4 C1120.8,146.5 1125.7,148.8 1127.8,151.8 C1129.9,154.8 1130.9,158.1 1132.1,163.4 C1133.3,168.7 1135.2,177.5 1135.2,183.5 C1135.2,189.5 1133.5,193.5 1132.1,199.3 C1130.7,205.1 1128.3,213.2 1126.8,218.3 C1125.3,223.4 1124.5,225.9 1123.0,230.0 C1121.5,234.1 1119.7,238.2 1117.8,242.9 C1115.9,247.6 1113.6,253.4 1111.4,258.4 C1109.2,263.3 1106.7,269.0 1104.9,272.6 C1103.1,276.2 1102.3,277.4 1100.8,280.0 C1099.3,282.6 1097.8,285.5 1095.9,288.2 C1094.0,290.9 1091.8,293.6 1089.3,296.4 C1086.8,299.1 1083.8,301.9 1081.1,304.7 C1078.4,307.4 1075.6,310.2 1072.9,312.9 C1070.2,315.6 1067.5,318.6 1064.7,321.1 C1062.0,323.6 1059.2,325.5 1056.4,327.7 C1053.7,329.9 1050.9,331.9 1048.2,334.2 C1045.5,336.5 1042.6,339.2 1040.0,341.6 C1037.4,344.0 1034.6,346.7 1032.5,348.8 C1030.4,350.9 1029.5,352.9 1027.6,354.5 C1025.7,356.1 1023.6,357.1 1021.0,358.6 C1018.4,360.1 1015.3,361.2 1012.0,363.5 C1008.7,365.8 1004.7,369.7 1001.3,372.6 C997.9,375.5 994.8,377.9 991.4,380.8 C988.0,383.7 985.2,386.2 980.8,390.0 C976.4,393.8 971.8,398.1 965.0,403.5 C958.2,408.9 949.2,416.2 940.0,422.5 C930.8,428.8 916.7,437.1 910.0,441.5 C903.3,445.9 906.7,444.2 900.0,448.9 C893.3,453.5 876.7,464.6 870.0,469.4 C863.3,474.2 865.0,474.2 860.0,477.6 C855.0,481.0 846.7,485.6 840.0,490.0 C833.3,494.4 826.7,499.1 820.0,504.0 C813.3,508.9 807.5,513.9 800.0,519.3 C792.5,524.7 783.3,530.4 775.0,536.5 C766.7,542.6 756.0,550.6 750.0,555.8 C744.0,561.0 743.1,562.4 738.7,567.5 C734.4,572.6 728.1,580.5 723.9,586.5 C719.7,592.5 715.8,597.9 713.3,603.4 C710.8,608.9 708.7,613.8 709.1,619.2 C709.5,624.7 712.0,631.0 715.5,636.1 C719.0,641.2 724.2,645.6 730.2,649.8 C736.2,654.0 742.6,657.5 751.4,661.4 C760.2,665.3 772.5,669.3 783.0,673.0 C793.5,676.7 804.1,680.4 814.7,683.6 C825.3,686.8 836.5,689.3 846.4,692.1 C856.2,694.9 866.4,697.9 873.8,700.5 C881.2,703.1 885.8,706.1 890.7,707.9 C895.6,709.7 901.3,710.6 903.4,711.1" fill="none" stroke="#0000ff" stroke-width="5.8" stroke-linejoin="round" stroke-linecap="round"/>
<path d="M1076.0,161.3 C1075.7,163.1 1074.0,167.9 1074.0,171.8 C1074.0,175.7 1076.2,179.2 1076.0,184.5 C1075.8,189.8 1074.3,197.5 1072.9,203.5 C1071.5,209.5 1068.6,216.0 1067.6,220.4 C1066.6,224.8 1067.7,227.1 1066.8,230.0 C1065.9,232.9 1063.5,234.5 1062.3,237.7 C1061.1,240.9 1060.6,245.3 1059.7,249.4 C1058.8,253.5 1057.9,257.2 1057.1,262.3 C1056.3,267.4 1055.9,274.3 1054.8,280.0 C1053.7,285.7 1052.1,290.9 1050.7,296.4 C1049.3,301.9 1048.2,308.1 1046.6,312.9 C1045.0,317.7 1042.7,321.8 1041.0,325.0 C1039.3,328.2 1038.0,329.6 1036.6,332.0 C1035.2,334.4 1033.9,337.2 1032.5,339.7 C1031.1,342.2 1029.8,344.5 1028.4,347.1 C1027.0,349.7 1026.0,352.6 1024.3,355.3 C1022.6,358.0 1020.8,360.6 1018.5,363.5 C1016.2,366.4 1013.0,369.7 1010.3,372.6 C1007.6,375.5 1004.8,377.9 1002.1,380.8 C999.4,383.7 1000.1,385.5 993.9,390.0 C987.7,394.5 974.0,401.3 965.0,407.9 C956.0,414.4 949.2,422.9 940.0,429.3 C930.8,435.8 916.7,442.4 910.0,446.6 C903.3,450.8 906.7,449.9 900.0,454.7 C893.3,459.5 876.7,470.6 870.0,475.6 C863.3,480.6 865.0,481.1 860.0,484.6 C855.0,488.1 846.7,492.2 840.0,496.6 C833.3,501.0 826.7,505.7 820.0,510.7 C813.3,515.7 807.5,521.1 800.0,526.7 C792.5,532.3 783.3,538.3 775.0,544.3 C766.7,550.2 755.4,558.2 750.0,562.4 C744.6,566.6 747.6,565.2 742.9,569.6 C738.2,574.0 727.4,582.6 721.8,588.6 C716.2,594.6 712.5,600.6 709.1,605.5 C705.8,610.4 703.3,613.4 701.7,618.1 C700.1,622.9 698.4,629.1 699.6,634.0 C700.8,638.9 704.7,643.7 709.1,647.7 C713.5,651.8 717.2,654.1 726.0,658.3 C734.8,662.5 750.6,668.8 761.9,673.0 C773.2,677.2 783.0,680.4 793.6,683.6 C804.2,686.8 814.7,689.3 825.3,692.1 C835.9,694.9 848.2,697.7 857.0,700.5 C865.8,703.3 872.1,706.9 878.1,709.0 C884.1,711.1 890.4,712.5 892.9,713.2" fill="none" stroke="#ff00ff" stroke-width="5.8" stroke-linejoin="round" stroke-linecap="round"/>
</g>
<g stroke="#333" stroke-width="1.6" fill="none" stroke-linecap="square">
<path d="M78.3,53.0 H602.8 V769.1 H78.3 Z"/>
<path d="M78.3,53.0 V769.1" stroke="#111"/>
<path d="M71.0,769.1 H78.3"/>
<path d="M71.0,657.2 H78.3"/>
<path d="M71.0,545.3 H78.3"/>
<path d="M71.0,433.4 H78.3"/>
<path d="M71.0,321.6 H78.3"/>
<path d="M71.0,209.7 H78.3"/>
<path d="M71.0,97.8 H78.3"/>
<path d="M78.3,769.1 V776.7"/>
<path d="M242.2,769.1 V776.7"/>
<path d="M406.1,769.1 V776.7"/>
<path d="M570.0,769.1 V776.7"/>
</g>
<g font-size="23" fill="#000" text-anchor="end">
<text x="59.3" y="779.4">0</text>
<text x="59.3" y="667.5">5</text>
<text x="59.3" y="555.6">10</text>
<text x="59.3" y="443.7">15</text>
<text x="59.3" y="331.9">20</text>
<text x="59.3" y="220.0">25</text>
<text x="59.3" y="108.1">30</text>
</g><g font-size="23" fill="#000" text-anchor="middle">
<text x="78.3" y="810.6">34</text>
<text x="242.2" y="810.6">34.5</text>
<text x="406.1" y="810.6">35</text>
<text x="570.0" y="810.6">35.5</text>
</g>
<text x="339.0" y="844.7" font-size="25" text-anchor="middle">Salinity</text>
<g stroke="#333" stroke-width="1.6" fill="none" stroke-linecap="square">
<path d="M687.2,53.1 H1335.6 V769.2 H687.2 Z"/>
<path d="M679.9,769.2 H687.2"/>
<path d="M679.9,657.3 H687.2"/>
<path d="M679.9,545.4 H687.2"/>
<path d="M679.9,433.5 H687.2"/>
<path d="M679.9,321.7 H687.2"/>
<path d="M679.9,209.8 H687.2"/>
<path d="M679.9,97.9 H687.2"/>
<path d="M687.2,769.2 V776.8"/>
<path d="M768.2,769.2 V776.8"/>
<path d="M849.3,769.2 V776.8"/>
<path d="M930.4,769.2 V776.8"/>
<path d="M1011.4,769.2 V776.8"/>
<path d="M1092.5,769.2 V776.8"/>
<path d="M1173.5,769.2 V776.8"/>
<path d="M1254.6,769.2 V776.8"/>
<path d="M1335.6,769.2 V776.8"/>
</g>
<g font-size="23" fill="#000" text-anchor="end">
<text x="668.2" y="779.5">0</text>
<text x="668.2" y="667.6">5</text>
<text x="668.2" y="555.7">10</text>
<text x="668.2" y="443.8">15</text>
<text x="668.2" y="332.0">20</text>
<text x="668.2" y="220.1">25</text>
<text x="668.2" y="108.2">30</text>
</g><g font-size="23" fill="#000" text-anchor="middle">
<text x="687.2" y="810.6">34</text>
<text x="768.2" y="810.6">34.2</text>
<text x="849.3" y="810.6">34.4</text>
<text x="930.4" y="810.6">34.6</text>
<text x="1011.4" y="810.6">34.8</text>
<text x="1092.5" y="810.6">35</text>
<text x="1173.5" y="810.6">35.2</text>
<text x="1254.6" y="810.6">35.4</text>
<text x="1335.6" y="810.6">35.6</text>
</g>
<text x="1009.9" y="844.7" font-size="25" text-anchor="middle">Salinity</text>
<g transform="translate(20.5,504.9) rotate(-90)"><text x="0" y="0" font-size="25" textLength="152.8" lengthAdjust="spacing">Temperature(</text><path d="M173.3,-12.3 A7.3,8.8 0 1 0 173.5,-4.9" fill="none" stroke="#000" stroke-width="1.35"/><path d="M173.1,-16.2 L173.3,-12" fill="none" stroke="#000" stroke-width="1.3"/><circle cx="157.3" cy="-16" r="1.8" fill="none" stroke="#000" stroke-width="1.1"/><text x="178" y="0" font-size="25">)</text></g>
<g transform="translate(628.0,504.9) rotate(-90)"><text x="0" y="0" font-size="25" textLength="152.8" lengthAdjust="spacing">Temperature(</text><path d="M173.3,-12.3 A7.3,8.8 0 1 0 173.5,-4.9" fill="none" stroke="#000" stroke-width="1.35"/><path d="M173.1,-16.2 L173.3,-12" fill="none" stroke="#000" stroke-width="1.3"/><circle cx="157.3" cy="-16" r="1.8" fill="none" stroke="#000" stroke-width="1.1"/><text x="178" y="0" font-size="25">)</text></g>
<text x="24" y="24" font-size="29" font-weight="bold">A</text>
<text x="641" y="24" font-size="29" font-weight="bold">B</text>
<rect x="118" y="576.1" width="340.6" height="130.7" fill="#fff" stroke="#1a1a1a" stroke-width="1.4"/>
<g font-size="23.2" fill="#000">
<text x="218.6" y="604.8" textLength="202.4" lengthAdjust="spacing">Inside ITE1 (P2-P4)</text>
<text x="218.6" y="635.3" textLength="202.4" lengthAdjust="spacing">Inside ITE2 (P5-P6)</text>
<text x="218.6" y="665.5" textLength="183" lengthAdjust="spacing">Outside both ITEs</text>
<text x="218.6" y="696" textLength="232.4" lengthAdjust="spacing">(P1-P2, P4-P5, P6-P7)</text>
</g>
<circle cx="169.6" cy="595.5" r="2.3" fill="#00ff00"/>
<circle cx="169.6" cy="625.4" r="2.3" fill="#ff0000"/>
<circle cx="169.6" cy="672.4" r="2.3" fill="#000"/>
<rect x="689.3" y="126.1" width="342" height="191.7" fill="#fff" stroke="#1a1a1a" stroke-width="1.4"/>
<g stroke-width="5.3">
<path d="M697.2,144.7 H783.4" stroke="#00ff00"/>
<path d="M697.2,175.4 H783.4" stroke="#ff0000"/>
<path d="M697.2,221.8 H783.4" stroke="#000"/>
<path d="M697.2,268.8 H783.4" stroke="#0000ff"/>
<path d="M697.2,298.7 H783.4" stroke="#ff00ff"/>
</g>
<g font-size="23.2" fill="#000">
<text x="789.5" y="154.2" textLength="202.4" lengthAdjust="spacing">Inside ITE1 (P2-P4)</text>
<text x="789.5" y="184.5" textLength="202.4" lengthAdjust="spacing">Inside ITE2 (P5-P6)</text>
<text x="789.5" y="214.6" textLength="183" lengthAdjust="spacing">Outside both ITEs</text>
<text x="789.5" y="245.2" textLength="232.4" lengthAdjust="spacing">(P1-P2, P4-P5, P6-P7)</text>
<text x="789.5" y="277.2" textLength="96.1" lengthAdjust="spacing">Region A</text>
<text x="789.5" y="307.2" textLength="95.8" lengthAdjust="spacing">Region B</text>
</g>
<rect x="968.9" y="373.6" width="31.7" height="25.1" rx="1.5" fill="none" stroke="#000" stroke-width="4.7"/>
<g font-size="28.5" fill="#000">
<text transform="translate(1008.6,399.9) scale(1,1.09)">STMW</text>
<text transform="translate(1165.8,217.6) scale(1,1.09)">NPTW</text>
<text transform="translate(720.8,633.2) scale(1,1.09)">NPIW</text>
</g>
<rect x="981.0" y="476.6" width="319.7" height="192.5" fill="#fff" stroke="#ff0000" stroke-width="1.3"/>
<g stroke="#ff0000" stroke-width="1.3">
<path d="M972.0,476.6 H981.0"/>
<path d="M972.0,508.7 H981.0"/>
<path d="M972.0,540.8 H981.0"/>
<path d="M972.0,572.9 H981.0"/>
<path d="M972.0,604.9 H981.0"/>
<path d="M972.0,637.0 H981.0"/>
<path d="M972.0,669.1 H981.0"/>
<path d="M981.0,669.1 V679.1"/>
<path d="M1060.9,669.1 V679.1"/>
<path d="M1140.8,669.1 V679.1"/>
<path d="M1220.8,669.1 V679.1"/>
<path d="M1300.7,669.1 V679.1"/>
</g>
<g font-size="23.5" fill="#ff0000" text-anchor="end">
<text x="960" y="487.0">32°N</text>
<text x="960" y="551.2">28°N</text>
<text x="960" y="615.3">24°N</text>
<text x="960" y="679.5">20°N</text>
</g><g font-size="23.5" fill="#ff0000" text-anchor="middle">
<text x="981.0" y="712.7">150°E</text>
<text x="1060.9" y="712.7">155°E</text>
<text x="1140.8" y="712.7">160°E</text>
<text x="1220.8" y="712.7">165°E</text>
<text x="1300.7" y="712.7">170°E</text>
</g>
<rect x="1077.1" y="548.7" width="159.6" height="47.9" fill="none" stroke="#0000ff" stroke-width="2.3"/>
<rect x="1077.1" y="509" width="159.6" height="39.7" fill="none" stroke="#ff00ff" stroke-width="2.3"/>
<path d="M1109.1,588.9 V556.9 H1215.8" fill="none" stroke="#000" stroke-width="2.8"/>
<circle cx="1109.1" cy="556.9" r="4.6" fill="#ff0000"/>
<circle cx="1131.2" cy="556.9" r="4.6" fill="#ff0000"/>
<circle cx="1162.2" cy="556.9" r="4.6" fill="#ff0000"/>
<circle cx="1188.1" cy="556.9" r="4.6" fill="#ff0000"/>
<circle cx="1215.8" cy="556.9" r="4.6" fill="#ff0000"/>
<circle cx="1109.1" cy="567.6" r="4.6" fill="#ff0000"/>
<circle cx="1109.1" cy="588.9" r="4.6" fill="#ff0000"/>
<text x="1050.5" y="536.3" font-size="29" fill="#ff00ff">B</text>
<text x="1050" y="583.5" font-size="29" fill="#0000ff">A</text>
<text x="1078.5" y="589.4" font-size="21.5" fill="#000">P1</text>
<text x="1203.6" y="584.3" font-size="21.5" fill="#000">P7</text>
</svg></body></html>
